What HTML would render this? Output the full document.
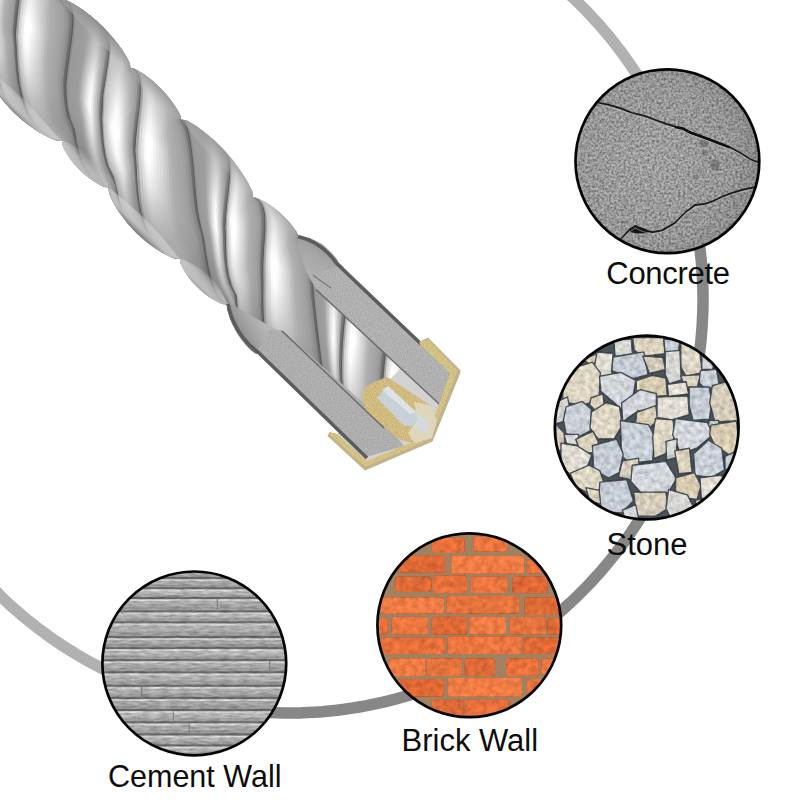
<!DOCTYPE html><html><head><meta charset="utf-8"><style>html,body{margin:0;padding:0;background:#fff;}svg{display:block;}text{font-family:"Liberation Sans",sans-serif;}</style></head><body>
<svg width="800" height="800" viewBox="0 0 800 800">
<rect width="800" height="800" fill="#fff"/>
<path d="M430.6,-90.0 L436.2,-87.9 L441.9,-85.7 L447.4,-83.5 L453.0,-81.1 L458.5,-78.7 L464.0,-76.2 L469.4,-73.6 L474.8,-71.0 L480.2,-68.2 L485.5,-65.4 L490.8,-62.5 L496.0,-59.5 L501.2,-56.5 L506.3,-53.4 L511.4,-50.2 L516.5,-46.9 L521.5,-43.5 L526.5,-40.1 L531.4,-36.6 L536.2,-33.1 L541.0,-29.4 L545.8,-25.7 L550.5,-22.0 L555.1,-18.1 L559.7,-14.2 L564.2,-10.3 L568.7,-6.2 L573.1,-2.1 L577.5,2.0 L581.7,6.3 L586.0,10.5 L590.1,14.9 L594.2,19.3 L598.3,23.8 L602.2,28.3 L606.1,32.9 L610.0,37.5 L613.7,42.2 L617.4,47.0 L621.1,51.8 L624.6,56.6 L628.1,61.5 L631.5,66.5 L634.9,71.5 L638.2,76.6 L641.4,81.7 L644.5,86.8 L647.5,92.0 L650.5,97.2 L653.4,102.5 L656.2,107.8 L659.0,113.2 L661.6,118.6 L664.2,124.0 L666.7,129.5 L669.1,135.0 L671.5,140.6 L673.7,146.1 L675.9,151.8 L678.0,157.4" fill="none" stroke="#b1b1b1" stroke-width="11.5"/>
<path d="M678.0,157.4 L680.5,164.4 L682.9,171.5 L685.1,178.6 L687.2,185.8 L689.2,193.0 L691.0,200.2 L692.8,207.5 L694.3,214.8 L695.8,222.1 L697.1,229.5 L698.3,236.9 L699.4,244.2 L700.3,251.7 L701.1,259.1 L701.7,266.5 L702.2,274.0 L702.6,281.4 L702.9,288.9 L703.0,296.4 L703.0,303.8 L702.8,311.3 L702.5,318.7 L702.1,326.2 L701.5,333.6 L700.9,341.1 L700.0,348.5 L699.1,355.9 L698.0,363.3 L696.8,370.7 L695.4,378.0 L693.9,385.3 L692.3,392.6 L690.5,399.9 L688.6,407.1 L686.6,414.3 L684.5,421.4 L682.2,428.5 L679.8,435.6 L677.3,442.6 L674.6,449.6 L671.9,456.5 L669.0,463.4 L665.9,470.2 L662.8,477.0 L659.5,483.7 L656.1,490.4 L652.6,497.0 L649.0,503.5 L645.2,510.0 L641.4,516.3 L637.4,522.7 L633.3,528.9 L629.1,535.1 L624.8,541.2 L620.4,547.2 L615.8,553.1 L611.2,559.0 L606.5,564.7 L601.6,570.4 L596.7,576.0 L591.6,581.5 L586.5,586.9 L581.2,592.3 L575.9,597.5 L570.5,602.6 L564.9,607.6 L559.3,612.6 L553.6,617.4 L547.9,622.1 L542.0,626.7 L536.0,631.2 L530.0,635.6 L523.9,639.9 L517.7,644.1 L511.4,648.2 L505.1,652.1 L498.7,656.0 L492.2,659.7 L485.7,663.3 L479.1,666.8 L472.4,670.1 L465.7,673.4 L458.9,676.5 L452.1,679.5 L445.2,682.4 L438.3,685.2 L431.3,687.8 L424.2,690.3 L417.2,692.7 L410.0,694.9 L402.9,697.0 L395.7,699.0 L388.5,700.9 L381.2,702.6 L373.9,704.2 L366.6,705.7 L359.2,707.0 L351.9,708.2 L344.5,709.3 L337.1,710.2 L329.6,711.0 L322.2,711.7 L314.8,712.2 L307.3,712.6 L299.8,712.9 L292.4,713.0 L284.9,713.0 L277.4,712.8 L270.0,712.6 L262.5,712.2 L255.1,711.6 L247.6,710.9 L240.2,710.1 L232.8,709.2 L225.4,708.1 L218.1,706.9 L210.7,705.5 L203.4,704.1 L196.1,702.4 L188.8,700.7" fill="none" stroke="#878787" stroke-width="11.5"/>
<path d="M188.8,700.7 L183.5,699.3 L178.1,697.9 L172.8,696.4 L167.5,694.8 L162.2,693.1 L157.0,691.4 L151.7,689.6 L146.5,687.7 L141.3,685.8 L136.1,683.7 L131.0,681.7 L125.9,679.5 L120.8,677.3 L115.8,675.0 L110.8,672.7 L105.8,670.3 L100.8,667.8 L95.9,665.2 L91.0,662.6 L86.2,659.9 L81.4,657.2 L76.6,654.4 L71.9,651.5 L67.2,648.6 L62.5,645.6 L57.9,642.5 L53.3,639.4 L48.8,636.2 L44.3,632.9 L39.8,629.6 L35.4,626.3 L31.1,622.8 L26.8,619.4 L22.5,615.8 L18.3,612.2 L14.1,608.6 L10.0,604.9 L5.9,601.1 L1.9,597.3 L-2.0,593.4 L-5.9,589.5 L-9.8,585.5 L-13.6,581.5 L-17.4,577.4 L-21.1,573.3 L-24.7,569.2 L-28.3,564.9 L-31.8,560.7 L-35.3,556.3 L-38.7,552.0 L-42.1,547.6 L-45.4,543.1 L-48.6,538.6 L-51.8,534.1 L-54.9,529.5 L-57.9,524.9 L-60.9,520.2 L-63.9,515.5 L-66.7,510.8 L-69.5,506.0" fill="none" stroke="#b1b1b1" stroke-width="11.5"/>
<g transform="translate(296,305.5) rotate(44)">
<g clip-path="url(#drillclip)">
<rect x="-700" y="-70" width="900" height="140" fill="#a0a0a0"/>
<path d="M-784.0 -85.0 -784.0 -60.0 -779.3 -59.3 -774.5 -57.1 -769.5 -53.5 -764.3 -48.5 -758.8 -42.4 -752.8 -35.3 -746.4 -27.2 -739.5 -18.5 -732.0 -9.4 -724.0 -0.0 -715.4 6.3 -706.3 12.4 -696.6 19.6 -686.4 27.7 -675.8 35.0 -664.7 41.2 -653.3 45.7 -641.7 47.9 -629.9 47.7 -618.0 44.3 -618.0 69.3 -613.3 67.1 -613.3 42.1 -625.2 46.5 -637.0 47.3 -648.6 45.5 -660.0 41.4 -671.1 35.5 -681.7 28.4 -691.9 20.5 -701.6 12.4 -710.7 6.3 -719.3 -0.0 -727.3 -9.4 -734.8 -18.5 -741.7 -27.2 -748.1 -35.3 -754.1 -42.4 -759.6 -48.5 -764.8 -53.5 -769.8 -57.1 -774.6 -59.3 -779.3 -60.0 -779.3 -85.0Z" fill="url(#dg1)"/>
<path d="M-780.7 -85.0 -780.7 -60.0 -776.0 -59.3 -771.2 -57.1 -766.2 -53.5 -761.0 -48.5 -755.5 -42.4 -749.5 -35.3 -743.1 -27.2 -736.2 -18.5 -728.7 -9.4 -720.7 -0.0 -712.1 6.3 -703.0 12.4 -693.3 20.3 -683.1 28.2 -672.5 35.4 -661.4 41.4 -650.0 45.6 -638.4 47.5 -626.6 46.9 -614.7 42.2 -614.7 67.2 -610.0 69.1 -610.0 44.1 -621.9 45.4 -633.7 46.7 -645.3 45.3 -656.7 41.5 -667.8 35.8 -678.4 28.8 -688.6 21.1 -698.3 13.0 -707.4 6.3 -716.0 -0.0 -724.0 -9.4 -731.5 -18.5 -738.4 -27.2 -744.8 -35.3 -750.8 -42.4 -756.3 -48.5 -761.5 -53.5 -766.5 -57.1 -771.3 -59.3 -776.0 -60.0 -776.0 -85.0Z" fill="url(#dg2)"/>
<path d="M-777.4 -85.0 -777.4 -60.0 -772.7 -59.3 -767.9 -57.1 -762.9 -53.5 -757.7 -48.5 -752.2 -42.4 -746.2 -35.3 -739.8 -27.2 -732.9 -18.5 -725.4 -9.4 -717.4 -0.0 -708.8 6.3 -699.7 12.6 -690.0 20.8 -679.8 28.6 -669.2 35.7 -658.1 41.4 -646.7 45.4 -635.1 47.0 -623.3 45.9 -611.4 43.4 -611.4 68.4 -606.7 70.5 -606.7 45.5 -618.6 44.1 -630.4 46.1 -642.0 45.0 -653.4 41.5 -664.5 36.0 -675.1 29.2 -685.3 21.5 -695.0 13.6 -704.1 6.3 -712.7 -0.0 -720.7 -9.4 -728.2 -18.5 -735.1 -27.2 -741.5 -35.3 -747.5 -42.4 -753.0 -48.5 -758.2 -53.5 -763.2 -57.1 -768.0 -59.3 -772.7 -60.0 -772.7 -85.0Z" fill="url(#dg3)"/>
<path d="M-774.1 -85.0 -774.1 -60.0 -769.4 -59.3 -764.6 -57.1 -759.6 -53.5 -754.4 -48.5 -748.9 -42.4 -742.9 -35.3 -736.5 -27.2 -729.6 -18.5 -722.1 -9.4 -714.1 -0.0 -705.5 6.3 -696.4 13.4 -686.7 21.3 -676.5 29.0 -665.9 35.9 -654.8 41.5 -643.4 45.1 -631.8 46.4 -620.0 44.7 -608.1 45.0 -608.1 70.0 -603.4 71.6 -603.4 46.6 -615.3 42.2 -627.1 45.3 -638.7 44.6 -650.1 41.4 -661.2 36.2 -671.8 29.5 -682.0 21.9 -691.7 14.0 -700.8 6.3 -709.4 -0.0 -717.4 -9.4 -724.9 -18.5 -731.8 -27.2 -738.2 -35.3 -744.2 -42.4 -749.7 -48.5 -754.9 -53.5 -759.9 -57.1 -764.7 -59.3 -769.4 -60.0 -769.4 -85.0Z" fill="url(#dg4)"/>
<path d="M-770.8 -85.0 -770.8 -60.0 -766.1 -59.3 -761.3 -57.1 -756.3 -53.5 -751.1 -48.5 -745.6 -42.4 -739.6 -35.3 -733.2 -27.2 -726.3 -18.5 -718.8 -9.4 -710.8 -0.0 -702.2 6.3 -693.1 13.8 -683.4 21.7 -673.2 29.3 -662.6 36.1 -651.5 41.4 -640.1 44.7 -628.5 45.6 -616.7 43.1 -604.8 46.1 -604.8 71.1 -600.1 72.5 -600.1 47.5 -612.0 42.5 -623.8 44.3 -635.4 44.1 -646.8 41.2 -657.9 36.2 -668.5 29.7 -678.7 22.2 -688.4 14.4 -697.5 6.7 -706.1 -0.0 -714.1 -9.4 -721.6 -18.5 -728.5 -27.2 -734.9 -35.3 -740.9 -42.4 -746.4 -48.5 -751.6 -53.5 -756.6 -57.1 -761.4 -59.3 -766.1 -60.0 -766.1 -85.0Z" fill="url(#dg5)"/>
<path d="M-767.5 -85.0 -767.5 -60.0 -762.8 -59.3 -758.0 -57.1 -753.0 -53.5 -747.8 -48.5 -742.3 -42.4 -736.3 -35.3 -729.9 -27.2 -723.0 -18.5 -715.5 -9.4 -707.5 -0.0 -698.9 6.5 -689.8 14.2 -680.1 22.1 -669.9 29.6 -659.3 36.2 -648.2 41.3 -636.8 44.3 -625.2 44.8 -613.4 41.5 -601.5 47.1 -601.5 72.1 -596.8 73.2 -596.8 48.2 -608.7 44.2 -620.5 43.2 -632.1 43.5 -643.5 41.0 -654.6 36.2 -665.2 29.9 -675.4 22.5 -685.1 14.7 -694.2 6.9 -702.8 -0.0 -710.8 -9.4 -718.3 -18.5 -725.2 -27.2 -731.6 -35.3 -737.6 -42.4 -743.1 -48.5 -748.3 -53.5 -753.3 -57.1 -758.1 -59.3 -762.8 -60.0 -762.8 -85.0Z" fill="url(#dg6)"/>
<path d="M-764.2 -85.0 -764.2 -60.0 -759.5 -59.3 -754.7 -57.1 -749.7 -53.5 -744.5 -48.5 -739.0 -42.4 -733.0 -35.3 -726.6 -27.2 -719.7 -18.5 -712.2 -9.4 -704.2 -0.0 -695.6 6.8 -686.5 14.5 -676.8 22.4 -666.6 29.8 -656.0 36.2 -644.9 41.1 -633.5 43.8 -621.9 43.7 -610.1 43.5 -598.2 47.9 -598.2 72.9 -593.5 73.8 -593.5 48.8 -605.4 45.4 -617.2 41.8 -628.8 42.8 -640.2 40.6 -651.3 36.2 -661.9 30.0 -672.1 22.7 -681.8 14.9 -690.9 7.1 -699.5 -0.0 -707.5 -9.4 -715.0 -18.5 -721.9 -27.2 -728.3 -35.3 -734.3 -42.4 -739.8 -48.5 -745.0 -53.5 -750.0 -57.1 -754.8 -59.3 -759.5 -60.0 -759.5 -85.0Z" fill="url(#dg7)"/>
<path d="M-760.9 -85.0 -760.9 -60.0 -756.2 -59.3 -751.4 -57.1 -746.4 -53.5 -741.2 -48.5 -735.7 -42.4 -729.7 -35.3 -723.3 -27.2 -716.4 -18.5 -708.9 -9.4 -700.9 -0.0 -692.3 7.0 -683.2 14.8 -673.5 22.6 -663.3 30.0 -652.7 36.2 -641.6 40.8 -630.2 43.1 -618.6 42.4 -606.8 44.9 -594.9 48.6 -594.9 73.6 -590.2 74.3 -590.2 49.3 -602.1 46.4 -613.9 39.3 -625.5 42.0 -636.9 40.2 -648.0 36.1 -658.6 30.1 -668.8 22.9 -678.5 15.1 -687.6 7.3 -696.2 -0.0 -704.2 -9.4 -711.7 -18.5 -718.6 -27.2 -725.0 -35.3 -731.0 -42.4 -736.5 -48.5 -741.7 -53.5 -746.7 -57.1 -751.5 -59.3 -756.2 -60.0 -756.2 -85.0Z" fill="url(#dg8)"/>
<path d="M-757.6 -85.0 -757.6 -60.0 -752.9 -59.3 -748.1 -57.1 -743.1 -53.5 -737.9 -48.5 -732.4 -42.4 -726.4 -35.3 -720.0 -27.2 -713.1 -18.5 -705.6 -9.4 -697.6 -0.0 -689.0 7.2 -679.9 15.0 -670.2 22.9 -660.0 30.1 -649.4 36.1 -638.3 40.4 -626.9 42.4 -615.3 40.6 -603.5 46.0 -591.6 49.1 -591.6 74.1 -586.9 74.6 -586.9 49.6 -598.8 47.2 -610.6 41.7 -622.2 41.1 -633.6 39.7 -644.7 35.9 -655.3 30.1 -665.5 23.1 -675.2 15.3 -684.3 7.5 -692.9 -0.0 -700.9 -9.4 -708.4 -18.5 -715.3 -27.2 -721.7 -35.3 -727.7 -42.4 -733.2 -48.5 -738.4 -53.5 -743.4 -57.1 -748.2 -59.3 -752.9 -60.0 -752.9 -85.0Z" fill="url(#dg9)"/>
<path d="M-754.3 -85.0 -754.3 -60.0 -749.6 -59.3 -744.8 -57.1 -739.8 -53.5 -734.6 -48.5 -729.1 -42.4 -723.1 -35.3 -716.7 -27.2 -709.8 -18.5 -702.3 -9.4 -694.3 -0.0 -685.7 7.4 -676.6 15.3 -666.9 23.0 -656.7 30.1 -646.1 36.0 -635.0 40.0 -623.6 41.5 -612.0 41.0 -600.2 46.8 -588.3 49.5 -588.3 74.5 -583.6 74.9 -583.6 49.9 -595.5 47.9 -607.3 43.0 -618.9 39.9 -630.3 39.2 -641.4 35.6 -652.0 30.1 -662.2 23.2 -671.9 15.5 -681.0 7.6 -689.6 -0.0 -697.6 -9.7 -705.1 -18.5 -712.0 -27.2 -718.4 -35.3 -724.4 -42.4 -729.9 -48.5 -735.1 -53.5 -740.1 -57.1 -744.9 -59.3 -749.6 -60.0 -749.6 -85.0Z" fill="url(#dg10)"/>
<path d="M-751.0 -85.0 -751.0 -60.0 -746.3 -59.3 -741.5 -57.1 -736.5 -53.5 -731.3 -48.5 -725.8 -42.4 -719.8 -35.3 -713.4 -27.2 -706.5 -18.5 -699.0 -9.6 -691.0 -0.0 -682.4 7.5 -673.3 15.4 -663.6 23.1 -653.4 30.1 -642.8 35.7 -631.7 39.4 -620.3 40.4 -608.7 42.5 -596.9 47.6 -585.0 49.8 -585.0 74.8 -580.3 75.0 -580.3 50.0 -592.2 48.4 -604.0 44.1 -615.6 38.3 -627.0 38.5 -638.1 35.3 -648.7 30.0 -658.9 23.3 -668.6 15.6 -677.7 7.7 -686.3 -0.0 -694.3 -9.9 -701.8 -18.5 -708.7 -27.2 -715.1 -35.3 -721.1 -42.4 -726.6 -48.5 -731.8 -53.5 -736.8 -57.1 -741.6 -59.3 -746.3 -60.0 -746.3 -85.0Z" fill="url(#dg11)"/>
<path d="M-747.7 -85.0 -747.7 -60.0 -743.0 -59.3 -738.2 -57.1 -733.2 -53.5 -728.0 -48.5 -722.5 -42.4 -716.5 -35.3 -710.1 -27.2 -703.2 -18.5 -695.7 -9.8 -687.7 -0.0 -679.1 7.6 -670.0 15.6 -660.3 23.2 -650.1 30.1 -639.5 35.4 -628.4 38.8 -617.0 39.1 -605.4 43.7 -593.6 48.2 -581.7 50.0 -581.7 75.0 -577.0 75.0 -577.0 50.0 -588.9 48.8 -600.7 45.0 -612.3 38.2 -623.7 37.7 -634.8 34.9 -645.4 29.9 -655.6 23.3 -665.3 15.7 -674.4 7.8 -683.0 -0.0 -691.0 -10.0 -698.5 -19.0 -705.4 -27.2 -711.8 -35.3 -717.8 -42.4 -723.3 -48.5 -728.5 -53.5 -733.5 -57.1 -738.3 -59.3 -743.0 -60.0 -743.0 -85.0Z" fill="url(#dg12)"/>
<path d="M-744.4 -85.0 -744.4 -60.0 -739.7 -59.3 -734.9 -57.1 -729.9 -53.5 -724.7 -48.5 -719.2 -42.4 -713.2 -35.3 -706.8 -27.2 -699.9 -18.6 -692.4 -10.0 -684.4 -0.0 -675.8 7.7 -666.7 15.7 -657.0 23.3 -646.8 29.9 -636.2 35.1 -625.1 38.0 -613.7 37.1 -602.1 44.6 -590.3 48.7 -578.4 50.0 -578.4 75.0 -573.7 74.9 -573.7 49.9 -585.6 49.1 -597.4 45.7 -609.0 39.7 -620.4 36.7 -631.5 34.4 -642.1 29.7 -652.3 23.2 -662.0 15.8 -671.1 7.9 -679.7 -0.0 -687.7 -10.2 -695.2 -19.4 -702.1 -27.2 -708.5 -35.3 -714.5 -42.4 -720.0 -48.5 -725.2 -53.5 -730.2 -57.1 -735.0 -59.3 -739.7 -60.0 -739.7 -85.0Z" fill="url(#dg13)"/>
<path d="M-741.1 -85.0 -741.1 -60.0 -736.4 -59.3 -731.6 -57.1 -726.6 -53.5 -721.4 -48.5 -715.9 -42.4 -709.9 -35.3 -703.5 -27.2 -696.6 -19.3 -689.1 -10.1 -681.1 -0.0 -672.5 7.8 -663.4 15.8 -653.7 23.3 -643.5 29.8 -632.9 34.6 -621.8 37.2 -610.4 39.1 -598.8 45.4 -587.0 49.0 -575.1 49.9 -575.1 74.9 -570.4 74.6 -570.4 49.6 -582.3 49.3 -594.1 46.3 -605.7 40.8 -617.1 35.5 -628.2 33.9 -638.8 29.4 -649.0 23.2 -658.7 15.8 -667.8 7.9 -676.4 -0.0 -684.4 -10.3 -691.9 -19.8 -698.8 -27.8 -705.2 -35.3 -711.2 -42.4 -716.7 -48.5 -721.9 -53.5 -726.9 -57.1 -731.7 -59.3 -736.4 -60.0 -736.4 -85.0Z" fill="url(#dg14)"/>
<path d="M-737.8 -85.0 -737.8 -60.0 -733.1 -59.3 -728.3 -57.1 -723.3 -53.5 -718.1 -48.5 -712.6 -42.4 -706.6 -35.3 -700.2 -27.2 -693.3 -19.6 -685.8 -10.2 -677.8 -0.0 -669.2 7.9 -660.1 15.8 -650.4 23.2 -640.2 29.5 -629.6 34.1 -618.5 36.1 -607.1 40.4 -595.5 46.1 -583.7 49.3 -571.8 49.8 -571.8 74.8 -567.1 74.3 -567.1 49.3 -579.0 49.4 -590.8 46.8 -602.4 41.7 -613.8 33.6 -624.9 33.2 -635.5 29.1 -645.7 23.1 -655.4 15.8 -664.5 8.0 -673.1 -0.0 -681.1 -10.4 -688.6 -20.0 -695.5 -28.5 -701.9 -35.3 -707.9 -42.4 -713.4 -48.5 -718.6 -53.5 -723.6 -57.1 -728.4 -59.3 -733.1 -60.0 -733.1 -85.0Z" fill="url(#dg15)"/>
<path d="M-734.5 -85.0 -734.5 -60.0 -729.8 -59.3 -725.0 -57.1 -720.0 -53.5 -714.8 -48.5 -709.3 -42.4 -703.3 -35.3 -696.9 -28.3 -690.0 -19.9 -682.5 -10.3 -674.5 -0.0 -665.9 7.9 -656.8 15.8 -647.1 23.1 -636.9 29.2 -626.3 33.5 -615.2 34.5 -603.8 41.4 -592.2 46.6 -580.4 49.4 -568.5 49.4 -568.5 74.4 -563.8 73.8 -563.8 48.8 -575.7 49.3 -587.5 47.2 -599.1 42.5 -610.5 35.5 -621.6 32.4 -632.2 28.7 -642.4 22.9 -652.1 15.8 -661.2 8.0 -669.8 -0.0 -677.8 -10.4 -685.3 -20.2 -692.2 -29.0 -698.6 -36.1 -704.6 -42.4 -710.1 -48.5 -715.3 -53.5 -720.3 -57.1 -725.1 -59.3 -729.8 -60.0 -729.8 -85.0Z" fill="url(#dg16)"/>
<path d="M-731.2 -85.0 -731.2 -60.0 -726.5 -59.3 -721.7 -57.1 -716.7 -53.5 -711.5 -48.5 -706.0 -42.4 -700.0 -35.3 -693.6 -28.8 -686.7 -20.1 -679.2 -10.4 -671.2 -0.0 -662.6 8.0 -653.5 15.8 -643.8 23.0 -633.6 28.9 -623.0 32.8 -611.9 34.9 -600.5 42.2 -588.9 47.0 -577.1 49.4 -565.2 49.0 -565.2 74.0 -560.5 73.2 -560.5 48.2 -572.4 49.2 -584.2 47.4 -595.8 43.1 -607.2 36.6 -618.3 31.4 -628.9 28.3 -639.1 22.7 -648.8 15.8 -657.9 8.0 -666.5 -0.0 -674.5 -10.5 -682.0 -20.4 -688.9 -29.4 -695.3 -36.9 -701.3 -42.4 -706.8 -48.5 -712.0 -53.5 -717.0 -57.1 -721.8 -59.3 -726.5 -60.0 -726.5 -85.0Z" fill="url(#dg17)"/>
<path d="M-727.9 -85.0 -727.9 -60.0 -723.2 -59.3 -718.4 -57.1 -713.4 -53.5 -708.2 -48.5 -702.7 -42.4 -696.7 -36.6 -690.3 -29.2 -683.4 -20.3 -675.9 -10.5 -667.9 -0.0 -659.3 8.0 -650.2 15.8 -640.5 22.8 -630.3 28.5 -619.7 31.9 -608.6 36.2 -597.2 42.9 -585.6 47.3 -573.8 49.3 -561.9 48.5 -561.9 73.5 -557.2 72.4 -557.2 47.4 -569.1 48.9 -580.9 47.5 -592.5 43.6 -603.9 37.5 -615.0 30.0 -625.6 27.7 -635.8 22.5 -645.5 15.7 -654.6 8.0 -663.2 -0.0 -671.2 -10.5 -678.7 -20.6 -685.6 -29.7 -692.0 -37.6 -698.0 -43.7 -703.5 -48.5 -708.7 -53.5 -713.7 -57.1 -718.5 -59.3 -723.2 -60.0 -723.2 -85.0Z" fill="url(#dg18)"/>
<path d="M-724.6 -85.0 -724.6 -60.0 -719.9 -59.3 -715.1 -57.1 -710.1 -53.5 -704.9 -48.5 -699.4 -43.0 -693.4 -37.3 -687.0 -29.6 -680.1 -20.5 -672.6 -10.5 -664.6 -0.0 -656.0 8.0 -646.9 15.7 -637.2 22.6 -627.0 28.0 -616.4 30.7 -605.3 37.2 -593.9 43.4 -582.3 47.5 -570.5 49.0 -558.6 47.8 -558.6 72.8 -553.9 71.5 -553.9 46.5 -565.8 48.5 -577.6 47.6 -589.2 44.0 -600.6 38.3 -611.7 30.6 -622.3 27.1 -632.5 22.2 -642.2 15.6 -651.3 8.0 -659.9 -0.0 -667.9 -10.6 -675.4 -20.7 -682.3 -30.0 -688.7 -38.0 -694.7 -44.6 -700.2 -48.5 -705.4 -53.5 -710.4 -57.1 -715.2 -59.3 -719.9 -60.0 -719.9 -85.0Z" fill="url(#dg19)"/>
<path d="M-721.3 -85.0 -721.3 -60.0 -716.6 -59.3 -711.8 -57.1 -706.8 -53.5 -701.6 -48.5 -696.1 -44.3 -690.1 -37.9 -683.7 -29.8 -676.8 -20.6 -669.3 -10.6 -661.3 -0.0 -652.7 8.0 -643.6 15.6 -633.9 22.3 -623.7 27.4 -613.1 29.9 -602.0 38.0 -590.6 43.9 -579.0 47.6 -567.2 48.7 -555.3 46.9 -555.3 71.9 -550.6 70.3 -550.6 45.3 -562.5 48.0 -574.3 47.5 -585.9 44.3 -597.3 38.9 -608.4 31.7 -619.0 26.3 -629.2 21.9 -638.9 15.5 -648.0 8.0 -656.6 -0.0 -664.6 -10.6 -672.1 -20.8 -679.0 -30.2 -685.4 -38.5 -691.4 -45.3 -696.9 -50.3 -702.1 -53.5 -707.1 -57.1 -711.9 -59.3 -716.6 -60.0 -716.6 -85.0Z" fill="url(#dg20)"/>
<path d="M-718.0 -85.0 -718.0 -60.0 -713.3 -59.3 -708.5 -57.1 -703.5 -53.5 -698.3 -49.8 -692.8 -45.0 -686.8 -38.3 -680.4 -30.1 -673.5 -20.7 -666.0 -10.6 -658.0 -0.0 -649.4 8.0 -640.3 15.5 -630.6 22.0 -620.4 26.7 -609.8 31.3 -598.7 38.7 -587.3 44.2 -575.7 47.5 -563.9 48.2 -552.0 45.8 -552.0 70.8 -547.7 68.8 -547.7 43.8 -559.6 47.4 -571.4 47.3 -583.0 44.5 -594.4 39.4 -605.5 32.5 -616.1 25.4 -626.3 21.5 -636.0 15.3 -645.1 7.9 -653.7 -0.0 -661.7 -10.6 -669.2 -20.8 -676.1 -30.3 -682.5 -38.8 -688.5 -45.8 -694.0 -51.2 -699.2 -54.3 -704.2 -57.1 -709.0 -59.3 -713.7 -60.0 -713.7 -85.0Z" fill="url(#dg1)"/>
<path d="M-715.1 -85.0 -715.1 -60.0 -710.4 -59.3 -705.6 -57.1 -700.6 -53.5 -695.4 -50.8 -689.9 -45.6 -683.9 -38.6 -677.5 -30.3 -670.6 -20.8 -663.1 -10.6 -655.1 -0.0 -646.5 8.0 -637.4 15.4 -627.7 21.7 -617.5 25.9 -606.9 32.1 -595.8 39.1 -584.4 44.4 -572.8 47.4 -561.0 47.7 -549.1 44.6 -549.1 69.6 -544.8 68.7 -544.8 43.7 -556.7 46.7 -568.5 47.0 -580.1 44.5 -591.5 39.7 -602.6 33.1 -613.2 24.8 -623.4 21.1 -633.1 15.1 -642.2 7.9 -650.8 -0.0 -658.8 -10.6 -666.3 -20.9 -673.2 -30.5 -679.6 -39.0 -685.6 -46.2 -691.1 -51.9 -696.3 -55.7 -701.3 -57.1 -706.1 -59.3 -710.8 -60.0 -710.8 -85.0Z" fill="url(#dg2)"/>
<path d="M-712.2 -85.0 -712.2 -60.0 -707.5 -59.3 -702.7 -57.1 -697.7 -55.1 -692.5 -51.6 -687.0 -46.0 -681.0 -38.9 -674.6 -30.4 -667.7 -20.9 -660.2 -10.6 -652.2 -0.0 -643.6 7.9 -634.5 15.2 -624.8 21.3 -614.6 24.7 -604.0 32.8 -592.9 39.6 -581.5 44.5 -569.9 47.2 -558.1 47.0 -546.2 42.5 -546.2 67.5 -541.9 70.6 -541.9 45.6 -553.8 45.9 -565.6 46.7 -577.2 44.5 -588.6 40.0 -599.7 33.6 -610.3 25.9 -620.5 20.6 -630.2 15.0 -639.3 7.8 -647.9 -0.0 -655.9 -10.6 -663.4 -20.9 -670.3 -30.6 -676.7 -39.2 -682.7 -46.6 -688.2 -52.5 -693.4 -56.6 -698.4 -58.5 -703.2 -59.3 -707.9 -60.0 -707.9 -85.0Z" fill="url(#dg3)"/>
<path d="M-709.3 -85.0 -709.3 -60.0 -704.6 -59.3 -699.8 -57.5 -694.8 -56.2 -689.6 -52.2 -684.1 -46.4 -678.1 -39.1 -671.7 -30.5 -664.8 -20.9 -657.3 -10.6 -649.3 -0.0 -640.7 7.9 -631.6 15.0 -621.9 20.9 -611.7 25.4 -601.1 33.4 -590.0 39.9 -578.6 44.6 -567.0 46.9 -555.2 46.3 -543.3 44.8 -543.3 69.8 -539.0 72.0 -539.0 47.0 -550.9 44.8 -562.7 46.2 -574.3 44.5 -585.7 40.2 -596.8 34.1 -607.4 26.6 -617.6 20.0 -627.3 14.7 -636.4 7.8 -645.0 -0.0 -653.0 -10.6 -660.5 -20.9 -667.4 -30.7 -673.8 -39.4 -679.8 -46.9 -685.3 -52.9 -690.5 -57.3 -695.5 -59.7 -700.3 -59.3 -705.0 -60.0 -705.0 -85.0Z" fill="url(#dg4)"/>
<path d="M-706.4 -85.0 -706.4 -60.0 -701.7 -59.3 -696.9 -59.2 -691.9 -56.9 -686.7 -52.7 -681.2 -46.8 -675.2 -39.3 -668.8 -30.6 -661.9 -20.9 -654.4 -10.6 -646.4 -0.0 -637.8 7.8 -628.7 14.8 -619.0 20.3 -608.8 26.3 -598.2 33.9 -587.1 40.1 -575.7 44.5 -564.1 46.5 -552.3 45.4 -540.4 46.3 -540.4 71.3 -536.1 73.1 -536.1 48.1 -548.0 43.5 -559.8 45.7 -571.4 44.3 -582.8 40.4 -593.9 34.5 -604.5 27.2 -614.7 19.1 -624.4 14.5 -633.5 7.7 -642.1 -0.0 -650.1 -10.5 -657.6 -20.9 -664.5 -30.7 -670.9 -39.6 -676.9 -47.2 -682.4 -53.4 -687.6 -57.9 -692.6 -60.6 -697.4 -61.3 -702.1 -60.0 -702.1 -85.0Z" fill="url(#dg5)"/>
<path d="M-703.5 -85.0 -703.5 -60.0 -698.8 -60.5 -694.0 -60.2 -689.0 -57.6 -683.8 -53.2 -678.3 -47.1 -672.3 -39.5 -665.9 -30.7 -659.0 -20.9 -651.5 -10.5 -643.5 -0.0 -634.9 7.7 -625.8 14.6 -616.1 19.6 -605.9 26.9 -595.3 34.3 -584.2 40.3 -572.8 44.4 -561.2 46.0 -549.4 44.2 -537.5 47.6 -537.5 72.6 -533.2 74.1 -533.2 49.1 -545.1 42.9 -556.9 45.0 -568.5 44.1 -579.9 40.5 -591.0 34.8 -601.6 27.7 -611.8 19.6 -621.5 14.2 -630.6 7.6 -639.2 -0.0 -647.2 -10.5 -654.7 -20.9 -661.6 -30.7 -668.0 -39.7 -674.0 -47.4 -679.5 -53.7 -684.7 -58.4 -689.7 -61.3 -694.5 -62.4 -699.2 -61.0 -699.2 -86.0Z" fill="url(#dg6)"/>
<path d="M-700.6 -85.0 -700.6 -60.0 -695.9 -61.9 -691.1 -61.0 -686.1 -58.2 -680.9 -53.6 -675.4 -47.3 -669.4 -39.6 -663.0 -30.7 -656.1 -20.9 -648.6 -10.5 -640.6 -0.0 -632.0 7.6 -622.9 14.3 -613.2 19.2 -603.0 27.4 -592.4 34.6 -581.3 40.4 -569.9 44.2 -558.3 45.3 -546.5 42.3 -534.6 48.6 -534.6 73.6 -530.3 74.9 -530.3 49.9 -542.2 44.9 -554.0 44.2 -565.6 43.7 -577.0 40.4 -588.1 35.0 -598.7 28.1 -608.9 20.3 -618.6 13.8 -627.7 7.5 -636.3 -0.0 -644.3 -10.4 -651.8 -20.8 -658.7 -30.7 -665.1 -39.8 -671.1 -47.6 -676.6 -54.0 -681.8 -58.9 -686.8 -62.0 -691.6 -63.2 -696.3 -62.5 -696.3 -87.5Z" fill="url(#dg7)"/>
<path d="M-697.7 -86.9 -697.7 -61.9 -693.0 -62.8 -688.2 -61.7 -683.2 -58.6 -678.0 -53.9 -672.5 -47.5 -666.5 -39.7 -660.1 -30.7 -653.2 -20.9 -645.7 -10.5 -637.7 -0.0 -629.1 7.5 -620.0 14.0 -610.3 20.0 -600.1 27.9 -589.5 34.9 -578.4 40.5 -567.0 43.9 -555.4 44.6 -543.6 44.1 -531.7 49.5 -531.7 74.5 -527.4 75.7 -527.4 50.7 -539.3 46.3 -551.1 43.3 -562.7 43.3 -574.1 40.4 -585.2 35.2 -595.8 28.4 -606.0 20.8 -615.7 13.3 -624.8 7.3 -633.4 -0.0 -641.4 -10.4 -648.9 -20.8 -655.8 -30.7 -662.2 -39.8 -668.2 -47.7 -673.7 -54.3 -678.9 -59.2 -683.9 -62.5 -688.7 -63.9 -693.4 -63.5 -693.4 -88.5Z" fill="url(#dg8)"/>
<path d="M-694.8 -88.0 -694.8 -63.0 -690.1 -63.6 -685.3 -62.2 -680.3 -59.1 -675.1 -54.2 -669.6 -47.7 -663.6 -39.8 -657.2 -30.7 -650.3 -20.8 -642.8 -10.4 -634.8 -0.0 -626.2 7.4 -617.1 13.6 -607.4 20.5 -597.2 28.3 -586.6 35.1 -575.5 40.4 -564.1 43.5 -552.5 43.7 -540.7 45.6 -528.8 50.3 -528.8 75.3 -524.5 76.4 -524.5 51.4 -536.4 47.4 -548.2 42.0 -559.8 42.8 -571.2 40.2 -582.3 35.3 -592.9 28.7 -603.1 21.2 -612.8 13.1 -621.9 7.2 -630.5 -0.0 -638.5 -10.3 -646.0 -20.7 -652.9 -30.6 -659.3 -39.8 -665.3 -47.8 -670.8 -54.5 -676.0 -59.6 -681.0 -62.9 -685.8 -64.5 -690.5 -64.3 -690.5 -89.3Z" fill="url(#dg9)"/>
<path d="M-691.9 -88.9 -691.9 -63.9 -687.2 -64.3 -682.4 -62.7 -677.4 -59.4 -672.2 -54.4 -666.7 -47.8 -660.7 -39.8 -654.3 -30.7 -647.4 -20.7 -639.9 -10.3 -631.9 -0.0 -623.3 7.3 -614.2 12.8 -604.5 21.0 -594.3 28.6 -583.7 35.3 -572.6 40.3 -561.2 43.1 -549.6 42.6 -537.8 46.9 -525.9 51.1 -525.9 76.1 -521.6 77.0 -521.6 52.0 -533.5 48.4 -545.3 41.1 -556.9 42.2 -568.3 40.0 -579.4 35.4 -590.0 29.0 -600.2 21.5 -609.9 13.7 -619.0 7.0 -627.6 -0.0 -635.6 -10.2 -643.1 -20.6 -650.0 -30.6 -656.4 -39.8 -662.4 -47.9 -667.9 -54.6 -673.1 -59.8 -678.1 -63.3 -682.9 -65.1 -687.6 -65.0 -687.6 -90.0Z" fill="url(#dg10)"/>
<path d="M-689.0 -89.7 -689.0 -64.7 -684.3 -64.8 -679.5 -63.2 -674.5 -59.7 -669.3 -54.6 -663.8 -47.9 -657.8 -39.8 -651.4 -30.6 -644.5 -20.6 -637.0 -10.3 -629.0 -0.0 -620.4 7.1 -611.3 13.4 -601.6 21.4 -591.4 28.9 -580.8 35.3 -569.7 40.1 -558.3 42.5 -546.7 41.0 -534.9 47.9 -523.0 51.7 -523.0 76.7 -518.7 77.5 -518.7 52.5 -530.6 49.2 -542.4 43.1 -554.0 41.4 -565.4 39.7 -576.5 35.3 -587.1 29.2 -597.3 21.8 -607.0 14.0 -616.1 6.8 -624.7 -0.0 -632.7 -10.1 -640.2 -20.4 -647.1 -30.4 -653.5 -39.7 -659.5 -47.9 -665.0 -54.7 -670.2 -60.0 -675.2 -63.7 -680.0 -65.5 -684.7 -65.6 -684.7 -90.6Z" fill="url(#dg11)"/>
<path d="M-686.1 -90.3 -686.1 -65.3 -681.4 -65.3 -676.6 -63.5 -671.6 -59.9 -666.4 -54.7 -660.9 -47.9 -654.9 -39.7 -648.5 -30.5 -641.6 -20.5 -634.1 -10.2 -626.1 -0.0 -617.5 6.9 -608.4 13.9 -598.7 21.7 -588.5 29.1 -577.9 35.4 -566.8 39.8 -555.4 41.8 -543.8 42.3 -532.0 48.8 -520.1 52.3 -520.1 77.3 -515.8 78.0 -515.8 53.0 -527.7 50.0 -539.5 44.5 -551.1 40.5 -562.5 39.3 -573.6 35.3 -584.2 29.3 -594.4 22.1 -604.1 14.3 -613.2 6.6 -621.8 -0.0 -629.8 -10.0 -637.3 -20.3 -644.2 -30.3 -650.6 -39.6 -656.6 -47.8 -662.1 -54.8 -667.3 -60.2 -672.3 -63.9 -677.1 -65.9 -681.8 -66.1 -681.8 -91.1Z" fill="url(#dg12)"/>
<path d="M-683.2 -90.8 -683.2 -65.8 -678.5 -65.7 -673.7 -63.8 -668.7 -60.1 -663.5 -54.8 -658.0 -47.9 -652.0 -39.6 -645.6 -30.4 -638.7 -20.4 -631.2 -10.1 -623.2 -0.0 -614.6 6.6 -605.5 14.2 -595.8 22.0 -585.6 29.2 -575.0 35.3 -563.9 39.5 -552.5 41.0 -540.9 43.8 -529.1 49.6 -517.2 52.7 -517.2 77.7 -512.9 78.3 -512.9 53.3 -524.8 50.7 -536.6 45.6 -548.2 39.3 -559.6 38.8 -570.7 35.1 -581.3 29.4 -591.5 22.3 -601.2 14.6 -610.3 6.9 -618.9 -0.0 -626.9 -9.9 -634.4 -20.1 -641.3 -30.1 -647.7 -39.4 -653.7 -47.8 -659.2 -54.8 -664.4 -60.3 -669.4 -64.1 -674.2 -66.2 -678.9 -66.5 -678.9 -91.5Z" fill="url(#dg13)"/>
<path d="M-680.3 -91.3 -680.3 -66.3 -675.6 -66.1 -670.8 -64.0 -665.8 -60.2 -660.6 -54.8 -655.1 -47.8 -649.1 -39.5 -642.7 -30.2 -635.8 -20.2 -628.3 -10.0 -620.3 -0.0 -611.7 6.8 -602.6 14.5 -592.9 22.2 -582.7 29.3 -572.1 35.2 -561.0 39.1 -549.6 40.0 -538.0 45.1 -526.2 50.4 -514.3 53.2 -514.3 78.2 -510.0 78.7 -510.0 53.7 -521.9 51.3 -533.7 46.5 -545.3 38.5 -556.7 38.3 -567.8 34.9 -578.4 29.4 -588.6 22.5 -598.3 14.8 -607.4 7.1 -616.0 -0.0 -624.0 -9.8 -631.5 -19.9 -638.4 -29.9 -644.8 -39.3 -650.8 -47.6 -656.3 -54.7 -661.5 -60.3 -666.5 -64.3 -671.3 -66.5 -676.0 -66.9 -676.0 -91.9Z" fill="url(#dg14)"/>
<path d="M-677.4 -91.7 -677.4 -66.7 -672.7 -66.4 -667.9 -64.2 -662.9 -60.3 -657.7 -54.8 -652.2 -47.7 -646.2 -39.4 -639.8 -30.0 -632.9 -20.0 -625.4 -9.8 -617.4 -0.0 -608.8 7.0 -599.7 14.7 -590.0 22.4 -579.8 29.4 -569.2 35.0 -558.1 38.5 -546.7 38.4 -535.1 46.1 -523.3 51.0 -511.4 53.5 -511.4 78.5 -507.1 78.9 -507.1 53.9 -519.0 51.8 -530.8 47.3 -542.4 40.4 -553.8 37.6 -564.9 34.6 -575.5 29.4 -585.7 22.6 -595.4 15.0 -604.5 7.2 -613.1 -0.0 -621.1 -9.6 -628.6 -19.7 -635.5 -29.7 -641.9 -39.0 -647.9 -47.5 -653.4 -54.6 -658.6 -60.3 -663.6 -64.4 -668.4 -66.7 -673.1 -67.1 -673.1 -92.1Z" fill="url(#dg15)"/>
<path d="M-674.5 -92.0 -674.5 -67.0 -669.8 -66.6 -665.0 -64.3 -660.0 -60.3 -654.8 -54.7 -649.3 -47.5 -643.3 -39.2 -636.9 -29.8 -630.0 -19.8 -622.5 -9.7 -614.5 -0.0 -605.9 7.2 -596.8 14.9 -587.1 22.5 -576.9 29.4 -566.3 34.8 -555.2 37.9 -543.8 39.6 -532.2 47.0 -520.4 51.6 -508.5 53.8 -508.5 78.8 -504.2 79.1 -504.2 54.1 -516.1 52.3 -527.9 48.1 -539.5 41.6 -550.9 36.7 -562.0 34.3 -572.6 29.3 -582.8 22.7 -592.5 15.1 -601.6 7.4 -610.2 -0.0 -618.2 -9.3 -625.7 -19.5 -632.6 -29.4 -639.0 -38.8 -645.0 -47.2 -650.5 -54.5 -655.7 -60.3 -660.7 -64.4 -665.5 -66.8 -670.2 -67.4 -670.2 -92.4Z" fill="url(#dg16)"/>
<path d="M-671.6 -92.3 -671.6 -67.3 -666.9 -66.7 -662.1 -64.4 -657.1 -60.3 -651.9 -54.6 -646.4 -47.4 -640.4 -38.9 -634.0 -29.5 -627.1 -19.6 -619.6 -9.5 -611.6 -0.0 -603.0 7.3 -593.9 15.1 -584.2 22.6 -574.0 29.3 -563.4 34.4 -552.3 37.2 -540.9 41.1 -529.3 47.7 -517.5 52.0 -505.6 54.0 -505.6 79.0 -501.3 79.2 -501.3 54.2 -513.2 52.6 -525.0 48.8 -536.6 42.7 -548.0 35.6 -559.1 33.8 -569.7 29.1 -579.9 22.7 -589.6 15.3 -598.7 7.5 -607.3 -0.0 -615.3 -9.5 -622.8 -19.2 -629.7 -29.1 -636.1 -38.5 -642.1 -47.0 -647.6 -54.3 -652.8 -60.1 -657.8 -64.4 -662.6 -66.9 -667.3 -67.6 -667.3 -92.6Z" fill="url(#dg17)"/>
<path d="M-668.7 -92.5 -668.7 -67.5 -664.0 -66.8 -659.2 -64.4 -654.2 -60.2 -649.0 -54.4 -643.5 -47.1 -637.5 -38.6 -631.1 -29.3 -624.2 -19.3 -616.7 -9.4 -608.7 -0.0 -600.1 7.4 -591.0 15.2 -581.3 22.7 -571.1 29.2 -560.5 34.1 -549.4 36.2 -538.0 42.2 -526.4 48.4 -514.6 52.5 -502.7 54.2 -502.7 79.2 -498.4 79.3 -498.4 54.3 -510.3 53.0 -522.1 49.3 -533.7 43.6 -545.1 35.1 -556.2 33.3 -566.8 28.9 -577.0 22.7 -586.7 15.3 -595.8 7.6 -604.4 -0.0 -612.4 -9.7 -619.9 -18.8 -626.8 -28.8 -633.2 -38.2 -639.2 -46.7 -644.7 -54.0 -649.9 -60.0 -654.9 -64.3 -659.7 -66.9 -664.4 -67.7 -664.4 -92.7Z" fill="url(#dg18)"/>
<path d="M-665.8 -92.6 -665.8 -67.6 -661.1 -66.9 -656.3 -64.3 -651.3 -60.0 -646.1 -54.2 -640.6 -46.8 -634.6 -38.3 -628.2 -28.9 -621.3 -19.0 -613.8 -9.6 -605.8 -0.0 -597.2 7.5 -588.1 15.3 -578.4 22.7 -568.2 29.0 -557.6 33.6 -546.5 34.7 -535.1 43.1 -523.5 49.1 -511.7 52.8 -499.8 54.2 -499.8 79.2 -495.5 79.2 -495.5 54.2 -507.4 53.2 -519.2 49.8 -530.8 44.3 -542.2 36.8 -553.3 32.7 -563.9 28.7 -574.1 22.7 -583.8 15.4 -592.9 7.6 -601.5 -0.0 -609.5 -9.8 -617.0 -18.6 -623.9 -28.3 -630.3 -37.8 -636.3 -46.3 -641.8 -53.7 -647.0 -59.7 -652.0 -64.1 -656.8 -66.8 -661.5 -67.7 -661.5 -92.7Z" fill="url(#dg19)"/>
<path d="M-662.9 -92.7 -662.9 -67.7 -658.2 -66.9 -653.4 -64.2 -648.4 -59.8 -643.2 -53.9 -637.7 -46.5 -631.7 -38.0 -625.3 -28.5 -618.4 -18.4 -610.9 -9.8 -602.9 -0.0 -594.3 7.6 -585.2 15.4 -575.5 22.7 -565.3 28.8 -554.7 33.0 -543.6 36.1 -532.2 44.0 -520.6 49.6 -508.8 53.1 -496.9 54.3 -496.9 79.3 -492.6 79.2 -492.6 54.2 -504.5 53.4 -516.3 50.3 -527.9 45.0 -539.3 37.9 -550.4 31.9 -561.0 28.4 -571.2 22.6 -580.9 15.4 -590.0 7.7 -598.6 -0.0 -606.6 -9.9 -614.1 -19.0 -621.0 -27.8 -627.4 -37.3 -633.4 -45.9 -638.9 -53.4 -644.1 -59.4 -649.1 -63.9 -653.9 -66.7 -658.6 -67.7 -658.6 -92.7Z" fill="url(#dg20)"/>
<path d="M-660.0 -92.7 -660.0 -67.7 -655.3 -66.8 -650.5 -64.0 -645.5 -59.6 -640.3 -53.6 -634.8 -46.1 -628.8 -37.5 -622.4 -28.1 -615.5 -18.8 -608.0 -9.9 -600.0 -0.0 -591.4 7.7 -582.3 15.4 -572.6 22.6 -562.4 28.5 -551.8 32.3 -540.7 37.4 -529.3 44.7 -517.7 50.1 -505.9 53.3 -494.0 54.2 -494.0 79.2 -490.5 79.1 -490.5 54.1 -502.4 53.5 -514.2 50.6 -525.8 45.5 -537.2 38.6 -548.3 31.2 -558.9 28.1 -569.1 22.5 -578.8 15.5 -587.9 7.8 -596.5 -0.0 -604.5 -10.0 -612.0 -19.2 -618.9 -27.3 -625.3 -37.0 -631.3 -45.6 -636.8 -53.1 -642.0 -59.2 -647.0 -63.8 -651.8 -66.6 -656.5 -67.6 -656.5 -92.6Z" fill="url(#dg1)"/>
<path d="M-657.9 -92.7 -657.9 -67.7 -653.2 -66.7 -648.4 -63.9 -643.4 -59.4 -638.2 -53.3 -632.7 -45.8 -626.7 -37.2 -620.3 -27.7 -613.4 -19.1 -605.9 -9.9 -597.9 -0.0 -589.3 7.7 -580.2 15.5 -570.5 22.5 -560.3 28.3 -549.7 31.7 -538.6 38.1 -527.2 45.2 -515.6 50.4 -503.8 53.4 -491.9 54.1 -491.9 79.1 -488.4 78.9 -488.4 53.9 -500.3 53.6 -512.1 50.8 -523.7 45.9 -535.1 39.2 -546.2 30.0 -556.8 27.8 -567.0 22.4 -576.7 15.4 -585.8 7.8 -594.4 -0.0 -602.4 -10.0 -609.9 -19.4 -616.8 -27.3 -623.2 -36.5 -629.2 -45.2 -634.7 -52.8 -639.9 -58.9 -644.9 -63.5 -649.7 -66.4 -654.4 -67.6 -654.4 -92.6Z" fill="url(#dg2)"/>
<path d="M-655.8 -92.6 -655.8 -67.6 -651.1 -66.5 -646.3 -63.7 -641.3 -59.1 -636.1 -53.0 -630.6 -45.5 -624.6 -36.8 -618.2 -27.0 -611.3 -19.3 -603.8 -10.0 -595.8 -0.0 -587.2 7.8 -578.1 15.5 -568.4 22.4 -558.2 28.0 -547.6 30.9 -536.5 38.8 -525.1 45.6 -513.5 50.7 -501.7 53.5 -489.8 54.0 -489.8 79.0 -486.3 78.7 -486.3 53.7 -498.2 53.6 -510.0 51.0 -521.6 46.3 -533.0 39.7 -544.1 31.3 -554.7 27.5 -564.9 22.2 -574.6 15.4 -583.7 7.8 -592.3 -0.0 -600.3 -10.1 -607.8 -19.5 -614.7 -27.8 -621.1 -36.0 -627.1 -44.8 -632.6 -52.4 -637.8 -58.6 -642.8 -63.3 -647.6 -66.3 -652.3 -67.5 -652.3 -92.5Z" fill="url(#dg3)"/>
<path d="M-653.7 -92.5 -653.7 -67.5 -649.0 -66.4 -644.2 -63.5 -639.2 -58.8 -634.0 -52.7 -628.5 -45.1 -622.5 -36.4 -616.1 -27.5 -609.2 -19.4 -601.7 -10.1 -593.7 -0.0 -585.1 7.8 -576.0 15.4 -566.3 22.3 -556.1 27.7 -545.5 30.4 -534.4 39.4 -523.0 46.1 -511.4 50.9 -499.6 53.6 -487.7 53.9 -487.7 78.9 -484.2 78.5 -484.2 53.5 -496.1 53.6 -507.9 51.2 -519.5 46.6 -530.9 40.3 -542.0 32.2 -552.6 27.1 -562.8 22.1 -572.5 15.4 -581.6 7.8 -590.2 -0.0 -598.2 -10.1 -605.7 -19.7 -612.6 -28.1 -619.0 -35.4 -625.0 -44.4 -630.5 -52.0 -635.7 -58.3 -640.7 -63.0 -645.5 -66.1 -650.2 -67.3 -650.2 -92.3Z" fill="url(#dg4)"/>
<path d="M-651.6 -92.4 -651.6 -67.4 -646.9 -66.2 -642.1 -63.2 -637.1 -58.5 -631.9 -52.3 -626.4 -44.7 -620.4 -35.8 -614.0 -27.9 -607.1 -19.6 -599.6 -10.1 -591.6 -0.0 -583.0 7.8 -573.9 15.4 -564.2 22.2 -554.0 27.3 -543.4 31.7 -532.3 39.9 -520.9 46.4 -509.3 51.1 -497.5 53.6 -485.6 53.7 -485.6 78.7 -482.1 78.3 -482.1 53.3 -494.0 53.5 -505.8 51.4 -517.4 47.0 -528.8 40.7 -539.9 32.9 -550.5 26.6 -560.7 21.9 -570.4 15.3 -579.5 7.8 -588.1 -0.0 -596.1 -10.2 -603.6 -19.8 -610.5 -28.4 -616.9 -35.4 -622.9 -43.9 -628.4 -51.6 -633.6 -57.9 -638.6 -62.7 -643.4 -65.8 -648.1 -67.1 -648.1 -92.1Z" fill="url(#dg5)"/>
<path d="M-649.5 -92.3 -649.5 -67.3 -644.8 -66.0 -640.0 -62.9 -635.0 -58.2 -629.8 -51.9 -624.3 -44.2 -618.3 -35.0 -611.9 -28.2 -605.0 -19.7 -597.5 -10.2 -589.5 -0.0 -580.9 7.8 -571.8 15.4 -562.1 22.0 -551.9 26.9 -541.3 32.5 -530.2 40.4 -518.8 46.8 -507.2 51.3 -495.4 53.6 -483.5 53.5 -483.5 78.5 -480.0 78.0 -480.0 53.0 -491.9 53.5 -503.7 51.5 -515.3 47.2 -526.7 41.1 -537.8 33.6 -548.4 26.0 -558.6 21.7 -568.3 15.3 -577.4 7.8 -586.0 -0.0 -594.0 -10.2 -601.5 -19.9 -608.4 -28.6 -614.8 -35.9 -620.8 -43.2 -626.3 -51.1 -631.5 -57.5 -636.5 -62.4 -641.3 -65.5 -646.0 -66.9 -646.0 -91.9Z" fill="url(#dg6)"/>
<path d="M-647.4 -92.1 -647.4 -67.1 -642.7 -65.7 -637.9 -62.6 -632.9 -57.8 -627.7 -51.4 -622.2 -43.7 -616.2 -35.6 -609.8 -28.5 -602.9 -19.8 -595.4 -10.2 -587.4 -0.0 -578.8 7.8 -569.7 15.3 -560.0 21.8 -549.8 26.4 -539.2 33.2 -528.1 40.9 -516.7 47.1 -505.1 51.4 -493.3 53.5 -481.4 53.2 -481.4 78.2 -477.9 77.7 -477.9 52.7 -489.8 53.3 -501.6 51.5 -513.2 47.5 -524.6 41.5 -535.7 34.1 -546.3 25.1 -556.5 21.4 -566.2 15.2 -575.3 7.8 -583.9 -0.0 -591.9 -10.2 -599.4 -20.0 -606.3 -28.8 -612.7 -36.4 -618.7 -42.4 -624.2 -50.6 -629.4 -57.1 -634.4 -62.0 -639.2 -65.2 -643.9 -66.7 -643.9 -91.7Z" fill="url(#dg7)"/>
<path d="M-645.3 -91.9 -645.3 -66.9 -640.6 -65.4 -635.8 -62.2 -630.8 -57.4 -625.6 -50.9 -620.1 -43.0 -614.1 -36.1 -607.7 -28.7 -600.8 -19.9 -593.3 -10.2 -585.3 -0.0 -576.7 7.8 -567.6 15.2 -557.9 21.6 -547.7 25.8 -537.1 33.8 -526.0 41.3 -514.6 47.3 -503.0 51.5 -491.2 53.4 -479.3 52.9 -479.3 77.9 -475.8 77.3 -475.8 52.3 -487.7 53.2 -499.5 51.6 -511.1 47.7 -522.5 41.9 -533.6 34.6 -544.2 26.0 -554.4 21.2 -564.1 15.1 -573.2 7.8 -581.8 -0.0 -589.8 -10.3 -597.3 -20.1 -604.2 -29.0 -610.6 -36.7 -616.6 -42.7 -622.1 -50.0 -627.3 -56.6 -632.3 -61.6 -637.1 -64.9 -641.8 -66.4 -641.8 -91.4Z" fill="url(#dg8)"/>
<path d="M-643.2 -91.6 -643.2 -66.6 -638.5 -65.1 -633.7 -61.8 -628.7 -56.9 -623.5 -50.4 -618.0 -41.8 -612.0 -36.5 -605.6 -28.9 -598.7 -20.0 -591.2 -10.2 -583.2 -0.0 -574.6 7.8 -565.5 15.2 -555.8 21.4 -545.6 25.2 -535.0 34.3 -523.9 41.7 -512.5 47.6 -500.9 51.6 -489.1 53.3 -477.2 52.6 -477.2 77.6 -473.7 77.0 -473.7 52.0 -485.6 53.0 -497.4 51.6 -509.0 47.9 -520.4 42.2 -531.5 35.1 -542.1 26.7 -552.3 20.8 -562.0 15.0 -571.1 7.8 -579.7 -0.0 -587.7 -10.3 -595.2 -20.1 -602.1 -29.2 -608.5 -37.1 -614.5 -43.3 -620.0 -49.2 -625.2 -56.0 -630.2 -61.1 -635.0 -64.5 -639.7 -66.1 -639.7 -91.1Z" fill="url(#dg9)"/>
<path d="M-641.1 -91.3 -641.1 -66.3 -636.4 -64.7 -631.6 -61.4 -626.6 -56.4 -621.4 -49.7 -615.9 -42.9 -609.9 -36.9 -603.5 -29.1 -596.6 -20.1 -589.1 -10.3 -581.1 -0.0 -572.5 7.8 -563.4 15.1 -553.7 21.1 -543.5 26.3 -532.9 34.8 -521.8 42.0 -510.4 47.8 -498.8 51.6 -487.0 53.1 -475.1 52.2 -475.1 77.2 -471.6 76.5 -471.6 51.5 -483.5 52.8 -495.3 51.6 -506.9 48.0 -518.3 42.5 -529.4 35.5 -540.0 27.3 -550.2 20.5 -559.9 14.8 -569.0 7.7 -577.6 -0.0 -585.6 -10.3 -593.1 -20.2 -600.0 -29.3 -606.4 -37.3 -612.4 -43.8 -617.9 -47.9 -623.1 -55.4 -628.1 -60.6 -632.9 -64.1 -637.6 -65.8 -637.6 -90.8Z" fill="url(#dg10)"/>
<path d="M-639.0 -91.0 -639.0 -66.0 -634.3 -64.3 -629.5 -60.9 -624.5 -55.8 -619.3 -48.9 -613.8 -43.5 -607.8 -37.1 -601.4 -29.2 -594.5 -20.2 -587.0 -10.3 -579.0 -0.0 -570.4 7.8 -561.3 14.9 -551.6 20.7 -541.4 27.0 -530.8 35.2 -519.7 42.3 -508.3 47.9 -496.7 51.6 -484.9 53.0 -473.0 51.8 -473.0 76.8 -469.5 76.0 -469.5 51.0 -481.4 52.6 -493.2 51.5 -504.8 48.2 -516.2 42.8 -527.3 35.9 -537.9 27.9 -548.1 20.0 -557.8 14.7 -566.9 7.7 -575.5 -0.0 -583.5 -10.3 -591.0 -20.2 -597.9 -29.5 -604.3 -37.6 -610.3 -44.3 -615.8 -49.1 -621.0 -54.6 -626.0 -60.0 -630.8 -63.6 -635.5 -65.4 -635.5 -90.4Z" fill="url(#dg11)"/>
<path d="M-636.9 -90.6 -636.9 -65.6 -632.2 -63.9 -627.4 -60.4 -622.4 -55.1 -617.2 -48.5 -611.7 -44.0 -605.7 -37.4 -599.3 -29.4 -592.4 -20.2 -584.9 -10.3 -576.9 -0.0 -568.3 7.7 -559.2 14.8 -549.5 20.3 -539.3 27.5 -528.7 35.6 -517.6 42.6 -506.2 48.1 -494.6 51.6 -482.8 52.7 -470.9 51.4 -470.9 76.4 -467.4 75.5 -467.4 50.5 -479.3 52.3 -491.1 51.4 -502.7 48.3 -514.1 43.0 -525.2 36.2 -535.8 28.3 -546.0 19.1 -555.7 14.5 -564.8 7.7 -573.4 -0.0 -581.4 -10.3 -588.9 -20.3 -595.8 -29.6 -602.2 -37.8 -608.2 -44.6 -613.7 -49.8 -618.9 -53.6 -623.9 -59.4 -628.7 -63.1 -633.4 -65.0 -633.4 -90.0Z" fill="url(#dg12)"/>
<path d="M-634.8 -90.2 -634.8 -65.2 -630.1 -63.4 -625.3 -59.8 -620.3 -54.3 -615.1 -49.4 -609.6 -44.4 -603.6 -37.6 -597.2 -29.5 -590.3 -20.3 -582.8 -10.3 -574.8 -0.0 -566.2 7.7 -557.1 14.6 -547.4 19.8 -537.2 28.0 -526.6 36.0 -515.5 42.9 -504.1 48.2 -492.5 51.5 -480.7 52.5 -468.8 50.9 -468.8 75.9 -465.3 74.9 -465.3 49.9 -477.2 51.9 -489.0 51.3 -500.6 48.3 -512.0 43.2 -523.1 36.5 -533.7 28.7 -543.9 20.2 -553.6 14.3 -562.7 7.6 -571.3 -0.0 -579.3 -10.3 -586.8 -20.3 -593.7 -29.6 -600.1 -38.0 -606.1 -45.0 -611.6 -50.3 -616.8 -53.6 -621.8 -58.6 -626.6 -62.5 -631.3 -64.5 -631.3 -89.5Z" fill="url(#dg13)"/>
<path d="M-632.7 -89.8 -632.7 -64.8 -628.0 -62.9 -623.2 -59.1 -618.2 -53.0 -613.0 -50.0 -607.5 -44.7 -601.5 -37.8 -595.1 -29.6 -588.2 -20.3 -580.7 -10.3 -572.7 -0.0 -564.1 7.6 -555.0 14.5 -545.3 19.6 -535.1 28.5 -524.5 36.3 -513.4 43.1 -502.0 48.3 -490.4 51.4 -478.6 52.2 -466.7 50.3 -466.7 75.3 -463.2 74.3 -463.2 49.3 -475.1 51.6 -486.9 51.2 -498.5 48.3 -509.9 43.4 -521.0 36.8 -531.6 29.1 -541.8 20.7 -551.5 14.1 -560.6 7.5 -569.2 -0.0 -577.2 -10.3 -584.7 -20.3 -591.6 -29.7 -598.0 -38.1 -604.0 -45.2 -609.5 -50.8 -614.7 -54.5 -619.7 -57.7 -624.5 -61.8 -629.2 -64.0 -629.2 -89.0Z" fill="url(#dg14)"/>
<path d="M-630.6 -89.3 -630.6 -64.3 -625.9 -62.3 -621.1 -58.3 -616.1 -54.0 -610.9 -50.5 -605.4 -45.0 -599.4 -38.0 -593.0 -29.7 -586.1 -20.3 -578.6 -10.3 -570.6 -0.0 -562.0 7.6 -552.9 14.3 -543.2 20.4 -533.0 28.9 -522.4 36.6 -511.3 43.3 -499.9 48.3 -488.3 51.3 -476.5 51.8 -464.6 49.7 -464.6 74.7 -461.1 73.6 -461.1 48.6 -473.0 51.2 -484.8 51.0 -496.4 48.3 -507.8 43.6 -518.9 37.1 -529.5 29.5 -539.7 21.2 -549.4 13.8 -558.5 7.5 -567.1 -0.0 -575.1 -10.2 -582.6 -20.3 -589.5 -29.8 -595.9 -38.3 -601.9 -45.5 -607.4 -51.2 -612.6 -55.2 -617.6 -56.7 -622.4 -61.1 -627.1 -63.4 -627.1 -88.4Z" fill="url(#dg15)"/>
<path d="M-628.5 -88.8 -628.5 -63.8 -623.8 -61.6 -619.0 -57.2 -614.0 -54.8 -608.8 -50.9 -603.3 -45.3 -597.3 -38.2 -590.9 -29.7 -584.0 -20.3 -576.5 -10.2 -568.5 -0.0 -559.9 7.5 -550.8 14.0 -541.1 20.9 -530.9 29.2 -520.3 36.9 -509.2 43.5 -497.8 48.3 -486.2 51.1 -474.4 51.4 -462.5 49.1 -462.5 74.1 -459.0 72.8 -459.0 47.8 -470.9 50.7 -482.7 50.8 -494.3 48.3 -505.7 43.7 -516.8 37.3 -527.4 29.8 -537.6 21.6 -547.3 13.5 -556.4 7.4 -565.0 -0.0 -573.0 -10.2 -580.5 -20.3 -587.4 -29.8 -593.8 -38.4 -599.8 -45.7 -605.3 -51.5 -610.5 -55.7 -615.5 -57.9 -620.3 -60.2 -625.0 -62.8 -625.0 -87.8Z" fill="url(#dg16)"/>
<path d="M-626.4 -88.2 -626.4 -63.2 -621.7 -60.8 -616.9 -57.2 -611.9 -55.4 -606.7 -51.3 -601.2 -45.6 -595.2 -38.3 -588.8 -29.8 -581.9 -20.3 -574.4 -10.2 -566.4 -0.0 -557.8 7.4 -548.7 13.7 -539.0 21.3 -528.8 29.6 -518.2 37.2 -507.1 43.6 -495.7 48.3 -484.1 50.9 -472.3 51.0 -460.4 48.4 -460.4 73.4 -456.9 71.9 -456.9 46.9 -468.8 50.2 -480.6 50.5 -492.2 48.2 -503.6 43.8 -514.7 37.6 -525.3 30.1 -535.5 21.9 -545.2 13.4 -554.3 7.3 -562.9 -0.0 -570.9 -10.2 -578.4 -20.3 -585.3 -29.8 -591.7 -38.5 -597.7 -45.9 -603.2 -51.9 -608.4 -56.2 -613.4 -58.7 -618.2 -58.7 -622.9 -62.1 -622.9 -87.1Z" fill="url(#dg17)"/>
<path d="M-624.3 -87.6 -624.3 -62.6 -619.6 -59.8 -614.8 -58.2 -609.8 -55.9 -604.6 -51.7 -599.1 -45.8 -593.1 -38.4 -586.7 -29.8 -579.8 -20.3 -572.3 -10.2 -564.3 -0.0 -555.7 7.4 -546.6 13.3 -536.9 21.7 -526.7 29.9 -516.1 37.4 -505.0 43.7 -493.6 48.3 -482.0 50.7 -470.2 50.6 -458.3 47.5 -458.3 72.5 -454.8 70.8 -454.8 45.8 -466.7 49.7 -478.5 50.2 -490.1 48.1 -501.5 43.8 -512.6 37.7 -523.2 30.4 -533.4 22.2 -543.1 13.9 -552.2 7.2 -560.8 -0.0 -568.8 -10.1 -576.3 -20.2 -583.2 -29.8 -589.6 -38.5 -595.6 -46.1 -601.1 -52.1 -606.3 -56.6 -611.3 -59.3 -616.1 -59.8 -620.8 -61.2 -620.8 -86.2Z" fill="url(#dg18)"/>
<path d="M-622.2 -86.8 -622.2 -61.8 -617.5 -59.0 -612.7 -58.9 -607.7 -56.3 -602.5 -52.0 -597.0 -45.9 -591.0 -38.5 -584.6 -29.8 -577.7 -20.3 -570.2 -10.2 -562.2 -0.0 -553.6 7.3 -544.5 13.6 -534.8 22.0 -524.6 30.2 -514.0 37.6 -502.9 43.8 -491.5 48.2 -479.9 50.4 -468.1 50.1 -456.2 46.6 -456.2 71.6 -452.7 69.2 -452.7 44.2 -464.6 49.1 -476.4 49.9 -488.0 48.0 -499.4 43.9 -510.5 37.9 -521.1 30.6 -531.3 22.5 -541.0 14.2 -550.1 7.1 -558.7 -0.0 -566.7 -10.1 -574.2 -20.2 -581.1 -29.8 -587.5 -38.6 -593.5 -46.2 -599.0 -52.4 -604.2 -57.0 -609.2 -59.8 -614.0 -60.7 -618.7 -59.9 -618.7 -84.9Z" fill="url(#dg19)"/>
<path d="M-620.1 -85.8 -620.1 -60.8 -615.4 -60.2 -610.6 -59.5 -605.6 -56.7 -600.4 -52.2 -594.9 -46.1 -588.9 -38.6 -582.5 -29.8 -575.6 -20.2 -568.1 -10.1 -560.1 -0.0 -551.5 7.1 -542.4 14.0 -532.7 22.3 -522.5 30.4 -511.9 37.8 -500.8 43.9 -489.4 48.1 -477.8 50.1 -466.0 49.5 -454.1 45.4 -454.1 70.4 -450.6 69.6 -450.6 44.6 -462.5 48.5 -474.3 49.5 -485.9 47.9 -497.3 43.9 -508.4 38.0 -519.0 30.8 -529.2 22.8 -538.9 14.5 -548.0 6.9 -556.6 -0.0 -564.6 -10.0 -572.1 -20.1 -579.0 -29.8 -585.4 -38.6 -591.4 -46.3 -596.9 -52.6 -602.1 -57.3 -607.1 -60.3 -611.9 -61.4 -616.6 -60.3 -616.6 -85.3Z" fill="url(#dg20)"/>
<path d="M-618.0 -84.0 -618.0 -59.0 -613.3 -60.9 -608.5 -60.0 -603.5 -57.1 -598.3 -52.4 -592.8 -46.2 -586.8 -38.6 -580.4 -29.8 -573.5 -20.2 -566.0 -10.1 -558.0 -0.0 -549.4 7.0 -540.3 14.3 -530.6 22.6 -520.4 30.7 -509.8 38.0 -498.7 43.9 -487.3 48.0 -475.7 49.8 -463.9 48.9 -452.0 43.0 -452.0 68.0 -447.0 71.3 -447.0 46.3 -458.9 47.2 -470.7 48.8 -482.3 47.5 -493.7 43.8 -504.8 38.2 -515.4 31.2 -525.6 23.2 -535.3 15.0 -544.4 6.9 -553.0 -0.0 -561.0 -9.9 -568.5 -20.0 -575.4 -29.7 -581.8 -38.6 -587.8 -46.4 -593.3 -52.9 -598.5 -57.7 -603.5 -60.9 -608.3 -62.3 -613.0 -61.8 -613.0 -86.8Z" fill="url(#dg1)"/>
<path d="M-614.4 -86.3 -614.4 -61.3 -609.7 -62.0 -604.9 -60.7 -599.9 -57.6 -594.7 -52.8 -589.2 -46.4 -583.2 -38.6 -576.8 -29.7 -569.9 -20.1 -562.4 -10.0 -554.4 -0.0 -545.8 6.7 -536.7 14.8 -527.0 23.1 -516.8 31.0 -506.2 38.2 -495.1 43.9 -483.7 47.7 -472.1 49.1 -460.3 47.7 -448.4 45.7 -448.4 70.7 -443.4 72.6 -443.4 47.6 -455.3 45.5 -467.1 48.0 -478.7 47.1 -490.1 43.7 -501.2 38.3 -511.8 31.4 -522.0 23.6 -531.7 15.3 -540.8 7.2 -549.4 -0.0 -557.4 -9.8 -564.9 -19.9 -571.8 -29.6 -578.2 -38.6 -584.2 -46.5 -589.7 -53.0 -594.9 -58.1 -599.9 -61.4 -604.7 -63.1 -609.4 -62.8 -609.4 -87.8Z" fill="url(#dg2)"/>
<path d="M-610.8 -87.5 -610.8 -62.5 -606.1 -62.8 -601.3 -61.3 -596.3 -58.0 -591.1 -53.0 -585.6 -46.5 -579.6 -38.6 -573.2 -29.6 -566.3 -19.9 -558.8 -9.9 -550.8 -0.0 -542.2 7.1 -533.1 15.2 -523.4 23.4 -513.2 31.3 -502.6 38.3 -491.5 43.8 -480.1 47.3 -468.5 48.3 -456.7 46.2 -444.8 47.1 -444.8 72.1 -439.8 73.5 -439.8 48.5 -451.7 43.1 -463.5 47.0 -475.1 46.5 -486.5 43.5 -497.6 38.4 -508.2 31.6 -518.4 23.9 -528.1 15.6 -537.2 7.5 -545.8 -0.0 -553.8 -9.7 -561.3 -19.7 -568.2 -29.4 -574.6 -38.4 -580.6 -46.4 -586.1 -53.1 -591.3 -58.3 -596.3 -61.9 -601.1 -63.6 -605.8 -63.6 -605.8 -88.6Z" fill="url(#dg3)"/>
<path d="M-607.2 -88.3 -607.2 -63.3 -602.5 -63.4 -597.7 -61.7 -592.7 -58.2 -587.5 -53.1 -582.0 -46.5 -576.0 -38.5 -569.6 -29.5 -562.7 -19.7 -555.2 -9.7 -547.2 -0.0 -538.6 7.4 -529.5 15.5 -519.8 23.7 -509.6 31.6 -499.0 38.4 -487.9 43.6 -476.5 46.8 -464.9 47.4 -453.1 44.1 -441.2 48.2 -441.2 73.2 -436.2 74.2 -436.2 49.2 -448.1 45.3 -459.9 45.8 -471.5 45.9 -482.9 43.2 -494.0 38.3 -504.6 31.8 -514.8 24.1 -524.5 15.9 -533.6 7.7 -542.2 -0.0 -550.2 -9.5 -557.7 -19.4 -564.6 -29.1 -571.0 -38.2 -577.0 -46.3 -582.5 -53.2 -587.7 -58.5 -592.7 -62.2 -597.5 -64.1 -602.2 -64.3 -602.2 -89.3Z" fill="url(#dg4)"/>
<path d="M-603.6 -89.0 -603.6 -64.0 -598.9 -63.9 -594.1 -62.1 -589.1 -58.4 -583.9 -53.2 -578.4 -46.4 -572.4 -38.3 -566.0 -29.2 -559.1 -19.5 -551.6 -9.6 -543.6 -0.0 -535.0 7.6 -525.9 15.8 -516.2 24.0 -506.0 31.7 -495.4 38.4 -484.3 43.3 -472.9 46.2 -461.3 46.3 -449.5 44.7 -437.6 49.0 -437.6 74.0 -432.6 74.8 -432.6 49.8 -444.5 46.6 -456.3 44.3 -467.9 45.1 -479.3 42.8 -490.4 38.2 -501.0 31.9 -511.2 24.3 -520.9 16.1 -530.0 7.8 -538.6 -0.0 -546.6 -9.2 -554.1 -19.1 -561.0 -28.9 -567.4 -38.0 -573.4 -46.2 -578.9 -53.1 -584.1 -58.5 -589.1 -62.4 -593.9 -64.5 -598.6 -64.8 -598.6 -89.8Z" fill="url(#dg5)"/>
<path d="M-600.0 -89.6 -600.0 -64.6 -595.3 -64.4 -590.5 -62.3 -585.5 -58.5 -580.3 -53.1 -574.8 -46.2 -568.8 -38.1 -562.4 -29.0 -555.5 -19.3 -548.0 -9.3 -540.0 -0.0 -531.4 7.8 -522.3 16.0 -512.6 24.2 -502.4 31.8 -491.8 38.3 -480.7 43.0 -469.3 45.4 -457.7 45.0 -445.9 46.2 -434.0 49.6 -434.0 74.6 -429.0 75.2 -429.0 50.2 -440.9 47.6 -452.7 42.1 -464.3 44.2 -475.7 42.3 -486.8 38.0 -497.4 31.9 -507.6 24.5 -517.3 16.3 -526.4 8.0 -535.0 -0.0 -543.0 -9.5 -550.5 -18.8 -557.4 -28.5 -563.8 -37.7 -569.8 -45.9 -575.3 -52.9 -580.5 -58.5 -585.5 -62.5 -590.3 -64.7 -595.0 -65.2 -595.0 -90.2Z" fill="url(#dg6)"/>
<path d="M-596.4 -90.0 -596.4 -65.0 -591.7 -64.6 -586.9 -62.5 -581.9 -58.5 -576.7 -53.0 -571.2 -46.0 -565.2 -37.8 -558.8 -28.6 -551.9 -18.9 -544.4 -9.3 -536.4 -0.0 -527.8 7.9 -518.7 16.2 -509.0 24.4 -498.8 31.9 -488.2 38.1 -477.1 42.5 -465.7 44.6 -454.1 43.1 -442.3 47.3 -430.4 50.1 -430.4 75.1 -425.4 75.4 -425.4 50.4 -437.3 48.4 -449.1 43.2 -460.7 43.2 -472.1 41.8 -483.2 37.8 -493.8 31.9 -504.0 24.6 -513.7 16.5 -522.8 8.1 -531.4 -0.0 -539.4 -9.7 -546.9 -18.2 -553.8 -28.1 -560.2 -37.3 -566.2 -45.6 -571.7 -52.7 -576.9 -58.4 -581.9 -62.5 -586.7 -64.9 -591.4 -65.5 -591.4 -90.5Z" fill="url(#dg7)"/>
<path d="M-592.8 -90.4 -592.8 -65.4 -588.1 -64.8 -583.3 -62.5 -578.3 -58.4 -573.1 -52.8 -567.6 -45.7 -561.6 -37.4 -555.2 -28.2 -548.3 -18.5 -540.8 -9.6 -532.8 -0.0 -524.2 8.0 -515.1 16.4 -505.4 24.5 -495.2 31.9 -484.6 37.9 -473.5 42.0 -462.1 43.6 -450.5 42.4 -438.7 48.1 -426.8 50.4 -426.8 75.4 -421.8 75.5 -421.8 50.5 -433.7 49.0 -445.5 44.6 -457.1 41.9 -468.5 41.1 -479.6 37.4 -490.2 31.8 -500.4 24.6 -510.1 16.6 -519.2 8.2 -527.8 -0.0 -535.8 -9.9 -543.3 -18.6 -550.2 -27.5 -556.6 -36.8 -562.6 -45.1 -568.1 -52.4 -573.3 -58.2 -578.3 -62.4 -583.1 -64.9 -587.8 -65.6 -587.8 -90.6Z" fill="url(#dg8)"/>
<path d="M-589.2 -90.6 -589.2 -65.6 -584.5 -64.9 -579.7 -62.4 -574.7 -58.3 -569.5 -52.5 -564.0 -45.3 -558.0 -37.0 -551.6 -27.8 -544.7 -18.4 -537.2 -9.8 -529.2 -0.0 -520.6 8.2 -511.5 16.5 -501.8 24.6 -491.6 31.8 -481.0 37.6 -469.9 41.4 -458.5 42.4 -446.9 44.1 -435.1 48.8 -423.2 50.5 -423.2 75.5 -418.2 75.4 -418.2 50.4 -430.1 49.5 -441.9 45.6 -453.5 40.1 -464.9 40.3 -476.0 37.0 -486.6 31.6 -496.8 24.6 -506.5 16.7 -515.6 8.3 -524.2 -0.0 -532.2 -10.0 -539.7 -19.1 -546.6 -26.7 -553.0 -36.2 -559.0 -44.6 -564.5 -51.9 -569.7 -57.8 -574.7 -62.2 -579.5 -64.8 -584.2 -65.7 -584.2 -90.7Z" fill="url(#dg9)"/>
<path d="M-585.6 -90.7 -585.6 -65.7 -580.9 -64.9 -576.1 -62.3 -571.1 -58.0 -565.9 -52.1 -560.4 -44.8 -554.4 -36.4 -548.0 -27.1 -541.1 -18.9 -533.6 -10.0 -525.6 -0.0 -517.0 8.3 -507.9 16.6 -498.2 24.6 -488.0 31.7 -477.4 37.2 -466.3 40.6 -454.9 40.9 -443.3 45.3 -431.5 49.3 -419.6 50.5 -419.6 75.5 -414.6 75.2 -414.6 50.2 -426.5 49.8 -438.3 46.4 -449.9 40.1 -461.3 39.4 -472.4 36.5 -483.0 31.4 -493.2 24.6 -502.9 16.7 -512.0 8.4 -520.6 -0.0 -528.6 -10.1 -536.1 -19.5 -543.0 -27.4 -549.4 -35.5 -555.4 -44.0 -560.9 -51.4 -566.1 -57.4 -571.1 -61.9 -575.9 -64.7 -580.6 -65.7 -580.6 -90.7Z" fill="url(#dg10)"/>
<path d="M-582.0 -90.7 -582.0 -65.7 -577.3 -64.7 -572.5 -62.0 -567.5 -57.6 -562.3 -51.6 -556.8 -44.3 -550.8 -35.8 -544.4 -27.1 -537.5 -19.3 -530.0 -10.1 -522.0 -0.0 -513.4 8.3 -504.3 16.7 -494.6 24.6 -484.4 31.5 -473.8 36.7 -462.7 39.8 -451.3 39.2 -439.7 46.1 -427.9 49.7 -416.0 50.3 -416.0 75.3 -411.0 74.7 -411.0 49.7 -422.9 49.9 -434.7 47.1 -446.3 41.5 -457.7 38.2 -468.8 36.0 -479.4 31.1 -489.6 24.5 -499.3 16.8 -508.4 8.4 -517.0 -0.0 -525.0 -10.2 -532.5 -19.7 -539.4 -28.1 -545.8 -34.4 -551.8 -43.3 -557.3 -50.8 -562.5 -56.9 -567.5 -61.5 -572.3 -64.4 -577.0 -65.5 -577.0 -90.5Z" fill="url(#dg11)"/>
<path d="M-578.4 -90.6 -578.4 -65.6 -573.7 -64.5 -568.9 -61.6 -563.9 -57.1 -558.7 -51.0 -553.2 -43.6 -547.2 -34.8 -540.8 -27.9 -533.9 -19.6 -526.4 -10.2 -518.4 -0.0 -509.8 8.4 -500.7 16.8 -491.0 24.6 -480.8 31.2 -470.2 36.2 -459.1 38.7 -447.7 41.0 -436.1 46.8 -424.3 49.8 -412.4 49.9 -412.4 74.9 -407.4 74.2 -407.4 49.2 -419.3 49.8 -431.1 47.5 -442.7 42.5 -454.1 36.7 -465.2 35.3 -475.8 30.8 -486.0 24.4 -495.7 16.8 -504.8 8.5 -513.4 -0.0 -521.4 -10.3 -528.9 -20.0 -535.8 -28.6 -542.2 -35.7 -548.2 -42.3 -553.7 -50.0 -558.9 -56.2 -563.9 -60.9 -568.7 -64.0 -573.4 -65.3 -573.4 -90.3Z" fill="url(#dg12)"/>
<path d="M-574.8 -90.4 -574.8 -65.4 -570.1 -64.1 -565.3 -61.2 -560.3 -56.5 -555.1 -50.3 -549.6 -42.7 -543.6 -35.4 -537.2 -28.4 -530.3 -19.9 -522.8 -10.3 -514.8 -0.0 -506.2 8.4 -497.1 16.8 -487.4 24.4 -477.2 30.9 -466.6 35.6 -455.5 37.4 -444.1 42.2 -432.5 47.4 -420.7 49.9 -408.8 49.4 -408.8 74.4 -403.8 73.4 -403.8 48.4 -415.7 49.6 -427.5 47.9 -439.1 43.3 -450.5 36.1 -461.6 34.5 -472.2 30.4 -482.4 24.2 -492.1 16.7 -501.2 8.5 -509.8 -0.0 -517.8 -10.4 -525.3 -20.2 -532.2 -29.0 -538.6 -36.5 -544.6 -42.1 -550.1 -49.0 -555.3 -55.5 -560.3 -60.3 -565.1 -63.5 -569.8 -64.9 -569.8 -89.9Z" fill="url(#dg13)"/>
<path d="M-571.2 -90.1 -571.2 -65.1 -566.5 -63.7 -561.7 -60.6 -556.7 -55.8 -551.5 -49.4 -546.0 -41.1 -540.0 -36.3 -533.6 -28.9 -526.7 -20.1 -519.2 -10.4 -511.2 -0.0 -502.6 8.5 -493.5 16.7 -483.8 24.3 -473.6 30.5 -463.0 34.8 -451.9 35.0 -440.5 43.1 -428.9 47.7 -417.1 49.7 -405.2 48.7 -405.2 73.7 -400.2 72.4 -400.2 47.4 -412.1 49.3 -423.9 48.0 -435.5 44.0 -446.9 37.5 -458.0 33.5 -468.6 29.9 -478.8 24.0 -488.5 16.7 -497.6 8.5 -506.2 -0.0 -514.2 -10.5 -521.7 -20.4 -528.6 -29.4 -535.0 -37.2 -541.0 -43.4 -546.5 -47.5 -551.7 -54.5 -556.7 -59.5 -561.5 -62.9 -566.2 -64.4 -566.2 -89.4Z" fill="url(#dg14)"/>
<path d="M-567.6 -89.6 -567.6 -64.6 -562.9 -63.1 -558.1 -59.9 -553.1 -54.9 -547.9 -48.3 -542.4 -43.0 -536.4 -36.9 -530.0 -29.3 -523.1 -20.3 -515.6 -10.5 -507.6 -0.0 -499.0 8.5 -489.9 16.7 -480.2 24.1 -470.0 30.1 -459.4 33.9 -448.3 37.0 -436.9 43.8 -425.3 48.0 -413.5 49.4 -401.6 47.8 -401.6 72.8 -396.6 71.2 -396.6 46.2 -408.5 48.8 -420.3 48.0 -431.9 44.4 -443.3 38.5 -454.4 32.2 -465.0 29.3 -475.2 23.7 -484.9 16.6 -494.0 8.5 -502.6 -0.0 -510.6 -10.5 -518.1 -20.6 -525.0 -29.7 -531.4 -37.7 -537.4 -44.2 -542.9 -48.9 -548.1 -53.3 -553.1 -58.6 -557.9 -62.1 -562.6 -63.9 -562.6 -88.9Z" fill="url(#dg15)"/>
<path d="M-564.0 -89.1 -564.0 -64.1 -559.3 -62.4 -554.5 -59.0 -549.5 -53.8 -544.3 -48.3 -538.8 -43.9 -532.8 -37.5 -526.4 -29.6 -519.5 -20.5 -512.0 -10.5 -504.0 -0.0 -495.4 8.5 -486.3 16.6 -476.6 23.8 -466.4 29.5 -455.8 32.8 -444.7 38.1 -433.3 44.3 -421.7 48.0 -409.9 49.0 -398.0 46.7 -398.0 71.7 -393.0 69.3 -393.0 44.3 -404.9 48.1 -416.7 47.9 -428.3 44.8 -439.7 39.3 -450.8 31.4 -461.4 28.6 -471.6 23.4 -481.3 16.4 -490.4 8.5 -499.0 -0.0 -507.0 -10.6 -514.5 -20.7 -521.4 -30.0 -527.8 -38.2 -533.8 -45.0 -539.3 -50.1 -544.5 -53.1 -549.5 -57.4 -554.3 -61.2 -559.0 -63.1 -559.0 -88.1Z" fill="url(#dg16)"/>
<path d="M-560.4 -88.4 -560.4 -63.4 -555.7 -61.6 -550.9 -57.9 -545.9 -51.9 -540.7 -49.7 -535.2 -44.7 -529.2 -38.0 -522.8 -29.9 -515.9 -20.7 -508.4 -10.6 -500.4 -0.0 -491.8 8.5 -482.7 16.5 -473.0 23.5 -462.8 28.9 -452.2 30.8 -441.1 39.0 -429.7 44.7 -418.1 47.9 -406.3 48.4 -394.4 45.2 -394.4 70.2 -389.4 70.9 -389.4 45.9 -401.3 47.2 -413.1 47.6 -424.7 45.0 -436.1 39.8 -447.2 32.7 -457.8 27.8 -468.0 23.0 -477.7 16.3 -486.8 8.4 -495.4 -0.0 -503.4 -10.6 -510.9 -20.8 -517.8 -30.2 -524.2 -38.6 -530.2 -45.6 -535.7 -51.0 -540.9 -54.7 -545.9 -55.5 -550.7 -60.1 -555.4 -62.3 -555.4 -87.3Z" fill="url(#dg17)"/>
<path d="M-556.8 -87.6 -556.8 -62.6 -552.1 -60.6 -547.3 -56.4 -542.3 -54.1 -537.1 -50.7 -531.6 -45.3 -525.6 -38.4 -519.2 -30.1 -512.3 -20.8 -504.8 -10.6 -496.8 -0.0 -488.2 8.4 -479.1 16.3 -469.4 23.2 -459.2 28.2 -448.6 32.3 -437.5 39.6 -426.1 44.9 -414.5 47.7 -402.7 47.5 -390.8 44.8 -390.8 69.8 -385.8 72.9 -385.8 47.9 -397.7 46.0 -409.5 47.1 -421.1 45.0 -432.5 40.3 -443.6 33.6 -454.2 26.7 -464.4 22.6 -474.1 16.1 -483.2 8.4 -491.8 -0.0 -499.8 -10.6 -507.3 -20.9 -514.2 -30.4 -520.6 -38.9 -526.6 -46.1 -532.1 -51.8 -537.3 -55.8 -542.3 -57.8 -547.1 -58.4 -551.8 -61.2 -551.8 -86.2Z" fill="url(#dg18)"/>
<path d="M-553.2 -86.7 -553.2 -61.7 -548.5 -59.2 -543.7 -57.1 -538.7 -55.4 -533.5 -51.5 -528.0 -45.9 -522.0 -38.8 -515.6 -30.4 -508.7 -20.9 -501.2 -10.6 -493.2 -0.0 -484.6 8.4 -475.5 16.2 -465.8 22.7 -455.6 27.2 -445.0 33.3 -433.9 40.1 -422.5 45.0 -410.9 47.3 -399.1 46.5 -387.2 47.2 -387.2 72.2 -382.2 74.4 -382.2 49.4 -394.1 44.4 -405.9 46.5 -417.5 44.9 -428.9 40.6 -440.0 34.3 -450.6 26.2 -460.8 22.0 -470.5 15.8 -479.6 8.3 -488.2 -0.0 -496.2 -10.7 -503.7 -21.0 -510.6 -30.6 -517.0 -39.2 -523.0 -46.5 -528.5 -52.4 -533.7 -56.7 -538.7 -59.1 -543.5 -59.5 -548.2 -59.8 -548.2 -84.8Z" fill="url(#dg19)"/>
<path d="M-549.6 -85.4 -549.6 -60.4 -544.9 -58.6 -540.1 -58.6 -535.1 -56.3 -529.9 -52.2 -524.4 -46.4 -518.4 -39.1 -512.0 -30.5 -505.1 -21.0 -497.6 -10.7 -489.6 -0.0 -481.0 8.3 -471.9 15.9 -462.2 22.2 -452.0 25.3 -441.4 34.0 -430.3 40.5 -418.9 44.9 -407.3 46.7 -395.5 45.1 -383.6 48.9 -383.6 73.9 -378.6 75.7 -378.6 50.7 -390.5 44.5 -402.3 45.7 -413.9 44.6 -425.3 40.8 -436.4 34.8 -447.0 27.2 -457.2 21.4 -466.9 15.6 -476.0 8.2 -484.6 -0.0 -492.6 -10.7 -500.1 -21.0 -507.0 -30.7 -513.4 -39.5 -519.4 -46.9 -524.9 -53.0 -530.1 -57.4 -535.1 -60.1 -539.9 -61.0 -544.6 -59.6 -544.6 -84.6Z" fill="url(#dg20)"/>
<path d="M-546.0 -83.0 -546.0 -58.0 -541.3 -60.4 -536.5 -59.7 -531.5 -57.1 -526.3 -52.8 -520.8 -46.8 -514.8 -39.4 -508.4 -30.7 -501.5 -21.0 -494.0 -10.7 -486.0 -0.0 -477.4 8.2 -468.3 15.7 -458.6 21.6 -448.4 26.9 -437.8 34.6 -426.7 40.7 -415.3 44.8 -403.7 46.0 -391.9 42.9 -380.0 50.2 -380.0 75.2 -375.9 76.6 -375.9 51.6 -387.8 46.3 -399.6 44.9 -411.2 44.4 -422.6 40.9 -433.7 35.1 -444.3 27.8 -454.5 20.7 -464.2 15.3 -473.3 8.1 -481.9 -0.0 -489.9 -10.6 -497.4 -21.0 -504.3 -30.8 -510.7 -39.6 -516.7 -47.2 -522.2 -53.4 -527.4 -57.9 -532.4 -60.8 -537.2 -61.8 -541.9 -60.9 -541.9 -85.9Z" fill="url(#dg1)"/>
<path d="M-543.3 -85.3 -543.3 -60.3 -538.6 -61.4 -533.8 -60.5 -528.8 -57.7 -523.6 -53.2 -518.1 -47.1 -512.1 -39.5 -505.7 -30.8 -498.8 -21.0 -491.3 -10.6 -483.3 -0.0 -474.7 8.2 -465.6 15.5 -455.9 21.1 -445.7 27.5 -435.1 35.0 -424.0 40.8 -412.6 44.5 -401.0 45.3 -389.2 45.5 -377.3 51.1 -377.3 76.1 -373.2 77.3 -373.2 52.3 -385.1 47.6 -396.9 44.0 -408.5 44.0 -419.9 40.8 -431.0 35.4 -441.6 28.2 -451.8 19.7 -461.5 15.1 -470.6 8.0 -479.2 -0.0 -487.2 -10.6 -494.7 -21.0 -501.6 -30.9 -508.0 -39.7 -514.0 -47.4 -519.5 -53.7 -524.7 -58.4 -529.7 -61.4 -534.5 -62.6 -539.2 -62.0 -539.2 -87.0Z" fill="url(#dg2)"/>
<path d="M-540.6 -86.5 -540.6 -61.5 -535.9 -62.2 -531.1 -61.1 -526.1 -58.1 -520.9 -53.5 -515.4 -47.3 -509.4 -39.7 -503.0 -30.8 -496.1 -21.0 -488.6 -10.6 -480.6 -0.0 -472.0 8.1 -462.9 15.2 -453.2 20.3 -443.0 28.0 -432.4 35.2 -421.3 40.9 -409.9 44.2 -398.3 44.5 -386.5 47.0 -374.6 51.9 -374.6 76.9 -370.5 78.0 -370.5 53.0 -382.4 48.7 -394.2 42.8 -405.8 43.5 -417.2 40.7 -428.3 35.5 -438.9 28.6 -449.1 20.6 -458.8 14.7 -467.9 7.9 -476.5 -0.0 -484.5 -10.6 -492.0 -21.0 -498.9 -30.9 -505.3 -39.8 -511.3 -47.6 -516.8 -54.0 -522.0 -58.8 -527.0 -61.9 -531.8 -63.3 -536.5 -62.8 -536.5 -87.8Z" fill="url(#dg3)"/>
<path d="M-537.9 -87.4 -537.9 -62.4 -533.2 -62.9 -528.4 -61.6 -523.4 -58.6 -518.2 -53.8 -512.7 -47.5 -506.7 -39.8 -500.3 -30.9 -493.4 -21.0 -485.9 -10.6 -477.9 -0.0 -469.3 8.0 -460.2 14.9 -450.5 20.3 -440.3 28.4 -429.7 35.5 -418.6 40.8 -407.2 43.8 -395.6 43.5 -383.8 48.2 -371.9 52.7 -371.9 77.7 -367.8 78.7 -367.8 53.7 -379.7 49.7 -391.5 41.9 -403.1 43.0 -414.5 40.6 -425.6 35.7 -436.2 28.9 -446.4 21.1 -456.1 14.4 -465.2 7.8 -473.8 -0.0 -481.8 -10.6 -489.3 -21.0 -496.2 -30.9 -502.6 -39.9 -508.6 -47.8 -514.1 -54.2 -519.3 -59.1 -524.3 -62.4 -529.1 -63.9 -533.8 -63.6 -533.8 -88.6Z" fill="url(#dg4)"/>
<path d="M-535.2 -88.2 -535.2 -63.2 -530.5 -63.6 -525.7 -62.1 -520.7 -59.0 -515.5 -54.1 -510.0 -47.7 -504.0 -39.9 -497.6 -30.9 -490.7 -21.0 -483.2 -10.6 -475.2 -0.0 -466.6 7.9 -457.5 14.6 -447.8 20.9 -437.6 28.8 -427.0 35.6 -415.9 40.7 -404.5 43.3 -392.9 42.0 -381.1 49.2 -369.2 53.3 -369.2 78.3 -365.1 79.2 -365.1 54.2 -377.0 50.6 -388.8 44.0 -400.4 42.3 -411.8 40.3 -422.9 35.7 -433.5 29.2 -443.7 21.5 -453.4 13.9 -462.5 7.7 -471.1 -0.0 -479.1 -10.5 -486.6 -21.0 -493.5 -30.9 -499.9 -40.0 -505.9 -47.9 -511.4 -54.5 -516.6 -59.5 -521.6 -62.8 -526.4 -64.4 -531.1 -64.2 -531.1 -89.2Z" fill="url(#dg5)"/>
<path d="M-532.5 -88.9 -532.5 -63.9 -527.8 -64.1 -523.0 -62.6 -518.0 -59.3 -512.8 -54.4 -507.3 -47.8 -501.3 -40.0 -494.9 -30.9 -488.0 -21.0 -480.5 -10.6 -472.5 -0.0 -463.9 7.7 -454.8 14.1 -445.1 21.3 -434.9 29.1 -424.3 35.7 -413.2 40.5 -401.8 42.7 -390.2 43.1 -378.4 50.1 -366.5 54.0 -366.5 79.0 -362.4 79.8 -362.4 54.8 -374.3 51.4 -386.1 45.4 -397.7 41.5 -409.1 40.0 -420.2 35.7 -430.8 29.4 -441.0 21.9 -450.7 13.8 -459.8 7.5 -468.4 -0.0 -476.4 -10.5 -483.9 -20.9 -490.8 -30.9 -497.2 -40.0 -503.2 -48.0 -508.7 -54.7 -513.9 -59.8 -518.9 -63.2 -523.7 -64.9 -528.4 -64.8 -528.4 -89.8Z" fill="url(#dg6)"/>
<path d="M-529.8 -89.5 -529.8 -64.5 -525.1 -64.6 -520.3 -63.0 -515.3 -59.6 -510.1 -54.6 -504.6 -48.0 -498.6 -40.0 -492.2 -30.9 -485.3 -21.0 -477.8 -10.5 -469.8 -0.0 -461.2 7.6 -452.1 13.4 -442.4 21.7 -432.2 29.3 -421.6 35.7 -410.5 40.2 -399.1 42.0 -387.5 44.7 -375.7 51.0 -363.8 54.5 -363.8 79.5 -359.7 80.2 -359.7 55.2 -371.6 52.1 -383.4 46.5 -395.0 40.5 -406.4 39.6 -417.5 35.6 -428.1 29.5 -438.3 22.2 -448.0 14.2 -457.1 7.4 -465.7 -0.0 -473.7 -10.5 -481.2 -20.9 -488.1 -30.9 -494.5 -40.0 -500.5 -48.1 -506.0 -54.8 -511.2 -60.0 -516.2 -63.5 -521.0 -65.3 -525.7 -65.3 -525.7 -90.3Z" fill="url(#dg7)"/>
<path d="M-527.1 -90.1 -527.1 -65.1 -522.4 -65.1 -517.6 -63.4 -512.6 -59.9 -507.4 -54.7 -501.9 -48.1 -495.9 -40.0 -489.5 -30.9 -482.6 -20.9 -475.1 -10.5 -467.1 -0.0 -458.5 7.4 -449.4 14.0 -439.7 22.0 -429.5 29.5 -418.9 35.7 -407.8 39.8 -396.4 41.1 -384.8 46.0 -373.0 51.7 -361.1 55.0 -361.1 80.0 -357.0 80.6 -357.0 55.6 -368.9 52.8 -380.7 47.5 -392.3 38.9 -403.7 39.1 -414.8 35.5 -425.4 29.6 -435.6 22.4 -445.3 14.5 -454.4 7.1 -463.0 -0.0 -471.0 -10.4 -478.5 -20.8 -485.4 -30.8 -491.8 -40.0 -497.8 -48.1 -503.3 -54.9 -508.5 -60.2 -513.5 -63.8 -518.3 -65.7 -523.0 -65.8 -523.0 -90.8Z" fill="url(#dg8)"/>
<path d="M-524.4 -90.6 -524.4 -65.6 -519.7 -65.5 -514.9 -63.7 -509.9 -60.1 -504.7 -54.9 -499.2 -48.1 -493.2 -40.0 -486.8 -30.8 -479.9 -20.9 -472.4 -10.4 -464.4 -0.0 -455.8 7.3 -446.7 14.4 -437.0 22.3 -426.8 29.6 -416.2 35.6 -405.1 39.4 -393.7 39.9 -382.1 47.0 -370.3 52.4 -358.4 55.4 -358.4 80.4 -354.3 81.0 -354.3 56.0 -366.2 53.4 -378.0 48.4 -389.6 40.8 -401.0 38.6 -412.1 35.3 -422.7 29.7 -432.9 22.6 -442.6 14.8 -451.7 6.8 -460.3 -0.0 -468.3 -10.3 -475.8 -20.7 -482.7 -30.7 -489.1 -40.0 -495.1 -48.2 -500.6 -55.0 -505.8 -60.4 -510.8 -64.1 -515.6 -66.0 -520.3 -66.2 -520.3 -91.2Z" fill="url(#dg9)"/>
<path d="M-521.7 -91.0 -521.7 -66.0 -517.0 -65.9 -512.2 -64.0 -507.2 -60.3 -502.0 -55.0 -496.5 -48.2 -490.5 -40.0 -484.1 -30.8 -477.2 -20.8 -469.7 -10.4 -461.7 -0.0 -453.1 7.0 -444.0 14.6 -434.3 22.5 -424.1 29.7 -413.5 35.4 -402.4 38.9 -391.0 39.7 -379.4 48.0 -367.6 53.1 -355.7 55.8 -355.7 80.8 -351.6 81.3 -351.6 56.3 -363.5 53.9 -375.3 49.2 -386.9 42.2 -398.3 37.9 -409.4 35.0 -420.0 29.7 -430.2 22.7 -439.9 15.0 -449.0 7.1 -457.6 -0.0 -465.6 -10.3 -473.1 -20.6 -480.0 -30.6 -486.4 -39.9 -492.4 -48.1 -497.9 -55.1 -503.1 -60.5 -508.1 -64.3 -512.9 -66.3 -517.6 -66.6 -517.6 -91.6Z" fill="url(#dg10)"/>
<path d="M-519.0 -91.4 -519.0 -66.4 -514.3 -66.2 -509.5 -64.2 -504.5 -60.4 -499.3 -55.1 -493.8 -48.2 -487.8 -40.0 -481.4 -30.7 -474.5 -20.7 -467.0 -10.3 -459.0 -0.0 -450.4 7.0 -441.3 14.9 -431.6 22.7 -421.4 29.7 -410.8 35.2 -399.7 38.3 -388.3 41.5 -376.7 48.8 -364.9 53.6 -353.0 56.2 -353.0 81.2 -348.9 81.6 -348.9 56.6 -360.8 54.4 -372.6 49.9 -384.2 43.3 -395.6 37.0 -406.7 34.7 -417.3 29.6 -427.5 22.8 -437.2 15.2 -446.3 7.3 -454.9 -0.0 -462.9 -10.2 -470.4 -20.5 -477.3 -30.5 -483.7 -39.8 -489.7 -48.1 -495.2 -55.1 -500.4 -60.6 -505.4 -64.5 -510.2 -66.6 -514.9 -67.0 -514.9 -92.0Z" fill="url(#dg11)"/>
<path d="M-516.3 -91.8 -516.3 -66.8 -511.6 -66.5 -506.8 -64.4 -501.8 -60.6 -496.6 -55.1 -491.1 -48.1 -485.1 -39.9 -478.7 -30.6 -471.8 -20.6 -464.3 -10.2 -456.3 -0.0 -447.7 7.2 -438.6 15.1 -428.9 22.8 -418.7 29.6 -408.1 34.9 -397.0 37.5 -385.6 42.7 -374.0 49.6 -362.2 54.1 -350.3 56.4 -350.3 81.4 -346.2 81.8 -346.2 56.8 -358.1 54.8 -369.9 50.6 -381.5 44.3 -392.9 35.8 -404.0 34.3 -414.6 29.5 -424.8 22.9 -434.5 15.3 -443.6 7.4 -452.2 -0.0 -460.2 -10.1 -467.7 -20.4 -474.6 -30.4 -481.0 -39.7 -487.0 -48.0 -492.5 -55.1 -497.7 -60.7 -502.7 -64.6 -507.5 -66.8 -512.2 -67.2 -512.2 -92.2Z" fill="url(#dg12)"/>
<path d="M-513.6 -92.1 -513.6 -67.1 -508.9 -66.7 -504.1 -64.5 -499.1 -60.6 -493.9 -55.1 -488.4 -48.1 -482.4 -39.8 -476.0 -30.5 -469.1 -20.5 -461.6 -10.2 -453.6 -0.0 -445.0 7.4 -435.9 15.2 -426.2 22.9 -416.0 29.6 -405.4 34.5 -394.3 36.5 -382.9 43.8 -371.3 50.2 -359.5 54.6 -347.6 56.7 -347.6 81.7 -343.5 81.9 -343.5 56.9 -355.4 55.2 -367.2 51.2 -378.8 45.1 -390.2 36.7 -401.3 33.8 -411.9 29.3 -422.1 22.9 -431.8 15.4 -440.9 7.5 -449.5 -0.0 -457.5 -10.0 -465.0 -20.3 -471.9 -30.3 -478.3 -39.6 -484.3 -47.9 -489.8 -55.0 -495.0 -60.7 -500.0 -64.7 -504.8 -67.0 -509.5 -67.5 -509.5 -92.5Z" fill="url(#dg13)"/>
<path d="M-510.9 -92.4 -510.9 -67.4 -506.2 -66.9 -501.4 -64.7 -496.4 -60.7 -491.2 -55.1 -485.7 -48.0 -479.7 -39.7 -473.3 -30.3 -466.4 -20.3 -458.9 -10.1 -450.9 -0.0 -442.3 7.5 -433.2 15.4 -423.5 22.9 -413.3 29.4 -402.7 34.0 -391.6 35.5 -380.2 44.7 -368.6 50.9 -356.8 55.0 -344.9 56.9 -344.9 81.9 -340.8 82.1 -340.8 57.1 -352.7 55.5 -364.5 51.7 -376.1 45.9 -387.5 38.0 -398.6 33.2 -409.2 29.1 -419.4 22.9 -429.1 15.5 -438.2 7.6 -446.8 -0.0 -454.8 -9.9 -462.3 -20.1 -469.2 -30.1 -475.6 -39.4 -481.6 -47.8 -487.1 -55.0 -492.3 -60.7 -497.3 -64.8 -502.1 -67.1 -506.8 -67.7 -506.8 -92.7Z" fill="url(#dg14)"/>
<path d="M-508.2 -92.6 -508.2 -67.6 -503.5 -67.1 -498.7 -64.7 -493.7 -60.7 -488.5 -55.0 -483.0 -47.9 -477.0 -39.5 -470.6 -30.2 -463.7 -20.2 -456.2 -10.0 -448.2 -0.0 -439.6 7.6 -430.5 15.5 -420.8 22.9 -410.6 29.2 -400.0 33.5 -388.9 37.4 -377.5 45.5 -365.9 51.4 -354.1 55.3 -342.2 57.0 -342.2 82.0 -338.1 82.1 -338.1 57.1 -350.0 55.8 -361.8 52.2 -373.4 46.6 -384.8 39.1 -395.9 32.4 -406.5 28.8 -416.7 22.8 -426.4 15.6 -435.5 7.7 -444.1 -0.0 -452.1 -9.8 -459.6 -20.0 -466.5 -29.9 -472.9 -39.2 -478.9 -47.7 -484.4 -54.9 -489.6 -60.6 -494.6 -64.8 -499.4 -67.2 -504.1 -67.9 -504.1 -92.9Z" fill="url(#dg15)"/>
<path d="M-505.5 -92.8 -505.5 -67.8 -500.8 -67.2 -496.0 -64.8 -491.0 -60.7 -485.8 -54.9 -480.3 -47.7 -474.3 -39.3 -467.9 -30.0 -461.0 -20.0 -453.5 -9.9 -445.5 -0.0 -436.9 7.7 -427.8 15.5 -418.1 22.9 -407.9 29.0 -397.3 32.8 -386.2 38.6 -374.8 46.2 -363.2 51.9 -351.4 55.6 -339.5 57.1 -339.5 82.1 -335.4 82.1 -335.4 57.1 -347.3 56.0 -359.1 52.6 -370.7 47.2 -382.1 40.0 -393.2 31.4 -403.8 28.5 -414.0 22.7 -423.7 15.6 -432.8 7.8 -441.4 -0.0 -449.4 -9.7 -456.9 -19.8 -463.8 -29.7 -470.2 -39.0 -476.2 -47.5 -481.7 -54.7 -486.9 -60.5 -491.9 -64.8 -496.7 -67.3 -501.4 -68.0 -501.4 -93.0Z" fill="url(#dg16)"/>
<path d="M-502.8 -92.9 -502.8 -67.9 -498.1 -67.2 -493.3 -64.8 -488.3 -60.6 -483.1 -54.8 -477.6 -47.6 -471.6 -39.2 -465.2 -29.8 -458.3 -19.9 -450.8 -9.8 -442.8 -0.0 -434.2 7.8 -425.1 15.6 -415.4 22.8 -405.2 28.6 -394.6 32.0 -383.5 39.6 -372.1 46.9 -360.5 52.4 -348.7 55.9 -336.8 57.1 -336.8 82.1 -332.7 82.1 -332.7 57.1 -344.6 56.2 -356.4 53.0 -368.0 47.8 -379.4 40.8 -390.5 31.9 -401.1 28.0 -411.3 22.6 -421.0 15.6 -430.1 7.8 -438.7 -0.0 -446.7 -9.6 -454.2 -19.6 -461.1 -29.5 -467.5 -38.8 -473.5 -47.3 -479.0 -54.5 -484.2 -60.4 -489.2 -64.7 -494.0 -67.3 -498.7 -68.1 -498.7 -93.1Z" fill="url(#dg17)"/>
<path d="M-500.1 -93.0 -500.1 -68.0 -495.4 -67.3 -490.6 -64.7 -485.6 -60.5 -480.4 -54.6 -474.9 -47.4 -468.9 -38.9 -462.5 -29.6 -455.6 -19.7 -448.1 -9.6 -440.1 -0.0 -431.5 7.8 -422.4 15.6 -412.7 22.7 -402.5 28.3 -391.9 30.8 -380.8 40.4 -369.4 47.5 -357.8 52.8 -346.0 56.1 -334.1 57.1 -334.1 82.1 -330.0 82.0 -330.0 57.0 -341.9 56.3 -353.7 53.3 -365.3 48.3 -376.7 41.5 -387.8 33.2 -398.4 27.5 -408.6 22.4 -418.3 15.6 -427.4 7.9 -436.0 -0.0 -444.0 -9.4 -451.5 -19.3 -458.4 -29.2 -464.8 -38.5 -470.8 -47.0 -476.3 -54.3 -481.5 -60.3 -486.5 -64.6 -491.3 -67.2 -496.0 -68.1 -496.0 -93.1Z" fill="url(#dg18)"/>
<path d="M-497.4 -93.1 -497.4 -68.1 -492.7 -67.3 -487.9 -64.7 -482.9 -60.3 -477.7 -54.4 -472.2 -47.2 -466.2 -38.7 -459.8 -29.3 -452.9 -19.5 -445.4 -9.5 -437.4 -0.0 -428.8 7.9 -419.7 15.6 -410.0 22.5 -399.8 27.8 -389.2 32.6 -378.1 41.2 -366.7 48.0 -355.1 53.2 -343.3 56.3 -331.4 57.1 -331.4 82.1 -327.3 81.9 -327.3 56.9 -339.2 56.4 -351.0 53.6 -362.6 48.8 -374.0 42.2 -385.1 34.1 -395.7 26.9 -405.9 22.2 -415.6 15.5 -424.7 7.9 -433.3 -0.0 -441.3 -9.2 -448.8 -19.1 -455.7 -28.9 -462.1 -38.3 -468.1 -46.7 -473.6 -54.1 -478.8 -60.1 -483.8 -64.5 -488.6 -67.2 -493.3 -68.1 -493.3 -93.1Z" fill="url(#dg19)"/>
<path d="M-494.7 -93.1 -494.7 -68.1 -490.0 -67.2 -485.2 -64.5 -480.2 -60.2 -475.0 -54.2 -469.5 -46.9 -463.5 -38.4 -457.1 -29.1 -450.2 -19.2 -442.7 -9.3 -434.7 -0.0 -426.1 7.9 -417.0 15.6 -407.3 22.3 -397.1 27.3 -386.5 33.6 -375.4 41.8 -364.0 48.5 -352.4 53.5 -340.6 56.4 -328.7 56.9 -328.7 81.9 -324.6 81.7 -324.6 56.7 -336.5 56.4 -348.3 53.9 -359.9 49.2 -371.3 42.7 -382.4 34.9 -393.0 26.0 -403.2 21.9 -412.9 15.4 -422.0 7.9 -430.6 -0.0 -438.6 -9.1 -446.1 -18.8 -453.0 -28.6 -459.4 -37.9 -465.4 -46.4 -470.9 -53.8 -476.1 -59.8 -481.1 -64.3 -485.9 -67.1 -490.6 -68.1 -490.6 -93.1Z" fill="url(#dg20)"/>
<path d="M-492.0 -93.1 -492.0 -68.1 -487.3 -67.1 -482.5 -64.4 -477.5 -60.0 -472.3 -54.0 -466.8 -46.6 -460.8 -38.1 -454.4 -28.8 -447.5 -19.0 -440.0 -8.9 -432.0 -0.0 -423.4 7.9 -414.3 15.5 -404.6 22.1 -394.4 26.5 -383.8 34.5 -372.7 42.4 -361.3 49.0 -349.7 53.7 -337.9 56.4 -326.0 56.8 -326.0 81.8 -322.5 81.5 -322.5 56.5 -334.4 56.4 -346.2 54.0 -357.8 49.5 -369.2 43.2 -380.3 35.5 -390.9 26.3 -401.1 21.7 -410.8 15.4 -419.9 7.9 -428.5 -0.0 -436.5 -9.2 -444.0 -18.5 -450.9 -28.3 -457.3 -37.7 -463.3 -46.2 -468.8 -53.6 -474.0 -59.6 -479.0 -64.1 -483.8 -66.9 -488.5 -68.0 -488.5 -93.0Z" fill="url(#dg1)"/>
<path d="M-489.9 -93.0 -489.9 -68.0 -485.2 -67.0 -480.4 -64.2 -475.4 -59.8 -470.2 -53.7 -464.7 -46.4 -458.7 -37.8 -452.3 -28.5 -445.4 -18.7 -437.9 -9.2 -429.9 -0.0 -421.3 7.9 -412.2 15.4 -402.5 21.8 -392.3 25.6 -381.7 35.1 -370.6 42.9 -359.2 49.3 -347.6 53.9 -335.8 56.4 -323.9 56.6 -323.9 81.6 -320.4 81.3 -320.4 56.3 -332.3 56.4 -344.1 54.1 -355.7 49.7 -367.1 43.5 -378.2 36.0 -388.8 27.2 -399.0 21.4 -408.7 15.3 -417.8 7.9 -426.4 -0.0 -434.4 -9.4 -441.9 -18.2 -448.8 -28.0 -455.2 -37.4 -461.2 -45.9 -466.7 -53.3 -471.9 -59.4 -476.9 -63.9 -481.7 -66.8 -486.4 -67.9 -486.4 -92.9Z" fill="url(#dg2)"/>
<path d="M-487.8 -93.0 -487.8 -68.0 -483.1 -66.9 -478.3 -64.1 -473.3 -59.5 -468.1 -53.5 -462.6 -46.1 -456.6 -37.6 -450.2 -28.2 -443.3 -18.4 -435.8 -9.3 -427.8 -0.0 -419.2 7.9 -410.1 15.3 -400.4 21.6 -390.2 26.6 -379.6 35.6 -368.5 43.3 -357.1 49.6 -345.5 54.1 -333.7 56.4 -321.8 56.4 -321.8 81.4 -318.3 81.0 -318.3 56.0 -330.2 56.3 -342.0 54.2 -353.6 50.0 -365.0 43.9 -376.1 36.4 -386.7 27.9 -396.9 21.0 -406.6 15.1 -415.7 7.9 -424.3 -0.0 -432.3 -9.4 -439.8 -17.7 -446.7 -27.7 -453.1 -37.1 -459.1 -45.6 -464.6 -53.0 -469.8 -59.1 -474.8 -63.7 -479.6 -66.6 -484.3 -67.8 -484.3 -92.8Z" fill="url(#dg3)"/>
<path d="M-485.7 -92.9 -485.7 -67.9 -481.0 -66.8 -476.2 -63.9 -471.2 -59.3 -466.0 -53.2 -460.5 -45.8 -454.5 -37.3 -448.1 -27.9 -441.2 -18.1 -433.7 -9.4 -425.7 -0.0 -417.1 7.9 -408.0 15.2 -398.3 21.3 -388.1 27.4 -377.5 36.1 -366.4 43.7 -355.0 49.8 -343.4 54.2 -331.6 56.4 -319.7 56.2 -319.7 81.2 -316.2 80.8 -316.2 55.8 -328.1 56.2 -339.9 54.3 -351.5 50.2 -362.9 44.2 -374.0 36.9 -384.6 28.5 -394.8 20.6 -404.5 15.0 -413.6 7.8 -422.2 -0.0 -430.2 -9.5 -437.7 -18.1 -444.6 -27.3 -451.0 -36.7 -457.0 -45.3 -462.5 -52.7 -467.7 -58.9 -472.7 -63.5 -477.5 -66.5 -482.2 -67.7 -482.2 -92.7Z" fill="url(#dg4)"/>
<path d="M-483.6 -92.8 -483.6 -67.8 -478.9 -66.6 -474.1 -63.6 -469.1 -59.0 -463.9 -52.9 -458.4 -45.5 -452.4 -36.9 -446.0 -27.6 -439.1 -17.9 -431.6 -9.5 -423.6 -0.0 -415.0 7.9 -405.9 15.1 -396.2 20.9 -386.0 28.1 -375.4 36.6 -364.3 44.0 -352.9 50.0 -341.3 54.2 -329.5 56.3 -317.6 56.0 -317.6 81.0 -314.1 80.5 -314.1 55.5 -326.0 56.1 -337.8 54.3 -349.4 50.4 -360.8 44.5 -371.9 37.3 -382.5 29.0 -392.7 20.0 -402.4 14.8 -411.5 7.8 -420.1 -0.0 -428.1 -9.6 -435.6 -18.4 -442.5 -26.9 -448.9 -36.3 -454.9 -44.9 -460.4 -52.4 -465.6 -58.6 -470.6 -63.2 -475.4 -66.2 -480.1 -67.5 -480.1 -92.5Z" fill="url(#dg5)"/>
<path d="M-481.5 -92.6 -481.5 -67.6 -476.8 -66.4 -472.0 -63.4 -467.0 -58.8 -461.8 -52.6 -456.3 -45.1 -450.3 -36.6 -443.9 -27.2 -437.0 -18.2 -429.5 -9.5 -421.5 -0.0 -412.9 7.8 -403.8 15.0 -394.1 20.4 -383.9 28.6 -373.3 37.0 -362.2 44.3 -350.8 50.2 -339.2 54.3 -327.4 56.2 -315.5 55.7 -315.5 80.7 -312.0 80.1 -312.0 55.1 -323.9 55.9 -335.7 54.3 -347.3 50.5 -358.7 44.8 -369.8 37.6 -380.4 29.4 -390.6 20.4 -400.3 14.7 -409.4 7.7 -418.0 -0.0 -426.0 -9.6 -433.5 -18.6 -440.4 -26.2 -446.8 -35.9 -452.8 -44.5 -458.3 -52.0 -463.5 -58.2 -468.5 -62.9 -473.3 -66.0 -478.0 -67.3 -478.0 -92.3Z" fill="url(#dg6)"/>
<path d="M-479.4 -92.5 -479.4 -67.5 -474.7 -66.2 -469.9 -63.1 -464.9 -58.4 -459.7 -52.3 -454.2 -44.8 -448.2 -36.2 -441.8 -26.7 -434.9 -18.4 -427.4 -9.6 -419.4 -0.0 -410.8 7.8 -401.7 14.8 -392.0 19.6 -381.8 29.1 -371.2 37.4 -360.1 44.6 -348.7 50.4 -337.1 54.3 -325.3 56.0 -313.4 55.4 -313.4 80.4 -309.9 79.8 -309.9 54.8 -321.8 55.7 -333.6 54.3 -345.2 50.7 -356.6 45.1 -367.7 38.0 -378.3 29.9 -388.5 21.1 -398.2 14.5 -407.3 7.7 -415.9 -0.0 -423.9 -9.7 -431.4 -18.7 -438.3 -26.5 -444.7 -35.4 -450.7 -44.1 -456.2 -51.6 -461.4 -57.9 -466.4 -62.6 -471.2 -65.7 -475.9 -67.1 -475.9 -92.1Z" fill="url(#dg7)"/>
<path d="M-477.3 -92.3 -477.3 -67.3 -472.6 -65.9 -467.8 -62.8 -462.8 -58.1 -457.6 -51.9 -452.1 -44.4 -446.1 -35.8 -439.7 -26.1 -432.8 -18.6 -425.3 -9.7 -417.3 -0.0 -408.7 7.7 -399.6 14.6 -389.9 20.7 -379.7 29.6 -369.1 37.7 -358.0 44.9 -346.6 50.6 -335.0 54.3 -323.2 55.9 -311.3 55.0 -311.3 80.0 -307.8 79.3 -307.8 54.3 -319.7 55.5 -331.5 54.3 -343.1 50.8 -354.5 45.3 -365.6 38.3 -376.2 30.3 -386.4 21.6 -396.1 14.2 -405.2 7.6 -413.8 -0.0 -421.8 -9.7 -429.3 -18.9 -436.2 -26.9 -442.6 -34.9 -448.6 -43.6 -454.1 -51.2 -459.3 -57.5 -464.3 -62.3 -469.1 -65.4 -473.8 -66.9 -473.8 -91.9Z" fill="url(#dg8)"/>
<path d="M-475.2 -92.0 -475.2 -67.0 -470.5 -65.6 -465.7 -62.5 -460.7 -57.8 -455.5 -51.5 -450.0 -43.9 -444.0 -35.3 -437.6 -26.7 -430.7 -18.8 -423.2 -9.7 -415.2 -0.0 -406.6 7.7 -397.5 14.4 -387.8 21.3 -377.6 30.0 -367.0 38.1 -355.9 45.1 -344.5 50.7 -332.9 54.3 -321.1 55.7 -309.2 54.6 -309.2 79.6 -305.7 78.9 -305.7 53.9 -317.6 55.3 -329.4 54.2 -341.0 50.8 -352.4 45.5 -363.5 38.6 -374.1 30.6 -384.3 22.0 -394.0 13.9 -403.1 7.5 -411.7 -0.0 -419.7 -9.8 -427.2 -19.0 -434.1 -27.2 -440.5 -34.0 -446.5 -43.1 -452.0 -50.8 -457.2 -57.1 -462.2 -61.9 -467.0 -65.1 -471.7 -66.6 -471.7 -91.6Z" fill="url(#dg9)"/>
<path d="M-473.1 -91.8 -473.1 -66.8 -468.4 -65.3 -463.6 -62.2 -458.6 -57.4 -453.4 -51.1 -447.9 -43.5 -441.9 -34.6 -435.5 -27.0 -428.6 -18.9 -421.1 -9.7 -413.1 -0.0 -404.5 7.6 -395.4 14.1 -385.7 21.8 -375.5 30.4 -364.9 38.4 -353.8 45.4 -342.4 50.8 -330.8 54.2 -319.0 55.4 -307.1 54.2 -307.1 79.2 -303.6 78.4 -303.6 53.4 -315.5 55.0 -327.3 54.1 -338.9 50.9 -350.3 45.7 -361.4 38.9 -372.0 30.9 -382.2 22.4 -391.9 13.4 -401.0 7.5 -409.6 -0.0 -417.6 -9.8 -425.1 -19.1 -432.0 -27.4 -438.4 -34.3 -444.4 -42.5 -449.9 -50.3 -455.1 -56.6 -460.1 -61.5 -464.9 -64.8 -469.6 -66.3 -469.6 -91.3Z" fill="url(#dg10)"/>
<path d="M-471.0 -91.5 -471.0 -66.5 -466.3 -65.0 -461.5 -61.8 -456.5 -56.9 -451.3 -50.6 -445.8 -42.9 -439.8 -33.7 -433.4 -27.3 -426.5 -19.0 -419.0 -9.8 -411.0 -0.0 -402.4 7.5 -393.3 13.7 -383.6 22.2 -373.4 30.7 -362.8 38.7 -351.7 45.6 -340.3 50.9 -328.7 54.2 -316.9 55.2 -305.0 53.8 -305.0 78.8 -301.5 77.9 -301.5 52.9 -313.4 54.7 -325.2 53.9 -336.8 50.9 -348.2 45.8 -359.3 39.1 -369.9 31.3 -380.1 22.8 -389.8 14.1 -398.9 7.4 -407.5 -0.0 -415.5 -9.8 -423.0 -19.2 -429.9 -27.7 -436.3 -34.8 -442.3 -41.8 -447.8 -49.7 -453.0 -56.2 -458.0 -61.1 -462.8 -64.4 -467.5 -66.0 -467.5 -91.0Z" fill="url(#dg11)"/>
<path d="M-468.9 -91.2 -468.9 -66.2 -464.2 -64.7 -459.4 -61.4 -454.4 -56.5 -449.2 -50.1 -443.7 -42.3 -437.7 -34.5 -431.3 -27.5 -424.4 -19.1 -416.9 -9.8 -408.9 -0.0 -400.3 7.4 -391.2 13.7 -381.5 22.6 -371.3 31.1 -360.7 38.9 -349.6 45.7 -338.2 50.9 -326.6 54.0 -314.8 54.9 -302.9 53.3 -302.9 78.3 -299.4 77.3 -299.4 52.3 -311.3 54.3 -323.1 53.8 -334.7 50.9 -346.1 45.9 -357.2 39.3 -367.8 31.5 -378.0 23.1 -387.7 14.5 -396.8 7.2 -405.4 -0.0 -413.4 -9.8 -420.9 -19.3 -427.8 -27.8 -434.2 -35.2 -440.2 -40.6 -445.7 -49.1 -450.9 -55.6 -455.9 -60.6 -460.7 -64.0 -465.4 -65.7 -465.4 -90.7Z" fill="url(#dg12)"/>
<path d="M-466.8 -90.9 -466.8 -65.9 -462.1 -64.3 -457.3 -60.9 -452.3 -56.0 -447.1 -49.5 -441.6 -41.5 -435.6 -34.9 -429.2 -27.7 -422.3 -19.2 -414.8 -9.8 -406.8 -0.0 -398.2 7.3 -389.1 14.3 -379.4 22.9 -369.2 31.4 -358.6 39.2 -347.5 45.9 -336.1 50.9 -324.5 53.9 -312.7 54.6 -300.8 52.7 -300.8 77.7 -297.3 76.7 -297.3 51.7 -309.2 53.9 -321.0 53.6 -332.6 50.9 -344.0 46.0 -355.1 39.5 -365.7 31.8 -375.9 23.4 -385.6 14.8 -394.7 7.1 -403.3 -0.0 -411.3 -9.8 -418.8 -19.3 -425.7 -28.0 -432.1 -35.5 -438.1 -41.4 -443.6 -48.4 -448.8 -55.1 -453.8 -60.1 -458.6 -63.6 -463.3 -65.3 -463.3 -90.3Z" fill="url(#dg13)"/>
<path d="M-464.7 -90.6 -464.7 -65.6 -460.0 -63.9 -455.2 -60.5 -450.2 -55.4 -445.0 -48.9 -439.5 -40.8 -433.5 -35.3 -427.1 -27.9 -420.2 -19.3 -412.7 -9.8 -404.7 -0.0 -396.1 7.2 -387.0 14.6 -377.3 23.2 -367.1 31.6 -356.5 39.4 -345.4 46.0 -334.0 50.9 -322.4 53.7 -310.6 54.2 -298.7 52.1 -298.7 77.1 -295.2 76.1 -295.2 51.1 -307.1 53.5 -318.9 53.4 -330.5 50.8 -341.9 46.1 -353.0 39.7 -363.6 32.1 -373.8 23.7 -383.5 15.1 -392.6 6.9 -401.2 -0.0 -409.2 -9.8 -416.7 -19.4 -423.6 -28.1 -430.0 -35.8 -436.0 -41.9 -441.5 -47.5 -446.7 -54.4 -451.7 -59.6 -456.5 -63.1 -461.2 -64.9 -461.2 -89.9Z" fill="url(#dg14)"/>
<path d="M-462.6 -90.2 -462.6 -65.2 -457.9 -63.4 -453.1 -60.0 -448.1 -54.9 -442.9 -48.1 -437.4 -41.6 -431.4 -35.6 -425.0 -28.1 -418.1 -19.3 -410.6 -9.8 -402.6 -0.0 -394.0 7.0 -384.9 14.9 -375.2 23.5 -365.0 31.9 -354.4 39.6 -343.3 46.1 -331.9 50.9 -320.3 53.5 -308.5 53.8 -296.6 51.5 -296.6 76.5 -293.1 75.4 -293.1 50.4 -305.0 53.1 -316.8 53.1 -328.4 50.7 -339.8 46.2 -350.9 39.9 -361.5 32.3 -371.7 23.9 -381.4 15.4 -390.5 7.1 -399.1 -0.0 -407.1 -9.8 -414.6 -19.4 -421.5 -28.3 -427.9 -36.0 -433.9 -42.4 -439.4 -46.7 -444.6 -53.7 -449.6 -59.0 -454.4 -62.6 -459.1 -64.5 -459.1 -89.5Z" fill="url(#dg15)"/>
<path d="M-460.5 -89.8 -460.5 -64.8 -455.8 -62.9 -451.0 -59.4 -446.0 -54.2 -440.8 -47.0 -435.3 -42.1 -429.3 -35.9 -422.9 -28.2 -416.0 -19.4 -408.5 -9.8 -400.5 -0.0 -391.9 6.8 -382.8 15.2 -373.1 23.8 -362.9 32.1 -352.3 39.8 -341.2 46.1 -329.8 50.8 -318.2 53.3 -306.4 53.4 -294.5 50.8 -294.5 75.8 -291.0 74.5 -291.0 49.5 -302.9 52.6 -314.7 52.8 -326.3 50.6 -337.7 46.2 -348.8 40.0 -359.4 32.5 -369.6 24.2 -379.3 15.6 -388.4 7.3 -397.0 -0.0 -405.0 -9.8 -412.5 -19.4 -419.4 -28.3 -425.8 -36.2 -431.8 -42.8 -437.3 -47.6 -442.5 -52.8 -447.5 -58.3 -452.3 -62.1 -457.0 -64.0 -457.0 -89.0Z" fill="url(#dg16)"/>
<path d="M-458.4 -89.3 -458.4 -64.3 -453.7 -62.4 -448.9 -58.8 -443.9 -53.4 -438.7 -47.1 -433.2 -42.5 -427.2 -36.1 -420.8 -28.3 -413.9 -19.4 -406.4 -9.8 -398.4 -0.0 -389.8 7.1 -380.7 15.4 -371.0 24.0 -360.8 32.4 -350.2 39.9 -339.1 46.2 -327.7 50.7 -316.1 53.0 -304.3 52.9 -292.4 50.1 -292.4 75.1 -288.9 73.6 -288.9 48.6 -300.8 52.1 -312.6 52.5 -324.2 50.5 -335.6 46.2 -346.7 40.1 -357.3 32.7 -367.5 24.4 -377.2 15.8 -386.3 7.5 -394.9 -0.0 -402.9 -9.8 -410.4 -19.4 -417.3 -28.4 -423.7 -36.4 -429.7 -43.1 -435.2 -48.2 -440.4 -51.5 -445.4 -57.6 -450.2 -61.5 -454.9 -63.5 -454.9 -88.5Z" fill="url(#dg17)"/>
<path d="M-456.3 -88.8 -456.3 -63.8 -451.6 -61.9 -446.8 -58.1 -441.8 -52.5 -436.6 -47.8 -431.1 -42.9 -425.1 -36.3 -418.7 -28.4 -411.8 -19.4 -404.3 -9.8 -396.3 -0.0 -387.7 7.3 -378.6 15.7 -368.9 24.3 -358.7 32.6 -348.1 40.1 -337.0 46.2 -325.6 50.6 -314.0 52.7 -302.2 52.4 -290.3 49.3 -290.3 74.3 -286.8 72.6 -286.8 47.6 -298.7 51.5 -310.5 52.2 -322.1 50.3 -333.5 46.2 -344.6 40.2 -355.2 32.9 -365.4 24.6 -375.1 16.0 -384.2 7.6 -392.8 -0.0 -400.8 -9.7 -408.3 -19.4 -415.2 -28.5 -421.6 -36.6 -427.6 -43.4 -433.1 -48.7 -438.3 -52.0 -443.3 -56.7 -448.1 -60.8 -452.8 -63.0 -452.8 -88.0Z" fill="url(#dg18)"/>
<path d="M-454.2 -88.3 -454.2 -63.3 -449.5 -61.2 -444.7 -57.3 -439.7 -51.2 -434.5 -48.4 -429.0 -43.2 -423.0 -36.5 -416.6 -28.4 -409.7 -19.4 -402.2 -9.8 -394.2 -0.0 -385.6 7.5 -376.5 15.9 -366.8 24.5 -356.6 32.7 -346.0 40.2 -334.9 46.2 -323.5 50.4 -311.9 52.4 -300.1 51.9 -288.2 48.3 -288.2 73.3 -284.7 71.2 -284.7 46.2 -296.6 50.9 -308.4 51.8 -320.0 50.1 -331.4 46.2 -342.5 40.3 -353.1 33.0 -363.3 24.8 -373.0 16.2 -382.1 7.7 -390.7 -0.0 -398.7 -9.7 -406.2 -19.4 -413.1 -28.5 -419.5 -36.7 -425.5 -43.6 -431.0 -49.1 -436.2 -52.8 -441.2 -55.6 -446.0 -60.1 -450.7 -62.4 -450.7 -87.4Z" fill="url(#dg19)"/>
<path d="M-452.1 -87.8 -452.1 -62.8 -447.4 -60.6 -442.6 -56.4 -437.6 -52.3 -432.4 -48.8 -426.9 -43.5 -420.9 -36.6 -414.5 -28.5 -407.6 -19.4 -400.1 -9.7 -392.1 -0.0 -383.5 7.6 -374.4 16.1 -364.7 24.7 -354.5 32.9 -343.9 40.3 -332.8 46.2 -321.4 50.2 -309.8 52.1 -298.0 51.3 -286.1 47.2 -286.1 72.2 -282.6 69.8 -282.6 44.8 -294.5 50.2 -306.3 51.4 -317.9 49.9 -329.3 46.1 -340.4 40.4 -351.0 33.1 -361.2 25.0 -370.9 16.4 -380.0 7.9 -388.6 -0.0 -396.6 -9.7 -404.1 -19.3 -411.0 -28.5 -417.4 -36.8 -423.4 -43.8 -428.9 -49.4 -434.1 -53.4 -439.1 -55.1 -443.9 -59.2 -448.6 -61.7 -448.6 -86.7Z" fill="url(#dg20)"/>
<path d="M-450.0 -87.2 -450.0 -62.2 -445.3 -59.8 -440.5 -55.0 -435.5 -53.0 -430.3 -49.2 -424.8 -43.7 -418.8 -36.7 -412.4 -28.5 -405.5 -19.4 -398.0 -9.7 -390.0 -0.0 -381.4 7.8 -372.3 16.2 -362.6 24.8 -352.4 33.1 -341.8 40.3 -330.7 46.1 -319.3 50.0 -307.7 51.7 -295.9 50.7 -284.0 45.6 -284.0 70.6 -279.1 72.1 -279.1 47.1 -291.0 48.9 -302.8 50.6 -314.4 49.5 -325.8 45.9 -336.9 40.4 -347.5 33.3 -357.7 25.2 -367.4 16.6 -376.5 8.0 -385.1 -0.0 -393.1 -9.6 -400.6 -19.2 -407.5 -28.5 -413.9 -36.9 -419.9 -44.1 -425.4 -49.9 -430.6 -54.1 -435.6 -56.5 -440.4 -57.0 -445.1 -60.5 -445.1 -85.5Z" fill="url(#dg1)"/>
<path d="M-446.5 -86.0 -446.5 -61.0 -441.8 -58.1 -437.0 -56.1 -432.0 -53.8 -426.8 -49.8 -421.3 -44.0 -415.3 -36.9 -408.9 -28.5 -402.0 -19.3 -394.5 -9.6 -386.5 -0.0 -377.9 8.0 -368.8 16.5 -359.1 25.1 -348.9 33.3 -338.3 40.4 -327.2 46.0 -315.8 49.6 -304.2 50.9 -292.4 49.5 -280.5 46.3 -280.5 71.3 -275.6 73.5 -275.6 48.5 -287.5 47.4 -299.3 49.8 -310.9 49.0 -322.3 45.7 -333.4 40.4 -344.0 33.5 -354.2 25.4 -363.9 16.8 -373.0 8.2 -381.6 -0.0 -389.6 -9.4 -397.1 -19.1 -404.0 -28.4 -410.4 -36.9 -416.4 -44.3 -421.9 -50.3 -427.1 -54.7 -432.1 -57.5 -436.9 -58.3 -441.6 -58.7 -441.6 -83.7Z" fill="url(#dg2)"/>
<path d="M-443.0 -84.5 -443.0 -59.5 -438.3 -57.7 -433.5 -57.1 -428.5 -54.5 -423.3 -50.2 -417.8 -44.2 -411.8 -36.9 -405.4 -28.4 -398.5 -19.2 -391.0 -9.5 -383.0 -0.0 -374.4 8.1 -365.3 16.8 -355.6 25.4 -345.4 33.4 -334.8 40.4 -323.7 45.8 -312.3 49.2 -300.7 50.1 -288.9 48.0 -277.0 47.9 -277.0 72.9 -272.1 74.6 -272.1 49.6 -284.0 45.0 -295.8 48.8 -307.4 48.4 -318.8 45.4 -329.9 40.3 -340.5 33.5 -350.7 25.6 -360.4 17.0 -369.5 8.3 -378.1 -0.0 -386.1 -9.3 -393.6 -18.9 -400.5 -28.3 -406.9 -36.9 -412.9 -44.4 -418.4 -50.6 -423.6 -55.2 -428.6 -58.2 -433.4 -59.3 -438.1 -58.5 -438.1 -83.5Z" fill="url(#dg3)"/>
<path d="M-439.5 -82.7 -439.5 -57.7 -434.8 -59.0 -430.0 -57.9 -425.0 -55.0 -419.8 -50.5 -414.3 -44.4 -408.3 -36.9 -401.9 -28.3 -395.0 -19.0 -387.5 -9.4 -379.5 -0.0 -370.9 8.3 -361.8 17.0 -352.1 25.5 -341.9 33.5 -331.3 40.3 -320.2 45.5 -308.8 48.6 -297.2 49.2 -285.4 46.1 -273.5 49.2 -273.5 74.2 -268.6 75.5 -268.6 50.5 -280.5 45.8 -292.3 47.6 -303.9 47.7 -315.3 45.0 -326.4 40.2 -337.0 33.6 -347.2 25.7 -356.9 17.2 -366.0 8.5 -374.6 -0.0 -382.6 -9.0 -390.1 -18.7 -397.0 -28.0 -403.4 -36.7 -409.4 -44.4 -414.9 -50.7 -420.1 -55.6 -425.1 -58.7 -429.9 -60.2 -434.6 -59.8 -434.6 -84.8Z" fill="url(#dg4)"/>
<path d="M-436.0 -84.3 -436.0 -59.3 -431.3 -59.9 -426.5 -58.5 -421.5 -55.4 -416.3 -50.7 -410.8 -44.4 -404.8 -36.8 -398.4 -28.1 -391.5 -18.8 -384.0 -9.2 -376.0 -0.0 -367.4 8.4 -358.3 17.1 -348.6 25.7 -338.4 33.6 -327.8 40.2 -316.7 45.2 -305.3 48.0 -293.7 48.1 -281.9 44.9 -270.0 50.1 -270.0 75.1 -265.1 76.2 -265.1 51.2 -277.0 47.4 -288.8 46.2 -300.4 46.9 -311.8 44.6 -322.9 40.0 -333.5 33.6 -343.7 25.8 -353.4 17.3 -362.5 8.6 -371.1 -0.0 -379.1 -9.3 -386.6 -18.4 -393.5 -27.8 -399.9 -36.5 -405.9 -44.3 -411.4 -50.8 -416.6 -55.8 -421.6 -59.2 -426.4 -60.8 -431.1 -60.7 -431.1 -85.7Z" fill="url(#dg5)"/>
<path d="M-432.5 -85.3 -432.5 -60.3 -427.8 -60.6 -423.0 -59.0 -418.0 -55.7 -412.8 -50.8 -407.3 -44.4 -401.3 -36.6 -394.9 -27.9 -388.0 -18.5 -380.5 -9.2 -372.5 -0.0 -363.9 8.5 -354.8 17.3 -345.1 25.8 -334.9 33.6 -324.3 40.1 -313.2 44.8 -301.8 47.2 -290.2 46.8 -278.4 46.8 -266.5 51.0 -266.5 76.0 -261.6 76.8 -261.6 51.8 -273.5 48.6 -285.3 44.4 -296.9 46.0 -308.3 44.1 -319.4 39.7 -330.0 33.5 -340.2 25.9 -349.9 17.5 -359.0 8.7 -367.6 -0.0 -375.6 -9.5 -383.1 -17.9 -390.0 -27.4 -396.4 -36.3 -402.4 -44.1 -407.9 -50.8 -413.1 -55.9 -418.1 -59.5 -422.9 -61.3 -427.6 -61.4 -427.6 -86.4Z" fill="url(#dg6)"/>
<path d="M-429.0 -86.1 -429.0 -61.1 -424.3 -61.1 -419.5 -59.4 -414.5 -55.9 -409.3 -50.8 -403.8 -44.2 -397.8 -36.4 -391.4 -27.6 -384.5 -18.1 -377.0 -9.4 -369.0 -0.0 -360.4 8.6 -351.3 17.4 -341.6 25.9 -331.4 33.5 -320.8 39.8 -309.7 44.3 -298.3 46.4 -286.7 45.2 -274.9 48.1 -263.0 51.6 -263.0 76.6 -258.1 77.3 -258.1 52.3 -270.0 49.5 -281.8 43.3 -293.4 45.0 -304.8 43.5 -315.9 39.4 -326.5 33.4 -336.7 25.9 -346.4 17.5 -355.5 8.7 -364.1 -0.0 -372.1 -9.7 -379.6 -18.3 -386.5 -27.0 -392.9 -35.9 -398.9 -43.9 -404.4 -50.6 -409.6 -55.9 -414.6 -59.7 -419.4 -61.7 -424.1 -61.9 -424.1 -86.9Z" fill="url(#dg7)"/>
<path d="M-425.5 -86.7 -425.5 -61.7 -420.8 -61.5 -416.0 -59.6 -411.0 -56.0 -405.8 -50.7 -400.3 -44.0 -394.3 -36.1 -387.9 -27.2 -381.0 -18.0 -373.5 -9.6 -365.5 -0.0 -356.9 8.7 -347.8 17.5 -338.1 25.9 -327.9 33.4 -317.3 39.5 -306.2 43.7 -294.8 45.4 -283.2 42.4 -271.4 49.2 -259.5 52.1 -259.5 77.1 -254.6 77.6 -254.6 52.6 -266.5 50.3 -278.3 45.1 -289.9 43.8 -301.3 42.8 -312.4 39.0 -323.0 33.2 -333.2 25.9 -342.9 17.6 -352.0 8.8 -360.6 -0.0 -368.6 -9.8 -376.1 -18.7 -383.0 -26.3 -389.4 -35.4 -395.4 -43.5 -400.9 -50.4 -406.1 -55.8 -411.1 -59.7 -415.9 -61.9 -420.6 -62.3 -420.6 -87.3Z" fill="url(#dg8)"/>
<path d="M-422.0 -87.2 -422.0 -62.2 -417.3 -61.8 -412.5 -59.7 -407.5 -55.9 -402.3 -50.5 -396.8 -43.7 -390.8 -35.6 -384.4 -26.6 -377.5 -18.5 -370.0 -9.7 -362.0 -0.0 -353.4 8.8 -344.3 17.6 -334.6 25.9 -324.4 33.3 -313.8 39.2 -302.7 43.1 -291.3 44.3 -279.7 44.5 -267.9 50.0 -256.0 52.5 -256.0 77.5 -251.1 77.7 -251.1 52.7 -263.0 51.0 -274.8 46.4 -286.4 42.2 -297.8 42.0 -308.9 38.6 -319.5 33.0 -329.7 25.9 -339.4 17.6 -348.5 8.9 -357.1 -0.0 -365.1 -9.9 -372.6 -19.0 -379.5 -26.8 -385.9 -34.8 -391.9 -43.0 -397.4 -50.0 -402.6 -55.6 -407.6 -59.7 -412.4 -62.0 -417.1 -62.6 -417.1 -87.6Z" fill="url(#dg9)"/>
<path d="M-418.5 -87.5 -418.5 -62.5 -413.8 -62.0 -409.0 -59.7 -404.0 -55.7 -398.8 -50.2 -393.3 -43.2 -387.3 -35.1 -380.9 -26.5 -374.0 -18.9 -366.5 -9.9 -358.5 -0.0 -349.9 8.8 -340.8 17.6 -331.1 25.9 -320.9 33.1 -310.3 38.8 -299.2 42.3 -287.8 42.9 -276.2 45.9 -264.4 50.7 -252.5 52.7 -252.5 77.7 -247.6 77.8 -247.6 52.8 -259.5 51.5 -271.3 47.4 -282.9 39.4 -294.3 41.1 -305.4 38.1 -316.0 32.8 -326.2 25.8 -335.9 17.7 -345.0 8.9 -353.6 -0.0 -361.6 -10.0 -369.1 -19.3 -376.0 -27.5 -382.4 -33.8 -388.4 -42.4 -393.9 -49.6 -399.1 -55.3 -404.1 -59.5 -408.9 -62.0 -413.6 -62.8 -413.6 -87.8Z" fill="url(#dg10)"/>
<path d="M-415.0 -87.7 -415.0 -62.7 -410.3 -62.0 -405.5 -59.6 -400.5 -55.5 -395.3 -49.8 -389.8 -42.7 -383.8 -34.3 -377.4 -27.3 -370.5 -19.2 -363.0 -10.0 -355.0 -0.0 -346.4 8.9 -337.3 17.7 -327.6 25.8 -317.4 32.9 -306.8 38.3 -295.7 41.5 -284.3 40.9 -272.7 47.0 -260.9 51.3 -249.0 52.8 -249.0 77.8 -244.1 77.6 -244.1 52.6 -256.0 51.8 -267.8 48.2 -279.4 41.8 -290.8 40.0 -301.9 37.5 -312.5 32.5 -322.7 25.7 -332.4 17.6 -341.5 8.9 -350.1 -0.0 -358.1 -10.1 -365.6 -19.6 -372.5 -28.0 -378.9 -34.9 -384.9 -41.6 -390.4 -49.0 -395.6 -54.9 -400.6 -59.2 -405.4 -61.9 -410.1 -62.8 -410.1 -87.8Z" fill="url(#dg11)"/>
<path d="M-411.5 -87.8 -411.5 -62.8 -406.8 -61.9 -402.0 -59.3 -397.0 -55.1 -391.8 -49.2 -386.3 -42.0 -380.3 -34.5 -373.9 -27.8 -367.0 -19.5 -359.5 -10.1 -351.5 -0.0 -342.9 8.9 -333.8 17.6 -324.1 25.7 -313.9 32.6 -303.3 37.7 -292.2 40.5 -280.8 41.1 -269.2 47.9 -257.4 51.7 -245.5 52.7 -245.5 77.7 -240.6 77.4 -240.6 52.4 -252.5 52.0 -264.3 48.9 -275.9 43.1 -287.3 38.7 -298.4 36.8 -309.0 32.1 -319.2 25.5 -328.9 17.6 -338.0 8.9 -346.6 -0.0 -354.6 -10.2 -362.1 -19.8 -369.0 -28.4 -375.4 -35.7 -381.4 -41.0 -386.9 -48.2 -392.1 -54.3 -397.1 -58.8 -401.9 -61.6 -406.6 -62.7 -406.6 -87.7Z" fill="url(#dg12)"/>
<path d="M-408.0 -87.8 -408.0 -62.8 -403.3 -61.7 -398.5 -59.0 -393.5 -54.5 -388.3 -48.6 -382.8 -40.9 -376.8 -35.4 -370.4 -28.2 -363.5 -19.7 -356.0 -10.2 -348.0 -0.0 -339.4 8.9 -330.3 17.6 -320.6 25.6 -310.4 32.2 -299.8 37.1 -288.7 39.3 -277.3 42.6 -265.7 48.6 -253.9 52.0 -242.0 52.5 -242.0 77.5 -237.1 77.0 -237.1 52.0 -249.0 52.1 -260.8 49.4 -272.4 44.1 -283.8 36.8 -294.9 36.0 -305.5 31.7 -315.7 25.3 -325.4 17.5 -334.5 8.9 -343.1 -0.0 -351.1 -10.2 -358.6 -19.9 -365.5 -28.8 -371.9 -36.3 -377.9 -42.3 -383.4 -47.1 -388.6 -53.5 -393.6 -58.2 -398.4 -61.2 -403.1 -62.5 -403.1 -87.5Z" fill="url(#dg13)"/>
<path d="M-404.5 -87.6 -404.5 -62.6 -399.8 -61.4 -395.0 -58.5 -390.0 -53.9 -384.8 -47.6 -379.3 -41.9 -373.3 -36.1 -366.9 -28.6 -360.0 -19.9 -352.5 -10.2 -344.5 -0.0 -335.9 8.9 -326.8 17.6 -317.1 25.4 -306.9 31.8 -296.3 36.4 -285.2 37.7 -273.8 43.7 -262.2 49.2 -250.4 52.1 -238.5 52.2 -238.5 77.2 -233.6 76.5 -233.6 51.5 -245.5 52.1 -257.3 49.8 -268.9 44.9 -280.3 37.6 -291.4 35.1 -302.0 31.2 -312.2 25.0 -321.9 17.4 -331.0 8.9 -339.6 -0.0 -347.6 -10.3 -355.1 -20.1 -362.0 -29.1 -368.4 -36.9 -374.4 -43.2 -379.9 -47.7 -385.1 -52.6 -390.1 -57.5 -394.9 -60.7 -399.6 -62.1 -399.6 -87.1Z" fill="url(#dg14)"/>
<path d="M-401.0 -87.3 -401.0 -62.3 -396.3 -60.9 -391.5 -57.8 -386.5 -53.0 -381.3 -46.9 -375.8 -42.9 -369.8 -36.7 -363.4 -28.9 -356.5 -20.0 -349.0 -10.3 -341.0 -0.0 -332.4 8.9 -323.3 17.5 -313.6 25.1 -303.4 31.4 -292.8 35.5 -281.7 36.9 -270.3 44.6 -258.7 49.6 -246.9 52.1 -235.0 51.7 -235.0 76.7 -230.1 75.8 -230.1 50.8 -242.0 51.9 -253.8 50.0 -265.4 45.6 -276.8 38.8 -287.9 34.0 -298.5 30.6 -308.7 24.8 -318.4 17.3 -327.5 8.9 -336.1 -0.0 -344.1 -10.3 -351.6 -20.2 -358.5 -29.3 -364.9 -37.3 -370.9 -43.9 -376.4 -48.9 -381.6 -51.4 -386.6 -56.6 -391.4 -60.0 -396.1 -61.6 -396.1 -86.6Z" fill="url(#dg15)"/>
<path d="M-397.5 -86.9 -397.5 -61.9 -392.8 -60.3 -388.0 -57.0 -383.0 -51.7 -377.8 -48.4 -372.3 -43.6 -366.3 -37.1 -359.9 -29.2 -353.0 -20.2 -345.5 -10.3 -337.5 -0.0 -328.9 8.9 -319.8 17.4 -310.1 24.9 -299.9 30.9 -289.3 34.5 -278.2 38.4 -266.8 45.3 -255.2 49.9 -243.4 52.0 -231.5 51.1 -231.5 76.1 -226.6 74.9 -226.6 49.9 -238.5 51.5 -250.3 50.2 -261.9 46.1 -273.3 39.8 -284.4 32.5 -295.0 30.0 -305.2 24.4 -314.9 17.2 -324.0 8.9 -332.6 -0.0 -340.6 -10.4 -348.1 -20.3 -355.0 -29.5 -361.4 -37.7 -367.4 -44.5 -372.9 -49.8 -378.1 -53.2 -383.1 -55.2 -387.9 -59.2 -392.6 -61.0 -392.6 -86.0Z" fill="url(#dg16)"/>
<path d="M-394.0 -86.3 -394.0 -61.3 -389.3 -59.5 -384.5 -55.9 -379.5 -52.7 -374.3 -49.4 -368.8 -44.3 -362.8 -37.5 -356.4 -29.4 -349.5 -20.3 -342.0 -10.3 -334.0 -0.0 -325.4 8.9 -316.3 17.2 -306.6 24.6 -296.4 30.2 -285.8 33.2 -274.7 39.5 -263.3 45.9 -251.7 50.1 -239.9 51.7 -228.0 50.3 -228.0 75.3 -223.1 73.8 -223.1 48.8 -235.0 51.1 -246.8 50.2 -258.4 46.5 -269.8 40.6 -280.9 32.6 -291.5 29.2 -301.7 24.0 -311.4 17.0 -320.5 8.8 -329.1 -0.0 -337.1 -10.4 -344.6 -20.4 -351.5 -29.7 -357.9 -38.0 -363.9 -45.0 -369.4 -50.5 -374.6 -54.4 -379.6 -56.2 -384.4 -58.0 -389.1 -60.2 -389.1 -85.2Z" fill="url(#dg17)"/>
<path d="M-390.5 -85.6 -390.5 -60.6 -385.8 -58.5 -381.0 -55.4 -376.0 -54.0 -370.8 -50.3 -365.3 -44.8 -359.3 -37.9 -352.9 -29.6 -346.0 -20.4 -338.5 -10.4 -330.5 -0.0 -321.9 8.8 -312.8 17.1 -303.1 24.2 -292.9 29.6 -282.3 31.9 -271.2 40.3 -259.8 46.4 -248.2 50.2 -236.4 51.3 -224.5 49.3 -224.5 74.3 -219.6 72.3 -219.6 47.3 -231.5 50.4 -243.3 50.0 -254.9 46.8 -266.3 41.3 -277.4 33.8 -288.0 28.3 -298.2 23.6 -307.9 16.8 -317.0 8.7 -325.6 -0.0 -333.6 -10.4 -341.1 -20.5 -348.0 -29.9 -354.4 -38.3 -360.4 -45.4 -365.9 -51.2 -371.1 -55.3 -376.1 -57.6 -380.9 -57.6 -385.6 -59.2 -385.6 -84.2Z" fill="url(#dg18)"/>
<path d="M-387.0 -84.6 -387.0 -59.6 -382.3 -56.8 -377.5 -57.1 -372.5 -54.9 -367.3 -50.9 -361.8 -45.3 -355.8 -38.2 -349.4 -29.8 -342.5 -20.4 -335.0 -10.4 -327.0 -0.0 -318.4 8.8 -309.3 16.9 -299.6 23.8 -289.4 28.7 -278.8 33.4 -267.7 41.0 -256.3 46.7 -244.7 50.1 -232.9 50.7 -221.0 48.0 -221.0 73.0 -216.1 71.5 -216.1 46.5 -228.0 49.7 -239.8 49.8 -251.4 47.0 -262.8 41.8 -273.9 34.7 -284.5 27.1 -294.7 23.1 -304.4 16.6 -313.5 8.7 -322.1 -0.0 -330.1 -10.4 -337.6 -20.5 -344.5 -30.0 -350.9 -38.5 -356.9 -45.8 -362.4 -51.7 -367.6 -56.0 -372.6 -58.6 -377.4 -59.3 -382.1 -57.3 -382.1 -82.3Z" fill="url(#dg19)"/>
<path d="M-383.5 -83.3 -383.5 -58.3 -378.8 -58.7 -374.0 -58.2 -369.0 -55.7 -363.8 -51.5 -358.3 -45.7 -352.3 -38.4 -345.9 -29.9 -339.0 -20.5 -331.5 -10.4 -323.5 -0.0 -314.9 8.7 -305.8 16.7 -296.1 23.3 -285.9 27.7 -275.3 34.4 -264.2 41.6 -252.8 46.9 -241.2 49.9 -229.4 50.0 -217.5 45.9 -217.5 70.9 -212.6 73.9 -212.6 48.9 -224.5 48.7 -236.3 49.4 -247.9 47.0 -259.3 42.2 -270.4 35.4 -281.0 27.1 -291.2 22.5 -300.9 16.3 -310.0 8.6 -318.6 -0.0 -326.6 -10.3 -334.1 -20.5 -341.0 -30.0 -347.4 -38.7 -353.4 -46.1 -358.9 -52.2 -364.1 -56.7 -369.1 -59.5 -373.9 -60.5 -378.6 -59.6 -378.6 -84.6Z" fill="url(#dg20)"/>
<path d="M-380.0 -83.9 -380.0 -58.9 -375.3 -60.1 -370.5 -59.1 -365.5 -56.4 -360.3 -52.0 -354.8 -46.0 -348.8 -38.6 -342.4 -30.0 -335.5 -20.5 -328.0 -10.4 -320.0 -0.0 -311.4 8.6 -302.3 16.4 -292.6 22.8 -282.4 26.4 -271.8 35.1 -260.7 42.0 -249.3 47.0 -237.7 49.5 -225.9 49.1 -214.0 48.1 -214.0 73.1 -210.1 75.1 -210.1 50.1 -222.0 47.8 -233.8 49.0 -245.4 47.0 -256.8 42.4 -267.9 35.8 -278.5 27.8 -288.7 22.0 -298.4 16.1 -307.5 8.5 -316.1 -0.0 -324.1 -10.3 -331.6 -20.5 -338.5 -30.1 -344.9 -38.8 -350.9 -46.3 -356.4 -52.5 -361.6 -57.1 -366.6 -60.0 -371.4 -61.2 -376.1 -60.5 -376.1 -85.5Z" fill="url(#dg21)"/>
<path d="M-377.5 -85.0 -377.5 -60.0 -372.8 -60.8 -368.0 -59.7 -363.0 -56.9 -357.8 -52.3 -352.3 -46.2 -346.3 -38.7 -339.9 -30.1 -333.0 -20.5 -325.5 -10.3 -317.5 -0.0 -308.9 8.5 -299.8 16.2 -290.1 22.3 -279.9 27.4 -269.3 35.6 -258.2 42.3 -246.8 47.0 -235.2 49.2 -223.4 48.3 -211.5 49.5 -211.5 74.5 -207.6 76.2 -207.6 51.2 -219.5 46.7 -231.3 48.5 -242.9 46.8 -254.3 42.5 -265.4 36.2 -276.0 28.4 -286.2 21.4 -295.9 15.9 -305.0 8.4 -313.6 -0.0 -321.6 -10.3 -329.1 -20.5 -336.0 -30.1 -342.4 -38.9 -348.4 -46.5 -353.9 -52.7 -359.1 -57.4 -364.1 -60.5 -368.9 -61.8 -373.6 -61.3 -373.6 -86.3Z" fill="url(#dg22)"/>
<path d="M-375.0 -85.9 -375.0 -60.9 -370.3 -61.5 -365.5 -60.2 -360.5 -57.2 -355.3 -52.6 -349.8 -46.4 -343.8 -38.8 -337.4 -30.1 -330.5 -20.5 -323.0 -10.3 -315.0 -0.0 -306.4 8.5 -297.3 16.0 -287.6 21.8 -277.4 28.1 -266.8 36.0 -255.7 42.5 -244.3 46.9 -232.7 48.8 -220.9 47.3 -209.0 50.6 -209.0 75.6 -205.1 77.1 -205.1 52.1 -217.0 44.5 -228.8 48.0 -240.4 46.7 -251.8 42.6 -262.9 36.5 -273.5 28.9 -283.7 20.6 -293.4 15.6 -302.5 8.3 -311.1 -0.0 -319.1 -10.3 -326.6 -20.4 -333.5 -30.1 -339.9 -38.9 -345.9 -46.6 -351.4 -53.0 -356.6 -57.8 -361.6 -60.9 -366.4 -62.4 -371.1 -62.0 -371.1 -87.0Z" fill="url(#dg23)"/>
<path d="M-372.5 -86.7 -372.5 -61.7 -367.8 -62.1 -363.0 -60.7 -358.0 -57.6 -352.8 -52.8 -347.3 -46.5 -341.3 -38.9 -334.9 -30.1 -328.0 -20.4 -320.5 -10.3 -312.5 -0.0 -303.9 8.4 -294.8 15.7 -285.1 21.1 -274.9 28.6 -264.3 36.3 -253.2 42.6 -241.8 46.8 -230.2 48.3 -218.4 46.0 -206.5 51.6 -206.5 76.6 -202.6 77.9 -202.6 52.9 -214.5 47.2 -226.3 47.4 -237.9 46.4 -249.3 42.7 -260.4 36.8 -271.0 29.3 -281.2 20.8 -290.9 15.3 -300.0 8.2 -308.6 -0.0 -316.6 -10.2 -324.1 -20.4 -331.0 -30.1 -337.4 -39.0 -343.4 -46.7 -348.9 -53.1 -354.1 -58.1 -359.1 -61.3 -363.9 -62.9 -368.6 -62.7 -368.6 -87.7Z" fill="url(#dg24)"/>
<path d="M-370.0 -87.3 -370.0 -62.3 -365.3 -62.6 -360.5 -61.1 -355.5 -57.9 -350.3 -53.0 -344.8 -46.7 -338.8 -38.9 -332.4 -30.1 -325.5 -20.4 -318.0 -10.2 -310.0 -0.0 -301.4 8.3 -292.3 15.5 -282.6 20.3 -272.4 29.1 -261.8 36.6 -250.7 42.7 -239.3 46.6 -227.7 47.7 -215.9 46.1 -204.0 52.5 -204.0 77.5 -200.1 78.7 -200.1 53.7 -212.0 48.6 -223.8 46.6 -235.4 46.1 -246.8 42.7 -257.9 37.0 -268.5 29.7 -278.7 21.4 -288.4 15.0 -297.5 8.1 -306.1 -0.0 -314.1 -10.2 -321.6 -20.3 -328.5 -30.1 -334.9 -39.0 -340.9 -46.8 -346.4 -53.3 -351.6 -58.3 -356.6 -61.7 -361.4 -63.3 -366.1 -63.2 -366.1 -88.2Z" fill="url(#dg25)"/>
<path d="M-367.5 -87.9 -367.5 -62.9 -362.8 -63.1 -358.0 -61.5 -353.0 -58.2 -347.8 -53.2 -342.3 -46.8 -336.3 -39.0 -329.9 -30.1 -323.0 -20.4 -315.5 -10.2 -307.5 -0.0 -298.9 8.2 -289.8 15.2 -280.1 21.1 -269.9 29.5 -259.3 36.9 -248.2 42.7 -236.8 46.3 -225.2 47.1 -213.4 47.9 -201.5 53.3 -201.5 78.3 -197.6 79.4 -197.6 54.4 -209.5 49.8 -221.3 45.8 -232.9 45.8 -244.3 42.6 -255.4 37.1 -266.0 30.0 -276.2 21.9 -285.9 14.5 -295.0 8.0 -303.6 -0.0 -311.6 -10.1 -319.1 -20.3 -326.0 -30.0 -332.4 -39.0 -338.4 -46.9 -343.9 -53.4 -349.1 -58.5 -354.1 -62.0 -358.9 -63.7 -363.6 -63.7 -363.6 -88.7Z" fill="url(#dg26)"/>
<path d="M-365.0 -88.4 -365.0 -63.4 -360.3 -63.5 -355.5 -61.8 -350.5 -58.4 -345.3 -53.4 -339.8 -46.8 -333.8 -39.0 -327.4 -30.0 -320.5 -20.3 -313.0 -10.1 -305.0 -0.0 -296.4 8.1 -287.3 14.8 -277.6 21.7 -267.4 29.8 -256.8 37.0 -245.7 42.6 -234.3 46.0 -222.7 46.3 -210.9 49.1 -199.0 54.0 -199.0 79.0 -195.1 80.0 -195.1 55.0 -207.0 50.8 -218.8 44.6 -230.4 45.3 -241.8 42.5 -252.9 37.2 -263.5 30.3 -273.7 22.3 -283.4 13.9 -292.5 7.8 -301.1 -0.0 -309.1 -10.1 -316.6 -20.2 -323.5 -29.9 -329.9 -38.9 -335.9 -46.9 -341.4 -53.5 -346.6 -58.7 -351.6 -62.2 -356.4 -64.1 -361.1 -64.2 -361.1 -89.2Z" fill="url(#dg27)"/>
<path d="M-362.5 -88.9 -362.5 -63.9 -357.8 -63.9 -353.0 -62.1 -348.0 -58.6 -342.8 -53.5 -337.3 -46.9 -331.3 -39.0 -324.9 -30.0 -318.0 -20.2 -310.5 -10.1 -302.5 -0.0 -293.9 7.9 -284.8 14.3 -275.1 22.1 -264.9 30.1 -254.3 37.2 -243.2 42.5 -231.8 45.6 -220.2 45.3 -208.4 50.2 -196.5 54.7 -196.5 79.7 -192.6 80.6 -192.6 55.6 -204.5 51.7 -216.3 44.0 -227.9 44.8 -239.3 42.3 -250.4 37.3 -261.0 30.5 -271.2 22.6 -280.9 14.3 -290.0 7.7 -298.6 -0.0 -306.6 -10.0 -314.1 -20.1 -321.0 -29.8 -327.4 -38.9 -333.4 -46.9 -338.9 -53.6 -344.1 -58.8 -349.1 -62.5 -353.9 -64.4 -358.6 -64.5 -358.6 -89.5Z" fill="url(#dg28)"/>
<path d="M-360.0 -89.3 -360.0 -64.3 -355.3 -64.2 -350.5 -62.3 -345.5 -58.8 -340.3 -53.6 -334.8 -46.9 -328.8 -38.9 -322.4 -29.9 -315.5 -20.1 -308.0 -10.0 -300.0 -0.0 -291.4 7.8 -282.3 13.9 -272.6 22.4 -262.4 30.4 -251.8 37.3 -240.7 42.4 -229.3 45.1 -217.7 43.8 -205.9 51.2 -194.0 55.3 -194.0 80.3 -190.1 81.1 -190.1 56.1 -202.0 52.5 -213.8 45.9 -225.4 44.2 -236.8 42.0 -247.9 37.3 -258.5 30.7 -268.7 22.9 -278.4 14.6 -287.5 7.5 -296.1 -0.0 -304.1 -9.9 -311.6 -20.0 -318.5 -29.7 -324.9 -38.8 -330.9 -46.9 -336.4 -53.6 -341.6 -59.0 -346.6 -62.7 -351.4 -64.7 -356.1 -64.9 -356.1 -89.9Z" fill="url(#dg29)"/>
<path d="M-357.5 -89.7 -357.5 -64.7 -352.8 -64.5 -348.0 -62.6 -343.0 -58.9 -337.8 -53.6 -332.3 -46.9 -326.3 -38.9 -319.9 -29.8 -313.0 -20.0 -305.5 -10.0 -297.5 -0.0 -288.9 7.6 -279.8 14.4 -270.1 22.8 -259.9 30.6 -249.3 37.3 -238.2 42.2 -226.8 44.5 -215.2 45.0 -203.4 52.0 -191.5 55.8 -191.5 80.8 -187.6 81.6 -187.6 56.6 -199.5 53.2 -211.3 47.1 -222.9 43.4 -234.3 41.7 -245.4 37.3 -256.0 30.8 -266.2 23.2 -275.9 14.9 -285.0 7.3 -293.6 -0.0 -301.6 -9.8 -309.1 -19.9 -316.0 -29.6 -322.4 -38.7 -328.4 -46.8 -333.9 -53.6 -339.1 -59.0 -344.1 -62.8 -348.9 -64.9 -353.6 -65.2 -353.6 -90.2Z" fill="url(#dg30)"/>
<path d="M-355.0 -90.0 -355.0 -65.0 -350.3 -64.8 -345.5 -62.7 -340.5 -59.0 -335.3 -53.6 -329.8 -46.8 -323.8 -38.8 -317.4 -29.7 -310.5 -19.9 -303.0 -9.9 -295.0 -0.0 -286.4 7.4 -277.3 14.8 -267.6 23.0 -257.4 30.8 -246.8 37.3 -235.7 41.9 -224.3 43.9 -212.7 46.5 -200.9 52.8 -189.0 56.3 -189.0 81.3 -185.1 82.0 -185.1 57.0 -197.0 53.9 -208.8 48.2 -220.4 42.5 -231.8 41.4 -242.9 37.2 -253.5 30.9 -263.7 23.4 -273.4 15.2 -282.5 7.0 -291.1 -0.0 -299.1 -9.8 -306.6 -19.7 -313.5 -29.5 -319.9 -38.6 -325.9 -46.7 -331.4 -53.6 -336.6 -59.1 -341.6 -62.9 -346.4 -65.1 -351.1 -65.5 -351.1 -90.5Z" fill="url(#dg31)"/>
<path d="M-352.5 -90.3 -352.5 -65.3 -347.8 -65.0 -343.0 -62.9 -338.0 -59.1 -332.8 -53.6 -327.3 -46.8 -321.3 -38.7 -314.9 -29.6 -308.0 -19.8 -300.5 -9.8 -292.5 -0.0 -283.9 7.1 -274.8 15.1 -265.1 23.3 -254.9 30.9 -244.3 37.2 -233.2 41.6 -221.8 43.1 -210.2 47.6 -198.4 53.5 -186.5 56.8 -186.5 81.8 -182.6 82.4 -182.6 57.4 -194.5 54.5 -206.3 49.1 -217.9 41.2 -229.3 40.9 -240.4 37.0 -251.0 31.0 -261.2 23.6 -270.9 15.4 -280.0 7.3 -288.6 -0.0 -296.6 -9.7 -304.1 -19.6 -311.0 -29.3 -317.4 -38.4 -323.4 -46.6 -328.9 -53.6 -334.1 -59.1 -339.1 -63.0 -343.9 -65.2 -348.6 -65.7 -348.6 -90.7Z" fill="url(#dg32)"/>
<path d="M-350.0 -90.6 -350.0 -65.6 -345.3 -65.2 -340.5 -63.0 -335.5 -59.1 -330.3 -53.6 -324.8 -46.7 -318.8 -38.5 -312.4 -29.4 -305.5 -19.7 -298.0 -9.7 -290.0 -0.0 -281.4 7.2 -272.3 15.3 -262.6 23.5 -252.4 31.0 -241.8 37.1 -230.7 41.2 -219.3 42.0 -207.7 48.6 -195.9 54.1 -184.0 57.1 -184.0 82.1 -180.1 82.7 -180.1 57.7 -192.0 55.0 -203.8 50.0 -215.4 42.0 -226.8 40.4 -237.9 36.8 -248.5 31.0 -258.7 23.7 -268.4 15.6 -277.5 7.5 -286.1 -0.0 -294.1 -9.5 -301.6 -19.4 -308.5 -29.2 -314.9 -38.3 -320.9 -46.5 -326.4 -53.5 -331.6 -59.1 -336.6 -63.1 -341.4 -65.4 -346.1 -65.9 -346.1 -90.9Z" fill="url(#dg33)"/>
<path d="M-347.5 -90.8 -347.5 -65.8 -342.8 -65.3 -338.0 -63.0 -333.0 -59.1 -327.8 -53.5 -322.3 -46.6 -316.3 -38.4 -309.9 -29.3 -303.0 -19.5 -295.5 -9.6 -287.5 -0.0 -278.9 7.4 -269.8 15.5 -260.1 23.6 -249.9 31.0 -239.3 37.0 -228.2 40.7 -216.8 40.6 -205.2 49.5 -193.4 54.7 -181.5 57.5 -181.5 82.5 -177.6 83.0 -177.6 58.0 -189.5 55.5 -201.3 50.7 -212.9 43.4 -224.3 39.8 -235.4 36.6 -246.0 31.0 -256.2 23.8 -265.9 15.8 -275.0 7.6 -283.6 -0.0 -291.6 -9.4 -299.1 -19.3 -306.0 -29.0 -312.4 -38.1 -318.4 -46.3 -323.9 -53.4 -329.1 -59.0 -334.1 -63.1 -338.9 -65.4 -343.6 -66.1 -343.6 -91.1Z" fill="url(#dg34)"/>
<path d="M-345.0 -91.0 -345.0 -66.0 -340.3 -65.4 -335.5 -63.1 -330.5 -59.0 -325.3 -53.4 -319.8 -46.4 -313.8 -38.2 -307.4 -29.1 -300.5 -19.4 -293.0 -9.5 -285.0 -0.0 -276.4 7.5 -267.3 15.7 -257.6 23.7 -247.4 31.0 -236.8 36.7 -225.7 40.2 -214.3 42.7 -202.7 50.3 -190.9 55.2 -179.0 57.8 -179.0 82.8 -175.1 83.2 -175.1 58.2 -187.0 56.0 -198.8 51.4 -210.4 44.5 -221.8 39.1 -232.9 36.3 -243.5 30.9 -253.7 23.9 -263.4 15.9 -272.5 7.7 -281.1 -0.0 -289.1 -9.3 -296.6 -19.1 -303.5 -28.7 -309.9 -37.9 -315.9 -46.1 -321.4 -53.2 -326.6 -58.9 -331.6 -63.0 -336.4 -65.5 -341.1 -66.2 -341.1 -91.2Z" fill="url(#dg35)"/>
<path d="M-342.5 -91.1 -342.5 -66.1 -337.8 -65.5 -333.0 -63.1 -328.0 -59.0 -322.8 -53.3 -317.3 -46.2 -311.3 -38.0 -304.9 -28.9 -298.0 -19.2 -290.5 -9.4 -282.5 -0.0 -273.9 7.7 -264.8 15.8 -255.1 23.8 -244.9 31.0 -234.3 36.5 -223.2 39.5 -211.8 43.9 -200.2 51.0 -188.4 55.7 -176.5 58.1 -176.5 83.1 -172.6 83.4 -172.6 58.4 -184.5 56.4 -196.3 52.0 -207.9 45.5 -219.3 38.2 -230.4 35.9 -241.0 30.8 -251.2 23.9 -260.9 16.0 -270.0 7.8 -278.6 -0.0 -286.6 -9.1 -294.1 -18.9 -301.0 -28.5 -307.4 -37.6 -313.4 -45.9 -318.9 -53.0 -324.1 -58.8 -329.1 -63.0 -333.9 -65.5 -338.6 -66.3 -338.6 -91.3Z" fill="url(#dg36)"/>
<path d="M-340.0 -91.2 -340.0 -66.2 -335.3 -65.5 -330.5 -63.0 -325.5 -58.9 -320.3 -53.1 -314.8 -46.0 -308.8 -37.8 -302.4 -28.6 -295.5 -19.0 -288.0 -9.2 -280.0 -0.0 -271.4 7.8 -262.3 16.0 -252.6 23.9 -242.4 30.9 -231.8 36.2 -220.7 38.7 -209.3 45.0 -197.7 51.7 -185.9 56.2 -174.0 58.3 -174.0 83.3 -170.1 83.5 -170.1 58.5 -182.0 56.7 -193.8 52.6 -205.4 46.3 -216.8 36.9 -227.9 35.5 -238.5 30.7 -248.7 24.0 -258.4 16.1 -267.5 7.9 -276.1 -0.0 -284.1 -8.8 -291.6 -18.6 -298.5 -28.2 -304.9 -37.4 -310.9 -45.7 -316.4 -52.8 -321.6 -58.6 -326.6 -62.9 -331.4 -65.5 -336.1 -66.3 -336.1 -91.3Z" fill="url(#dg37)"/>
<path d="M-337.5 -91.3 -337.5 -66.3 -332.8 -65.5 -328.0 -62.9 -323.0 -58.7 -317.8 -52.9 -312.3 -45.8 -306.3 -37.5 -299.9 -28.4 -293.0 -18.8 -285.5 -9.0 -277.5 -0.0 -268.9 7.9 -259.8 16.1 -250.1 23.9 -239.9 30.8 -229.3 35.8 -218.2 37.6 -206.8 45.9 -195.2 52.3 -183.4 56.5 -171.5 58.4 -171.5 83.4 -167.6 83.6 -167.6 58.6 -179.5 57.0 -191.3 53.1 -202.9 47.1 -214.3 38.7 -225.4 35.0 -236.0 30.5 -246.2 23.9 -255.9 16.2 -265.0 8.0 -273.6 -0.0 -281.6 -9.0 -289.1 -18.3 -296.0 -27.9 -302.4 -37.1 -308.4 -45.4 -313.9 -52.6 -319.1 -58.4 -324.1 -62.7 -328.9 -65.4 -333.6 -66.3 -333.6 -91.3Z" fill="url(#dg38)"/>
<path d="M-335.0 -91.3 -335.0 -66.3 -330.3 -65.4 -325.5 -62.8 -320.5 -58.5 -315.3 -52.7 -309.8 -45.5 -303.8 -37.2 -297.4 -28.1 -290.5 -18.5 -283.0 -8.9 -275.0 -0.0 -266.4 8.0 -257.3 16.2 -247.6 23.9 -237.4 30.6 -226.8 35.3 -215.7 37.9 -204.3 46.6 -192.7 52.8 -180.9 56.9 -169.0 58.6 -169.0 83.6 -165.1 83.6 -165.1 58.6 -177.0 57.3 -188.8 53.6 -200.4 47.7 -211.8 39.9 -222.9 34.4 -233.5 30.2 -243.7 23.9 -253.4 16.3 -262.5 8.1 -271.1 -0.0 -279.1 -9.2 -286.6 -18.0 -293.5 -27.6 -299.9 -36.8 -305.9 -45.1 -311.4 -52.3 -316.6 -58.2 -321.6 -62.6 -326.4 -65.3 -331.1 -66.3 -331.1 -91.3Z" fill="url(#dg39)"/>
<path d="M-332.5 -91.3 -332.5 -66.3 -327.8 -65.4 -323.0 -62.7 -318.0 -58.3 -312.8 -52.5 -307.3 -45.3 -301.3 -36.9 -294.9 -27.8 -288.0 -18.2 -280.5 -9.1 -272.5 -0.0 -263.9 8.0 -254.8 16.2 -245.1 23.9 -234.9 30.4 -224.3 34.8 -213.2 39.3 -201.8 47.4 -190.2 53.3 -178.4 57.2 -166.5 58.6 -166.5 83.6 -162.6 83.6 -162.6 58.6 -174.5 57.5 -186.3 54.0 -197.9 48.4 -209.3 40.8 -220.4 33.7 -231.0 30.0 -241.2 23.8 -250.9 16.3 -260.0 8.1 -268.6 -0.0 -276.6 -9.3 -284.1 -17.4 -291.0 -27.3 -297.4 -36.4 -303.4 -44.7 -308.9 -52.0 -314.1 -57.9 -319.1 -62.4 -323.9 -65.1 -328.6 -66.2 -328.6 -91.2Z" fill="url(#dg40)"/>
<path d="M-330.0 -91.2 -330.0 -66.2 -325.3 -65.2 -320.5 -62.5 -315.5 -58.1 -310.3 -52.2 -304.8 -44.9 -298.8 -36.6 -292.4 -27.5 -285.5 -17.8 -278.0 -9.2 -270.0 -0.0 -261.4 8.1 -252.3 16.3 -242.6 23.9 -232.4 30.1 -221.8 34.2 -210.7 40.3 -199.3 48.0 -187.7 53.8 -175.9 57.4 -164.0 58.7 -164.0 83.7 -160.3 83.6 -160.3 58.6 -172.2 57.7 -184.0 54.4 -195.6 48.9 -207.0 41.6 -218.1 32.8 -228.7 29.7 -238.9 23.7 -248.6 16.3 -257.7 8.2 -266.3 -0.0 -274.3 -9.4 -281.8 -17.8 -288.7 -26.9 -295.1 -36.0 -301.1 -44.4 -306.6 -51.7 -311.8 -57.7 -316.8 -62.1 -321.6 -65.0 -326.3 -66.1 -326.3 -91.1Z" fill="url(#dg41)"/>
<path d="M-327.7 -91.2 -327.7 -66.2 -323.0 -65.1 -318.2 -62.3 -313.2 -57.8 -308.0 -51.9 -302.5 -44.6 -296.5 -36.3 -290.1 -27.1 -283.2 -17.6 -275.7 -9.3 -267.7 -0.0 -259.1 8.2 -250.0 16.3 -240.3 23.8 -230.1 29.8 -219.5 33.4 -208.4 41.1 -197.0 48.6 -185.4 54.1 -173.6 57.6 -161.7 58.6 -161.7 83.6 -158.0 83.5 -158.0 58.5 -169.9 57.8 -181.7 54.7 -193.3 49.4 -204.7 42.3 -215.8 33.1 -226.4 29.3 -236.6 23.6 -246.3 16.3 -255.4 8.2 -264.0 -0.0 -272.0 -9.5 -279.5 -18.1 -286.4 -26.4 -292.8 -35.6 -298.8 -44.0 -304.3 -51.3 -309.5 -57.4 -314.5 -61.9 -319.3 -64.8 -324.0 -66.0 -324.0 -91.0Z" fill="url(#dg42)"/>
<path d="M-325.4 -91.0 -325.4 -66.0 -320.7 -64.9 -315.9 -62.0 -310.9 -57.5 -305.7 -51.6 -300.2 -44.3 -294.2 -35.9 -287.8 -26.7 -280.9 -18.0 -273.4 -9.4 -265.4 -0.0 -256.8 8.2 -247.7 16.3 -238.0 23.7 -227.8 29.5 -217.2 32.1 -206.1 41.9 -194.7 49.1 -183.1 54.5 -171.3 57.7 -159.4 58.6 -159.4 83.6 -155.7 83.4 -155.7 58.4 -167.6 57.9 -179.4 54.9 -191.0 49.8 -202.4 42.9 -213.5 34.2 -224.1 28.9 -234.3 23.4 -244.0 16.3 -253.1 8.2 -261.7 -0.0 -269.7 -9.5 -277.2 -18.3 -284.1 -25.6 -290.5 -35.2 -296.5 -43.6 -302.0 -51.0 -307.2 -57.0 -312.2 -61.6 -317.0 -64.6 -321.7 -65.8 -321.7 -90.8Z" fill="url(#dg43)"/>
<path d="M-323.1 -90.9 -323.1 -65.9 -318.4 -64.7 -313.6 -61.8 -308.6 -57.2 -303.4 -51.2 -297.9 -43.9 -291.9 -35.5 -285.5 -26.1 -278.6 -18.2 -271.1 -9.5 -263.1 -0.0 -254.5 8.2 -245.4 16.3 -235.7 23.5 -225.5 29.1 -214.9 33.6 -203.8 42.5 -192.4 49.5 -180.8 54.8 -169.0 57.8 -157.1 58.5 -157.1 83.5 -153.4 83.3 -153.4 58.3 -165.3 57.9 -177.1 55.2 -188.7 50.2 -200.1 43.4 -211.2 35.1 -221.8 28.4 -232.0 23.2 -241.7 16.2 -250.8 8.2 -259.4 -0.0 -267.4 -9.6 -274.9 -18.5 -281.8 -26.2 -288.2 -34.7 -294.2 -43.2 -299.7 -50.6 -304.9 -56.7 -309.9 -61.3 -314.7 -64.3 -319.4 -65.6 -319.4 -90.6Z" fill="url(#dg44)"/>
<path d="M-320.8 -90.7 -320.8 -65.7 -316.1 -64.5 -311.3 -61.5 -306.3 -56.9 -301.1 -50.8 -295.6 -43.4 -289.6 -35.0 -283.2 -25.9 -276.3 -18.4 -268.8 -9.5 -260.8 -0.0 -252.2 8.2 -243.1 16.2 -233.4 23.3 -223.2 28.7 -212.6 34.6 -201.5 43.1 -190.1 50.0 -178.5 55.0 -166.7 57.9 -154.8 58.4 -154.8 83.4 -151.1 83.1 -151.1 58.1 -163.0 57.9 -174.8 55.4 -186.4 50.6 -197.8 43.9 -208.9 35.8 -219.5 27.8 -229.7 23.0 -239.4 16.2 -248.5 8.3 -257.1 -0.0 -265.1 -9.6 -272.6 -18.6 -279.5 -26.6 -285.9 -34.0 -291.9 -42.7 -297.4 -50.1 -302.6 -56.2 -307.6 -60.9 -312.4 -64.0 -317.1 -65.4 -317.1 -90.4Z" fill="url(#dg45)"/>
<path d="M-318.5 -90.5 -318.5 -65.5 -313.8 -64.2 -309.0 -61.1 -304.0 -56.5 -298.8 -50.4 -293.3 -43.0 -287.3 -34.4 -280.9 -26.4 -274.0 -18.5 -266.5 -9.6 -258.5 -0.0 -249.9 8.3 -240.8 16.2 -231.1 23.1 -220.9 28.2 -210.3 35.4 -199.2 43.6 -187.8 50.4 -176.2 55.2 -164.4 57.9 -152.5 58.2 -152.5 83.2 -148.8 82.8 -148.8 57.8 -160.7 57.9 -172.5 55.5 -184.1 50.9 -195.5 44.4 -206.6 36.5 -217.2 26.8 -227.4 22.8 -237.1 16.1 -246.2 8.2 -254.8 -0.0 -262.8 -9.7 -270.3 -18.8 -277.2 -26.9 -283.6 -33.3 -289.6 -42.1 -295.1 -49.6 -300.3 -55.8 -305.3 -60.5 -310.1 -63.7 -314.8 -65.1 -314.8 -90.1Z" fill="url(#dg46)"/>
<path d="M-316.2 -90.3 -316.2 -65.3 -311.5 -63.9 -306.7 -60.8 -301.7 -56.1 -296.5 -49.9 -291.0 -42.5 -285.0 -33.7 -278.6 -26.7 -271.7 -18.7 -264.2 -9.6 -256.2 -0.0 -247.6 8.3 -238.5 16.1 -228.8 22.9 -218.6 27.5 -208.0 36.1 -196.9 44.1 -185.5 50.7 -173.9 55.4 -162.1 57.9 -150.2 58.0 -150.2 83.0 -146.5 82.5 -146.5 57.5 -158.4 57.8 -170.2 55.6 -181.8 51.2 -193.2 44.8 -204.3 37.0 -214.9 27.9 -225.1 22.5 -234.8 16.0 -243.9 8.2 -252.5 -0.0 -260.5 -9.7 -268.0 -18.9 -274.9 -27.2 -281.3 -34.0 -287.3 -41.4 -292.8 -49.1 -298.0 -55.3 -303.0 -60.1 -307.8 -63.3 -312.5 -64.8 -312.5 -89.8Z" fill="url(#dg47)"/>
<path d="M-313.9 -90.0 -313.9 -65.0 -309.2 -63.5 -304.4 -60.4 -299.4 -55.6 -294.2 -49.4 -288.7 -41.8 -282.7 -33.6 -276.3 -27.0 -269.4 -18.8 -261.9 -9.7 -253.9 -0.0 -245.3 8.2 -236.2 16.0 -226.5 22.6 -216.3 27.2 -205.7 36.7 -194.6 44.6 -183.2 51.0 -171.6 55.6 -159.8 57.9 -147.9 57.7 -147.9 82.7 -144.2 82.2 -144.2 57.2 -156.1 57.7 -167.9 55.7 -179.5 51.4 -190.9 45.2 -202.0 37.6 -212.6 28.7 -222.8 22.1 -232.5 15.8 -241.6 8.2 -250.2 -0.0 -258.2 -9.7 -265.7 -19.0 -272.6 -27.4 -279.0 -34.5 -285.0 -40.5 -290.5 -48.4 -295.7 -54.8 -300.7 -59.6 -305.5 -62.9 -310.2 -64.5 -310.2 -89.5Z" fill="url(#dg48)"/>
<path d="M-311.6 -89.7 -311.6 -64.7 -306.9 -63.2 -302.1 -59.9 -297.1 -55.1 -291.9 -48.8 -286.4 -41.1 -280.4 -34.2 -274.0 -27.2 -267.1 -18.9 -259.6 -9.7 -251.6 -0.0 -243.0 8.2 -233.9 15.9 -224.2 22.3 -214.0 28.3 -203.4 37.3 -192.3 45.0 -180.9 51.3 -169.3 55.7 -157.5 57.8 -145.6 57.4 -145.6 82.4 -141.9 81.9 -141.9 56.9 -153.8 57.6 -165.6 55.8 -177.2 51.7 -188.6 45.6 -199.7 38.0 -210.3 29.4 -220.5 21.7 -230.2 15.7 -239.3 8.2 -247.9 -0.0 -255.9 -9.7 -263.4 -19.0 -270.3 -27.6 -276.7 -34.9 -282.7 -40.5 -288.2 -47.7 -293.4 -54.2 -298.4 -59.1 -303.2 -62.5 -307.9 -64.1 -307.9 -89.1Z" fill="url(#dg49)"/>
<path d="M-309.3 -89.3 -309.3 -64.3 -304.6 -62.7 -299.8 -59.5 -294.8 -54.6 -289.6 -48.2 -284.1 -39.8 -278.1 -34.7 -271.7 -27.5 -264.8 -19.0 -257.3 -9.7 -249.3 -0.0 -240.7 8.2 -231.6 15.8 -221.9 21.9 -211.7 29.0 -201.1 37.8 -190.0 45.4 -178.6 51.5 -167.0 55.7 -155.2 57.7 -143.3 57.1 -143.3 82.1 -139.6 81.5 -139.6 56.5 -151.5 57.4 -163.3 55.8 -174.9 51.9 -186.3 45.9 -197.4 38.5 -208.0 30.0 -218.2 21.1 -227.9 15.5 -237.0 8.1 -245.6 -0.0 -253.6 -9.7 -261.1 -19.1 -268.0 -27.7 -274.4 -35.2 -280.4 -41.2 -285.9 -46.8 -291.1 -53.5 -296.1 -58.6 -300.9 -62.0 -305.6 -63.7 -305.6 -88.7Z" fill="url(#dg50)"/>
<path d="M-307.0 -89.0 -307.0 -64.0 -302.3 -62.3 -297.5 -58.9 -292.5 -54.0 -287.3 -47.4 -281.8 -40.8 -275.8 -35.0 -269.4 -27.6 -262.5 -19.1 -255.0 -9.7 -247.0 -0.0 -238.4 8.2 -229.3 15.6 -219.6 21.5 -209.4 29.6 -198.8 38.2 -187.7 45.7 -176.3 51.7 -164.7 55.8 -152.9 57.5 -141.0 56.7 -141.0 81.7 -137.3 81.0 -137.3 56.0 -149.2 57.2 -161.0 55.8 -172.6 52.0 -184.0 46.2 -195.1 38.9 -205.7 30.5 -215.9 21.2 -225.6 15.3 -234.7 8.1 -243.3 -0.0 -251.3 -9.7 -258.8 -19.2 -265.7 -27.9 -272.1 -35.5 -278.1 -41.7 -283.6 -45.8 -288.8 -52.8 -293.8 -58.0 -298.6 -61.5 -303.3 -63.3 -303.3 -88.3Z" fill="url(#dg51)"/>
<path d="M-304.7 -88.5 -304.7 -63.5 -300.0 -61.8 -295.2 -58.3 -290.2 -53.3 -285.0 -46.3 -279.5 -41.4 -273.5 -35.3 -267.1 -27.8 -260.2 -19.1 -252.7 -9.7 -244.7 -0.0 -236.1 8.1 -227.0 15.5 -217.3 20.7 -207.1 30.2 -196.5 38.7 -185.4 46.1 -174.0 51.9 -162.4 55.8 -150.6 57.3 -138.7 56.3 -138.7 81.3 -135.0 80.5 -135.0 55.5 -146.9 56.9 -158.7 55.7 -170.3 52.1 -181.7 46.5 -192.8 39.3 -203.4 31.0 -213.6 21.9 -223.3 15.1 -232.4 8.0 -241.0 -0.0 -249.0 -9.7 -256.5 -19.2 -263.4 -28.0 -269.8 -35.7 -275.8 -42.2 -281.3 -46.9 -286.5 -51.9 -291.5 -57.3 -296.3 -60.9 -301.0 -62.8 -301.0 -87.8Z" fill="url(#dg52)"/>
<path d="M-302.4 -88.1 -302.4 -63.1 -297.7 -61.2 -292.9 -57.7 -287.9 -52.5 -282.7 -46.3 -277.2 -41.9 -271.2 -35.6 -264.8 -27.9 -257.9 -19.2 -250.4 -9.7 -242.4 -0.0 -233.8 8.1 -224.7 15.2 -215.0 21.5 -204.8 30.7 -194.2 39.0 -183.1 46.3 -171.7 52.1 -160.1 55.7 -148.3 57.1 -136.4 55.8 -136.4 80.8 -132.7 80.0 -132.7 55.0 -144.6 56.6 -156.4 55.6 -168.0 52.2 -179.4 46.7 -190.5 39.6 -201.1 31.4 -211.3 22.5 -221.0 14.8 -230.1 7.9 -238.7 -0.0 -246.7 -9.7 -254.2 -19.2 -261.1 -28.1 -267.5 -35.9 -273.5 -42.5 -279.0 -47.5 -284.2 -50.4 -289.2 -56.5 -294.0 -60.3 -298.7 -62.3 -298.7 -87.3Z" fill="url(#dg53)"/>
<path d="M-300.1 -87.6 -300.1 -62.6 -295.4 -60.6 -290.6 -57.0 -285.6 -51.4 -280.4 -47.1 -274.9 -42.3 -268.9 -35.8 -262.5 -28.0 -255.6 -19.2 -248.1 -9.7 -240.1 -0.0 -231.5 8.0 -222.4 15.0 -212.7 22.2 -202.5 31.1 -191.9 39.4 -180.8 46.6 -169.4 52.2 -157.8 55.7 -146.0 56.8 -134.1 55.3 -134.1 80.3 -130.4 79.4 -130.4 54.4 -142.3 56.2 -154.1 55.5 -165.7 52.2 -177.1 46.9 -188.2 39.9 -198.8 31.8 -209.0 23.0 -218.7 14.5 -227.8 7.9 -236.4 -0.0 -244.4 -9.7 -251.9 -19.2 -258.8 -28.2 -265.2 -36.1 -271.2 -42.8 -276.7 -48.0 -281.9 -51.4 -286.9 -55.5 -291.7 -59.5 -296.4 -61.7 -296.4 -86.7Z" fill="url(#dg54)"/>
<path d="M-297.8 -87.0 -297.8 -62.0 -293.1 -60.0 -288.3 -56.1 -283.3 -50.6 -278.1 -47.7 -272.6 -42.6 -266.6 -36.0 -260.2 -28.1 -253.3 -19.2 -245.8 -9.7 -237.8 -0.0 -229.2 7.9 -220.1 14.7 -210.4 22.7 -200.2 31.5 -189.6 39.7 -178.5 46.8 -167.1 52.2 -155.5 55.5 -143.7 56.4 -131.8 54.7 -131.8 79.7 -128.1 78.7 -128.1 53.7 -140.0 55.8 -151.8 55.3 -163.4 52.3 -174.8 47.1 -185.9 40.2 -196.5 32.1 -206.7 23.4 -216.4 14.3 -225.5 7.8 -234.1 -0.0 -242.1 -9.7 -249.6 -19.2 -256.5 -28.2 -262.9 -36.3 -268.9 -43.1 -274.4 -48.5 -279.6 -52.1 -284.6 -54.1 -289.4 -58.7 -294.1 -61.0 -294.1 -86.0Z" fill="url(#dg55)"/>
<path d="M-295.5 -86.4 -295.5 -61.4 -290.8 -59.2 -286.0 -55.1 -281.0 -51.7 -275.8 -48.2 -270.3 -42.9 -264.3 -36.2 -257.9 -28.2 -251.0 -19.2 -243.5 -9.7 -235.5 -0.0 -226.9 7.8 -217.8 14.3 -208.1 23.1 -197.9 31.9 -187.3 40.0 -176.2 47.0 -164.8 52.3 -153.2 55.4 -141.4 56.1 -129.5 54.1 -129.5 79.1 -125.8 77.9 -125.8 52.9 -137.7 55.4 -149.5 55.1 -161.1 52.2 -172.5 47.2 -183.6 40.5 -194.2 32.5 -204.4 23.8 -214.1 14.8 -223.2 7.6 -231.8 -0.0 -239.8 -9.7 -247.3 -19.2 -254.2 -28.2 -260.6 -36.4 -266.6 -43.3 -272.1 -48.9 -277.3 -52.8 -282.3 -54.6 -287.1 -57.8 -291.8 -60.3 -291.8 -85.3Z" fill="url(#dg56)"/>
<path d="M-293.2 -85.8 -293.2 -60.8 -288.5 -58.4 -283.7 -53.8 -278.7 -52.4 -273.5 -48.6 -268.0 -43.2 -262.0 -36.3 -255.6 -28.2 -248.7 -19.2 -241.2 -9.7 -233.2 -0.0 -224.6 7.7 -215.5 14.5 -205.8 23.5 -195.6 32.3 -185.0 40.3 -173.9 47.1 -162.5 52.3 -150.9 55.2 -139.1 55.7 -127.2 53.4 -127.2 78.4 -123.5 77.1 -123.5 52.1 -135.4 54.9 -147.2 54.8 -158.8 52.2 -170.2 47.3 -181.3 40.7 -191.9 32.8 -202.1 24.1 -211.8 15.2 -220.9 7.5 -229.5 -0.0 -237.5 -9.6 -245.0 -19.2 -251.9 -28.3 -258.3 -36.5 -264.3 -43.5 -269.8 -49.2 -275.0 -53.3 -280.0 -55.5 -284.8 -56.4 -289.5 -59.5 -289.5 -84.5Z" fill="url(#dg57)"/>
<path d="M-290.9 -85.0 -290.9 -60.0 -286.2 -57.3 -281.4 -55.0 -276.4 -53.0 -271.2 -49.0 -265.7 -43.4 -259.7 -36.4 -253.3 -28.3 -246.4 -19.2 -238.9 -9.6 -230.9 -0.0 -222.3 7.6 -213.2 15.0 -203.5 23.9 -193.3 32.6 -182.7 40.5 -171.6 47.3 -160.2 52.2 -148.6 55.0 -136.8 55.2 -124.9 52.6 -124.9 77.6 -121.2 76.1 -121.2 51.1 -133.1 54.4 -144.9 54.5 -156.5 52.1 -167.9 47.4 -179.0 40.9 -189.6 33.0 -199.8 24.4 -209.5 15.6 -218.6 7.3 -227.2 -0.0 -235.2 -9.6 -242.7 -19.1 -249.6 -28.3 -256.0 -36.5 -262.0 -43.7 -267.5 -49.5 -272.7 -53.7 -277.7 -56.2 -282.5 -56.7 -287.2 -58.5 -287.2 -83.5Z" fill="url(#dg58)"/>
<path d="M-288.6 -84.1 -288.6 -59.1 -283.9 -55.6 -279.1 -55.8 -274.1 -53.4 -268.9 -49.3 -263.4 -43.6 -257.4 -36.5 -251.0 -28.3 -244.1 -19.2 -236.6 -9.6 -228.6 -0.0 -220.0 7.4 -210.9 15.4 -201.2 24.2 -191.0 32.9 -180.4 40.8 -169.3 47.4 -157.9 52.1 -146.3 54.7 -134.5 54.7 -122.6 51.7 -122.6 76.7 -118.9 74.9 -118.9 49.9 -130.8 53.8 -142.6 54.2 -154.2 52.0 -165.6 47.4 -176.7 41.0 -187.3 33.3 -197.5 24.7 -207.2 15.9 -216.3 7.2 -224.9 -0.0 -232.9 -9.5 -240.4 -19.1 -247.3 -28.2 -253.7 -36.6 -259.7 -43.8 -265.2 -49.7 -270.4 -54.1 -275.4 -56.8 -280.2 -57.6 -284.9 -57.2 -284.9 -82.2Z" fill="url(#dg59)"/>
<path d="M-286.3 -83.1 -286.3 -58.1 -281.6 -57.1 -276.8 -56.5 -271.8 -53.9 -266.6 -49.6 -261.1 -43.7 -255.1 -36.6 -248.7 -28.2 -241.8 -19.1 -234.3 -9.5 -226.3 -0.0 -217.7 7.2 -208.6 15.7 -198.9 24.5 -188.7 33.1 -178.1 40.9 -167.0 47.4 -155.6 52.0 -144.0 54.4 -132.2 54.2 -120.3 50.7 -120.3 75.7 -116.6 73.1 -116.6 48.1 -128.5 53.1 -140.3 53.8 -151.9 51.8 -163.3 47.4 -174.4 41.2 -185.0 33.5 -195.2 25.0 -204.9 16.1 -214.0 7.5 -222.6 -0.0 -230.6 -9.5 -238.1 -19.0 -245.0 -28.2 -251.4 -36.6 -257.4 -43.9 -262.9 -49.9 -268.1 -54.4 -273.1 -57.3 -277.9 -58.3 -282.6 -57.3 -282.6 -82.3Z" fill="url(#dg60)"/>
<path d="M-284.0 -81.0 -284.0 -56.0 -279.3 -57.9 -274.5 -57.0 -269.5 -54.2 -264.3 -49.8 -258.8 -43.9 -252.8 -36.6 -246.4 -28.2 -239.5 -19.1 -232.0 -9.5 -224.0 -0.0 -215.4 7.4 -206.3 16.0 -196.6 24.8 -186.4 33.4 -175.8 41.1 -164.7 47.4 -153.3 51.9 -141.7 54.1 -129.9 53.5 -118.0 49.3 -118.0 74.3 -113.0 74.6 -113.0 49.6 -124.5 51.8 -136.0 53.0 -147.4 51.4 -158.7 47.4 -169.6 41.4 -180.3 33.9 -190.5 25.4 -200.2 16.6 -209.5 7.9 -218.2 -0.0 -226.4 -9.3 -234.1 -18.9 -241.2 -28.1 -247.7 -36.6 -253.8 -44.0 -259.5 -50.1 -264.8 -54.8 -269.7 -57.8 -274.4 -59.2 -279.0 -58.7 -279.0 -83.7Z" fill="url(#dg1)"/>
<path d="M-280.4 -83.3 -280.4 -58.3 -275.8 -58.9 -271.1 -57.6 -266.2 -54.6 -260.9 -50.1 -255.2 -44.0 -249.1 -36.6 -242.6 -28.1 -235.5 -18.9 -227.8 -9.4 -219.6 -0.0 -210.9 7.8 -201.6 16.4 -191.9 25.3 -181.7 33.8 -171.0 41.3 -160.1 47.4 -148.8 51.5 -137.4 53.3 -125.9 52.3 -114.4 48.8 -114.4 73.8 -109.4 76.1 -109.4 51.1 -120.6 50.2 -131.8 52.0 -143.0 50.8 -154.0 47.2 -164.9 41.5 -175.5 34.2 -185.8 25.8 -195.6 17.0 -205.0 8.2 -213.9 -0.0 -222.3 -9.2 -230.1 -18.7 -237.4 -27.9 -244.1 -36.5 -250.3 -44.0 -256.1 -50.3 -261.4 -55.1 -266.3 -58.3 -271.0 -59.9 -275.4 -59.7 -275.4 -84.7Z" fill="url(#dg2)"/>
<path d="M-276.8 -84.4 -276.8 -59.4 -272.4 -59.6 -267.7 -58.1 -262.8 -55.0 -257.5 -50.2 -251.7 -44.0 -245.5 -36.5 -238.8 -28.0 -231.5 -18.7 -223.7 -9.2 -215.3 -0.0 -206.4 8.1 -197.0 16.8 -187.2 25.7 -176.9 34.1 -166.3 41.5 -155.4 47.2 -144.4 51.0 -133.2 52.4 -122.0 50.8 -110.8 50.5 -110.8 75.5 -105.8 77.2 -105.8 52.2 -116.6 47.5 -127.5 50.9 -138.5 50.1 -149.4 46.8 -160.2 41.4 -170.8 34.4 -181.0 26.1 -191.0 17.3 -200.5 8.4 -209.6 -0.0 -218.1 -9.0 -226.1 -18.4 -233.5 -27.7 -240.4 -36.3 -246.8 -44.0 -252.6 -50.4 -258.0 -55.3 -262.9 -58.7 -267.5 -60.4 -271.8 -60.5 -271.8 -85.5Z" fill="url(#dg3)"/>
<path d="M-273.2 -85.2 -273.2 -60.2 -268.9 -60.2 -264.3 -58.5 -259.4 -55.2 -254.0 -50.3 -248.2 -44.0 -241.8 -36.4 -234.9 -27.8 -227.5 -18.5 -219.5 -9.0 -210.9 -0.0 -201.9 8.3 -192.4 17.2 -182.4 26.0 -172.2 34.3 -161.6 41.5 -150.8 46.9 -139.9 50.3 -128.9 51.3 -118.0 48.7 -107.2 51.8 -107.2 76.8 -102.2 78.1 -102.2 53.1 -112.6 49.1 -123.2 49.4 -134.0 49.2 -144.7 46.4 -155.4 41.3 -166.0 34.5 -176.3 26.4 -186.4 17.5 -196.0 8.6 -205.2 -0.0 -213.9 -8.7 -222.1 -18.1 -229.7 -27.4 -236.8 -36.1 -243.2 -43.8 -249.2 -50.3 -254.6 -55.4 -259.5 -58.9 -264.0 -60.8 -268.2 -61.0 -268.2 -86.0Z" fill="url(#dg4)"/>
<path d="M-269.6 -85.8 -269.6 -60.8 -265.4 -60.7 -260.9 -58.8 -256.0 -55.4 -250.6 -50.4 -244.6 -43.9 -238.2 -36.2 -231.1 -27.5 -223.5 -18.2 -215.3 -8.8 -206.6 -0.0 -197.4 8.5 -187.8 17.5 -177.7 26.3 -167.4 34.4 -156.8 41.3 -146.1 46.5 -135.4 49.5 -124.6 50.0 -114.0 48.4 -103.6 52.8 -103.6 77.8 -98.6 78.9 -98.6 53.9 -108.6 50.7 -119.0 47.5 -129.5 48.2 -140.1 45.7 -150.7 41.0 -161.2 34.5 -171.6 26.5 -181.7 17.8 -191.5 8.7 -200.9 -0.0 -209.7 -8.8 -218.1 -17.7 -225.9 -27.0 -233.1 -35.8 -239.7 -43.6 -245.8 -50.3 -251.2 -55.5 -256.1 -59.1 -260.6 -61.1 -264.6 -61.5 -264.6 -86.5Z" fill="url(#dg5)"/>
<path d="M-266.0 -86.3 -266.0 -61.3 -262.0 -61.0 -257.5 -59.1 -252.6 -55.5 -247.2 -50.3 -241.1 -43.7 -234.5 -35.9 -227.3 -27.2 -219.5 -17.9 -211.1 -8.6 -202.2 -0.0 -192.9 8.7 -183.1 17.7 -173.0 26.5 -162.6 34.5 -152.1 41.1 -141.5 45.9 -130.9 48.5 -120.4 48.2 -110.0 50.2 -100.0 53.6 -100.0 78.6 -95.0 79.4 -95.0 54.4 -104.7 51.9 -114.7 46.2 -125.0 46.9 -135.4 45.0 -146.0 40.6 -156.5 34.4 -166.9 26.6 -177.1 17.9 -187.0 8.9 -196.5 -0.0 -205.6 -9.0 -214.1 -17.2 -222.1 -26.6 -229.4 -35.4 -236.2 -43.3 -242.3 -50.1 -247.8 -55.4 -252.7 -59.2 -257.1 -61.3 -261.0 -61.9 -261.0 -86.9Z" fill="url(#dg6)"/>
<path d="M-262.4 -86.7 -262.4 -61.7 -258.5 -61.3 -254.1 -59.2 -249.2 -55.4 -243.7 -50.2 -237.6 -43.5 -230.8 -35.6 -223.5 -26.8 -215.5 -17.4 -207.0 -8.9 -197.9 -0.0 -188.4 8.8 -178.5 17.9 -168.3 26.6 -157.9 34.4 -147.4 40.8 -136.8 45.2 -126.4 47.3 -116.1 45.0 -106.1 51.5 -96.4 54.2 -96.4 79.2 -91.4 79.9 -91.4 54.9 -100.7 52.8 -110.4 48.2 -120.5 45.2 -130.8 44.1 -141.2 40.1 -151.7 34.2 -162.2 26.6 -172.5 18.0 -182.5 9.0 -192.2 -0.0 -201.4 -9.2 -210.1 -17.2 -218.2 -26.1 -225.8 -35.0 -232.7 -43.0 -238.9 -49.8 -244.4 -55.3 -249.4 -59.2 -253.7 -61.5 -257.4 -62.1 -257.4 -87.1Z" fill="url(#dg7)"/>
<path d="M-258.8 -87.0 -258.8 -62.0 -255.1 -61.4 -250.8 -59.2 -245.8 -55.4 -240.3 -49.9 -234.1 -43.1 -227.2 -35.1 -219.6 -26.3 -211.5 -16.9 -202.8 -9.1 -193.6 -0.0 -183.9 8.9 -173.9 18.0 -163.6 26.6 -153.1 34.2 -142.6 40.3 -132.2 44.4 -121.9 45.8 -111.8 47.7 -102.1 52.5 -92.8 54.7 -92.8 79.7 -87.8 80.1 -87.8 55.1 -96.7 53.5 -106.1 49.6 -116.0 42.0 -126.1 42.9 -136.5 39.5 -147.0 33.9 -157.5 26.6 -167.8 18.1 -178.0 9.1 -187.8 -0.0 -197.2 -9.3 -206.1 -17.7 -214.4 -25.4 -222.1 -34.4 -229.1 -42.6 -235.4 -49.5 -241.1 -55.1 -246.0 -59.1 -250.2 -61.5 -253.8 -62.2 -253.8 -87.2Z" fill="url(#dg8)"/>
<path d="M-255.2 -87.2 -255.2 -62.2 -251.6 -61.5 -247.4 -59.1 -242.5 -55.2 -236.8 -49.7 -230.5 -42.7 -223.5 -34.7 -215.8 -25.7 -207.5 -17.6 -198.6 -9.3 -189.2 -0.0 -179.4 9.0 -169.2 18.1 -158.9 26.6 -148.4 34.0 -137.9 39.7 -127.5 43.3 -117.4 43.6 -107.5 49.2 -98.1 53.3 -89.2 55.0 -89.2 80.0 -84.2 80.2 -84.2 55.2 -92.7 54.0 -101.9 50.6 -111.5 44.8 -121.5 41.5 -131.8 38.7 -142.2 33.5 -152.8 26.4 -163.2 18.1 -173.5 9.1 -183.4 -0.0 -193.0 -9.4 -202.1 -18.1 -210.6 -25.2 -218.5 -33.8 -225.6 -42.0 -232.0 -49.1 -237.7 -54.8 -242.6 -58.9 -246.7 -61.4 -250.2 -62.2 -250.2 -87.2Z" fill="url(#dg9)"/>
<path d="M-251.6 -87.2 -251.6 -62.2 -248.1 -61.4 -244.0 -59.0 -239.1 -54.9 -233.4 -49.3 -227.0 -42.3 -219.9 -34.1 -212.0 -24.5 -203.5 -18.0 -194.4 -9.4 -184.8 -0.0 -174.9 9.1 -164.6 18.1 -154.2 26.5 -143.6 33.6 -133.2 38.9 -122.9 41.9 -112.9 44.2 -103.3 50.3 -94.1 53.9 -85.6 55.2 -85.6 80.2 -80.6 80.2 -80.6 55.2 -88.8 54.4 -97.6 51.4 -107.0 46.2 -116.8 39.2 -127.0 37.7 -137.5 32.9 -148.0 26.2 -158.6 18.1 -169.0 9.2 -179.1 -0.0 -188.8 -9.5 -198.1 -18.3 -206.8 -25.9 -214.8 -33.0 -222.1 -41.4 -228.6 -48.6 -234.3 -54.4 -239.2 -58.6 -243.3 -61.2 -246.6 -62.2 -246.6 -87.2Z" fill="url(#dg10)"/>
<path d="M-248.0 -87.2 -248.0 -62.2 -244.7 -61.3 -240.6 -58.7 -235.7 -54.6 -230.0 -48.8 -223.5 -41.7 -216.2 -33.3 -208.2 -25.7 -199.5 -18.2 -190.2 -9.5 -180.5 -0.0 -170.4 9.2 -160.0 18.1 -149.4 26.3 -138.9 33.1 -128.4 38.0 -118.2 40.1 -108.4 45.8 -99.0 51.2 -90.2 54.3 -82.0 55.2 -82.0 80.2 -77.0 80.0 -77.0 55.0 -84.8 54.6 -93.3 52.0 -102.5 47.3 -112.2 40.4 -122.3 36.5 -132.7 32.3 -143.3 25.9 -153.9 18.0 -164.5 9.2 -174.8 -0.0 -184.7 -9.6 -194.1 -18.5 -203.0 -26.5 -211.1 -32.4 -218.5 -40.7 -225.1 -48.0 -230.9 -53.9 -235.8 -58.2 -239.8 -60.9 -243.0 -62.0 -243.0 -87.0Z" fill="url(#dg11)"/>
<path d="M-244.4 -87.0 -244.4 -62.0 -241.2 -61.1 -237.2 -58.4 -232.3 -54.1 -226.5 -48.3 -219.9 -41.0 -212.5 -32.2 -204.4 -26.3 -195.5 -18.5 -186.1 -9.6 -176.2 -0.0 -165.9 9.2 -155.3 18.0 -144.7 26.0 -134.1 32.5 -123.7 36.9 -113.6 39.8 -103.9 47.0 -94.7 51.8 -86.2 54.5 -78.4 55.1 -78.4 80.1 -73.4 79.7 -73.4 54.7 -80.8 54.5 -89.1 52.3 -98.0 48.1 -107.5 41.8 -117.6 34.7 -128.0 31.5 -138.6 25.5 -149.3 17.9 -160.0 9.2 -170.4 -0.0 -180.5 -9.6 -190.1 -18.7 -199.1 -26.8 -207.5 -33.5 -215.0 -39.7 -221.7 -47.3 -227.5 -53.3 -232.4 -57.8 -236.3 -60.6 -239.4 -61.7 -239.4 -86.7Z" fill="url(#dg12)"/>
<path d="M-240.8 -86.8 -240.8 -61.8 -237.7 -60.7 -233.8 -58.0 -228.9 -53.6 -223.1 -47.6 -216.4 -40.2 -208.9 -33.1 -200.5 -26.7 -191.5 -18.7 -181.9 -9.6 -171.8 -0.0 -161.4 9.2 -150.7 17.9 -140.0 25.7 -129.4 31.8 -119.0 35.3 -108.9 41.5 -99.4 47.9 -90.5 52.2 -82.2 54.6 -74.8 54.9 -74.8 79.9 -69.8 79.3 -69.8 54.3 -76.9 54.4 -84.8 52.5 -93.5 48.7 -102.9 42.9 -112.8 35.1 -123.2 30.6 -133.9 25.1 -144.7 17.7 -155.5 9.1 -166.0 -0.0 -176.3 -9.7 -186.1 -18.9 -195.3 -27.2 -203.8 -34.1 -211.5 -38.8 -218.3 -46.5 -224.1 -52.7 -229.0 -57.2 -232.9 -60.1 -235.8 -61.2 -235.8 -86.2Z" fill="url(#dg13)"/>
<path d="M-237.2 -86.4 -237.2 -61.4 -234.3 -60.3 -230.4 -57.5 -225.5 -53.0 -219.7 -46.8 -212.9 -38.9 -205.2 -33.9 -196.7 -27.1 -187.5 -18.8 -177.7 -9.6 -167.4 -0.0 -156.9 9.1 -146.1 17.8 -135.3 25.2 -124.6 30.9 -114.2 34.5 -104.3 42.6 -94.9 48.5 -86.2 52.5 -78.3 54.4 -71.2 54.5 -71.2 79.5 -66.2 78.6 -66.2 53.6 -72.9 54.0 -80.5 52.5 -89.0 49.0 -98.2 43.6 -108.1 36.4 -118.5 29.2 -129.2 24.5 -140.1 17.5 -151.0 9.1 -161.7 -0.0 -172.1 -9.7 -182.1 -19.0 -191.5 -27.4 -200.1 -34.6 -208.0 -40.1 -214.8 -45.4 -220.7 -51.9 -225.6 -56.5 -229.4 -59.5 -232.2 -60.7 -232.2 -85.7Z" fill="url(#dg14)"/>
<path d="M-233.6 -85.9 -233.6 -60.9 -230.8 -59.7 -227.0 -56.8 -222.1 -52.2 -216.2 -45.9 -209.4 -39.7 -201.5 -34.4 -192.9 -27.3 -183.5 -18.9 -173.5 -9.7 -163.1 -0.0 -152.4 9.1 -141.5 17.5 -130.6 24.7 -119.9 29.7 -109.5 36.1 -99.6 43.4 -90.4 49.0 -81.9 52.5 -74.3 54.1 -67.6 53.9 -67.6 78.9 -62.6 77.9 -62.6 52.9 -68.9 53.5 -76.2 52.3 -84.5 49.2 -93.6 44.2 -103.4 37.4 -113.7 28.9 -124.5 23.8 -135.4 17.2 -146.4 9.0 -157.4 -0.0 -168.0 -9.7 -178.1 -19.1 -187.7 -27.6 -196.5 -35.1 -204.4 -40.9 -211.4 -44.4 -217.4 -50.9 -222.2 -55.8 -226.0 -58.8 -228.6 -60.1 -228.6 -85.1Z" fill="url(#dg15)"/>
<path d="M-230.0 -85.3 -230.0 -60.3 -227.4 -59.1 -223.6 -56.1 -218.8 -51.3 -212.8 -44.5 -205.8 -40.6 -197.9 -34.9 -189.1 -27.6 -179.5 -19.0 -169.4 -9.7 -158.8 -0.0 -147.8 9.0 -136.8 17.3 -125.9 24.0 -115.1 28.3 -104.8 37.1 -95.0 44.0 -85.9 49.2 -77.6 52.4 -70.3 53.7 -64.0 53.2 -64.0 78.2 -59.0 76.9 -59.0 51.9 -64.9 52.7 -72.0 51.9 -80.0 49.2 -89.0 44.5 -98.7 38.1 -109.0 30.1 -119.7 22.9 -130.8 16.8 -141.9 8.9 -153.0 -0.0 -163.8 -9.7 -174.1 -19.1 -183.9 -27.8 -192.8 -35.4 -200.9 -41.5 -208.0 -45.9 -214.0 -49.6 -218.8 -54.8 -222.5 -58.0 -225.0 -59.3 -225.0 -84.3Z" fill="url(#dg16)"/>
<path d="M-226.4 -84.6 -226.4 -59.6 -223.9 -58.3 -220.2 -55.2 -215.4 -50.2 -209.4 -45.4 -202.3 -41.3 -194.2 -35.3 -185.3 -27.8 -175.5 -19.1 -165.2 -9.7 -154.4 -0.0 -143.3 8.9 -132.2 16.9 -121.1 23.2 -110.4 29.8 -100.1 37.9 -90.4 44.5 -81.4 49.2 -73.4 52.1 -66.3 53.0 -60.4 52.3 -60.4 77.3 -55.4 75.6 -55.4 50.6 -61.0 51.8 -67.7 51.3 -75.5 48.9 -84.3 44.7 -93.9 38.6 -104.2 30.9 -115.0 21.9 -126.2 16.4 -137.4 8.8 -148.7 -0.0 -159.6 -9.6 -170.1 -19.1 -180.0 -27.9 -189.2 -35.7 -197.4 -42.1 -204.5 -46.8 -210.6 -49.5 -215.4 -53.6 -219.0 -57.0 -221.4 -58.4 -221.4 -83.4Z" fill="url(#dg17)"/>
<path d="M-222.8 -83.8 -222.8 -58.8 -220.4 -57.4 -216.8 -54.2 -212.0 -48.2 -205.9 -46.5 -198.8 -41.9 -190.6 -35.6 -181.4 -27.9 -171.5 -19.1 -161.0 -9.7 -150.1 -0.0 -138.8 8.8 -127.6 16.5 -116.4 21.8 -105.6 30.7 -95.3 38.5 -85.7 44.7 -76.9 49.0 -69.1 51.5 -62.4 52.1 -56.8 51.1 -56.8 76.1 -51.8 73.9 -51.8 48.9 -57.0 50.6 -63.4 50.5 -71.0 48.5 -79.7 44.6 -89.2 38.9 -99.5 31.6 -110.3 23.0 -121.5 15.8 -132.9 8.6 -144.3 -0.0 -155.4 -9.6 -166.1 -19.1 -176.2 -28.0 -185.5 -35.9 -193.8 -42.5 -201.1 -47.5 -207.2 -50.8 -212.0 -51.5 -215.6 -55.8 -217.8 -57.3 -217.8 -82.3Z" fill="url(#dg18)"/>
<path d="M-219.2 -82.8 -219.2 -57.8 -217.0 -56.3 -213.4 -52.7 -208.6 -50.3 -202.5 -47.2 -195.2 -42.3 -186.9 -35.8 -177.6 -28.0 -167.5 -19.1 -156.8 -9.6 -145.7 -0.0 -134.3 8.7 -122.9 16.0 -111.7 22.8 -100.9 31.4 -90.6 38.8 -81.1 44.7 -72.4 48.7 -64.8 50.8 -58.4 51.0 -53.2 49.7 -53.2 74.7 -48.2 74.2 -48.2 49.2 -53.0 49.0 -59.2 49.4 -66.5 47.9 -75.0 44.4 -84.5 39.1 -94.7 32.0 -105.6 23.7 -116.9 15.0 -128.4 8.4 -140.0 -0.0 -151.3 -9.5 -162.1 -19.1 -172.4 -28.1 -181.8 -36.1 -190.3 -42.8 -197.7 -48.1 -203.8 -51.7 -208.6 -53.7 -212.1 -53.6 -214.2 -55.8 -214.2 -80.8Z" fill="url(#dg19)"/>
<path d="M-215.6 -81.5 -215.6 -56.5 -213.5 -54.8 -210.0 -53.1 -205.2 -51.4 -199.1 -47.8 -191.7 -42.7 -183.2 -36.0 -173.8 -28.1 -163.5 -19.1 -152.7 -9.6 -141.4 -0.0 -129.8 8.5 -118.3 15.3 -107.0 23.5 -96.1 31.9 -85.9 39.0 -76.4 44.5 -67.9 48.1 -60.6 49.8 -54.4 49.6 -49.6 47.8 -49.6 72.8 -44.6 76.7 -44.6 51.7 -49.1 47.8 -54.9 48.0 -62.0 47.0 -70.4 44.0 -79.7 39.0 -90.0 32.3 -100.9 24.3 -112.3 15.4 -123.9 8.2 -135.6 -0.0 -147.1 -9.5 -158.1 -19.0 -168.6 -28.1 -178.2 -36.2 -186.8 -43.1 -194.2 -48.5 -200.4 -52.4 -205.2 -54.8 -208.6 -55.8 -210.6 -55.5 -210.6 -80.5Z" fill="url(#dg20)"/>
<path d="M-212.0 -79.0 -212.0 -54.0 -210.0 -55.1 -206.6 -54.4 -201.8 -52.2 -195.6 -48.4 -188.2 -43.0 -179.6 -36.2 -170.0 -28.1 -159.5 -19.0 -148.5 -9.5 -137.0 -0.0 -125.3 8.3 -113.7 15.2 -102.3 24.1 -91.4 32.2 -81.1 39.1 -71.8 44.1 -63.4 47.3 -56.3 48.5 -50.5 47.2 -46.0 50.8 -46.0 75.8 -41.9 78.3 -41.9 53.3 -46.7 49.7 -52.9 47.1 -60.2 46.5 -68.7 43.8 -78.2 39.0 -88.4 32.4 -99.3 24.4 -110.6 15.6 -122.1 8.1 -133.7 -0.0 -145.0 -9.4 -155.8 -19.0 -166.1 -28.1 -175.5 -36.3 -184.0 -43.3 -191.4 -48.9 -197.5 -53.0 -202.3 -55.6 -205.8 -56.8 -207.9 -56.8 -207.9 -81.8Z" fill="url(#dg21)"/>
<path d="M-209.3 -81.2 -209.3 -56.2 -207.2 -56.3 -203.7 -55.2 -198.9 -52.7 -192.8 -48.7 -185.4 -43.2 -176.9 -36.3 -167.5 -28.1 -157.2 -19.0 -146.4 -9.5 -135.1 -0.0 -123.5 8.2 -112.0 15.5 -100.7 24.3 -89.8 32.3 -79.6 39.0 -70.1 43.9 -61.6 46.9 -54.3 47.7 -48.1 48.7 -43.3 52.5 -43.3 77.5 -39.2 79.7 -39.2 54.7 -44.4 51.2 -50.8 45.8 -58.4 46.1 -67.1 43.5 -76.6 38.9 -86.9 32.4 -97.7 24.5 -108.9 15.8 -120.3 7.9 -131.7 -0.0 -142.8 -9.4 -153.5 -18.9 -163.6 -28.1 -172.9 -36.4 -181.2 -43.5 -188.5 -49.2 -194.6 -53.4 -199.4 -56.2 -203.0 -57.5 -205.2 -57.7 -205.2 -82.7Z" fill="url(#dg22)"/>
<path d="M-206.6 -82.2 -206.6 -57.2 -204.4 -57.2 -200.8 -55.9 -196.0 -53.2 -189.9 -49.0 -182.6 -43.4 -174.3 -36.3 -165.0 -28.1 -154.9 -19.0 -144.2 -9.4 -133.1 -0.0 -121.7 8.0 -110.3 15.7 -99.1 24.4 -88.3 32.4 -78.0 39.0 -68.5 43.7 -59.8 46.4 -52.2 46.7 -45.8 50.3 -40.6 54.0 -40.6 79.0 -36.5 81.0 -36.5 56.0 -42.1 52.5 -48.8 46.3 -56.6 45.5 -65.4 43.3 -75.0 38.8 -85.3 32.5 -96.1 24.6 -107.3 16.0 -118.5 7.8 -129.8 -0.0 -140.7 -9.3 -151.2 -18.8 -161.1 -28.0 -170.3 -36.4 -178.5 -43.6 -185.6 -49.4 -191.7 -53.8 -196.5 -56.7 -200.1 -58.2 -202.5 -58.4 -202.5 -83.4Z" fill="url(#dg23)"/>
<path d="M-203.9 -83.0 -203.9 -58.0 -201.5 -57.9 -197.9 -56.5 -193.1 -53.6 -187.0 -49.3 -179.9 -43.5 -171.7 -36.4 -162.5 -28.0 -152.6 -18.9 -142.1 -9.4 -131.2 -0.0 -119.9 7.9 -108.7 15.9 -97.5 24.5 -86.7 32.4 -76.4 38.9 -66.8 43.5 -58.0 45.9 -50.2 45.2 -43.5 51.8 -37.9 55.3 -37.9 80.3 -33.8 82.1 -33.8 57.1 -39.7 53.7 -46.8 47.8 -54.8 44.9 -63.8 43.0 -73.5 38.7 -83.8 32.5 -94.5 24.7 -105.6 16.2 -116.7 7.6 -127.8 -0.0 -138.6 -9.3 -148.9 -18.8 -158.7 -28.0 -167.6 -36.4 -175.7 -43.7 -182.8 -49.6 -188.8 -54.1 -193.6 -57.2 -197.3 -58.8 -199.8 -59.0 -199.8 -84.0Z" fill="url(#dg24)"/>
<path d="M-201.2 -83.7 -201.2 -58.7 -198.7 -58.5 -195.0 -57.0 -190.2 -54.0 -184.2 -49.5 -177.1 -43.6 -169.0 -36.4 -160.1 -28.0 -150.3 -18.8 -140.0 -9.3 -129.2 -0.0 -118.1 7.7 -107.0 16.0 -95.9 24.7 -85.2 32.5 -74.9 38.8 -65.2 43.2 -56.2 45.4 -48.2 46.8 -41.1 53.0 -35.2 56.5 -35.2 81.5 -31.1 83.2 -31.1 58.2 -37.4 54.9 -44.7 49.1 -53.0 44.2 -62.1 42.7 -71.9 38.6 -82.2 32.5 -93.0 24.8 -103.9 16.3 -114.9 7.6 -125.9 -0.0 -136.5 -9.2 -146.6 -18.7 -156.2 -27.9 -165.0 -36.3 -172.9 -43.7 -179.9 -49.8 -185.9 -54.4 -190.7 -57.6 -194.5 -59.2 -197.1 -59.5 -197.1 -84.5Z" fill="url(#dg25)"/>
<path d="M-198.5 -84.3 -198.5 -59.3 -195.9 -59.0 -192.1 -57.4 -187.3 -54.3 -181.3 -49.7 -174.3 -43.7 -166.4 -36.4 -157.6 -27.9 -148.0 -18.7 -137.9 -9.3 -127.3 -0.0 -116.3 7.5 -105.3 16.2 -94.4 24.8 -83.6 32.5 -73.3 38.7 -63.5 42.9 -54.4 44.7 -46.1 48.3 -38.8 54.2 -32.5 57.6 -32.5 82.6 -28.4 84.1 -28.4 59.1 -35.1 55.9 -42.7 50.3 -51.2 43.2 -60.4 42.3 -70.3 38.4 -80.7 32.5 -91.4 24.9 -102.3 16.4 -113.2 7.7 -123.9 -0.0 -134.3 -9.1 -144.3 -18.6 -153.7 -27.8 -162.3 -36.3 -170.2 -43.8 -177.0 -49.9 -182.9 -54.7 -187.8 -57.9 -191.6 -59.7 -194.4 -60.0 -194.4 -85.0Z" fill="url(#dg26)"/>
<path d="M-195.8 -84.8 -195.8 -59.8 -193.0 -59.5 -189.2 -57.7 -184.3 -54.5 -178.4 -49.9 -171.6 -43.7 -163.7 -36.3 -155.1 -27.8 -145.7 -18.7 -135.7 -9.2 -125.3 -0.0 -114.6 7.6 -103.7 16.3 -92.8 24.8 -82.1 32.5 -71.7 38.6 -61.8 42.6 -52.6 44.0 -44.1 49.5 -36.5 55.3 -29.8 58.6 -29.8 83.6 -25.7 85.0 -25.7 60.0 -32.8 56.8 -40.7 51.3 -49.4 42.8 -58.8 41.9 -68.7 38.3 -79.1 32.4 -89.8 25.0 -100.6 16.5 -111.4 7.9 -121.9 -0.0 -132.2 -9.1 -142.0 -18.5 -151.2 -27.7 -159.7 -36.2 -167.4 -43.8 -174.2 -50.0 -180.0 -54.8 -184.9 -58.2 -188.8 -60.0 -191.7 -60.4 -191.7 -85.4Z" fill="url(#dg27)"/>
<path d="M-193.1 -85.2 -193.1 -60.2 -190.2 -59.8 -186.3 -58.0 -181.4 -54.8 -175.6 -50.0 -168.8 -43.8 -161.1 -36.3 -152.6 -27.8 -143.4 -18.6 -133.6 -9.1 -123.3 -0.0 -112.8 7.8 -102.0 16.4 -91.2 24.9 -80.5 32.5 -70.1 38.4 -60.2 42.2 -50.8 42.9 -42.1 50.6 -34.2 56.3 -27.1 59.5 -27.1 84.5 -23.0 85.7 -23.0 60.7 -30.4 57.7 -38.7 52.3 -47.6 44.3 -57.1 41.5 -67.2 38.1 -77.6 32.4 -88.2 25.0 -98.9 16.6 -109.6 8.0 -120.0 -0.0 -130.1 -9.0 -139.7 -18.4 -148.7 -27.6 -157.1 -36.1 -164.6 -43.7 -171.3 -50.1 -177.1 -55.0 -182.0 -58.4 -185.9 -60.3 -189.0 -60.7 -189.0 -85.7Z" fill="url(#dg28)"/>
<path d="M-190.4 -85.6 -190.4 -60.6 -187.3 -60.2 -183.4 -58.3 -178.5 -54.9 -172.7 -50.0 -166.0 -43.7 -158.5 -36.2 -150.1 -27.6 -141.1 -18.4 -131.5 -9.1 -121.4 -0.0 -111.0 7.9 -100.3 16.5 -89.6 25.0 -79.0 32.4 -68.6 38.2 -58.5 41.8 -49.0 43.2 -40.1 51.6 -31.8 57.2 -24.4 60.4 -24.4 85.4 -20.3 86.4 -20.3 61.4 -28.1 58.5 -36.6 53.2 -45.8 45.4 -55.5 41.0 -65.6 37.8 -76.0 32.3 -86.6 25.0 -97.2 16.7 -107.8 8.1 -118.0 -0.0 -128.0 -8.9 -137.4 -18.3 -146.3 -27.4 -154.4 -36.0 -161.8 -43.7 -168.4 -50.1 -174.2 -55.1 -179.1 -58.6 -183.1 -60.6 -186.3 -61.0 -186.3 -86.0Z" fill="url(#dg29)"/>
<path d="M-187.7 -85.9 -187.7 -60.9 -184.5 -60.4 -180.5 -58.5 -175.6 -55.0 -169.8 -50.1 -163.2 -43.7 -155.8 -36.1 -147.7 -27.5 -138.8 -18.3 -129.4 -9.0 -119.5 -0.0 -109.2 8.0 -98.6 16.6 -88.0 25.0 -77.4 32.4 -67.0 38.0 -56.9 41.4 -47.2 44.6 -38.0 52.5 -29.5 58.0 -21.7 61.1 -21.7 86.1 -17.6 87.0 -17.6 62.0 -25.8 59.2 -34.6 54.0 -44.0 46.4 -53.8 40.4 -64.0 37.6 -74.5 32.2 -85.0 25.1 -95.6 16.8 -106.0 8.2 -116.1 -0.0 -125.8 -8.8 -135.1 -18.1 -143.8 -27.3 -151.8 -35.9 -159.1 -43.6 -165.6 -50.0 -171.3 -55.1 -176.2 -58.7 -180.3 -60.8 -183.6 -61.3 -183.6 -86.3Z" fill="url(#dg30)"/>
<path d="M-185.0 -86.2 -185.0 -61.2 -181.7 -60.7 -177.6 -58.7 -172.7 -55.1 -167.0 -50.1 -160.5 -43.6 -153.2 -36.0 -145.2 -27.4 -136.5 -18.2 -127.2 -8.9 -117.5 -0.0 -107.4 8.1 -97.0 16.7 -86.4 25.1 -75.9 32.3 -65.4 37.8 -55.2 40.9 -45.4 45.7 -36.0 53.4 -27.2 58.8 -19.0 61.7 -19.0 86.7 -14.9 87.5 -14.9 62.5 -23.4 59.9 -32.6 54.8 -42.2 47.3 -52.2 39.7 -62.5 37.4 -72.9 32.1 -83.5 25.1 -93.9 16.9 -104.2 8.2 -114.2 -0.0 -123.7 -8.8 -132.8 -18.0 -141.3 -27.1 -149.2 -35.7 -156.3 -43.4 -162.7 -50.0 -168.4 -55.1 -173.3 -58.8 -177.4 -60.9 -180.9 -61.5 -180.9 -86.5Z" fill="url(#dg31)"/>
<path d="M-182.3 -86.4 -182.3 -61.4 -178.8 -60.9 -174.7 -58.8 -169.8 -55.1 -164.1 -50.0 -157.7 -43.5 -150.6 -35.8 -142.7 -27.2 -134.2 -18.1 -125.1 -8.8 -115.6 -0.0 -105.6 8.2 -95.3 16.8 -84.9 25.1 -74.3 32.2 -63.9 37.6 -53.6 40.3 -43.6 46.6 -34.0 54.3 -24.8 59.5 -16.3 62.2 -16.3 87.2 -12.2 87.8 -12.2 62.8 -21.1 60.5 -30.5 55.5 -40.4 48.2 -50.5 38.8 -60.9 37.1 -71.4 32.0 -81.9 25.1 -92.2 16.9 -102.4 8.3 -112.2 -0.0 -121.6 -8.7 -130.5 -17.8 -138.8 -26.9 -146.5 -35.5 -153.5 -43.3 -159.8 -49.9 -165.5 -55.1 -170.4 -58.9 -174.6 -61.0 -178.2 -61.7 -178.2 -86.7Z" fill="url(#dg32)"/>
<path d="M-179.6 -86.6 -179.6 -61.6 -176.0 -61.0 -171.8 -58.8 -166.9 -55.1 -161.2 -49.9 -154.9 -43.4 -147.9 -35.6 -140.2 -27.0 -131.9 -17.9 -123.0 -8.7 -113.6 -0.0 -103.8 8.3 -93.6 16.9 -83.3 25.1 -72.8 32.1 -62.3 37.3 -51.9 39.6 -41.8 47.5 -31.9 55.0 -22.5 60.1 -13.6 62.7 -13.6 87.7 -9.5 88.1 -9.5 63.1 -18.8 61.0 -28.5 56.2 -38.6 49.0 -48.9 39.3 -59.3 36.8 -69.8 31.9 -80.3 25.1 -90.6 17.0 -100.6 8.4 -110.2 -0.0 -119.5 -8.6 -128.2 -17.7 -136.3 -26.7 -143.9 -35.3 -150.8 -43.1 -157.0 -49.7 -162.5 -55.0 -167.5 -58.9 -171.8 -61.1 -175.5 -61.8 -175.5 -86.8Z" fill="url(#dg33)"/>
<path d="M-176.9 -86.7 -176.9 -61.7 -173.2 -61.1 -168.9 -58.9 -163.9 -55.1 -158.4 -49.8 -152.2 -43.2 -145.3 -35.4 -137.7 -26.8 -129.6 -17.8 -120.9 -8.6 -111.7 -0.0 -102.0 8.3 -92.0 16.9 -81.7 25.1 -71.2 32.0 -60.7 37.0 -50.3 38.5 -40.0 48.4 -29.9 55.7 -20.2 60.7 -10.9 63.0 -10.9 88.0 -6.8 88.3 -6.8 63.3 -16.5 61.4 -26.5 56.8 -36.8 49.8 -47.2 40.4 -57.8 36.4 -68.3 31.8 -78.7 25.0 -88.9 17.0 -98.8 8.4 -108.3 -0.0 -117.4 -8.5 -125.9 -17.5 -133.9 -26.5 -141.2 -35.1 -148.0 -42.9 -154.1 -49.6 -159.6 -54.9 -164.5 -58.8 -168.9 -61.1 -172.8 -61.8 -172.8 -86.8Z" fill="url(#dg34)"/>
<path d="M-174.2 -86.8 -174.2 -61.8 -170.3 -61.1 -165.9 -58.8 -161.0 -55.0 -155.5 -49.6 -149.4 -43.0 -142.6 -35.2 -135.3 -26.6 -127.3 -17.6 -118.8 -8.5 -109.7 -0.0 -100.2 8.4 -90.3 17.0 -80.1 25.1 -69.7 31.9 -59.2 36.7 -48.6 39.5 -38.2 49.2 -27.9 56.4 -17.9 61.2 -8.2 63.2 -8.2 88.2 -4.1 88.4 -4.1 63.4 -14.1 61.8 -24.5 57.4 -35.0 50.5 -45.6 41.4 -56.2 36.0 -66.7 31.6 -77.1 25.0 -87.2 17.0 -97.0 8.5 -106.3 -0.0 -115.2 -8.3 -123.6 -17.3 -131.4 -26.3 -138.6 -34.8 -145.2 -42.6 -151.3 -49.3 -156.7 -54.8 -161.6 -58.7 -166.1 -61.1 -170.1 -61.9 -170.1 -86.9Z" fill="url(#dg35)"/>
<path d="M-171.5 -86.9 -171.5 -61.9 -167.5 -61.1 -163.0 -58.8 -158.1 -54.8 -152.7 -49.5 -146.6 -42.8 -140.0 -35.0 -132.8 -26.4 -125.0 -17.4 -116.6 -8.4 -107.8 -0.0 -98.4 8.4 -88.6 17.0 -78.5 25.0 -68.1 31.7 -57.6 36.4 -47.0 40.6 -36.4 49.9 -25.9 57.0 -15.5 61.6 -5.5 63.3 -5.5 88.3 -1.4 88.3 -1.4 63.3 -11.8 62.1 -22.4 57.9 -33.2 51.1 -43.9 42.2 -54.6 35.6 -65.2 31.4 -75.5 24.9 -85.6 17.1 -95.2 8.5 -104.4 -0.0 -113.1 -8.2 -121.3 -17.1 -128.9 -26.0 -136.0 -34.6 -142.4 -42.4 -148.4 -49.1 -153.8 -54.6 -158.7 -58.6 -163.2 -61.0 -167.4 -61.9 -167.4 -86.9Z" fill="url(#dg36)"/>
<path d="M-168.8 -86.9 -168.8 -61.9 -164.6 -61.1 -160.1 -58.6 -155.2 -54.7 -149.8 -49.2 -143.8 -42.5 -137.4 -34.7 -130.3 -26.2 -122.7 -17.2 -114.5 -8.3 -105.8 -0.0 -96.6 8.5 -87.0 17.0 -76.9 25.0 -66.6 31.6 -56.0 36.0 -45.3 41.5 -34.6 50.6 -23.8 57.6 -13.2 61.9 -2.8 63.3 -2.8 88.3 1.3 88.1 1.3 63.1 -9.5 62.3 -20.4 58.4 -31.4 51.7 -42.3 43.0 -53.1 35.1 -63.7 31.2 -73.9 24.9 -83.9 17.1 -93.4 8.5 -102.4 -0.0 -111.0 -8.1 -119.0 -16.9 -126.4 -25.7 -133.3 -34.3 -139.7 -42.0 -145.5 -48.8 -150.9 -54.3 -155.8 -58.4 -160.4 -60.9 -164.7 -61.8 -164.7 -86.8Z" fill="url(#dg37)"/>
<path d="M-166.1 -86.9 -166.1 -61.9 -161.8 -61.0 -157.2 -58.5 -152.3 -54.4 -146.9 -49.0 -141.1 -42.2 -134.7 -34.4 -127.8 -25.9 -120.4 -17.0 -112.4 -8.2 -103.8 -0.0 -94.8 8.5 -85.3 17.1 -75.3 24.9 -65.1 31.4 -54.5 35.5 -43.7 42.3 -32.8 51.3 -21.8 58.1 -10.9 62.2 -0.1 63.2 -0.1 88.2 4.0 87.6 4.0 62.6 -7.2 62.5 -18.4 58.8 -29.6 52.3 -40.6 43.7 -51.5 34.4 -62.1 31.0 -72.4 24.8 -82.2 17.1 -91.6 8.6 -100.5 -0.0 -108.9 -7.9 -116.7 -16.6 -124.0 -25.5 -130.7 -33.9 -136.9 -41.7 -142.7 -48.5 -148.0 -54.0 -152.9 -58.2 -157.6 -60.8 -162.0 -61.7 -162.0 -86.7Z" fill="url(#dg38)"/>
<path d="M-163.4 -86.8 -163.4 -61.8 -159.0 -60.8 -154.3 -58.3 -149.4 -54.2 -144.1 -48.6 -138.3 -41.9 -132.1 -34.1 -125.4 -25.6 -118.1 -16.8 -110.3 -8.0 -101.9 -0.0 -93.0 8.6 -83.6 17.1 -73.8 24.9 -63.5 31.2 -52.9 35.0 -42.0 43.1 -31.0 51.9 -19.8 58.5 -8.6 62.4 2.6 62.9 2.6 87.9 6.7 86.0 6.7 61.0 -4.8 62.6 -16.3 59.2 -27.7 52.9 -39.0 44.3 -49.9 33.4 -60.6 30.8 -70.8 24.7 -80.5 17.1 -89.8 8.6 -98.5 -0.0 -106.7 -7.7 -114.4 -16.4 -121.5 -25.1 -128.0 -33.6 -134.1 -41.3 -139.8 -48.1 -145.1 -53.7 -150.0 -57.9 -154.7 -60.6 -159.3 -61.6 -159.3 -86.6Z" fill="url(#dg39)"/>
<path d="M-160.7 -86.7 -160.7 -61.7 -156.1 -60.7 -151.4 -58.0 -146.5 -53.9 -141.2 -48.3 -135.5 -41.5 -129.4 -33.8 -122.9 -25.3 -115.8 -16.5 -108.1 -7.8 -99.9 -0.0 -91.2 8.6 -81.9 17.1 -72.2 24.8 -62.0 31.0 -51.3 34.3 -40.4 43.8 -29.1 52.5 -17.7 58.9 -6.2 62.5 5.3 62.2 5.3 87.2 9.4 86.0 9.4 61.0 -2.5 62.6 -14.3 59.5 -25.9 53.4 -37.3 45.0 -48.4 34.7 -59.0 30.5 -69.2 24.6 -78.9 17.0 -88.0 8.6 -96.6 -0.0 -104.6 -7.7 -112.1 -16.1 -119.0 -24.8 -125.4 -33.2 -131.4 -40.9 -136.9 -47.7 -142.1 -53.3 -147.1 -57.6 -151.9 -60.3 -156.6 -61.4 -156.6 -86.4Z" fill="url(#dg40)"/>
<path d="M-158.0 -86.5 -158.0 -61.5 -153.3 -60.4 -148.5 -57.7 -143.5 -53.5 -138.3 -47.9 -132.8 -41.1 -126.8 -33.4 -120.4 -25.0 -113.5 -16.3 -106.0 -7.5 -98.0 -0.0 -89.4 8.6 -80.3 17.1 -70.6 24.7 -60.4 30.7 -49.8 33.6 -38.7 44.4 -27.3 53.0 -15.7 59.3 -3.9 62.6 8.0 61.0 8.0 86.0 12.0 86.0 12.0 61.0 0.1 62.4 -11.7 59.8 -23.3 54.0 -34.7 45.9 -45.8 36.1 -56.4 30.0 -66.6 24.4 -76.3 17.0 -85.4 8.6 -94.0 -0.0 -102.0 -7.9 -109.5 -15.7 -116.4 -24.4 -122.8 -32.8 -128.8 -40.5 -134.3 -47.3 -139.5 -53.0 -144.5 -57.2 -149.3 -60.0 -154.0 -61.2 -154.0 -86.2Z" fill="url(#dg1)"/>
<path d="M-155.4 -86.4 -155.4 -61.4 -150.7 -60.2 -145.9 -57.4 -140.9 -53.2 -135.7 -47.5 -130.2 -40.7 -124.2 -33.0 -117.8 -24.6 -110.9 -15.9 -103.4 -7.8 -95.4 -0.0 -86.8 8.6 -77.7 17.0 -68.0 24.5 -57.8 30.3 -47.2 35.4 -36.1 45.4 -24.7 53.7 -13.1 59.6 -1.3 62.5 10.6 61.0 10.6 86.0 14.6 86.0 14.6 61.0 2.7 62.1 -9.1 60.1 -20.7 54.6 -32.1 46.7 -43.2 37.2 -53.8 29.4 -64.0 24.1 -73.7 16.9 -82.8 8.6 -91.4 -0.0 -99.4 -8.0 -106.9 -15.2 -113.8 -24.0 -120.2 -32.3 -126.2 -40.1 -131.7 -46.9 -136.9 -52.6 -141.9 -56.9 -146.7 -59.7 -151.4 -61.0 -151.4 -86.0Z" fill="url(#dg2)"/>
<path d="M-152.8 -86.1 -152.8 -61.1 -148.1 -59.9 -143.3 -57.1 -138.3 -52.8 -133.1 -47.1 -127.6 -40.3 -121.6 -32.6 -115.2 -24.2 -108.3 -15.5 -100.8 -8.0 -92.8 -0.0 -84.2 8.6 -75.1 17.0 -65.4 24.3 -55.2 29.7 -44.6 36.6 -33.5 46.3 -22.1 54.3 -10.5 59.9 1.3 62.3 13.2 61.0 13.2 86.0 17.2 86.0 17.2 61.0 5.3 61.4 -6.5 60.2 -18.1 55.1 -29.5 47.5 -40.6 38.2 -51.2 28.5 -61.4 23.9 -71.1 16.8 -80.2 8.6 -88.8 -0.0 -96.8 -8.2 -104.3 -15.3 -111.2 -23.5 -117.6 -31.8 -123.6 -39.6 -129.1 -46.4 -134.3 -52.1 -139.3 -56.5 -144.1 -59.4 -148.8 -60.7 -148.8 -85.7Z" fill="url(#dg3)"/>
<path d="M-150.2 -85.9 -150.2 -60.9 -145.5 -59.6 -140.7 -56.7 -135.7 -52.4 -130.5 -46.7 -125.0 -39.8 -119.0 -32.1 -112.6 -23.8 -105.7 -15.0 -98.2 -8.1 -90.2 -0.0 -81.6 8.6 -72.5 16.9 -62.8 24.0 -52.6 29.0 -42.0 37.7 -30.9 47.1 -19.5 54.9 -7.9 60.1 3.9 61.8 15.8 61.0 15.8 86.0 19.8 86.0 19.8 61.0 7.9 60.2 -3.9 60.3 -15.5 55.6 -26.9 48.2 -38.0 39.1 -48.6 28.7 -58.8 23.5 -68.5 16.7 -77.6 8.6 -86.2 -0.0 -94.2 -8.3 -101.7 -15.7 -108.6 -22.9 -115.0 -31.3 -121.0 -39.1 -126.5 -45.9 -131.7 -51.6 -136.7 -56.1 -141.5 -59.0 -146.2 -60.4 -146.2 -85.4Z" fill="url(#dg4)"/>
<path d="M-147.6 -85.6 -147.6 -60.6 -142.9 -59.2 -138.1 -56.3 -133.1 -51.9 -127.9 -46.2 -122.4 -39.3 -116.4 -31.6 -110.0 -23.2 -103.1 -15.5 -95.6 -8.2 -87.6 -0.0 -79.0 8.6 -69.9 16.8 -60.2 23.7 -50.0 27.7 -39.4 38.6 -28.3 47.9 -16.9 55.3 -5.3 60.2 6.5 60.7 18.4 61.0 18.4 86.0 22.4 86.0 22.4 61.0 10.5 60.2 -1.3 60.2 -12.9 55.9 -24.3 48.9 -35.4 39.9 -46.0 29.9 -56.2 23.1 -65.9 16.6 -75.0 8.6 -83.6 -0.0 -91.6 -8.4 -99.1 -15.9 -106.0 -21.8 -112.4 -30.7 -118.4 -38.5 -123.9 -45.4 -129.1 -51.1 -134.1 -55.6 -138.9 -58.6 -143.6 -60.1 -143.6 -85.1Z" fill="url(#dg5)"/>
<path d="M-145.0 -85.3 -145.0 -60.3 -140.3 -58.8 -135.5 -55.8 -130.5 -51.4 -125.3 -45.7 -119.8 -38.8 -113.8 -31.0 -107.4 -22.5 -100.5 -15.8 -93.0 -8.3 -85.0 -0.0 -76.4 8.6 -67.3 16.6 -57.6 23.3 -47.4 29.3 -36.8 39.5 -25.7 48.5 -14.3 55.7 -2.7 60.2 9.1 60.2 21.0 61.0 21.0 86.0 25.0 86.0 25.0 61.0 13.1 60.2 1.3 60.0 -10.3 56.2 -21.7 49.4 -32.8 40.7 -43.4 30.8 -53.6 22.6 -63.3 16.4 -72.4 8.5 -81.0 -0.0 -89.0 -8.4 -96.5 -16.2 -103.4 -22.7 -109.8 -30.0 -115.8 -37.9 -121.3 -44.8 -126.5 -50.6 -131.5 -55.1 -136.3 -58.1 -141.0 -59.7 -141.0 -84.7Z" fill="url(#dg6)"/>
<path d="M-142.4 -84.9 -142.4 -59.9 -137.7 -58.4 -132.9 -55.3 -127.9 -50.9 -122.7 -45.1 -117.2 -38.2 -111.2 -30.4 -104.8 -22.3 -97.9 -16.0 -90.4 -8.4 -82.4 -0.0 -73.8 8.6 -64.7 16.5 -55.0 22.9 -44.8 30.3 -34.2 40.3 -23.1 49.1 -11.7 56.0 -0.1 60.1 11.7 60.2 23.6 61.0 23.6 86.0 27.6 86.0 27.6 61.0 15.7 60.2 3.9 59.6 -7.7 56.3 -19.1 49.9 -30.2 41.4 -40.8 31.7 -51.0 21.9 -60.7 16.2 -69.8 8.5 -78.4 -0.0 -86.4 -8.5 -93.9 -16.4 -100.8 -23.1 -107.2 -29.1 -113.2 -37.2 -118.7 -44.1 -123.9 -50.0 -128.9 -54.5 -133.7 -57.6 -138.4 -59.2 -138.4 -84.2Z" fill="url(#dg7)"/>
<path d="M-139.8 -84.5 -139.8 -59.5 -135.1 -57.9 -130.3 -54.8 -125.3 -50.3 -120.1 -44.5 -114.6 -37.6 -108.6 -29.6 -102.2 -22.9 -95.3 -16.3 -87.8 -8.5 -79.8 -0.0 -71.2 8.5 -62.1 16.3 -52.4 22.4 -42.2 31.2 -31.6 41.0 -20.5 49.6 -9.1 56.3 2.5 59.8 14.3 60.2 26.2 61.0 26.2 86.0 30.2 86.0 30.2 61.0 18.3 60.2 6.5 58.4 -5.1 56.4 -16.5 50.3 -27.6 42.0 -38.2 32.4 -48.4 22.3 -58.1 15.9 -67.2 8.4 -75.8 -0.0 -83.8 -8.6 -91.3 -16.6 -98.2 -23.5 -104.6 -29.0 -110.6 -36.4 -116.1 -43.4 -121.3 -49.3 -126.3 -53.9 -131.1 -57.1 -135.8 -58.8 -135.8 -83.8Z" fill="url(#dg8)"/>
<path d="M-137.2 -84.0 -137.2 -59.0 -132.5 -57.4 -127.7 -54.2 -122.7 -49.7 -117.5 -43.8 -112.0 -36.8 -106.0 -28.3 -99.6 -23.3 -92.7 -16.5 -85.2 -8.5 -77.2 -0.0 -68.6 8.5 -59.5 16.1 -49.8 21.6 -39.6 32.0 -29.0 41.7 -17.9 50.1 -6.5 56.4 5.1 59.2 16.9 60.2 28.8 61.0 28.8 86.0 32.8 86.0 32.8 61.0 20.9 60.2 9.1 58.0 -2.5 56.4 -13.9 50.6 -25.0 42.6 -35.6 33.1 -45.8 23.1 -55.5 15.7 -64.6 8.3 -73.2 -0.0 -81.2 -8.6 -88.7 -16.7 -95.6 -23.9 -102.0 -29.7 -108.0 -35.4 -113.5 -42.6 -118.7 -48.6 -123.7 -53.3 -128.5 -56.5 -133.2 -58.3 -133.2 -83.3Z" fill="url(#dg9)"/>
<path d="M-134.6 -83.5 -134.6 -58.5 -129.9 -56.8 -125.1 -53.6 -120.1 -49.0 -114.9 -43.1 -109.4 -36.0 -103.4 -29.4 -97.0 -23.7 -90.1 -16.6 -82.6 -8.6 -74.6 -0.0 -66.0 8.4 -56.9 15.8 -47.2 22.7 -37.0 32.8 -26.4 42.3 -15.3 50.5 -3.9 56.5 7.7 58.0 19.5 60.2 31.4 61.0 31.4 86.0 35.4 86.0 35.4 61.0 23.5 60.2 11.7 58.0 0.1 56.3 -11.3 50.9 -22.4 43.1 -33.0 33.8 -43.2 23.9 -52.9 15.3 -62.0 8.2 -70.6 -0.0 -78.6 -8.7 -86.1 -16.8 -93.0 -24.2 -99.4 -30.2 -105.4 -34.5 -110.9 -41.8 -116.1 -47.8 -121.1 -52.6 -125.9 -55.9 -130.6 -57.7 -130.6 -82.7Z" fill="url(#dg10)"/>
<path d="M-132.0 -83.0 -132.0 -58.0 -127.3 -56.2 -122.5 -52.9 -117.5 -48.3 -112.3 -42.2 -106.8 -34.7 -100.8 -30.0 -94.4 -24.0 -87.5 -16.8 -80.0 -8.6 -72.0 -0.0 -63.4 8.3 -54.3 15.5 -44.6 23.5 -34.4 33.4 -23.8 42.8 -12.7 50.8 -1.3 56.4 10.3 58.0 22.1 60.2 34.0 61.0 34.0 86.0 38.0 86.0 38.0 61.0 26.1 60.2 14.3 58.0 2.7 56.0 -8.7 51.1 -19.8 43.5 -30.4 34.3 -40.6 24.5 -50.3 14.7 -59.4 8.1 -68.0 -0.0 -76.0 -8.7 -83.5 -16.9 -90.4 -24.4 -96.8 -30.7 -102.8 -35.5 -108.3 -40.7 -113.5 -47.0 -118.5 -51.8 -123.3 -55.2 -128.0 -57.1 -128.0 -82.1Z" fill="url(#dg11)"/>
<path d="M-129.4 -82.4 -129.4 -57.4 -124.7 -55.6 -119.9 -52.2 -114.9 -47.4 -109.7 -41.3 -104.2 -35.0 -98.2 -30.5 -91.8 -24.3 -84.9 -16.9 -77.4 -8.7 -69.4 -0.0 -60.8 8.2 -51.7 15.1 -42.0 24.2 -31.8 34.0 -21.2 43.3 -10.1 51.0 1.3 56.2 12.9 58.0 24.7 60.2 36.6 61.0 36.6 86.0 40.6 86.0 40.6 61.0 28.7 60.2 16.9 58.0 5.3 55.4 -6.1 51.2 -17.2 43.9 -27.8 34.9 -38.0 25.1 -47.7 15.3 -56.8 8.0 -65.4 -0.0 -73.4 -8.7 -80.9 -17.0 -87.8 -24.6 -94.2 -31.1 -100.2 -36.2 -105.7 -39.2 -110.9 -46.0 -115.9 -51.0 -120.7 -54.5 -125.4 -56.5 -125.4 -81.5Z" fill="url(#dg12)"/>
<path d="M-126.8 -81.8 -126.8 -56.8 -122.1 -54.9 -117.3 -51.4 -112.3 -46.5 -107.1 -40.0 -101.6 -35.9 -95.6 -30.9 -89.2 -24.5 -82.3 -17.0 -74.8 -8.7 -66.8 -0.0 -58.2 8.1 -49.1 15.0 -39.4 24.8 -29.2 34.6 -18.6 43.7 -7.5 51.2 3.9 55.8 15.5 58.0 27.3 60.2 39.2 61.0 39.2 86.0 43.2 86.0 43.2 61.0 31.3 60.2 19.5 58.0 7.9 54.4 -3.5 51.3 -14.6 44.2 -25.2 35.3 -35.4 25.6 -45.1 15.9 -54.2 7.8 -62.8 -0.0 -70.8 -8.7 -78.3 -17.1 -85.2 -24.8 -91.6 -31.4 -97.6 -36.8 -103.1 -40.5 -108.3 -44.8 -113.3 -50.1 -118.1 -53.7 -122.8 -55.8 -122.8 -80.8Z" fill="url(#dg13)"/>
<path d="M-124.2 -81.1 -124.2 -56.1 -119.5 -54.1 -114.7 -50.6 -109.7 -45.5 -104.5 -39.9 -99.0 -36.5 -93.0 -31.3 -86.6 -24.7 -79.7 -17.1 -72.2 -8.7 -64.2 -0.0 -55.6 7.9 -46.5 15.6 -36.8 25.3 -26.6 35.1 -16.0 44.0 -4.9 51.3 6.5 54.8 18.1 58.0 29.9 60.2 41.8 61.0 41.8 86.0 45.8 86.0 45.8 61.0 33.9 60.2 22.1 58.0 10.5 54.4 -0.9 51.2 -12.0 44.5 -22.6 35.8 -32.8 26.1 -42.5 16.4 -51.6 7.6 -60.2 -0.0 -68.2 -8.7 -75.7 -17.2 -82.6 -24.9 -89.0 -31.7 -95.0 -37.3 -100.5 -41.3 -105.7 -43.2 -110.7 -49.0 -115.5 -52.8 -120.2 -55.0 -120.2 -80.0Z" fill="url(#dg14)"/>
<path d="M-121.6 -80.4 -121.6 -55.4 -116.9 -53.3 -112.1 -49.6 -107.1 -44.1 -101.9 -40.9 -96.4 -37.0 -90.4 -31.6 -84.0 -24.9 -77.1 -17.1 -69.6 -8.7 -61.6 -0.0 -53.0 7.8 -43.9 16.1 -34.2 25.9 -24.0 35.5 -13.4 44.3 -2.3 51.2 9.1 54.4 20.7 58.0 32.5 60.2 44.4 61.0 44.4 86.0 48.4 86.0 48.4 61.0 36.5 60.2 24.7 58.0 13.1 54.4 1.7 51.0 -9.4 44.6 -20.0 36.1 -30.2 26.6 -39.9 16.8 -49.0 7.6 -57.6 -0.0 -65.6 -8.7 -73.1 -17.2 -80.0 -25.1 -86.4 -32.0 -92.4 -37.7 -97.9 -42.0 -103.1 -44.6 -108.1 -47.7 -112.9 -51.8 -117.6 -54.2 -117.6 -79.2Z" fill="url(#dg15)"/>
<path d="M-119.0 -79.6 -119.0 -54.6 -114.3 -52.4 -109.5 -48.4 -104.5 -44.0 -99.3 -41.7 -93.8 -37.5 -87.8 -31.9 -81.4 -25.0 -74.5 -17.2 -67.0 -8.7 -59.0 -0.0 -50.4 7.5 -41.3 16.6 -31.6 26.3 -21.4 35.9 -10.8 44.5 0.3 51.1 11.7 54.4 23.3 58.0 35.1 60.2 47.0 61.0 47.0 86.0 51.0 86.0 51.0 61.0 39.1 60.2 27.3 58.0 15.7 54.4 4.3 50.6 -6.8 44.8 -17.4 36.5 -27.6 27.0 -37.3 17.2 -46.4 7.9 -55.0 -0.0 -63.0 -8.7 -70.5 -17.2 -77.4 -25.2 -83.8 -32.2 -89.8 -38.1 -95.3 -42.6 -100.5 -45.5 -105.5 -46.3 -110.3 -50.7 -115.0 -53.3 -115.0 -78.3Z" fill="url(#dg16)"/>
<path d="M-116.4 -78.8 -116.4 -53.8 -111.7 -51.3 -106.9 -46.9 -101.9 -45.1 -96.7 -42.3 -91.2 -37.9 -85.2 -32.1 -78.8 -25.1 -71.9 -17.2 -64.4 -8.7 -56.4 -0.0 -47.8 7.7 -38.7 17.0 -29.0 26.7 -18.8 36.3 -8.2 44.7 2.9 50.8 14.3 54.4 25.9 58.0 37.7 60.2 49.6 61.0 49.6 86.0 53.6 86.0 53.6 61.0 41.7 60.2 29.9 58.0 18.3 54.4 6.9 49.4 -4.2 44.8 -14.8 36.7 -25.0 27.3 -34.7 17.5 -43.8 8.2 -52.4 -0.0 -60.4 -8.6 -67.9 -17.2 -74.8 -25.2 -81.2 -32.4 -87.2 -38.4 -92.7 -43.1 -97.9 -46.3 -102.9 -47.7 -107.7 -49.2 -112.4 -52.3 -112.4 -77.3Z" fill="url(#dg17)"/>
<path d="M-113.8 -77.8 -113.8 -52.8 -109.1 -50.1 -104.3 -47.1 -99.3 -45.9 -94.1 -42.8 -88.6 -38.2 -82.6 -32.3 -76.2 -25.2 -69.3 -17.2 -61.8 -8.6 -53.8 -0.0 -45.2 8.0 -36.1 17.4 -26.4 27.1 -16.2 36.6 -5.6 44.8 5.5 50.2 16.9 54.4 28.5 58.0 40.3 60.2 52.2 61.0 52.2 86.0 56.2 86.0 56.2 61.0 44.3 60.2 32.5 58.0 20.9 54.4 9.5 49.4 -1.6 44.8 -12.2 36.9 -22.4 27.6 -32.1 17.9 -41.2 8.4 -49.8 -0.0 -57.8 -8.6 -65.3 -17.1 -72.2 -25.3 -78.6 -32.5 -84.6 -38.7 -90.1 -43.5 -95.3 -46.9 -100.3 -48.7 -105.1 -48.4 -109.8 -51.1 -109.8 -76.1Z" fill="url(#dg18)"/>
<path d="M-111.2 -76.7 -111.2 -51.7 -106.5 -48.3 -101.7 -48.2 -96.7 -46.6 -91.5 -43.3 -86.0 -38.5 -80.0 -32.5 -73.6 -25.2 -66.7 -17.2 -59.2 -8.6 -51.2 -0.0 -42.6 8.3 -33.5 17.7 -23.8 27.5 -13.6 36.8 -3.0 44.8 8.1 49.4 19.5 54.4 31.1 58.0 42.9 60.2 54.8 61.0 54.8 86.0 58.8 86.0 58.8 61.0 46.9 60.2 35.1 58.0 23.5 54.4 12.1 49.4 1.0 44.6 -9.6 37.1 -19.8 27.9 -29.5 18.2 -38.6 8.6 -47.2 -0.0 -55.2 -8.5 -62.7 -17.1 -69.6 -25.2 -76.0 -32.6 -82.0 -38.9 -87.5 -43.9 -92.7 -47.4 -97.7 -49.4 -102.5 -49.7 -107.2 -49.5 -107.2 -74.5Z" fill="url(#dg19)"/>
<path d="M-108.6 -75.4 -108.6 -50.4 -103.9 -49.1 -99.1 -49.0 -94.1 -47.2 -88.9 -43.7 -83.4 -38.8 -77.4 -32.6 -71.0 -25.3 -64.1 -17.1 -56.6 -8.5 -48.6 -0.0 -40.0 8.5 -30.9 18.0 -21.2 27.8 -11.0 37.0 -0.4 44.7 10.7 49.4 22.1 54.4 33.7 58.0 45.5 60.2 57.4 61.0 57.4 86.0 61.4 86.0 61.4 61.0 49.5 60.2 37.7 58.0 26.1 54.4 14.7 49.4 3.6 44.3 -7.0 37.2 -17.2 28.2 -26.9 18.4 -36.0 8.8 -44.6 -0.0 -52.6 -8.4 -60.1 -17.0 -67.0 -25.2 -73.4 -32.7 -79.4 -39.1 -84.9 -44.2 -90.1 -47.9 -95.1 -50.1 -99.9 -50.7 -104.6 -49.3 -104.6 -74.3Z" fill="url(#dg20)"/>
<path d="M-106.0 -73.0 -106.0 -48.0 -101.3 -50.2 -96.5 -49.8 -91.5 -47.7 -86.3 -44.1 -80.8 -39.0 -74.8 -32.7 -68.4 -25.2 -61.5 -17.0 -54.0 -8.5 -46.0 -0.0 -37.4 8.7 -28.3 18.3 -18.6 28.0 -8.4 37.1 2.2 44.5 13.3 49.4 24.7 54.4 36.3 58.0 48.1 60.2 60.0 61.0 60.0 86.0 64.4 86.0 64.4 61.0 52.9 60.2 41.4 58.0 30.0 54.4 18.7 49.4 7.8 43.1 -2.9 37.2 -13.1 28.5 -22.8 18.8 -32.1 9.0 -40.8 -0.0 -49.0 -8.3 -56.7 -16.9 -63.8 -25.1 -70.3 -32.7 -76.4 -39.2 -82.1 -44.5 -87.4 -48.4 -92.3 -50.7 -97.0 -51.5 -101.6 -50.7 -101.6 -75.7Z" fill="url(#dg1)"/>
<path d="M-103.0 -75.1 -103.0 -50.1 -98.4 -51.1 -93.7 -50.4 -88.8 -48.2 -83.5 -44.4 -77.8 -39.2 -71.7 -32.7 -65.2 -25.2 -58.1 -16.9 -50.4 -8.3 -42.2 -0.0 -33.5 9.0 -24.2 18.7 -14.5 28.4 -4.3 37.2 6.4 43.5 17.3 49.4 28.6 54.4 40.0 58.0 51.5 60.2 63.0 61.0 63.0 86.0 67.4 86.0 67.4 61.0 56.2 60.2 45.0 58.0 33.8 54.4 22.8 49.4 11.9 43.1 1.3 37.1 -9.0 28.7 -18.8 19.1 -28.2 9.3 -37.1 -0.0 -45.5 -8.1 -53.3 -16.7 -60.6 -25.0 -67.3 -32.7 -73.5 -39.3 -79.3 -44.7 -84.6 -48.7 -89.5 -51.3 -94.2 -52.3 -98.6 -51.7 -98.6 -76.7Z" fill="url(#dg2)"/>
<path d="M-100.0 -76.3 -100.0 -51.3 -95.6 -51.9 -90.9 -51.0 -86.0 -48.6 -80.7 -44.6 -74.9 -39.3 -68.7 -32.7 -62.0 -25.1 -54.7 -16.8 -46.9 -8.1 -38.5 -0.0 -29.6 9.2 -20.2 19.0 -10.4 28.6 -0.1 37.2 10.5 43.1 21.4 49.4 32.4 54.4 43.6 58.0 54.8 60.2 66.0 61.0 66.0 86.0 70.4 86.0 70.4 61.0 59.6 60.2 48.7 58.0 37.7 54.4 26.8 49.4 16.0 43.1 5.4 36.5 -4.8 28.8 -14.8 19.3 -24.3 9.4 -33.3 -0.0 -41.9 -8.4 -49.9 -16.4 -57.3 -24.8 -64.2 -32.6 -70.6 -39.3 -76.4 -44.9 -81.8 -49.0 -86.7 -51.7 -91.3 -52.9 -95.6 -52.6 -95.6 -77.6Z" fill="url(#dg3)"/>
<path d="M-97.0 -77.2 -97.0 -52.2 -92.7 -52.6 -88.1 -51.5 -83.2 -48.9 -77.8 -44.8 -72.0 -39.3 -65.6 -32.6 -58.7 -24.9 -51.3 -16.5 -43.3 -8.3 -34.8 -0.0 -25.7 9.4 -16.2 19.2 -6.2 28.7 4.0 36.8 14.6 43.1 25.4 49.4 36.3 54.4 47.3 58.0 58.2 60.2 69.0 61.0 69.0 86.0 73.4 86.0 73.4 61.0 63.0 60.2 52.4 58.0 41.6 54.4 30.9 49.4 20.2 43.1 9.6 35.9 -0.7 28.7 -10.8 19.5 -20.4 9.6 -29.6 -0.0 -38.3 -8.7 -46.5 -16.0 -54.1 -24.6 -61.2 -32.4 -67.6 -39.3 -73.6 -45.0 -79.0 -49.3 -83.9 -52.1 -88.4 -53.4 -92.6 -53.3 -92.6 -78.3Z" fill="url(#dg4)"/>
<path d="M-94.0 -78.0 -94.0 -53.0 -89.8 -53.2 -85.3 -51.9 -80.4 -49.2 -75.0 -44.9 -69.0 -39.3 -62.6 -32.5 -55.5 -24.7 -47.9 -16.2 -39.7 -8.6 -31.0 -0.0 -21.8 9.6 -12.2 19.4 -2.1 28.7 8.2 35.9 18.8 43.1 29.5 49.4 40.2 54.4 51.0 58.0 61.6 60.2 72.0 61.0 72.0 86.0 76.4 86.0 76.4 61.0 66.4 60.2 56.0 58.0 45.5 54.4 34.9 49.4 24.3 43.1 13.8 35.9 3.4 28.5 -6.7 19.6 -16.5 9.7 -25.9 -0.0 -34.7 -8.9 -43.1 -16.5 -50.9 -24.2 -58.1 -32.2 -64.7 -39.2 -70.8 -45.0 -76.2 -49.4 -81.1 -52.4 -85.6 -53.9 -89.6 -53.9 -89.6 -78.9Z" fill="url(#dg5)"/>
<path d="M-91.0 -78.6 -91.0 -53.6 -87.0 -53.7 -82.5 -52.3 -77.6 -49.4 -72.2 -45.0 -66.1 -39.3 -59.5 -32.3 -52.3 -24.4 -44.5 -16.2 -36.1 -8.8 -27.3 -0.0 -17.9 9.7 -8.1 19.5 2.0 28.6 12.4 35.9 22.9 43.1 33.5 49.4 44.1 54.4 54.6 58.0 65.0 60.2 75.0 61.0 75.0 86.0 79.4 86.0 79.4 61.0 69.7 60.2 59.7 58.0 49.4 54.4 39.0 49.4 28.4 43.1 17.9 35.9 7.5 27.7 -2.7 19.6 -12.6 9.8 -22.1 -0.0 -31.2 -9.1 -39.7 -17.0 -47.7 -23.7 -55.0 -31.9 -61.8 -39.0 -67.9 -45.0 -73.4 -49.5 -78.3 -52.6 -82.7 -54.3 -86.6 -54.4 -86.6 -79.4Z" fill="url(#dg6)"/>
<path d="M-88.0 -79.2 -88.0 -54.2 -84.1 -54.1 -79.7 -52.5 -74.8 -49.5 -69.3 -45.0 -63.2 -39.1 -56.4 -32.1 -49.1 -24.0 -41.1 -16.8 -32.6 -9.0 -23.5 -0.0 -14.0 9.8 -4.1 19.6 6.1 28.0 16.5 35.9 27.0 43.1 37.6 49.4 48.0 54.4 58.3 58.0 68.3 60.2 78.0 61.0 78.0 86.0 82.4 86.0 82.4 61.0 73.1 60.2 63.4 58.0 53.3 54.4 43.0 49.4 32.6 43.1 22.1 35.9 11.6 27.7 1.3 19.5 -8.7 9.9 -18.3 -0.0 -27.6 -9.3 -36.3 -17.4 -44.4 -23.8 -52.0 -31.5 -58.9 -38.8 -65.1 -44.9 -70.6 -49.6 -75.6 -52.8 -79.9 -54.6 -83.6 -54.8 -83.6 -79.8Z" fill="url(#dg7)"/>
<path d="M-85.0 -79.6 -85.0 -54.6 -81.3 -54.4 -77.0 -52.7 -72.0 -49.6 -66.5 -44.9 -60.3 -38.9 -53.4 -31.7 -45.8 -23.3 -37.7 -17.3 -29.0 -9.2 -19.8 -0.0 -10.1 9.9 -0.1 19.5 10.2 27.7 20.7 35.9 31.2 43.1 41.6 49.4 51.9 54.4 62.0 58.0 71.7 60.2 81.0 61.0 81.0 86.0 85.4 86.0 85.4 61.0 76.5 60.2 67.1 58.0 57.2 54.4 47.1 49.4 36.7 43.1 26.2 35.9 15.7 27.7 5.4 19.2 -4.8 9.9 -14.6 -0.0 -24.0 -9.4 -32.9 -17.8 -41.2 -24.7 -48.9 -31.0 -55.9 -38.5 -62.2 -44.7 -67.9 -49.5 -72.8 -52.9 -77.0 -54.8 -80.6 -55.2 -80.6 -80.2Z" fill="url(#dg8)"/>
<path d="M-82.0 -80.0 -82.0 -55.0 -78.4 -54.7 -74.2 -52.9 -69.3 -49.6 -63.6 -44.8 -57.3 -38.7 -50.3 -31.3 -42.6 -24.3 -34.3 -17.7 -25.4 -9.4 -16.0 -0.0 -6.2 9.9 4.0 19.3 14.3 27.7 24.8 35.9 35.3 43.1 45.7 49.4 55.8 54.4 65.7 58.0 75.1 60.2 84.0 61.0 84.0 86.0 88.4 86.0 88.4 61.0 79.9 60.2 70.7 58.0 61.1 54.4 51.1 49.4 40.8 43.1 30.4 35.9 19.8 27.7 9.4 18.9 -0.9 9.9 -10.8 -0.0 -20.4 -9.5 -29.5 -18.1 -38.0 -25.3 -45.9 -30.2 -53.0 -38.1 -59.4 -44.5 -65.1 -49.4 -70.0 -52.9 -74.1 -54.9 -77.6 -55.4 -77.6 -80.4Z" fill="url(#dg9)"/>
<path d="M-79.0 -80.3 -79.0 -55.3 -75.5 -54.8 -71.4 -52.9 -66.5 -49.5 -60.8 -44.6 -54.4 -38.3 -47.3 -30.6 -39.4 -25.0 -30.9 -18.0 -21.8 -9.5 -12.2 -0.0 -2.3 9.9 8.0 18.9 18.4 27.7 29.0 35.9 39.4 43.1 49.7 49.4 59.7 54.4 69.3 58.0 78.5 60.2 87.0 61.0 87.0 86.0 91.4 86.0 91.4 61.0 83.2 60.2 74.4 58.0 65.0 54.4 55.2 49.4 45.0 43.1 34.5 35.9 24.0 27.7 13.4 18.9 3.0 9.8 -7.1 -0.0 -16.8 -9.6 -26.1 -18.4 -34.8 -25.9 -42.8 -31.4 -50.1 -37.6 -56.6 -44.1 -62.3 -49.2 -67.2 -52.8 -71.3 -54.9 -74.6 -55.6 -74.6 -80.6Z" fill="url(#dg10)"/>
<path d="M-76.0 -80.5 -76.0 -55.5 -72.7 -54.9 -68.6 -52.9 -63.7 -49.3 -58.0 -44.3 -51.5 -37.9 -44.2 -31.0 -36.2 -25.6 -27.5 -18.3 -18.2 -9.6 -8.5 -0.0 1.6 9.9 12.0 18.9 22.6 27.7 33.1 35.9 43.6 43.1 53.8 49.4 63.6 54.4 73.0 58.0 81.8 60.2 90.0 61.0 90.0 86.0 94.4 86.0 94.4 61.0 86.6 60.2 78.1 58.0 68.9 54.4 59.2 49.4 49.1 43.1 38.7 35.9 28.1 27.7 17.5 18.9 6.9 9.5 -3.3 -0.0 -13.3 -9.7 -22.7 -18.7 -31.6 -26.4 -39.7 -32.3 -47.1 -36.8 -53.7 -43.7 -59.5 -49.0 -64.4 -52.7 -68.4 -54.9 -71.6 -55.6 -71.6 -80.6Z" fill="url(#dg11)"/>
<path d="M-73.0 -80.6 -73.0 -55.6 -69.8 -54.9 -65.8 -52.8 -60.9 -49.1 -55.1 -43.9 -48.5 -37.2 -41.1 -31.9 -33.0 -26.2 -24.1 -18.6 -14.7 -9.6 -4.8 -0.0 5.5 9.7 16.1 18.9 26.7 27.7 37.3 35.9 47.7 43.1 57.8 49.4 67.5 54.4 76.7 58.0 85.2 60.2 93.0 61.0 93.0 86.0 97.4 86.0 97.4 61.0 90.0 60.2 81.7 58.0 72.8 54.4 63.3 49.4 53.2 43.1 42.8 35.9 32.2 27.7 21.5 18.9 10.8 9.5 0.4 -0.0 -9.7 -9.7 -19.3 -18.9 -28.3 -26.8 -36.7 -33.1 -44.2 -37.2 -50.9 -43.2 -56.7 -48.6 -61.6 -52.5 -65.5 -54.8 -68.6 -55.6 -68.6 -80.6Z" fill="url(#dg12)"/>
<path d="M-70.0 -80.6 -70.0 -55.6 -66.9 -54.9 -63.0 -52.6 -58.1 -48.8 -52.3 -43.5 -45.6 -36.5 -38.1 -32.8 -29.7 -26.6 -20.7 -18.8 -11.1 -9.7 -1.0 -0.0 9.4 9.5 20.1 18.9 30.8 27.7 41.4 35.9 51.8 43.1 61.9 49.4 71.4 54.4 80.3 58.0 88.6 60.2 96.0 61.0 96.0 86.0 100.4 86.0 100.4 61.0 93.3 60.2 85.4 58.0 76.7 54.4 67.3 49.4 57.4 43.1 47.0 35.9 36.3 27.7 25.5 18.9 14.7 9.5 4.2 -0.0 -6.1 -9.7 -15.9 -19.0 -25.1 -27.2 -33.6 -33.8 -41.3 -38.4 -48.1 -42.5 -53.9 -48.2 -58.8 -52.2 -62.7 -54.6 -65.6 -55.5 -65.6 -80.5Z" fill="url(#dg13)"/>
<path d="M-67.0 -80.5 -67.0 -55.5 -64.1 -54.7 -60.2 -52.3 -55.3 -48.4 -49.5 -42.9 -42.7 -37.9 -35.0 -33.5 -26.5 -27.0 -17.3 -18.9 -7.5 -9.7 2.8 -0.0 13.3 9.5 24.1 18.9 34.9 27.7 45.6 35.9 56.0 43.1 65.9 49.4 75.3 54.4 84.0 58.0 91.9 60.2 99.0 61.0 99.0 86.0 103.4 86.0 103.4 61.0 96.7 60.2 89.1 58.0 80.6 54.4 71.4 49.4 61.5 43.1 51.1 35.9 40.4 27.7 29.5 18.9 18.6 9.5 7.9 -0.0 -2.5 -9.6 -12.5 -19.1 -21.9 -27.5 -30.5 -34.3 -38.4 -39.3 -45.2 -42.0 -51.1 -47.6 -56.0 -51.8 -59.8 -54.3 -62.6 -55.3 -62.6 -80.3Z" fill="url(#dg14)"/>
<path d="M-64.0 -80.4 -64.0 -55.4 -61.2 -54.5 -57.4 -52.0 -52.5 -47.9 -46.6 -41.9 -39.8 -38.9 -31.9 -34.1 -23.3 -27.4 -13.9 -19.1 -3.9 -9.7 6.5 -0.0 17.2 9.5 28.1 18.9 39.0 27.7 49.7 35.9 60.1 43.1 70.0 49.4 79.2 54.4 87.7 58.0 95.3 60.2 102.0 61.0 102.0 86.0 106.4 86.0 106.4 61.0 100.1 60.2 92.8 58.0 84.5 54.4 75.4 49.4 65.6 43.1 55.3 35.9 44.5 27.7 33.6 18.9 22.6 9.5 11.6 -0.0 1.0 -9.5 -9.1 -19.1 -18.7 -27.7 -27.5 -34.9 -35.4 -40.1 -42.4 -43.4 -48.4 -46.9 -53.2 -51.3 -57.0 -53.9 -59.6 -55.0 -59.6 -80.0Z" fill="url(#dg15)"/>
<path d="M-61.0 -80.1 -61.0 -55.1 -58.4 -54.1 -54.6 -51.6 -49.8 -47.3 -43.8 -42.8 -36.8 -39.8 -28.9 -34.6 -20.1 -27.6 -10.5 -19.1 -0.4 -9.5 10.2 -0.0 21.2 9.5 32.2 18.9 43.1 27.7 53.9 35.9 64.2 43.1 74.0 49.4 83.1 54.4 91.4 58.0 98.7 60.2 105.0 61.0 105.0 86.0 109.4 86.0 109.4 61.0 103.5 60.2 96.4 58.0 88.4 54.4 79.4 49.4 69.7 43.1 59.4 35.9 48.7 27.7 37.6 18.9 26.5 9.5 15.4 -0.0 4.6 -9.5 -5.7 -19.1 -15.5 -27.9 -24.4 -35.3 -32.5 -40.9 -39.6 -44.6 -45.6 -46.0 -50.4 -50.7 -54.1 -53.5 -56.6 -54.6 -56.6 -79.6Z" fill="url(#dg16)"/>
<path d="M-58.0 -79.8 -58.0 -54.8 -55.5 -53.7 -51.8 -51.0 -47.0 -46.3 -41.0 -44.0 -33.9 -40.5 -25.8 -35.1 -16.9 -27.9 -7.1 -19.1 3.2 -9.5 14.0 -0.0 25.1 9.5 36.2 18.9 47.3 27.7 58.0 35.9 68.3 43.1 78.0 49.4 87.0 54.4 95.0 58.0 102.1 60.2 108.0 61.0 108.0 86.0 112.4 86.0 112.4 61.0 106.8 60.2 100.1 58.0 92.3 54.4 83.5 49.4 73.9 43.1 63.6 35.9 52.8 27.7 41.6 18.9 30.4 9.5 19.1 -0.0 8.2 -9.5 -2.3 -19.0 -12.2 -28.1 -21.4 -35.7 -29.6 -41.5 -36.7 -45.5 -42.8 -47.7 -47.6 -49.7 -51.2 -52.8 -53.6 -54.0 -53.6 -79.0Z" fill="url(#dg17)"/>
<path d="M-55.0 -79.3 -55.0 -54.3 -52.6 -53.1 -49.0 -50.2 -44.2 -46.9 -38.1 -45.1 -31.0 -41.2 -22.8 -35.5 -13.6 -28.0 -3.7 -19.1 6.8 -9.5 17.7 -0.0 29.0 9.5 40.2 18.9 51.4 27.7 62.2 35.9 72.5 43.1 82.1 49.4 90.9 54.4 98.7 58.0 105.4 60.2 111.0 61.0 111.0 86.0 115.4 86.0 115.4 61.0 110.2 60.2 103.8 58.0 96.2 54.4 87.5 49.4 78.0 43.1 67.7 35.9 56.9 27.7 45.7 18.9 34.3 9.5 22.9 -0.0 11.8 -9.5 1.1 -18.7 -9.0 -28.1 -18.3 -36.0 -26.6 -42.1 -33.9 -46.4 -40.0 -48.9 -44.8 -49.7 -48.4 -51.9 -50.6 -53.3 -50.6 -78.3Z" fill="url(#dg18)"/>
<path d="M-52.0 -78.7 -52.0 -53.7 -49.8 -52.4 -46.2 -48.9 -41.4 -48.3 -35.3 -46.0 -28.0 -41.8 -19.7 -35.8 -10.4 -28.1 -0.3 -18.8 10.4 -9.5 21.5 -0.0 32.9 9.5 44.3 18.9 55.5 27.7 66.3 35.9 76.6 43.1 86.1 49.4 94.8 54.4 102.4 58.0 108.8 60.2 114.0 61.0 114.0 86.0 118.4 86.0 118.4 61.0 113.6 60.2 107.4 58.0 100.1 54.4 91.6 49.4 82.1 43.1 71.9 35.9 61.0 27.7 49.7 18.9 38.2 9.5 26.6 -0.0 15.3 -9.5 4.5 -18.7 -5.8 -28.1 -15.2 -36.2 -23.7 -42.6 -31.1 -47.1 -37.2 -50.0 -42.0 -51.3 -45.5 -51.1 -47.6 -52.3 -47.6 -77.3Z" fill="url(#dg19)"/>
<path d="M-49.0 -77.8 -49.0 -52.8 -46.9 -51.3 -43.4 -50.5 -38.6 -49.4 -32.5 -46.8 -25.1 -42.3 -16.6 -36.1 -7.2 -28.1 3.1 -18.7 13.9 -9.5 25.2 -0.0 36.8 9.5 48.3 18.9 59.6 27.7 70.5 35.9 80.7 43.1 90.2 49.4 98.7 54.4 106.0 58.0 112.2 60.2 117.0 61.0 117.0 86.0 121.4 86.0 121.4 61.0 116.9 60.2 111.1 58.0 104.0 54.4 95.6 49.4 86.3 43.1 76.0 35.9 65.1 27.7 53.7 18.9 42.1 9.5 30.4 -0.0 18.9 -9.5 7.9 -18.7 -2.6 -28.0 -12.2 -36.3 -20.8 -43.0 -28.2 -47.8 -34.4 -50.9 -39.2 -52.5 -42.6 -52.9 -44.6 -52.4 -44.6 -77.4Z" fill="url(#dg20)"/>
<path d="M-46.0 -76.0 -46.0 -51.0 -44.0 -52.1 -40.6 -51.9 -35.8 -50.4 -29.6 -47.5 -22.2 -42.8 -13.6 -36.3 -4.0 -28.0 6.5 -18.7 17.5 -9.5 29.0 -0.0 40.7 9.5 52.3 18.9 63.7 27.7 74.6 35.9 84.9 43.1 94.2 49.4 102.6 54.4 109.7 58.0 115.5 60.2 120.0 61.0 120.0 86.0 123.9 86.0 123.9 61.0 119.1 60.2 112.9 58.0 105.6 54.4 97.1 49.4 87.6 43.1 77.4 35.9 66.5 27.7 55.2 18.9 43.7 9.5 32.1 -0.0 20.8 -9.5 10.0 -18.7 -0.3 -27.6 -9.7 -36.4 -18.2 -43.3 -25.6 -48.4 -31.7 -51.7 -36.5 -53.6 -40.0 -54.2 -42.1 -53.9 -42.1 -78.9Z" fill="url(#dg21)"/>
<path d="M-43.5 -78.1 -43.5 -53.1 -41.4 -53.6 -37.9 -53.1 -33.1 -51.3 -27.0 -48.1 -19.6 -43.1 -11.1 -36.4 -1.7 -27.9 8.6 -18.7 19.4 -9.5 30.7 -0.0 42.3 9.5 53.8 18.9 65.1 27.7 76.0 35.9 86.2 43.1 95.7 49.4 104.2 54.4 111.5 58.0 117.7 60.2 122.5 61.0 122.5 86.0 126.4 86.0 126.4 61.0 121.2 60.2 114.8 58.0 107.2 54.4 98.5 49.4 89.0 43.1 78.7 35.9 67.9 27.7 56.7 18.9 45.3 9.5 33.9 -0.0 22.8 -9.5 12.1 -18.7 2.0 -27.5 -7.3 -36.4 -15.6 -43.5 -22.9 -48.8 -29.0 -52.5 -33.8 -54.5 -37.4 -55.3 -39.6 -55.1 -39.6 -80.1Z" fill="url(#dg22)"/>
<path d="M-41.0 -79.4 -41.0 -54.4 -38.8 -54.7 -35.2 -54.1 -30.4 -52.1 -24.3 -48.6 -17.0 -43.4 -8.7 -36.4 0.6 -27.5 10.7 -18.7 21.4 -9.5 32.5 -0.0 43.9 9.5 55.3 18.9 66.5 27.7 77.3 35.9 87.6 43.1 97.1 49.4 105.8 54.4 113.4 58.0 119.8 60.2 125.0 61.0 125.0 86.0 128.9 86.0 128.9 61.0 123.3 60.2 116.6 58.0 108.8 54.4 100.0 49.4 90.4 43.1 80.1 35.9 69.3 27.7 58.1 18.9 46.9 9.5 35.6 -0.0 24.7 -9.5 14.2 -18.7 4.3 -27.5 -4.9 -36.4 -13.1 -43.7 -20.2 -49.2 -26.3 -53.1 -31.1 -55.4 -34.7 -56.3 -37.1 -56.1 -37.1 -81.1Z" fill="url(#dg23)"/>
<path d="M-38.5 -80.5 -38.5 -55.5 -36.1 -55.8 -32.5 -55.0 -27.7 -52.8 -21.6 -49.0 -14.5 -43.6 -6.3 -36.4 2.9 -27.5 12.8 -18.7 23.3 -9.5 34.2 -0.0 45.5 9.5 56.7 18.9 67.9 27.7 78.7 35.9 89.0 43.1 98.6 49.4 107.4 54.4 115.2 58.0 121.9 60.2 127.5 61.0 127.5 86.0 131.4 86.0 131.4 61.0 125.5 60.2 118.4 58.0 110.4 54.4 101.4 49.4 91.7 43.1 81.4 35.9 70.7 27.7 59.6 18.9 48.5 9.5 37.4 -0.0 26.6 -9.5 16.3 -18.7 6.5 -27.5 -2.4 -36.2 -10.5 -43.8 -17.6 -49.6 -23.6 -53.7 -28.4 -56.2 -32.1 -57.2 -34.6 -57.1 -34.6 -82.1Z" fill="url(#dg24)"/>
<path d="M-36.0 -81.6 -36.0 -56.6 -33.5 -56.8 -29.8 -55.8 -25.0 -53.4 -19.0 -49.4 -11.9 -43.7 -3.8 -36.3 5.1 -27.5 14.9 -18.7 25.2 -9.5 36.0 -0.0 47.1 9.5 58.2 18.9 69.3 27.7 80.0 35.9 90.3 43.1 100.0 49.4 109.0 54.4 117.0 58.0 124.1 60.2 130.0 61.0 130.0 86.0 133.9 86.0 133.9 61.0 127.6 60.2 120.3 58.0 112.0 54.4 102.9 49.4 93.1 43.1 82.8 35.9 72.0 27.7 61.1 18.9 50.1 9.5 39.1 -0.0 28.5 -9.5 18.4 -18.7 8.8 -27.5 0.0 -35.6 -7.9 -43.8 -14.9 -49.8 -20.9 -54.1 -25.7 -56.8 -29.5 -58.0 -32.1 -57.9 -32.1 -82.9Z" fill="url(#dg25)"/>
<path d="M-33.5 -82.5 -33.5 -57.5 -30.9 -57.6 -27.1 -56.5 -22.3 -53.9 -16.3 -49.7 -9.3 -43.8 -1.4 -36.0 7.4 -27.5 17.0 -18.7 27.1 -9.5 37.7 -0.0 48.7 9.5 59.7 18.9 70.6 27.7 81.4 35.9 91.7 43.1 101.5 49.4 110.6 54.4 118.9 58.0 126.2 60.2 132.5 61.0 132.5 86.0 136.4 86.0 136.4 61.0 129.7 60.2 122.1 58.0 113.6 54.4 104.4 49.4 94.5 43.1 84.1 35.9 73.4 27.7 62.5 18.9 51.6 9.5 40.9 -0.0 30.5 -9.5 20.5 -18.7 11.1 -27.5 2.5 -35.6 -5.4 -43.8 -12.2 -50.0 -18.1 -54.5 -23.0 -57.4 -26.8 -58.7 -29.6 -58.7 -29.6 -83.7Z" fill="url(#dg26)"/>
<path d="M-31.0 -83.3 -31.0 -58.3 -28.2 -58.4 -24.4 -57.1 -19.5 -54.3 -13.6 -49.9 -6.8 -43.8 1.1 -35.6 9.7 -27.5 19.1 -18.7 29.1 -9.5 39.5 -0.0 50.2 9.5 61.1 18.9 72.0 27.7 82.7 35.9 93.1 43.1 103.0 49.4 112.2 54.4 120.7 58.0 128.3 60.2 135.0 61.0 135.0 86.0 138.9 86.0 138.9 61.0 131.8 60.2 123.9 58.0 115.2 54.4 105.8 49.4 95.9 43.1 85.5 35.9 74.8 27.7 64.0 18.9 53.2 9.5 42.6 -0.0 32.4 -9.5 22.6 -18.7 13.4 -27.5 4.9 -35.6 -2.8 -43.6 -9.6 -50.1 -15.4 -54.8 -20.3 -57.9 -24.2 -59.4 -27.1 -59.4 -27.1 -84.4Z" fill="url(#dg27)"/>
<path d="M-28.5 -84.0 -28.5 -59.0 -25.6 -59.0 -21.7 -57.6 -16.8 -54.7 -11.0 -50.1 -4.2 -43.7 3.5 -35.6 12.0 -27.5 21.2 -18.7 31.0 -9.5 41.2 -0.0 51.8 9.5 62.6 18.9 73.4 27.7 84.1 35.9 94.5 43.1 104.4 49.4 113.8 54.4 122.5 58.0 130.4 60.2 137.5 61.0 137.5 86.0 141.4 86.0 141.4 61.0 134.0 60.2 125.7 58.0 116.8 54.4 107.3 49.4 97.2 43.1 86.8 35.9 76.2 27.7 65.5 18.9 54.8 9.5 44.4 -0.0 34.3 -9.5 24.7 -18.7 15.7 -27.5 7.3 -35.6 -0.2 -43.0 -6.9 -50.1 -12.7 -55.1 -17.6 -58.3 -21.5 -59.9 -24.6 -60.0 -24.6 -85.0Z" fill="url(#dg28)"/>
<path d="M-26.0 -84.7 -26.0 -59.7 -22.9 -59.6 -19.0 -58.1 -14.1 -55.0 -8.3 -50.1 -1.6 -43.4 5.9 -35.6 14.3 -27.5 23.3 -18.7 32.9 -9.5 43.0 -0.0 53.4 9.5 64.1 18.9 74.8 27.7 85.4 35.9 95.8 43.1 105.9 49.4 115.4 54.4 124.3 58.0 132.6 60.2 140.0 61.0 140.0 86.0 143.9 86.0 143.9 61.0 136.1 60.2 127.6 58.0 118.4 54.4 108.7 49.4 98.6 43.1 88.2 35.9 77.6 27.7 67.0 18.9 56.4 9.5 46.1 -0.0 36.2 -9.5 26.8 -18.7 17.9 -27.5 9.8 -35.6 2.4 -42.8 -4.2 -50.0 -10.0 -55.2 -14.9 -58.6 -18.9 -60.3 -22.1 -60.5 -22.1 -85.5Z" fill="url(#dg29)"/>
<path d="M-23.5 -85.2 -23.5 -60.2 -20.3 -60.1 -16.3 -58.4 -11.4 -55.1 -5.6 -50.1 1.0 -42.8 8.4 -35.6 16.5 -27.5 25.4 -18.7 34.8 -9.5 44.7 -0.0 55.0 9.5 65.6 18.9 76.2 27.7 86.8 35.9 97.2 43.1 107.3 49.4 117.0 54.4 126.2 58.0 134.7 60.2 142.5 61.0 142.5 86.0 146.4 86.0 146.4 61.0 138.2 60.2 129.4 58.0 120.0 54.4 110.2 49.4 100.0 43.1 89.5 35.9 79.0 27.7 68.4 18.9 58.0 9.5 47.9 -0.0 38.2 -9.5 28.9 -18.7 20.2 -27.5 12.2 -35.6 4.9 -42.8 -1.6 -49.7 -7.3 -55.2 -12.2 -58.8 -16.3 -60.7 -19.6 -61.0 -19.6 -86.0Z" fill="url(#dg30)"/>
<path d="M-21.0 -85.7 -21.0 -60.7 -17.7 -60.5 -13.6 -58.7 -8.7 -55.2 -3.0 -49.9 3.5 -42.8 10.8 -35.6 18.8 -27.5 27.5 -18.7 36.8 -9.5 46.5 -0.0 56.6 9.5 67.0 18.9 77.6 27.7 88.1 35.9 98.6 43.1 108.8 49.4 118.6 54.4 128.0 58.0 136.8 60.2 145.0 61.0 145.0 86.0 148.9 86.0 148.9 61.0 140.4 60.2 131.2 58.0 121.6 54.4 111.6 49.4 101.3 43.1 90.9 35.9 80.3 27.7 69.9 18.9 59.6 9.5 49.7 -0.0 40.1 -9.5 31.0 -18.7 22.5 -27.5 14.6 -35.6 7.5 -42.8 1.1 -48.9 -4.6 -55.1 -9.5 -58.9 -13.6 -61.0 -17.1 -61.3 -17.1 -86.3Z" fill="url(#dg31)"/>
<path d="M-18.5 -86.1 -18.5 -61.1 -15.0 -60.8 -10.9 -58.9 -6.0 -55.2 -0.3 -49.3 6.1 -42.8 13.2 -35.6 21.1 -27.5 29.6 -18.7 38.7 -9.5 48.2 -0.0 58.2 9.5 68.5 18.9 78.9 27.7 89.5 35.9 99.9 43.1 110.2 49.4 120.2 54.4 129.8 58.0 139.0 60.2 147.5 61.0 147.5 86.0 151.4 86.0 151.4 61.0 142.5 60.2 133.1 58.0 123.2 54.4 113.1 49.4 102.7 43.1 92.2 35.9 81.7 27.7 71.4 18.9 61.2 9.5 51.4 -0.0 42.0 -9.5 33.1 -18.7 24.8 -27.5 17.1 -35.6 10.1 -42.8 3.8 -48.9 -1.9 -54.7 -6.8 -58.9 -11.0 -61.1 -14.6 -61.6 -14.6 -86.6Z" fill="url(#dg32)"/>
<path d="M-16.0 -86.5 -16.0 -61.5 -12.4 -61.0 -8.2 -58.9 -3.3 -55.0 2.4 -48.9 8.7 -42.8 15.7 -35.6 23.4 -27.5 31.7 -18.7 40.6 -9.5 50.0 -0.0 59.8 9.5 70.0 18.9 80.3 27.7 90.8 35.9 101.3 43.1 111.7 49.4 121.8 54.4 131.7 58.0 141.1 60.2 150.0 61.0 150.0 86.0 153.9 86.0 153.9 61.0 144.6 60.2 134.9 58.0 124.8 54.4 114.5 49.4 104.1 43.1 93.6 35.9 83.1 27.7 72.8 18.9 62.8 9.5 53.2 -0.0 43.9 -9.5 35.2 -18.7 27.1 -27.5 19.5 -35.6 12.6 -42.8 6.4 -48.9 0.9 -53.9 -4.1 -58.8 -8.4 -61.2 -12.1 -61.8 -12.1 -86.8Z" fill="url(#dg33)"/>
<path d="M-13.5 -86.7 -13.5 -61.7 -9.8 -61.2 -5.5 -58.9 -0.5 -54.4 5.0 -48.9 11.2 -42.8 18.1 -35.6 25.7 -27.5 33.8 -18.7 42.5 -9.5 51.8 -0.0 61.4 9.5 71.4 18.9 81.7 27.7 92.2 35.9 102.7 43.1 113.1 49.4 123.4 54.4 133.5 58.0 143.2 60.2 152.5 61.0 152.5 86.0 156.4 86.0 156.4 61.0 146.7 60.2 136.7 58.0 126.4 54.4 116.0 49.4 105.4 43.1 94.9 35.9 84.5 27.7 74.3 18.9 64.4 9.5 54.9 -0.0 45.8 -9.5 37.3 -18.7 29.3 -27.5 22.0 -35.6 15.2 -42.8 9.1 -48.9 3.6 -53.9 -1.3 -58.3 -5.7 -61.1 -9.6 -61.9 -9.6 -86.9Z" fill="url(#dg34)"/>
<path d="M-11.0 -86.9 -11.0 -61.9 -7.1 -61.2 -2.7 -58.6 2.2 -53.9 7.7 -48.9 13.8 -42.8 20.6 -35.6 27.9 -27.5 35.9 -18.7 44.4 -9.5 53.5 -0.0 63.0 9.5 72.9 18.9 83.1 27.7 93.5 35.9 104.0 43.1 114.6 49.4 125.0 54.4 135.3 58.0 145.3 60.2 155.0 61.0 155.0 86.0 158.9 86.0 158.9 61.0 148.9 60.2 138.5 58.0 128.0 54.4 117.4 49.4 106.8 43.1 96.3 35.9 85.9 27.7 75.8 18.9 66.0 9.5 56.7 -0.0 47.8 -9.5 39.4 -18.7 31.6 -27.5 24.4 -35.6 17.8 -42.8 11.7 -48.9 6.3 -53.9 1.4 -57.5 -3.1 -60.9 -7.1 -61.9 -7.1 -86.9Z" fill="url(#dg35)"/>
<path d="M-8.5 -87.0 -8.5 -62.0 -4.5 -61.1 -0.0 -57.7 4.9 -53.9 10.3 -48.9 16.4 -42.8 23.0 -35.6 30.2 -27.5 38.0 -18.7 46.4 -9.5 55.2 -0.0 64.6 9.5 74.4 18.9 84.5 27.7 94.9 35.9 105.4 43.1 116.0 49.4 126.6 54.4 137.1 58.0 147.5 60.2 157.5 61.0 157.5 86.0 161.4 86.0 161.4 61.0 151.0 60.2 140.4 58.0 129.6 54.4 118.9 49.4 108.2 43.1 97.6 35.9 87.3 27.7 77.2 18.9 67.6 9.5 58.4 -0.0 49.7 -9.5 41.5 -18.7 33.9 -27.5 26.8 -35.6 20.4 -42.8 14.4 -48.9 9.0 -53.9 4.1 -57.5 -0.4 -60.2 -4.6 -61.8 -4.6 -86.8Z" fill="url(#dg36)"/>
<path d="M-6.0 -86.9 -6.0 -61.9 -1.8 -60.7 2.7 -57.5 7.6 -53.9 13.0 -48.9 19.0 -42.8 25.4 -35.6 32.5 -27.5 40.1 -18.7 48.3 -9.5 57.0 -0.0 66.2 9.5 75.8 18.9 85.9 27.7 96.2 35.9 106.8 43.1 117.5 49.4 128.2 54.4 139.0 58.0 149.6 60.2 160.0 61.0 160.0 86.0 163.9 86.0 163.9 61.0 153.1 60.2 142.2 58.0 131.2 54.4 120.3 49.4 109.5 43.1 98.9 35.9 88.7 27.7 78.7 18.9 69.2 9.5 60.2 -0.0 51.6 -9.5 43.6 -18.7 36.2 -27.5 29.3 -35.6 22.9 -42.8 17.1 -48.9 11.7 -53.9 6.8 -57.5 2.2 -59.8 -2.1 -61.5 -2.1 -86.5Z" fill="url(#dg37)"/>
<path d="M-3.5 -86.7 -3.5 -61.7 0.8 -59.8 5.4 -57.5 10.3 -53.9 15.7 -48.9 21.5 -42.8 27.9 -35.6 34.8 -27.5 42.2 -18.7 50.2 -9.5 58.8 -0.0 67.8 9.5 77.3 18.9 87.3 27.7 97.5 35.9 108.1 43.1 118.9 49.4 129.8 54.4 140.8 58.0 151.7 60.2 162.5 61.0 162.5 86.0 166.4 86.0 166.4 61.0 155.2 60.2 144.0 58.0 132.8 54.4 121.8 49.4 110.9 43.1 100.3 35.9 90.0 27.7 80.2 18.9 70.8 9.5 61.9 -0.0 53.5 -9.5 45.7 -18.7 38.4 -27.5 31.7 -35.6 25.5 -42.8 19.7 -48.9 14.4 -53.9 9.5 -57.5 4.8 -59.8 0.4 -60.5 0.4 -85.5Z" fill="url(#dg38)"/>
<path d="M-1.0 -86.2 -1.0 -61.2 3.4 -59.8 8.1 -57.5 13.0 -53.9 18.3 -48.9 24.1 -42.8 30.3 -35.6 37.0 -27.5 44.3 -18.7 52.1 -9.5 60.5 -0.0 69.4 9.5 78.8 18.9 88.6 27.7 98.9 35.9 109.5 43.1 120.4 49.4 131.4 54.4 142.6 58.0 153.8 60.2 165.0 61.0 165.0 86.0 168.9 86.0 168.9 61.0 157.4 60.2 145.9 58.0 134.5 54.4 123.2 49.4 112.3 43.1 101.6 35.9 91.4 27.7 81.7 18.9 72.4 9.5 63.7 -0.0 55.5 -9.5 47.8 -18.7 40.7 -27.5 34.2 -35.6 28.1 -42.8 22.4 -48.9 17.1 -53.9 12.2 -57.5 7.5 -59.8 2.9 -60.5 2.9 -85.5Z" fill="url(#dg39)"/>
<path d="M1.5 -85.5 1.5 -60.5 6.1 -59.8 10.8 -57.5 15.7 -53.9 21.0 -48.9 26.7 -42.8 32.8 -35.6 39.3 -27.5 46.4 -18.7 54.1 -9.5 62.2 -0.0 71.0 9.5 80.3 18.9 90.0 27.7 100.2 35.9 110.9 43.1 121.8 49.4 133.1 54.4 144.5 58.0 156.0 60.2 167.5 61.0 167.5 86.0 171.4 86.0 171.4 61.0 159.5 60.2 147.7 58.0 136.1 54.4 124.7 49.4 113.6 43.1 103.0 35.9 92.8 27.7 83.1 18.9 74.0 9.5 65.4 -0.0 57.4 -9.5 49.9 -18.7 43.0 -27.5 36.6 -35.6 30.6 -42.8 25.1 -48.9 19.9 -53.9 14.9 -57.5 10.1 -59.8 5.4 -60.5 5.4 -85.5Z" fill="url(#dg40)"/>
<path d="M4.0 -85.5 4.0 -60.5 8.7 -59.8 13.5 -57.5 18.5 -53.9 23.7 -48.9 29.2 -42.8 35.2 -35.6 41.6 -27.5 48.5 -18.7 56.0 -9.5 64.0 -0.0 72.6 9.5 81.7 18.9 91.4 27.7 101.6 35.9 112.2 43.1 123.3 49.4 134.7 54.4 146.3 58.0 158.1 60.2 170.0 61.0 170.0 86.0 174.2 86.0 174.2 61.0 162.3 60.2 150.5 58.0 138.9 54.4 127.5 49.4 116.4 43.1 105.8 35.9 95.6 27.7 85.9 18.9 76.8 9.5 68.2 -0.0 60.2 -9.5 52.7 -18.7 45.8 -27.5 39.4 -35.6 33.4 -42.8 27.9 -48.9 22.7 -53.9 17.7 -57.5 12.9 -59.8 8.2 -60.5 8.2 -85.5Z" fill="url(#dg1)"/>
<path d="M6.8 -85.5 6.8 -60.5 11.5 -59.8 16.3 -57.5 21.3 -53.9 26.5 -48.9 32.0 -42.8 38.0 -35.6 44.4 -27.5 51.3 -18.7 58.8 -9.5 66.8 -0.0 75.4 9.5 84.5 18.9 94.2 27.7 104.4 35.9 115.0 43.1 126.1 49.4 137.5 54.4 149.1 58.0 160.9 60.2 172.8 61.0 172.8 86.0 177.0 86.0 177.0 61.0 165.1 60.2 153.3 58.0 141.7 54.4 130.3 49.4 119.2 43.1 108.6 35.9 98.4 27.7 88.7 18.9 79.6 9.5 71.0 -0.0 63.0 -9.5 55.5 -18.7 48.6 -27.5 42.2 -35.6 36.2 -42.8 30.7 -48.9 25.5 -53.9 20.5 -57.5 15.7 -59.8 11.0 -60.5 11.0 -85.5Z" fill="url(#dg2)"/>
<path d="M9.6 -85.5 9.6 -60.5 14.3 -59.8 19.1 -57.5 24.1 -53.9 29.3 -48.9 34.8 -42.8 40.8 -35.6 47.2 -27.5 54.1 -18.7 61.6 -9.5 69.6 -0.0 78.2 9.5 87.3 18.9 97.0 27.7 107.2 35.9 117.8 43.1 128.9 49.4 140.3 54.4 151.9 58.0 163.7 60.2 175.6 61.0 175.6 86.0 179.8 86.0 179.8 61.0 167.9 60.2 156.1 58.0 144.5 54.4 133.1 49.4 122.0 43.1 111.4 35.9 101.2 27.7 91.5 18.9 82.4 9.5 73.8 -0.0 65.8 -9.5 58.3 -18.7 51.4 -27.5 45.0 -35.6 39.0 -42.8 33.5 -48.9 28.3 -53.9 23.3 -57.5 18.5 -59.8 13.8 -60.5 13.8 -85.5Z" fill="url(#dg3)"/>
<path d="M12.4 -85.5 12.4 -60.5 17.1 -59.8 21.9 -57.5 26.9 -53.9 32.1 -48.9 37.6 -42.8 43.6 -35.6 50.0 -27.5 56.9 -18.7 64.4 -9.5 72.4 -0.0 81.0 9.5 90.1 18.9 99.8 27.7 110.0 35.9 120.6 43.1 131.7 49.4 143.1 54.4 154.7 58.0 166.5 60.2 178.4 61.0 178.4 86.0 182.6 86.0 182.6 61.0 170.7 60.2 158.9 58.0 147.3 54.4 135.9 49.4 124.8 43.1 114.2 35.9 104.0 27.7 94.3 18.9 85.2 9.5 76.6 -0.0 68.6 -9.5 61.1 -18.7 54.2 -27.5 47.8 -35.6 41.8 -42.8 36.3 -48.9 31.1 -53.9 26.1 -57.5 21.3 -59.8 16.6 -60.5 16.6 -85.5Z" fill="url(#dg4)"/>
<path d="M15.2 -85.5 15.2 -60.5 19.9 -59.8 24.7 -57.5 29.7 -53.9 34.9 -48.9 40.4 -42.8 46.4 -35.6 52.8 -27.5 59.7 -18.7 67.2 -9.5 75.2 -0.0 83.8 9.5 92.9 18.9 102.6 27.7 112.8 35.9 123.4 43.1 134.5 49.4 145.9 54.4 157.5 58.0 169.3 60.2 181.2 61.0 181.2 86.0 185.4 86.0 185.4 61.0 173.5 60.2 161.7 58.0 150.1 54.4 138.7 49.4 127.6 43.1 117.0 35.9 106.8 27.7 97.1 18.9 88.0 9.5 79.4 -0.0 71.4 -9.5 63.9 -18.7 57.0 -27.5 50.6 -35.6 44.6 -42.8 39.1 -48.9 33.9 -53.9 28.9 -57.5 24.1 -59.8 19.4 -60.5 19.4 -85.5Z" fill="url(#dg5)"/>
<path d="M18.0 -85.5 18.0 -60.5 22.7 -59.8 27.5 -57.5 32.5 -53.9 37.7 -48.9 43.2 -42.8 49.2 -35.6 55.6 -27.5 62.5 -18.7 70.0 -9.5 78.0 -0.0 86.6 9.5 95.7 18.9 105.4 27.7 115.6 35.9 126.2 43.1 137.3 49.4 148.7 54.4 160.3 58.0 172.1 60.2 184.0 61.0 184.0 86.0 188.2 86.0 188.2 61.0 176.3 60.2 164.5 58.0 152.9 54.4 141.5 49.4 130.4 43.1 119.8 35.9 109.6 27.7 99.9 18.9 90.8 9.5 82.2 -0.0 74.2 -9.5 66.7 -18.7 59.8 -27.5 53.4 -35.6 47.4 -42.8 41.9 -48.9 36.7 -53.9 31.7 -57.5 26.9 -59.8 22.2 -60.5 22.2 -85.5Z" fill="url(#dg6)"/>
<path d="M20.8 -85.5 20.8 -60.5 25.5 -59.8 30.3 -57.5 35.3 -53.9 40.5 -48.9 46.0 -42.8 52.0 -35.6 58.4 -27.5 65.3 -18.7 72.8 -9.5 80.8 -0.0 89.4 9.5 98.5 18.9 108.2 27.7 118.4 35.9 129.0 43.1 140.1 49.4 151.5 54.4 163.1 58.0 174.9 60.2 186.8 61.0 186.8 86.0 191.0 86.0 191.0 61.0 179.1 60.2 167.3 58.0 155.7 54.4 144.3 49.4 133.2 43.1 122.6 35.9 112.4 27.7 102.7 18.9 93.6 9.5 85.0 -0.0 77.0 -9.5 69.5 -18.7 62.6 -27.5 56.2 -35.6 50.2 -42.8 44.7 -48.9 39.5 -53.9 34.5 -57.5 29.7 -59.8 25.0 -60.5 25.0 -85.5Z" fill="url(#dg7)"/>
<path d="M23.6 -85.5 23.6 -60.5 28.3 -59.8 33.1 -57.5 38.1 -53.9 43.3 -48.9 48.8 -42.8 54.8 -35.6 61.2 -27.5 68.1 -18.7 75.6 -9.5 83.6 -0.0 92.2 9.5 101.3 18.9 111.0 27.7 121.2 35.9 131.8 43.1 142.9 49.4 154.3 54.4 165.9 58.0 177.7 60.2 189.6 61.0 189.6 86.0 193.8 86.0 193.8 61.0 181.9 60.2 170.1 58.0 158.5 54.4 147.1 49.4 136.0 43.1 125.4 35.9 115.2 27.7 105.5 18.9 96.4 9.5 87.8 -0.0 79.8 -9.5 72.3 -18.7 65.4 -27.5 59.0 -35.6 53.0 -42.8 47.5 -48.9 42.3 -53.9 37.3 -57.5 32.5 -59.8 27.8 -60.5 27.8 -85.5Z" fill="url(#dg8)"/>
<path d="M26.4 -85.5 26.4 -60.5 31.1 -59.8 35.9 -57.5 40.9 -53.9 46.1 -48.9 51.6 -42.8 57.6 -35.6 64.0 -27.5 70.9 -18.7 78.4 -9.5 86.4 -0.0 95.0 9.5 104.1 18.9 113.8 27.7 124.0 35.9 134.6 43.1 145.7 49.4 157.1 54.4 168.7 58.0 180.5 60.2 192.4 61.0 192.4 86.0 196.6 86.0 196.6 61.0 184.7 60.2 172.9 58.0 161.3 54.4 149.9 49.4 138.8 43.1 128.2 35.9 118.0 27.7 108.3 18.9 99.2 9.5 90.6 -0.0 82.6 -9.5 75.1 -18.7 68.2 -27.5 61.8 -35.6 55.8 -42.8 50.3 -48.9 45.1 -53.9 40.1 -57.5 35.3 -59.8 30.6 -60.5 30.6 -85.5Z" fill="url(#dg9)"/>
<path d="M29.2 -85.5 29.2 -60.5 33.9 -59.8 38.7 -57.5 43.7 -53.9 48.9 -48.9 54.4 -42.8 60.4 -35.6 66.8 -27.5 73.7 -18.7 81.2 -9.5 89.2 -0.0 97.8 9.5 106.9 18.9 116.6 27.7 126.8 35.9 137.4 43.1 148.5 49.4 159.9 54.4 171.5 58.0 183.3 60.2 195.2 61.0 195.2 86.0 199.4 86.0 199.4 61.0 187.5 60.2 175.7 58.0 164.1 54.4 152.7 49.4 141.6 43.1 131.0 35.9 120.8 27.7 111.1 18.9 102.0 9.5 93.4 -0.0 85.4 -9.5 77.9 -18.7 71.0 -27.5 64.6 -35.6 58.6 -42.8 53.1 -48.9 47.9 -53.9 42.9 -57.5 38.1 -59.8 33.4 -60.5 33.4 -85.5Z" fill="url(#dg10)"/>
<path d="M32.0 -85.5 32.0 -60.5 36.7 -59.8 41.5 -57.5 46.5 -53.9 51.7 -48.9 57.2 -42.8 63.2 -35.6 69.6 -27.5 76.5 -18.7 84.0 -9.5 92.0 -0.0 100.6 9.5 109.7 18.9 119.4 27.7 129.6 35.9 140.2 43.1 151.3 49.4 162.7 54.4 174.3 58.0 186.1 60.2 198.0 61.0 198.0 86.0 202.2 86.0 202.2 61.0 190.3 60.2 178.5 58.0 166.9 54.4 155.5 49.4 144.4 43.1 133.8 35.9 123.6 27.7 113.9 18.9 104.8 9.5 96.2 -0.0 88.2 -9.5 80.7 -18.7 73.8 -27.5 67.4 -35.6 61.4 -42.8 55.9 -48.9 50.7 -53.9 45.7 -57.5 40.9 -59.8 36.2 -60.5 36.2 -85.5Z" fill="url(#dg11)"/>
<path d="M34.8 -85.5 34.8 -60.5 39.5 -59.8 44.3 -57.5 49.3 -53.9 54.5 -48.9 60.0 -42.8 66.0 -35.6 72.4 -27.5 79.3 -18.7 86.8 -9.5 94.8 -0.0 103.4 9.5 112.5 18.9 122.2 27.7 132.4 35.9 143.0 43.1 154.1 49.4 165.5 54.4 177.1 58.0 188.9 60.2 200.8 61.0 200.8 86.0 205.0 86.0 205.0 61.0 193.1 60.2 181.3 58.0 169.7 54.4 158.3 49.4 147.2 43.1 136.6 35.9 126.4 27.7 116.7 18.9 107.6 9.5 99.0 -0.0 91.0 -9.5 83.5 -18.7 76.6 -27.5 70.2 -35.6 64.2 -42.8 58.7 -48.9 53.5 -53.9 48.5 -57.5 43.7 -59.8 39.0 -60.5 39.0 -85.5Z" fill="url(#dg12)"/>
<path d="M37.6 -85.5 37.6 -60.5 42.3 -59.8 47.1 -57.5 52.1 -53.9 57.3 -48.9 62.8 -42.8 68.8 -35.6 75.2 -27.5 82.1 -18.7 89.6 -9.5 97.6 -0.0 106.2 9.5 115.3 18.9 125.0 27.7 135.2 35.9 145.8 43.1 156.9 49.4 168.3 54.4 179.9 58.0 191.7 60.2 203.6 61.0 203.6 86.0 207.8 86.0 207.8 61.0 195.9 60.2 184.1 58.0 172.5 54.4 161.1 49.4 150.0 43.1 139.4 35.9 129.2 27.7 119.5 18.9 110.4 9.5 101.8 -0.0 93.8 -9.5 86.3 -18.7 79.4 -27.5 73.0 -35.6 67.0 -42.8 61.5 -48.9 56.3 -53.9 51.3 -57.5 46.5 -59.8 41.8 -60.5 41.8 -85.5Z" fill="url(#dg13)"/>
<path d="M40.4 -85.5 40.4 -60.5 45.1 -59.8 49.9 -57.5 54.9 -53.9 60.1 -48.9 65.6 -42.8 71.6 -35.6 78.0 -27.5 84.9 -18.7 92.4 -9.5 100.4 -0.0 109.0 9.5 118.1 18.9 127.8 27.7 138.0 35.9 148.6 43.1 159.7 49.4 171.1 54.4 182.7 58.0 194.5 60.2 206.4 61.0 206.4 86.0 210.6 86.0 210.6 61.0 198.7 60.2 186.9 58.0 175.3 54.4 163.9 49.4 152.8 43.1 142.2 35.9 132.0 27.7 122.3 18.9 113.2 9.5 104.6 -0.0 96.6 -9.5 89.1 -18.7 82.2 -27.5 75.8 -35.6 69.8 -42.8 64.3 -48.9 59.1 -53.9 54.1 -57.5 49.3 -59.8 44.6 -60.5 44.6 -85.5Z" fill="url(#dg14)"/>
<path d="M43.2 -85.5 43.2 -60.5 47.9 -59.8 52.7 -57.5 57.7 -53.9 62.9 -48.9 68.4 -42.8 74.4 -35.6 80.8 -27.5 87.7 -18.7 95.2 -9.5 103.2 -0.0 111.8 9.5 120.9 18.9 130.6 27.7 140.8 35.9 151.4 43.1 162.5 49.4 173.9 54.4 185.5 58.0 197.3 60.2 209.2 61.0 209.2 86.0 213.4 86.0 213.4 61.0 201.5 60.2 189.7 58.0 178.1 54.4 166.7 49.4 155.6 43.1 145.0 35.9 134.8 27.7 125.1 18.9 116.0 9.5 107.4 -0.0 99.4 -9.5 91.9 -18.7 85.0 -27.5 78.6 -35.6 72.6 -42.8 67.1 -48.9 61.9 -53.9 56.9 -57.5 52.1 -59.8 47.4 -60.5 47.4 -85.5Z" fill="url(#dg15)"/>
<path d="M46.0 -85.5 46.0 -60.5 50.7 -59.8 55.5 -57.5 60.5 -53.9 65.7 -48.9 71.2 -42.8 77.2 -35.6 83.6 -27.5 90.5 -18.7 98.0 -9.5 106.0 -0.0 114.6 9.5 123.7 18.9 133.4 27.7 143.6 35.9 154.2 43.1 165.3 49.4 176.7 54.4 188.3 58.0 200.1 60.2 212.0 61.0 212.0 86.0 216.2 86.0 216.2 61.0 204.3 60.2 192.5 58.0 180.9 54.4 169.5 49.4 158.4 43.1 147.8 35.9 137.6 27.7 127.9 18.9 118.8 9.5 110.2 -0.0 102.2 -9.5 94.7 -18.7 87.8 -27.5 81.4 -35.6 75.4 -42.8 69.9 -48.9 64.7 -53.9 59.7 -57.5 54.9 -59.8 50.2 -60.5 50.2 -85.5Z" fill="url(#dg16)"/>
<path d="M48.8 -85.5 48.8 -60.5 53.5 -59.8 58.3 -57.5 63.3 -53.9 68.5 -48.9 74.0 -42.8 80.0 -35.6 86.4 -27.5 93.3 -18.7 100.8 -9.5 108.8 -0.0 117.4 9.5 126.5 18.9 136.2 27.7 146.4 35.9 157.0 43.1 168.1 49.4 179.5 54.4 191.1 58.0 202.9 60.2 214.8 61.0 214.8 86.0 219.0 86.0 219.0 61.0 207.1 60.2 195.3 58.0 183.7 54.4 172.3 49.4 161.2 43.1 150.6 35.9 140.4 27.7 130.7 18.9 121.6 9.5 113.0 -0.0 105.0 -9.5 97.5 -18.7 90.6 -27.5 84.2 -35.6 78.2 -42.8 72.7 -48.9 67.5 -53.9 62.5 -57.5 57.7 -59.8 53.0 -60.5 53.0 -85.5Z" fill="url(#dg17)"/>
<path d="M51.6 -85.5 51.6 -60.5 56.3 -59.8 61.1 -57.5 66.1 -53.9 71.3 -48.9 76.8 -42.8 82.8 -35.6 89.2 -27.5 96.1 -18.7 103.6 -9.5 111.6 -0.0 120.2 9.5 129.3 18.9 139.0 27.7 149.2 35.9 159.8 43.1 170.9 49.4 182.3 54.4 193.9 58.0 205.7 60.2 217.6 61.0 217.6 86.0 221.8 86.0 221.8 61.0 209.9 60.2 198.1 58.0 186.5 54.4 175.1 49.4 164.0 43.1 153.4 35.9 143.2 27.7 133.5 18.9 124.4 9.5 115.8 -0.0 107.8 -9.5 100.3 -18.7 93.4 -27.5 87.0 -35.6 81.0 -42.8 75.5 -48.9 70.3 -53.9 65.3 -57.5 60.5 -59.8 55.8 -60.5 55.8 -85.5Z" fill="url(#dg18)"/>
<path d="M54.4 -85.5 54.4 -60.5 59.1 -59.8 63.9 -57.5 68.9 -53.9 74.1 -48.9 79.6 -42.8 85.6 -35.6 92.0 -27.5 98.9 -18.7 106.4 -9.5 114.4 -0.0 123.0 9.5 132.1 18.9 141.8 27.7 152.0 35.9 162.6 43.1 173.7 49.4 185.1 54.4 196.7 58.0 208.5 60.2 220.4 61.0 220.4 86.0 224.6 86.0 224.6 61.0 212.7 60.2 200.9 58.0 189.3 54.4 177.9 49.4 166.8 43.1 156.2 35.9 146.0 27.7 136.3 18.9 127.2 9.5 118.6 -0.0 110.6 -9.5 103.1 -18.7 96.2 -27.5 89.8 -35.6 83.8 -42.8 78.3 -48.9 73.1 -53.9 68.1 -57.5 63.3 -59.8 58.6 -60.5 58.6 -85.5Z" fill="url(#dg19)"/>
<path d="M57.2 -85.5 57.2 -60.5 61.9 -59.8 66.7 -57.5 71.7 -53.9 76.9 -48.9 82.4 -42.8 88.4 -35.6 94.8 -27.5 101.7 -18.7 109.2 -9.5 117.2 -0.0 125.8 9.5 134.9 18.9 144.6 27.7 154.8 35.9 165.4 43.1 176.5 49.4 187.9 54.4 199.5 58.0 211.3 60.2 223.2 61.0 223.2 86.0 227.4 86.0 227.4 61.0 215.5 60.2 203.7 58.0 192.1 54.4 180.7 49.4 169.6 43.1 159.0 35.9 148.8 27.7 139.1 18.9 130.0 9.5 121.4 -0.0 113.4 -9.5 105.9 -18.7 99.0 -27.5 92.6 -35.6 86.6 -42.8 81.1 -48.9 75.9 -53.9 70.9 -57.5 66.1 -59.8 61.4 -60.5 61.4 -85.5Z" fill="url(#dg20)"/>
<path d="M60.0 -85.5 60.0 -60.5 64.7 -59.8 69.5 -57.5 74.5 -53.9 79.7 -48.9 85.2 -42.8 91.2 -35.6 97.6 -27.5 104.5 -18.7 112.0 -9.5 120.0 -0.0 128.6 9.5 137.7 18.9 147.4 27.7 157.6 35.9 168.2 43.1 179.3 49.4 190.7 54.4 202.3 58.0 214.1 60.2 226.0 61.0 226.0 86.0 230.4 86.0 230.4 61.0 218.5 60.2 206.7 58.0 195.1 54.4 183.7 49.4 172.6 43.1 162.0 35.9 151.8 27.7 142.1 18.9 133.0 9.5 124.4 -0.0 116.4 -9.5 108.9 -18.7 102.0 -27.5 95.6 -35.6 89.6 -42.8 84.1 -48.9 78.9 -53.9 73.9 -57.5 69.1 -59.8 64.4 -60.5 64.4 -85.5Z" fill="url(#dg1)"/>
<path d="M63.0 -85.5 63.0 -60.5 67.7 -59.8 72.5 -57.5 77.5 -53.9 82.7 -48.9 88.2 -42.8 94.2 -35.6 100.6 -27.5 107.5 -18.7 115.0 -9.5 123.0 -0.0 131.6 9.5 140.7 18.9 150.4 27.7 160.6 35.9 171.2 43.1 182.3 49.4 193.7 54.4 205.3 58.0 217.1 60.2 229.0 61.0 229.0 86.0 233.4 86.0 233.4 61.0 221.5 60.2 209.7 58.0 198.1 54.4 186.7 49.4 175.6 43.1 165.0 35.9 154.8 27.7 145.1 18.9 136.0 9.5 127.4 -0.0 119.4 -9.5 111.9 -18.7 105.0 -27.5 98.6 -35.6 92.6 -42.8 87.1 -48.9 81.9 -53.9 76.9 -57.5 72.1 -59.8 67.4 -60.5 67.4 -85.5Z" fill="url(#dg2)"/>
<path d="M66.0 -85.5 66.0 -60.5 70.7 -59.8 75.5 -57.5 80.5 -53.9 85.7 -48.9 91.2 -42.8 97.2 -35.6 103.6 -27.5 110.5 -18.7 118.0 -9.5 126.0 -0.0 134.6 9.5 143.7 18.9 153.4 27.7 163.6 35.9 174.2 43.1 185.3 49.4 196.7 54.4 208.3 58.0 220.1 60.2 232.0 61.0 232.0 86.0 236.4 86.0 236.4 61.0 224.5 60.2 212.7 58.0 201.1 54.4 189.7 49.4 178.6 43.1 168.0 35.9 157.8 27.7 148.1 18.9 139.0 9.5 130.4 -0.0 122.4 -9.5 114.9 -18.7 108.0 -27.5 101.6 -35.6 95.6 -42.8 90.1 -48.9 84.9 -53.9 79.9 -57.5 75.1 -59.8 70.4 -60.5 70.4 -85.5Z" fill="url(#dg3)"/>
<path d="M69.0 -85.5 69.0 -60.5 73.7 -59.8 78.5 -57.5 83.5 -53.9 88.7 -48.9 94.2 -42.8 100.2 -35.6 106.6 -27.5 113.5 -18.7 121.0 -9.5 129.0 -0.0 137.6 9.5 146.7 18.9 156.4 27.7 166.6 35.9 177.2 43.1 188.3 49.4 199.7 54.4 211.3 58.0 223.1 60.2 235.0 61.0 235.0 86.0 239.4 86.0 239.4 61.0 227.5 60.2 215.7 58.0 204.1 54.4 192.7 49.4 181.6 43.1 171.0 35.9 160.8 27.7 151.1 18.9 142.0 9.5 133.4 -0.0 125.4 -9.5 117.9 -18.7 111.0 -27.5 104.6 -35.6 98.6 -42.8 93.1 -48.9 87.9 -53.9 82.9 -57.5 78.1 -59.8 73.4 -60.5 73.4 -85.5Z" fill="url(#dg4)"/>
<path d="M72.0 -85.5 72.0 -60.5 76.7 -59.8 81.5 -57.5 86.5 -53.9 91.7 -48.9 97.2 -42.8 103.2 -35.6 109.6 -27.5 116.5 -18.7 124.0 -9.5 132.0 -0.0 140.6 9.5 149.7 18.9 159.4 27.7 169.6 35.9 180.2 43.1 191.3 49.4 202.7 54.4 214.3 58.0 226.1 60.2 238.0 61.0 238.0 86.0 242.4 86.0 242.4 61.0 230.5 60.2 218.7 58.0 207.1 54.4 195.7 49.4 184.6 43.1 174.0 35.9 163.8 27.7 154.1 18.9 145.0 9.5 136.4 -0.0 128.4 -9.5 120.9 -18.7 114.0 -27.5 107.6 -35.6 101.6 -42.8 96.1 -48.9 90.9 -53.9 85.9 -57.5 81.1 -59.8 76.4 -60.5 76.4 -85.5Z" fill="url(#dg5)"/>
<path d="M75.0 -85.5 75.0 -60.5 79.7 -59.8 84.5 -57.5 89.5 -53.9 94.7 -48.9 100.2 -42.8 106.2 -35.6 112.6 -27.5 119.5 -18.7 127.0 -9.5 135.0 -0.0 143.6 9.5 152.7 18.9 162.4 27.7 172.6 35.9 183.2 43.1 194.3 49.4 205.7 54.4 217.3 58.0 229.1 60.2 241.0 61.0 241.0 86.0 245.4 86.0 245.4 61.0 233.5 60.2 221.7 58.0 210.1 54.4 198.7 49.4 187.6 43.1 177.0 35.9 166.8 27.7 157.1 18.9 148.0 9.5 139.4 -0.0 131.4 -9.5 123.9 -18.7 117.0 -27.5 110.6 -35.6 104.6 -42.8 99.1 -48.9 93.9 -53.9 88.9 -57.5 84.1 -59.8 79.4 -60.5 79.4 -85.5Z" fill="url(#dg6)"/>
<path d="M78.0 -85.5 78.0 -60.5 82.7 -59.8 87.5 -57.5 92.5 -53.9 97.7 -48.9 103.2 -42.8 109.2 -35.6 115.6 -27.5 122.5 -18.7 130.0 -9.5 138.0 -0.0 146.6 9.5 155.7 18.9 165.4 27.7 175.6 35.9 186.2 43.1 197.3 49.4 208.7 54.4 220.3 58.0 232.1 60.2 244.0 61.0 244.0 86.0 248.4 86.0 248.4 61.0 236.5 60.2 224.7 58.0 213.1 54.4 201.7 49.4 190.6 43.1 180.0 35.9 169.8 27.7 160.1 18.9 151.0 9.5 142.4 -0.0 134.4 -9.5 126.9 -18.7 120.0 -27.5 113.6 -35.6 107.6 -42.8 102.1 -48.9 96.9 -53.9 91.9 -57.5 87.1 -59.8 82.4 -60.5 82.4 -85.5Z" fill="url(#dg7)"/>
<path d="M81.0 -85.5 81.0 -60.5 85.7 -59.8 90.5 -57.5 95.5 -53.9 100.7 -48.9 106.2 -42.8 112.2 -35.6 118.6 -27.5 125.5 -18.7 133.0 -9.5 141.0 -0.0 149.6 9.5 158.7 18.9 168.4 27.7 178.6 35.9 189.2 43.1 200.3 49.4 211.7 54.4 223.3 58.0 235.1 60.2 247.0 61.0 247.0 86.0 251.4 86.0 251.4 61.0 239.5 60.2 227.7 58.0 216.1 54.4 204.7 49.4 193.6 43.1 183.0 35.9 172.8 27.7 163.1 18.9 154.0 9.5 145.4 -0.0 137.4 -9.5 129.9 -18.7 123.0 -27.5 116.6 -35.6 110.6 -42.8 105.1 -48.9 99.9 -53.9 94.9 -57.5 90.1 -59.8 85.4 -60.5 85.4 -85.5Z" fill="url(#dg8)"/>
<path d="M84.0 -85.5 84.0 -60.5 88.7 -59.8 93.5 -57.5 98.5 -53.9 103.7 -48.9 109.2 -42.8 115.2 -35.6 121.6 -27.5 128.5 -18.7 136.0 -9.5 144.0 -0.0 152.6 9.5 161.7 18.9 171.4 27.7 181.6 35.9 192.2 43.1 203.3 49.4 214.7 54.4 226.3 58.0 238.1 60.2 250.0 61.0 250.0 86.0 254.4 86.0 254.4 61.0 242.5 60.2 230.7 58.0 219.1 54.4 207.7 49.4 196.6 43.1 186.0 35.9 175.8 27.7 166.1 18.9 157.0 9.5 148.4 -0.0 140.4 -9.5 132.9 -18.7 126.0 -27.5 119.6 -35.6 113.6 -42.8 108.1 -48.9 102.9 -53.9 97.9 -57.5 93.1 -59.8 88.4 -60.5 88.4 -85.5Z" fill="url(#dg9)"/>
<path d="M87.0 -85.5 87.0 -60.5 91.7 -59.8 96.5 -57.5 101.5 -53.9 106.7 -48.9 112.2 -42.8 118.2 -35.6 124.6 -27.5 131.5 -18.7 139.0 -9.5 147.0 -0.0 155.6 9.5 164.7 18.9 174.4 27.7 184.6 35.9 195.2 43.1 206.3 49.4 217.7 54.4 229.3 58.0 241.1 60.2 253.0 61.0 253.0 86.0 257.4 86.0 257.4 61.0 245.5 60.2 233.7 58.0 222.1 54.4 210.7 49.4 199.6 43.1 189.0 35.9 178.8 27.7 169.1 18.9 160.0 9.5 151.4 -0.0 143.4 -9.5 135.9 -18.7 129.0 -27.5 122.6 -35.6 116.6 -42.8 111.1 -48.9 105.9 -53.9 100.9 -57.5 96.1 -59.8 91.4 -60.5 91.4 -85.5Z" fill="url(#dg10)"/>
<path d="M90.0 -85.5 90.0 -60.5 94.7 -59.8 99.5 -57.5 104.5 -53.9 109.7 -48.9 115.2 -42.8 121.2 -35.6 127.6 -27.5 134.5 -18.7 142.0 -9.5 150.0 -0.0 158.6 9.5 167.7 18.9 177.4 27.7 187.6 35.9 198.2 43.1 209.3 49.4 220.7 54.4 232.3 58.0 244.1 60.2 256.0 61.0 256.0 86.0 260.4 86.0 260.4 61.0 248.5 60.2 236.7 58.0 225.1 54.4 213.7 49.4 202.6 43.1 192.0 35.9 181.8 27.7 172.1 18.9 163.0 9.5 154.4 -0.0 146.4 -9.5 138.9 -18.7 132.0 -27.5 125.6 -35.6 119.6 -42.8 114.1 -48.9 108.9 -53.9 103.9 -57.5 99.1 -59.8 94.4 -60.5 94.4 -85.5Z" fill="url(#dg11)"/>
<path d="M93.0 -85.5 93.0 -60.5 97.7 -59.8 102.5 -57.5 107.5 -53.9 112.7 -48.9 118.2 -42.8 124.2 -35.6 130.6 -27.5 137.5 -18.7 145.0 -9.5 153.0 -0.0 161.6 9.5 170.7 18.9 180.4 27.7 190.6 35.9 201.2 43.1 212.3 49.4 223.7 54.4 235.3 58.0 247.1 60.2 259.0 61.0 259.0 86.0 263.4 86.0 263.4 61.0 251.5 60.2 239.7 58.0 228.1 54.4 216.7 49.4 205.6 43.1 195.0 35.9 184.8 27.7 175.1 18.9 166.0 9.5 157.4 -0.0 149.4 -9.5 141.9 -18.7 135.0 -27.5 128.6 -35.6 122.6 -42.8 117.1 -48.9 111.9 -53.9 106.9 -57.5 102.1 -59.8 97.4 -60.5 97.4 -85.5Z" fill="url(#dg12)"/>
<path d="M96.0 -85.5 96.0 -60.5 100.7 -59.8 105.5 -57.5 110.5 -53.9 115.7 -48.9 121.2 -42.8 127.2 -35.6 133.6 -27.5 140.5 -18.7 148.0 -9.5 156.0 -0.0 164.6 9.5 173.7 18.9 183.4 27.7 193.6 35.9 204.2 43.1 215.3 49.4 226.7 54.4 238.3 58.0 250.1 60.2 262.0 61.0 262.0 86.0 266.4 86.0 266.4 61.0 254.5 60.2 242.7 58.0 231.1 54.4 219.7 49.4 208.6 43.1 198.0 35.9 187.8 27.7 178.1 18.9 169.0 9.5 160.4 -0.0 152.4 -9.5 144.9 -18.7 138.0 -27.5 131.6 -35.6 125.6 -42.8 120.1 -48.9 114.9 -53.9 109.9 -57.5 105.1 -59.8 100.4 -60.5 100.4 -85.5Z" fill="url(#dg13)"/>
<path d="M99.0 -85.5 99.0 -60.5 103.7 -59.8 108.5 -57.5 113.5 -53.9 118.7 -48.9 124.2 -42.8 130.2 -35.6 136.6 -27.5 143.5 -18.7 151.0 -9.5 159.0 -0.0 167.6 9.5 176.7 18.9 186.4 27.7 196.6 35.9 207.2 43.1 218.3 49.4 229.7 54.4 241.3 58.0 253.1 60.2 265.0 61.0 265.0 86.0 269.4 86.0 269.4 61.0 257.5 60.2 245.7 58.0 234.1 54.4 222.7 49.4 211.6 43.1 201.0 35.9 190.8 27.7 181.1 18.9 172.0 9.5 163.4 -0.0 155.4 -9.5 147.9 -18.7 141.0 -27.5 134.6 -35.6 128.6 -42.8 123.1 -48.9 117.9 -53.9 112.9 -57.5 108.1 -59.8 103.4 -60.5 103.4 -85.5Z" fill="url(#dg14)"/>
<path d="M102.0 -85.5 102.0 -60.5 106.7 -59.8 111.5 -57.5 116.5 -53.9 121.7 -48.9 127.2 -42.8 133.2 -35.6 139.6 -27.5 146.5 -18.7 154.0 -9.5 162.0 -0.0 170.6 9.5 179.7 18.9 189.4 27.7 199.6 35.9 210.2 43.1 221.3 49.4 232.7 54.4 244.3 58.0 256.1 60.2 268.0 61.0 268.0 86.0 272.4 86.0 272.4 61.0 260.5 60.2 248.7 58.0 237.1 54.4 225.7 49.4 214.6 43.1 204.0 35.9 193.8 27.7 184.1 18.9 175.0 9.5 166.4 -0.0 158.4 -9.5 150.9 -18.7 144.0 -27.5 137.6 -35.6 131.6 -42.8 126.1 -48.9 120.9 -53.9 115.9 -57.5 111.1 -59.8 106.4 -60.5 106.4 -85.5Z" fill="url(#dg15)"/>
<path d="M105.0 -85.5 105.0 -60.5 109.7 -59.8 114.5 -57.5 119.5 -53.9 124.7 -48.9 130.2 -42.8 136.2 -35.6 142.6 -27.5 149.5 -18.7 157.0 -9.5 165.0 -0.0 173.6 9.5 182.7 18.9 192.4 27.7 202.6 35.9 213.2 43.1 224.3 49.4 235.7 54.4 247.3 58.0 259.1 60.2 271.0 61.0 271.0 86.0 275.4 86.0 275.4 61.0 263.5 60.2 251.7 58.0 240.1 54.4 228.7 49.4 217.6 43.1 207.0 35.9 196.8 27.7 187.1 18.9 178.0 9.5 169.4 -0.0 161.4 -9.5 153.9 -18.7 147.0 -27.5 140.6 -35.6 134.6 -42.8 129.1 -48.9 123.9 -53.9 118.9 -57.5 114.1 -59.8 109.4 -60.5 109.4 -85.5Z" fill="url(#dg16)"/>
<path d="M108.0 -85.5 108.0 -60.5 112.7 -59.8 117.5 -57.5 122.5 -53.9 127.7 -48.9 133.2 -42.8 139.2 -35.6 145.6 -27.5 152.5 -18.7 160.0 -9.5 168.0 -0.0 176.6 9.5 185.7 18.9 195.4 27.7 205.6 35.9 216.2 43.1 227.3 49.4 238.7 54.4 250.3 58.0 262.1 60.2 274.0 61.0 274.0 86.0 278.4 86.0 278.4 61.0 266.5 60.2 254.7 58.0 243.1 54.4 231.7 49.4 220.6 43.1 210.0 35.9 199.8 27.7 190.1 18.9 181.0 9.5 172.4 -0.0 164.4 -9.5 156.9 -18.7 150.0 -27.5 143.6 -35.6 137.6 -42.8 132.1 -48.9 126.9 -53.9 121.9 -57.5 117.1 -59.8 112.4 -60.5 112.4 -85.5Z" fill="url(#dg17)"/>
<path d="M111.0 -85.5 111.0 -60.5 115.7 -59.8 120.5 -57.5 125.5 -53.9 130.7 -48.9 136.2 -42.8 142.2 -35.6 148.6 -27.5 155.5 -18.7 163.0 -9.5 171.0 -0.0 179.6 9.5 188.7 18.9 198.4 27.7 208.6 35.9 219.2 43.1 230.3 49.4 241.7 54.4 253.3 58.0 265.1 60.2 277.0 61.0 277.0 86.0 281.4 86.0 281.4 61.0 269.5 60.2 257.7 58.0 246.1 54.4 234.7 49.4 223.6 43.1 213.0 35.9 202.8 27.7 193.1 18.9 184.0 9.5 175.4 -0.0 167.4 -9.5 159.9 -18.7 153.0 -27.5 146.6 -35.6 140.6 -42.8 135.1 -48.9 129.9 -53.9 124.9 -57.5 120.1 -59.8 115.4 -60.5 115.4 -85.5Z" fill="url(#dg18)"/>
<path d="M114.0 -85.5 114.0 -60.5 118.7 -59.8 123.5 -57.5 128.5 -53.9 133.7 -48.9 139.2 -42.8 145.2 -35.6 151.6 -27.5 158.5 -18.7 166.0 -9.5 174.0 -0.0 182.6 9.5 191.7 18.9 201.4 27.7 211.6 35.9 222.2 43.1 233.3 49.4 244.7 54.4 256.3 58.0 268.1 60.2 280.0 61.0 280.0 86.0 284.4 86.0 284.4 61.0 272.5 60.2 260.7 58.0 249.1 54.4 237.7 49.4 226.6 43.1 216.0 35.9 205.8 27.7 196.1 18.9 187.0 9.5 178.4 -0.0 170.4 -9.5 162.9 -18.7 156.0 -27.5 149.6 -35.6 143.6 -42.8 138.1 -48.9 132.9 -53.9 127.9 -57.5 123.1 -59.8 118.4 -60.5 118.4 -85.5Z" fill="url(#dg19)"/>
<path d="M117.0 -85.5 117.0 -60.5 121.7 -59.8 126.5 -57.5 131.5 -53.9 136.7 -48.9 142.2 -42.8 148.2 -35.6 154.6 -27.5 161.5 -18.7 169.0 -9.5 177.0 -0.0 185.6 9.5 194.7 18.9 204.4 27.7 214.6 35.9 225.2 43.1 236.3 49.4 247.7 54.4 259.3 58.0 271.1 60.2 283.0 61.0 283.0 86.0 287.4 86.0 287.4 61.0 275.5 60.2 263.7 58.0 252.1 54.4 240.7 49.4 229.6 43.1 219.0 35.9 208.8 27.7 199.1 18.9 190.0 9.5 181.4 -0.0 173.4 -9.5 165.9 -18.7 159.0 -27.5 152.6 -35.6 146.6 -42.8 141.1 -48.9 135.9 -53.9 130.9 -57.5 126.1 -59.8 121.4 -60.5 121.4 -85.5Z" fill="url(#dg20)"/>
<path d="M-789.0 -85.0 -789.0 -60.0 -784.1 -59.3 -779.2 -57.1 -774.1 -53.5 -768.7 -48.5 -763.0 -42.4 -756.9 -35.3 -750.3 -27.2 -743.3 -18.5 -735.7 -9.4 -727.5 -0.0 -718.8 6.3 -709.5 12.4 -699.6 18.5 -689.3 27.1 -678.5 34.6 -667.3 41.0 -655.8 45.7 -644.0 48.2 -632.0 48.2 -620.0 45.2 -620.0 70.2 -618.0 69.3 -618.0 44.3 -629.9 47.7 -641.7 47.9 -653.3 45.7 -664.7 41.2 -675.8 35.0 -686.4 27.7 -696.6 19.6 -706.3 12.4 -715.4 6.3 -724.0 -0.0 -732.0 -9.4 -739.5 -18.5 -746.4 -27.2 -752.8 -35.3 -758.8 -42.4 -764.3 -48.5 -769.5 -53.5 -774.5 -57.1 -779.3 -59.3 -784.0 -60.0 -784.0 -85.0Z" fill="url(#wedge)"/>
<path d="M-784.8 -85.0 -784.8 -60.0 -780.1 -59.3 -775.3 -57.1 -770.3 -53.5 -765.1 -48.5 -759.6 -42.4 -753.6 -35.3 -747.2 -27.2 -740.3 -18.5 -732.8 -9.4 -724.8 -0.0 -716.2 6.3 -707.1 12.4 -697.4 19.4 -687.2 27.5 -676.6 34.9 -665.5 41.1 -654.1 45.7 -642.5 48.0 -630.7 47.9 -618.8 44.7 -618.8 69.7 -617.4 69.0 -617.4 44.0 -629.3 47.6 -641.1 47.9 -652.7 45.6 -664.1 41.2 -675.2 35.1 -685.8 27.8 -696.0 19.7 -705.7 12.4 -714.8 6.3 -723.4 -0.0 -731.4 -9.4 -738.9 -18.5 -745.8 -27.2 -752.2 -35.3 -758.2 -42.4 -763.7 -48.5 -768.9 -53.5 -773.9 -57.1 -778.7 -59.3 -783.4 -60.0 -783.4 -85.0Z" fill="#5a5a5a"/>
<path d="M-723.0 -85.0 -723.0 -60.0 -718.1 -59.3 -713.2 -57.1 -708.1 -53.5 -702.7 -48.5 -697.0 -44.0 -690.9 -37.7 -684.3 -29.8 -677.3 -20.6 -669.7 -10.5 -661.5 -0.0 -652.8 8.0 -643.5 15.6 -633.6 22.3 -623.3 27.3 -612.5 30.2 -601.3 38.1 -589.8 44.0 -578.0 47.6 -566.0 48.5 -554.0 46.5 -554.0 71.5 -552.0 70.8 -552.0 45.8 -563.9 48.2 -575.7 47.5 -587.3 44.2 -598.7 38.7 -609.8 31.3 -620.4 26.7 -630.6 22.0 -640.3 15.5 -649.4 8.0 -658.0 -0.0 -666.0 -10.6 -673.5 -20.7 -680.4 -30.1 -686.8 -38.3 -692.8 -45.0 -698.3 -49.8 -703.5 -53.5 -708.5 -57.1 -713.3 -59.3 -718.0 -60.0 -718.0 -85.0Z" fill="url(#wedge)"/>
<path d="M-718.8 -85.0 -718.8 -60.0 -714.1 -59.3 -709.3 -57.1 -704.3 -53.5 -699.1 -49.4 -693.6 -44.9 -687.6 -38.2 -681.2 -30.0 -674.3 -20.7 -666.8 -10.6 -658.8 -0.0 -650.2 8.0 -641.1 15.6 -631.4 22.1 -621.2 26.9 -610.6 31.0 -599.5 38.5 -588.1 44.1 -576.5 47.5 -564.7 48.3 -552.8 46.1 -552.8 71.1 -551.4 70.6 -551.4 45.6 -563.3 48.1 -575.1 47.5 -586.7 44.2 -598.1 38.8 -609.2 31.5 -619.8 26.5 -630.0 21.9 -639.7 15.5 -648.8 8.0 -657.4 -0.0 -665.4 -10.6 -672.9 -20.8 -679.8 -30.1 -686.2 -38.4 -692.2 -45.2 -697.7 -50.1 -702.9 -53.5 -707.9 -57.1 -712.7 -59.3 -717.4 -60.0 -717.4 -85.0Z" fill="#5a5a5a"/>
<path d="M-665.0 -92.6 -665.0 -67.6 -660.1 -66.9 -655.2 -64.3 -650.1 -60.0 -644.7 -54.0 -639.0 -46.7 -632.9 -38.1 -626.3 -28.7 -619.3 -18.7 -611.7 -9.7 -603.5 -0.0 -594.8 7.6 -585.5 15.4 -575.6 22.7 -565.3 28.8 -554.5 33.0 -543.3 36.2 -531.8 44.1 -520.0 49.7 -508.0 53.2 -496.0 54.2 -496.0 79.2 -494.0 79.2 -494.0 54.2 -505.9 53.3 -517.7 50.1 -529.3 44.7 -540.7 37.4 -551.8 32.3 -562.4 28.5 -572.6 22.6 -582.3 15.4 -591.4 7.7 -600.0 -0.0 -608.0 -9.9 -615.5 -18.8 -622.4 -28.1 -628.8 -37.5 -634.8 -46.1 -640.3 -53.6 -645.5 -59.6 -650.5 -64.0 -655.3 -66.8 -660.0 -67.7 -660.0 -92.7Z" fill="url(#wedge)"/>
<path d="M-660.8 -92.7 -660.8 -67.7 -656.1 -66.8 -651.3 -64.1 -646.3 -59.7 -641.1 -53.7 -635.6 -46.2 -629.6 -37.7 -623.2 -28.2 -616.3 -18.7 -608.8 -9.8 -600.8 -0.0 -592.2 7.7 -583.1 15.4 -573.4 22.6 -563.2 28.6 -552.6 32.5 -541.5 37.1 -530.1 44.5 -518.5 50.0 -506.7 53.3 -494.8 54.2 -494.8 79.2 -493.4 79.2 -493.4 54.2 -505.3 53.4 -517.1 50.2 -528.7 44.9 -540.1 37.6 -551.2 32.2 -561.8 28.5 -572.0 22.6 -581.7 15.4 -590.8 7.7 -599.4 -0.0 -607.4 -9.9 -614.9 -18.9 -621.8 -28.0 -628.2 -37.5 -634.2 -46.0 -639.7 -53.5 -644.9 -59.5 -649.9 -64.0 -654.7 -66.7 -659.4 -67.7 -659.4 -92.7Z" fill="#5a5a5a"/>
<path d="M-623.0 -87.1 -623.0 -62.1 -618.1 -58.6 -613.2 -58.7 -608.1 -56.3 -602.7 -51.9 -597.0 -45.9 -590.9 -38.5 -584.3 -29.8 -577.3 -20.3 -569.7 -10.2 -561.5 -0.0 -552.8 7.2 -543.5 13.8 -533.6 22.2 -523.3 30.3 -512.5 37.7 -501.3 43.9 -489.8 48.1 -478.0 50.1 -466.0 49.5 -454.0 45.3 -454.0 70.3 -452.0 68.0 -452.0 43.0 -463.9 48.9 -475.7 49.8 -487.3 48.0 -498.7 43.9 -509.8 38.0 -520.4 30.7 -530.6 22.6 -540.3 14.3 -549.4 7.0 -558.0 -0.0 -566.0 -10.1 -573.5 -20.2 -580.4 -29.8 -586.8 -38.6 -592.8 -46.2 -598.3 -52.4 -603.5 -57.1 -608.5 -60.0 -613.3 -60.9 -618.0 -59.0 -618.0 -84.0Z" fill="url(#wedge)"/>
<path d="M-618.8 -85.0 -618.8 -60.0 -614.1 -60.7 -609.3 -59.8 -604.3 -56.9 -599.1 -52.4 -593.6 -46.2 -587.6 -38.6 -581.2 -29.8 -574.3 -20.2 -566.8 -10.1 -558.8 -0.0 -550.2 7.1 -541.1 14.2 -531.4 22.5 -521.2 30.6 -510.6 37.9 -499.5 43.9 -488.1 48.0 -476.5 49.9 -464.7 49.2 -452.8 44.3 -452.8 69.3 -451.4 68.9 -451.4 43.9 -463.3 48.7 -475.1 49.7 -486.7 47.9 -498.1 43.9 -509.2 38.0 -519.8 30.7 -530.0 22.7 -539.7 14.4 -548.8 7.0 -557.4 -0.0 -565.4 -10.1 -572.9 -20.2 -579.8 -29.8 -586.2 -38.6 -592.2 -46.3 -597.7 -52.5 -602.9 -57.2 -607.9 -60.1 -612.7 -61.1 -617.4 -59.8 -617.4 -84.8Z" fill="#5a5a5a"/>
<path d="M-551.0 -85.9 -551.0 -60.9 -546.1 -57.6 -541.2 -58.2 -536.1 -56.1 -530.7 -52.0 -525.0 -46.3 -518.9 -39.1 -512.3 -30.5 -505.3 -20.9 -497.7 -10.7 -489.5 -0.0 -480.8 8.3 -471.5 15.9 -461.6 22.2 -451.3 25.9 -440.5 34.2 -429.3 40.6 -417.8 44.9 -406.0 46.5 -394.0 44.4 -382.0 49.5 -382.0 74.5 -380.0 75.2 -380.0 50.2 -391.9 42.9 -403.7 46.0 -415.3 44.8 -426.7 40.7 -437.8 34.6 -448.4 26.9 -458.6 21.6 -468.3 15.7 -477.4 8.2 -486.0 -0.0 -494.0 -10.7 -501.5 -21.0 -508.4 -30.7 -514.8 -39.4 -520.8 -46.8 -526.3 -52.8 -531.5 -57.1 -536.5 -59.7 -541.3 -60.4 -546.0 -58.0 -546.0 -83.0Z" fill="url(#wedge)"/>
<path d="M-546.8 -84.0 -546.8 -59.0 -542.1 -60.1 -537.3 -59.5 -532.3 -57.0 -527.1 -52.6 -521.6 -46.7 -515.6 -39.3 -509.2 -30.7 -502.3 -21.0 -494.8 -10.7 -486.8 -0.0 -478.2 8.3 -469.1 15.7 -459.4 21.8 -449.2 26.7 -438.6 34.5 -427.5 40.7 -416.1 44.8 -404.5 46.2 -392.7 43.5 -380.8 49.9 -380.8 74.9 -379.4 75.4 -379.4 50.4 -391.3 43.8 -403.1 45.9 -414.7 44.7 -426.1 40.8 -437.2 34.7 -447.8 27.0 -458.0 21.5 -467.7 15.6 -476.8 8.2 -485.4 -0.0 -493.4 -10.7 -500.9 -21.0 -507.8 -30.7 -514.2 -39.4 -520.2 -46.9 -525.7 -52.9 -530.9 -57.3 -535.9 -59.9 -540.7 -60.7 -545.4 -58.9 -545.4 -83.9Z" fill="#5a5a5a"/>
<path d="M-497.0 -93.1 -497.0 -68.1 -492.1 -67.3 -487.2 -64.6 -482.1 -60.3 -476.7 -54.4 -471.0 -47.0 -464.9 -38.6 -458.3 -29.2 -451.3 -19.3 -443.7 -9.4 -435.5 -0.0 -426.8 7.9 -417.5 15.6 -407.6 22.3 -397.3 27.3 -386.5 33.6 -375.3 41.9 -363.8 48.6 -352.0 53.5 -340.0 56.4 -328.0 56.9 -328.0 81.9 -326.0 81.8 -326.0 56.8 -337.9 56.4 -349.7 53.7 -361.3 49.0 -372.7 42.4 -383.8 34.5 -394.4 26.5 -404.6 22.1 -414.3 15.5 -423.4 7.9 -432.0 -0.0 -440.0 -8.9 -447.5 -19.0 -454.4 -28.8 -460.8 -38.1 -466.8 -46.6 -472.3 -54.0 -477.5 -60.0 -482.5 -64.4 -487.3 -67.1 -492.0 -68.1 -492.0 -93.1Z" fill="url(#wedge)"/>
<path d="M-492.8 -93.1 -492.8 -68.1 -488.1 -67.1 -483.3 -64.4 -478.3 -60.0 -473.1 -54.0 -467.6 -46.7 -461.6 -38.2 -455.2 -28.9 -448.3 -19.0 -440.8 -9.1 -432.8 -0.0 -424.2 7.9 -415.1 15.5 -405.4 22.1 -395.2 26.8 -384.6 34.3 -373.5 42.3 -362.1 48.8 -350.5 53.7 -338.7 56.4 -326.8 56.8 -326.8 81.8 -325.4 81.7 -325.4 56.7 -337.3 56.4 -349.1 53.8 -360.7 49.1 -372.1 42.6 -383.2 34.7 -393.8 26.3 -404.0 22.0 -413.7 15.5 -422.8 7.9 -431.4 -0.0 -439.4 -9.0 -446.9 -18.9 -453.8 -28.7 -460.2 -38.0 -466.2 -46.5 -471.7 -53.9 -476.9 -59.9 -481.9 -64.3 -486.7 -67.1 -491.4 -68.1 -491.4 -93.1Z" fill="#5a5a5a"/>
<path d="M-455.0 -88.5 -455.0 -63.5 -450.1 -61.4 -445.2 -57.5 -440.1 -51.1 -434.7 -48.3 -429.0 -43.2 -422.9 -36.5 -416.3 -28.4 -409.3 -19.4 -401.7 -9.8 -393.5 -0.0 -384.8 7.6 -375.5 16.0 -365.6 24.6 -355.3 32.8 -344.5 40.2 -333.3 46.2 -321.8 50.3 -310.0 52.1 -298.0 51.3 -286.0 47.1 -286.0 72.1 -284.0 70.6 -284.0 45.6 -295.9 50.7 -307.7 51.7 -319.3 50.0 -330.7 46.1 -341.8 40.3 -352.4 33.1 -362.6 24.8 -372.3 16.2 -381.4 7.8 -390.0 -0.0 -398.0 -9.7 -405.5 -19.4 -412.4 -28.5 -418.8 -36.7 -424.8 -43.7 -430.3 -49.2 -435.5 -53.0 -440.5 -55.0 -445.3 -59.8 -450.0 -62.2 -450.0 -87.2Z" fill="url(#wedge)"/>
<path d="M-450.8 -87.4 -450.8 -62.4 -446.1 -60.1 -441.3 -55.7 -436.3 -52.7 -431.1 -49.1 -425.6 -43.6 -419.6 -36.7 -413.2 -28.5 -406.3 -19.4 -398.8 -9.7 -390.8 -0.0 -382.2 7.7 -373.1 16.2 -363.4 24.8 -353.2 33.0 -342.6 40.3 -331.5 46.2 -320.1 50.1 -308.5 51.8 -296.7 50.9 -284.8 46.3 -284.8 71.3 -283.4 69.9 -283.4 44.9 -295.3 50.5 -307.1 51.6 -318.7 50.0 -330.1 46.1 -341.2 40.3 -351.8 33.1 -362.0 24.9 -371.7 16.3 -380.8 7.8 -389.4 -0.0 -397.4 -9.7 -404.9 -19.3 -411.8 -28.5 -418.2 -36.8 -424.2 -43.8 -429.7 -49.3 -434.9 -53.1 -439.9 -54.4 -444.7 -59.5 -449.4 -62.0 -449.4 -87.0Z" fill="#5a5a5a"/>
<path d="M-385.0 -83.9 -385.0 -58.9 -380.1 -58.1 -375.2 -57.9 -370.1 -55.5 -364.7 -51.4 -359.0 -45.6 -352.9 -38.4 -346.3 -29.9 -339.3 -20.5 -331.7 -10.4 -323.5 -0.0 -314.8 8.7 -305.5 16.6 -295.6 23.3 -285.3 27.4 -274.5 34.5 -263.3 41.7 -251.8 47.0 -240.0 49.8 -228.0 49.7 -216.0 46.6 -216.0 71.6 -214.0 73.1 -214.0 48.1 -225.9 49.1 -237.7 49.5 -249.3 47.0 -260.7 42.0 -271.8 35.1 -282.4 26.4 -292.6 22.8 -302.3 16.4 -311.4 8.6 -320.0 -0.0 -328.0 -10.4 -335.5 -20.5 -342.4 -30.0 -348.8 -38.6 -354.8 -46.0 -360.3 -52.0 -365.5 -56.4 -370.5 -59.1 -375.3 -60.1 -380.0 -58.9 -380.0 -83.9Z" fill="url(#wedge)"/>
<path d="M-380.8 -83.4 -380.8 -58.4 -376.1 -59.8 -371.3 -59.0 -366.3 -56.3 -361.1 -51.9 -355.6 -45.9 -349.6 -38.6 -343.2 -30.0 -336.3 -20.5 -328.8 -10.4 -320.8 -0.0 -312.2 8.6 -303.1 16.5 -293.4 22.9 -283.2 26.2 -272.6 35.0 -261.5 41.9 -250.1 47.0 -238.5 49.6 -226.7 49.3 -214.8 47.6 -214.8 72.6 -213.4 73.5 -213.4 48.5 -225.3 48.9 -237.1 49.5 -248.7 47.0 -260.1 42.1 -271.2 35.2 -281.8 26.7 -292.0 22.7 -301.7 16.4 -310.8 8.6 -319.4 -0.0 -327.4 -10.3 -334.9 -20.5 -341.8 -30.0 -348.2 -38.6 -354.2 -46.1 -359.7 -52.1 -364.9 -56.5 -369.9 -59.3 -374.7 -60.3 -379.4 -59.2 -379.4 -84.2Z" fill="#5a5a5a"/>
<path d="M-335.0 -91.3 -335.0 -66.3 -330.1 -65.4 -325.2 -62.8 -320.1 -58.5 -314.7 -52.7 -309.0 -45.5 -302.9 -37.1 -296.3 -28.0 -289.3 -18.4 -281.7 -9.0 -273.5 -0.0 -264.8 8.0 -255.5 16.2 -245.6 23.9 -235.3 30.4 -224.5 34.8 -213.3 39.2 -201.8 47.4 -190.0 53.4 -178.0 57.2 -166.0 58.6 -166.0 83.6 -164.0 83.7 -164.0 58.7 -175.9 57.4 -187.7 53.8 -199.3 48.0 -210.7 40.3 -221.8 34.2 -232.4 30.1 -242.6 23.9 -252.3 16.3 -261.4 8.1 -270.0 -0.0 -278.0 -9.2 -285.5 -17.8 -292.4 -27.5 -298.8 -36.6 -304.8 -44.9 -310.3 -52.2 -315.5 -58.1 -320.5 -62.5 -325.3 -65.2 -330.0 -66.2 -330.0 -91.2Z" fill="url(#wedge)"/>
<path d="M-330.8 -91.3 -330.8 -66.3 -326.1 -65.3 -321.3 -62.5 -316.3 -58.2 -311.1 -52.3 -305.6 -45.0 -299.6 -36.7 -293.2 -27.6 -286.3 -17.9 -278.8 -9.2 -270.8 -0.0 -262.2 8.1 -253.1 16.3 -243.4 23.9 -233.2 30.2 -222.6 34.4 -211.5 40.0 -200.1 47.8 -188.5 53.6 -176.7 57.3 -164.8 58.6 -164.8 83.6 -163.4 83.7 -163.4 58.7 -175.3 57.5 -187.1 53.9 -198.7 48.2 -210.1 40.5 -221.2 34.0 -231.8 30.1 -242.0 23.8 -251.7 16.3 -260.8 8.1 -269.4 -0.0 -277.4 -9.3 -284.9 -17.7 -291.8 -27.4 -298.2 -36.5 -304.2 -44.9 -309.7 -52.1 -314.9 -58.0 -319.9 -62.4 -324.7 -65.2 -329.4 -66.2 -329.4 -91.2Z" fill="#5a5a5a"/>
<path d="M-289.0 -84.3 -289.0 -59.3 -284.1 -55.7 -279.2 -55.8 -274.1 -53.5 -268.7 -49.3 -263.0 -43.6 -256.9 -36.5 -250.3 -28.3 -243.3 -19.2 -235.7 -9.6 -227.5 -0.0 -218.8 7.3 -209.5 15.6 -199.6 24.4 -189.3 33.1 -178.5 40.9 -167.3 47.4 -155.8 52.0 -144.0 54.4 -132.0 54.1 -120.0 50.5 -120.0 75.5 -118.0 74.3 -118.0 49.3 -129.9 53.5 -141.7 54.1 -153.3 51.9 -164.7 47.4 -175.8 41.1 -186.4 33.4 -196.6 24.8 -206.3 16.0 -215.4 7.4 -224.0 -0.0 -232.0 -9.5 -239.5 -19.1 -246.4 -28.2 -252.8 -36.6 -258.8 -43.9 -264.3 -49.8 -269.5 -54.2 -274.5 -57.0 -279.3 -57.9 -284.0 -56.0 -284.0 -81.0Z" fill="url(#wedge)"/>
<path d="M-284.8 -82.1 -284.8 -57.1 -280.1 -57.7 -275.3 -56.8 -270.3 -54.1 -265.1 -49.7 -259.6 -43.8 -253.6 -36.6 -247.2 -28.2 -240.3 -19.1 -232.8 -9.5 -224.8 -0.0 -216.2 7.3 -207.1 15.9 -197.4 24.7 -187.2 33.3 -176.6 41.1 -165.5 47.4 -154.1 52.0 -142.5 54.2 -130.7 53.8 -118.8 49.9 -118.8 74.9 -117.4 73.9 -117.4 48.9 -129.3 53.4 -141.1 54.0 -152.7 51.9 -164.1 47.4 -175.2 41.1 -185.8 33.4 -196.0 24.9 -205.7 16.0 -214.8 7.4 -223.4 -0.0 -231.4 -9.5 -238.9 -19.0 -245.8 -28.2 -252.2 -36.6 -258.2 -43.9 -263.7 -49.8 -268.9 -54.3 -273.9 -57.1 -278.7 -58.1 -283.4 -56.8 -283.4 -81.8Z" fill="#5a5a5a"/>
<path d="M-217.0 -82.0 -217.0 -57.0 -214.9 -55.5 -211.3 -52.3 -206.4 -51.0 -200.0 -47.7 -192.4 -42.6 -183.7 -36.0 -173.9 -28.1 -163.3 -19.1 -152.1 -9.6 -140.5 -0.0 -128.7 8.4 -116.9 15.0 -105.3 23.8 -94.3 32.1 -83.9 39.1 -74.4 44.4 -65.9 47.7 -58.6 49.2 -52.6 48.7 -48.0 49.4 -48.0 74.4 -46.0 75.8 -46.0 50.8 -50.5 47.2 -56.3 48.5 -63.4 47.3 -71.8 44.1 -81.1 39.1 -91.4 32.2 -102.3 24.1 -113.7 15.2 -125.3 8.3 -137.0 -0.0 -148.5 -9.5 -159.5 -19.0 -170.0 -28.1 -179.6 -36.2 -188.2 -43.0 -195.6 -48.4 -201.8 -52.2 -206.6 -54.4 -210.0 -55.1 -212.0 -54.0 -212.0 -79.0Z" fill="url(#wedge)"/>
<path d="M-212.8 -80.0 -212.8 -55.0 -210.8 -54.7 -207.4 -54.1 -202.6 -52.0 -196.4 -48.2 -189.0 -42.9 -180.4 -36.2 -170.8 -28.1 -160.3 -19.1 -149.3 -9.5 -137.8 -0.0 -126.1 8.3 -114.5 15.1 -103.1 24.0 -92.2 32.2 -81.9 39.1 -72.6 44.2 -64.2 47.4 -57.1 48.7 -51.3 47.9 -46.8 50.3 -46.8 75.3 -45.4 76.2 -45.4 51.2 -49.9 46.8 -55.7 48.3 -62.8 47.1 -71.2 44.1 -80.5 39.0 -90.8 32.3 -101.7 24.2 -113.1 15.3 -124.7 8.2 -136.4 -0.0 -147.9 -9.5 -158.9 -19.0 -169.4 -28.1 -179.0 -36.2 -187.6 -43.1 -195.0 -48.4 -201.2 -52.3 -206.0 -54.6 -209.4 -55.4 -211.4 -54.9 -211.4 -79.9Z" fill="#5a5a5a"/>
<path d="M-163.0 -86.8 -163.0 -61.8 -158.1 -60.8 -153.2 -58.2 -148.1 -54.0 -142.7 -48.5 -137.0 -41.7 -130.9 -34.0 -124.3 -25.5 -117.3 -16.7 -109.7 -8.0 -101.5 -0.0 -92.8 8.6 -83.5 17.1 -73.6 24.9 -63.3 31.2 -52.5 34.9 -41.3 43.4 -29.8 52.3 -18.0 58.9 -6.0 62.5 6.0 61.8 6.0 86.8 8.0 86.0 8.0 61.0 -3.9 62.6 -15.7 59.3 -27.3 53.0 -38.7 44.4 -49.8 33.6 -60.4 30.7 -70.6 24.7 -80.3 17.1 -89.4 8.6 -98.0 -0.0 -106.0 -7.5 -113.5 -16.3 -120.4 -25.0 -126.8 -33.4 -132.8 -41.1 -138.3 -47.9 -143.5 -53.5 -148.5 -57.7 -153.3 -60.4 -158.0 -61.5 -158.0 -86.5Z" fill="url(#wedge)"/>
<path d="M-158.8 -86.6 -158.8 -61.6 -154.1 -60.5 -149.3 -57.8 -144.3 -53.6 -139.1 -48.0 -133.6 -41.2 -127.6 -33.5 -121.2 -25.1 -114.3 -16.4 -106.8 -7.7 -98.8 -0.0 -90.2 8.6 -81.1 17.1 -71.4 24.7 -61.2 30.9 -50.6 33.9 -39.5 44.1 -28.1 52.8 -16.5 59.1 -4.7 62.6 7.2 61.0 7.2 86.0 8.6 86.0 8.6 61.0 -3.3 62.6 -15.1 59.4 -26.7 53.2 -38.1 44.7 -49.2 34.2 -59.8 30.6 -70.0 24.6 -79.7 17.1 -88.8 8.6 -97.4 -0.0 -105.4 -7.6 -112.9 -16.2 -119.8 -24.9 -126.2 -33.3 -132.2 -41.0 -137.7 -47.8 -142.9 -53.4 -147.9 -57.7 -152.7 -60.4 -157.4 -61.5 -157.4 -86.5Z" fill="#5a5a5a"/>
<path d="M-111.0 -76.6 -111.0 -51.6 -106.1 -47.8 -101.2 -48.4 -96.1 -46.7 -90.7 -43.4 -85.0 -38.6 -78.9 -32.5 -72.3 -25.2 -65.3 -17.1 -57.7 -8.6 -49.5 -0.0 -40.8 8.4 -31.5 17.9 -21.6 27.7 -11.3 37.0 -0.5 44.7 10.7 49.4 22.2 54.4 34.0 58.0 46.0 60.2 58.0 61.0 58.0 86.0 60.0 86.0 60.0 61.0 48.1 60.2 36.3 58.0 24.7 54.4 13.3 49.4 2.2 44.5 -8.4 37.1 -18.6 28.0 -28.3 18.3 -37.4 8.7 -46.0 -0.0 -54.0 -8.5 -61.5 -17.0 -68.4 -25.2 -74.8 -32.7 -80.8 -39.0 -86.3 -44.1 -91.5 -47.7 -96.5 -49.8 -101.3 -50.2 -106.0 -48.0 -106.0 -73.0Z" fill="url(#wedge)"/>
<path d="M-106.8 -74.2 -106.8 -49.2 -102.1 -49.9 -97.3 -49.5 -92.3 -47.5 -87.1 -44.0 -81.6 -38.9 -75.6 -32.6 -69.2 -25.2 -62.3 -17.1 -54.8 -8.5 -46.8 -0.0 -38.2 8.6 -29.1 18.2 -19.4 28.0 -9.2 37.1 1.4 44.6 12.5 49.4 23.9 54.4 35.5 58.0 47.3 60.2 59.2 61.0 59.2 86.0 60.6 86.0 60.6 61.0 48.7 60.2 36.9 58.0 25.3 54.4 13.9 49.4 2.8 44.4 -7.8 37.2 -18.0 28.1 -27.7 18.3 -36.8 8.7 -45.4 -0.0 -53.4 -8.4 -60.9 -17.0 -67.8 -25.2 -74.2 -32.7 -80.2 -39.0 -85.7 -44.1 -90.9 -47.8 -95.9 -49.9 -100.7 -50.4 -105.4 -48.8 -105.4 -73.8Z" fill="#5a5a5a"/>
<path d="M-51.0 -78.4 -51.0 -53.4 -48.9 -52.1 -45.3 -49.3 -40.4 -48.7 -34.0 -46.3 -26.4 -42.1 -17.7 -36.0 -7.9 -28.1 2.7 -18.7 13.9 -9.5 25.5 -0.0 37.3 9.5 49.1 18.9 60.7 27.7 71.7 35.9 82.1 43.1 91.6 49.4 100.1 54.4 107.4 58.0 113.4 60.2 118.0 61.0 118.0 86.0 120.0 86.0 120.0 61.0 115.5 60.2 109.7 58.0 102.6 54.4 94.2 49.4 84.9 43.1 74.6 35.9 63.7 27.7 52.3 18.9 40.7 9.5 29.0 -0.0 17.5 -9.5 6.5 -18.7 -4.0 -28.0 -13.6 -36.3 -22.2 -42.8 -29.6 -47.5 -35.8 -50.4 -40.6 -51.9 -44.0 -52.1 -46.0 -51.0 -46.0 -76.0Z" fill="url(#wedge)"/>
<path d="M-46.8 -76.9 -46.8 -51.9 -44.8 -51.6 -41.4 -51.5 -36.6 -50.2 -30.4 -47.3 -23.0 -42.7 -14.4 -36.2 -4.8 -28.1 5.7 -18.7 16.7 -9.5 28.2 -0.0 39.9 9.5 51.5 18.9 62.9 27.7 73.8 35.9 84.1 43.1 93.4 49.4 101.8 54.4 108.9 58.0 114.7 60.2 119.2 61.0 119.2 86.0 120.6 86.0 120.6 61.0 116.1 60.2 110.3 58.0 103.2 54.4 94.8 49.4 85.5 43.1 75.2 35.9 64.3 27.7 52.9 18.9 41.3 9.5 29.6 -0.0 18.1 -9.5 7.1 -18.7 -3.4 -28.0 -13.0 -36.3 -21.6 -42.9 -29.0 -47.6 -35.2 -50.6 -40.0 -52.2 -43.4 -52.5 -45.4 -51.8 -45.4 -76.8Z" fill="#5a5a5a"/>
<path d="M-1.0 -86.2 -1.0 -61.2 3.9 -59.8 8.8 -57.5 13.9 -53.9 19.3 -48.9 25.0 -42.8 31.1 -35.6 37.7 -27.5 44.7 -18.7 52.3 -9.5 60.5 -0.0 69.2 9.5 78.5 18.9 88.4 27.7 98.7 35.9 109.5 43.1 120.7 49.4 132.2 54.4 144.0 58.0 156.0 60.2 168.0 61.0 168.0 86.0 170.0 86.0 170.0 61.0 158.1 60.2 146.3 58.0 134.7 54.4 123.3 49.4 112.2 43.1 101.6 35.9 91.4 27.7 81.7 18.9 72.6 9.5 64.0 -0.0 56.0 -9.5 48.5 -18.7 41.6 -27.5 35.2 -35.6 29.2 -42.8 23.7 -48.9 18.5 -53.9 13.5 -57.5 8.7 -59.8 4.0 -60.5 4.0 -85.5Z" fill="url(#wedge)"/>
<path d="M3.2 -85.5 3.2 -60.5 7.9 -59.8 12.7 -57.5 17.7 -53.9 22.9 -48.9 28.4 -42.8 34.4 -35.6 40.8 -27.5 47.7 -18.7 55.2 -9.5 63.2 -0.0 71.8 9.5 80.9 18.9 90.6 27.7 100.8 35.9 111.4 43.1 122.5 49.4 133.9 54.4 145.5 58.0 157.3 60.2 169.2 61.0 169.2 86.0 170.6 86.0 170.6 61.0 158.7 60.2 146.9 58.0 135.3 54.4 123.9 49.4 112.8 43.1 102.2 35.9 92.0 27.7 82.3 18.9 73.2 9.5 64.6 -0.0 56.6 -9.5 49.1 -18.7 42.2 -27.5 35.8 -35.6 29.8 -42.8 24.3 -48.9 19.1 -53.9 14.1 -57.5 9.3 -59.8 4.6 -60.5 4.6 -85.5Z" fill="#5a5a5a"/>
<path d="M55.0 -85.5 55.0 -60.5 59.9 -59.8 64.8 -57.5 69.9 -53.9 75.3 -48.9 81.0 -42.8 87.1 -35.6 93.7 -27.5 100.7 -18.7 108.3 -9.5 116.5 -0.0 125.2 9.5 134.5 18.9 144.4 27.7 154.7 35.9 165.5 43.1 176.7 49.4 188.2 54.4 200.0 58.0 212.0 60.2 224.0 61.0 224.0 86.0 226.0 86.0 226.0 61.0 214.1 60.2 202.3 58.0 190.7 54.4 179.3 49.4 168.2 43.1 157.6 35.9 147.4 27.7 137.7 18.9 128.6 9.5 120.0 -0.0 112.0 -9.5 104.5 -18.7 97.6 -27.5 91.2 -35.6 85.2 -42.8 79.7 -48.9 74.5 -53.9 69.5 -57.5 64.7 -59.8 60.0 -60.5 60.0 -85.5Z" fill="url(#wedge)"/>
<path d="M59.2 -85.5 59.2 -60.5 63.9 -59.8 68.7 -57.5 73.7 -53.9 78.9 -48.9 84.4 -42.8 90.4 -35.6 96.8 -27.5 103.7 -18.7 111.2 -9.5 119.2 -0.0 127.8 9.5 136.9 18.9 146.6 27.7 156.8 35.9 167.4 43.1 178.5 49.4 189.9 54.4 201.5 58.0 213.3 60.2 225.2 61.0 225.2 86.0 226.6 86.0 226.6 61.0 214.7 60.2 202.9 58.0 191.3 54.4 179.9 49.4 168.8 43.1 158.2 35.9 148.0 27.7 138.3 18.9 129.2 9.5 120.6 -0.0 112.6 -9.5 105.1 -18.7 98.2 -27.5 91.8 -35.6 85.8 -42.8 80.3 -48.9 75.1 -53.9 70.1 -57.5 65.3 -59.8 60.6 -60.5 60.6 -85.5Z" fill="#5a5a5a"/>
<path d="M115.0 -85.5 115.0 -60.5 119.9 -59.8 124.8 -57.5 129.9 -53.9 135.3 -48.9 141.0 -42.8 147.1 -35.6 153.7 -27.5 160.7 -18.7 168.3 -9.5 176.5 -0.0 185.2 9.5 194.5 18.9 204.4 27.7 214.7 35.9 225.5 43.1 236.7 49.4 248.2 54.4 260.0 58.0 272.0 60.2 284.0 61.0 284.0 86.0 286.0 86.0 286.0 61.0 274.1 60.2 262.3 58.0 250.7 54.4 239.3 49.4 228.2 43.1 217.6 35.9 207.4 27.7 197.7 18.9 188.6 9.5 180.0 -0.0 172.0 -9.5 164.5 -18.7 157.6 -27.5 151.2 -35.6 145.2 -42.8 139.7 -48.9 134.5 -53.9 129.5 -57.5 124.7 -59.8 120.0 -60.5 120.0 -85.5Z" fill="url(#wedge)"/>
<path d="M119.2 -85.5 119.2 -60.5 123.9 -59.8 128.7 -57.5 133.7 -53.9 138.9 -48.9 144.4 -42.8 150.4 -35.6 156.8 -27.5 163.7 -18.7 171.2 -9.5 179.2 -0.0 187.8 9.5 196.9 18.9 206.6 27.7 216.8 35.9 227.4 43.1 238.5 49.4 249.9 54.4 261.5 58.0 273.3 60.2 285.2 61.0 285.2 86.0 286.6 86.0 286.6 61.0 274.7 60.2 262.9 58.0 251.3 54.4 239.9 49.4 228.8 43.1 218.2 35.9 208.0 27.7 198.3 18.9 189.2 9.5 180.6 -0.0 172.6 -9.5 165.1 -18.7 158.2 -27.5 151.8 -35.6 145.8 -42.8 140.3 -48.9 135.1 -53.9 130.1 -57.5 125.3 -59.8 120.6 -60.5 120.6 -85.5Z" fill="#5a5a5a"/>
<path d="M-116.0 47.0 -113.2 50.3 -110.5 52.0 -107.8 53.3 -105.0 54.4 -102.2 55.4 -99.5 56.1 -96.8 56.8 -94.0 57.3 -91.2 57.7 -88.5 58.0 -85.8 58.2 -83.0 58.2 -80.2 58.2 -77.5 58.0 -74.8 57.7 -72.0 57.3 -69.2 56.8 -66.5 56.1 -63.8 55.4 -61.0 54.4 -58.2 53.3 -55.5 52.0 -52.8 50.3 -50.0 47.0 -50.0 47.0 -52.8 45.6 -55.5 44.5 -58.2 43.5 -61.0 42.6 -63.8 41.8 -66.5 41.1 -69.2 40.6 -72.0 40.1 -74.8 39.7 -77.5 39.5 -80.2 39.3 -83.0 39.2 -85.8 39.3 -88.5 39.5 -91.2 39.7 -94.0 40.1 -96.8 40.6 -99.5 41.1 -102.2 41.8 -105.0 42.6 -107.8 43.5 -110.5 44.5 -113.2 45.6 -116.0 47.0Z" fill="url(#rimlo)"/>
<path d="M-217.0 45.0 -212.8 49.7 -208.6 52.1 -204.4 54.0 -200.2 55.6 -196.0 57.0 -191.8 58.2 -187.5 59.2 -183.3 60.0 -179.1 60.7 -174.9 61.1 -170.7 61.5 -166.5 61.6 -162.3 61.6 -158.1 61.5 -153.9 61.2 -149.7 60.7 -145.5 60.0 -141.2 59.2 -137.0 58.2 -132.8 57.0 -128.6 55.5 -124.4 53.8 -120.2 51.5 -116.0 47.0 -116.0 47.0 -120.2 46.8 -124.4 46.2 -128.6 45.7 -132.8 45.1 -137.0 44.7 -141.2 44.2 -145.5 43.8 -149.7 43.4 -153.9 43.2 -158.1 42.9 -162.3 42.7 -166.5 42.6 -170.7 42.6 -174.9 42.6 -179.1 42.7 -183.3 42.8 -187.5 43.0 -191.8 43.2 -196.0 43.5 -200.2 43.8 -204.4 44.2 -208.6 44.6 -212.8 45.0 -217.0 45.0Z" fill="url(#rimlo)"/>
<path d="M-283.0 44.0 -280.2 47.4 -277.5 49.1 -274.8 50.4 -272.0 51.6 -269.2 52.6 -266.5 53.4 -263.8 54.1 -261.0 54.7 -258.2 55.1 -255.5 55.4 -252.8 55.7 -250.0 55.8 -247.2 55.7 -244.5 55.6 -241.8 55.4 -239.0 55.0 -236.2 54.5 -233.5 53.9 -230.8 53.1 -228.0 52.3 -225.2 51.2 -222.5 49.9 -219.8 48.3 -217.0 45.0 -217.0 45.0 -219.8 43.5 -222.5 42.4 -225.2 41.3 -228.0 40.4 -230.8 39.6 -233.5 38.9 -236.2 38.3 -239.0 37.8 -241.8 37.4 -244.5 37.0 -247.2 36.8 -250.0 36.8 -252.8 36.8 -255.5 36.9 -258.2 37.1 -261.0 37.4 -263.8 37.9 -266.5 38.4 -269.2 39.0 -272.0 39.8 -274.8 40.6 -277.5 41.5 -280.2 42.6 -283.0 44.0Z" fill="url(#rimlo)"/>
<path d="M-392.0 43.0 -387.5 47.9 -382.9 50.5 -378.4 52.5 -373.8 54.1 -369.3 55.6 -364.8 56.8 -360.2 57.8 -355.7 58.6 -351.1 59.2 -346.6 59.7 -342.0 60.0 -337.5 60.1 -333.0 60.1 -328.4 59.9 -323.9 59.5 -319.3 58.9 -314.8 58.2 -310.2 57.3 -305.7 56.1 -301.2 54.8 -296.6 53.2 -292.1 51.3 -287.5 48.9 -283.0 44.0 -283.0 44.0 -287.5 44.1 -292.1 43.8 -296.6 43.4 -301.2 43.0 -305.7 42.6 -310.2 42.3 -314.8 42.0 -319.3 41.7 -323.9 41.5 -328.4 41.3 -333.0 41.2 -337.5 41.1 -342.0 41.1 -346.6 41.1 -351.1 41.2 -355.7 41.4 -360.2 41.5 -364.8 41.8 -369.3 42.0 -373.8 42.3 -378.4 42.6 -382.9 42.9 -387.5 43.2 -392.0 43.0Z" fill="url(#rimlo)"/>
<path d="M-452.0 43.0 -449.5 46.1 -447.0 47.7 -444.5 48.9 -442.0 49.9 -439.5 50.8 -437.0 51.5 -434.5 52.1 -432.0 52.6 -429.5 53.0 -427.0 53.3 -424.5 53.4 -422.0 53.5 -419.5 53.4 -417.0 53.3 -414.5 53.0 -412.0 52.6 -409.5 52.1 -407.0 51.5 -404.5 50.8 -402.0 49.9 -399.5 48.9 -397.0 47.7 -394.5 46.1 -392.0 43.0 -392.0 43.0 -394.5 41.4 -397.0 40.1 -399.5 39.0 -402.0 38.1 -404.5 37.3 -407.0 36.5 -409.5 35.9 -412.0 35.4 -414.5 35.0 -417.0 34.7 -419.5 34.6 -422.0 34.5 -424.5 34.6 -427.0 34.7 -429.5 35.0 -432.0 35.4 -434.5 35.9 -437.0 36.5 -439.5 37.3 -442.0 38.1 -444.5 39.0 -447.0 40.1 -449.5 41.4 -452.0 43.0Z" fill="url(#rimlo)"/>
<path d="M-546.0 42.0 -542.1 46.4 -538.2 48.6 -534.2 50.4 -530.3 51.9 -526.4 53.2 -522.5 54.2 -518.6 55.1 -514.7 55.9 -510.8 56.4 -506.8 56.9 -502.9 57.1 -499.0 57.2 -495.1 57.2 -491.2 57.0 -487.2 56.7 -483.3 56.2 -479.4 55.5 -475.5 54.7 -471.6 53.7 -467.7 52.6 -463.8 51.2 -459.8 49.5 -455.9 47.3 -452.0 43.0 -452.0 43.0 -455.9 42.6 -459.8 41.9 -463.8 41.3 -467.7 40.7 -471.6 40.2 -475.5 39.7 -479.4 39.3 -483.3 39.0 -487.2 38.7 -491.2 38.5 -495.1 38.3 -499.0 38.2 -502.9 38.2 -506.8 38.3 -510.8 38.4 -514.7 38.6 -518.6 38.9 -522.5 39.2 -526.4 39.6 -530.3 40.1 -534.2 40.6 -538.2 41.1 -542.1 41.7 -546.0 42.0Z" fill="url(#rimlo)"/>
<path d="M-614.0 41.0 -611.2 44.4 -608.3 46.2 -605.5 47.6 -602.7 48.8 -599.8 49.7 -597.0 50.6 -594.2 51.3 -591.3 51.9 -588.5 52.3 -585.7 52.7 -582.8 52.9 -580.0 53.0 -577.2 53.0 -574.3 52.8 -571.5 52.6 -568.7 52.2 -565.8 51.7 -563.0 51.1 -560.2 50.3 -557.3 49.4 -554.5 48.3 -551.7 47.0 -548.8 45.3 -546.0 42.0 -546.0 42.0 -548.8 40.6 -551.7 39.5 -554.5 38.5 -557.3 37.6 -560.2 36.8 -563.0 36.1 -565.8 35.5 -568.7 35.0 -571.5 34.6 -574.3 34.3 -577.2 34.1 -580.0 34.0 -582.8 34.0 -585.7 34.1 -588.5 34.3 -591.3 34.7 -594.2 35.1 -597.0 35.6 -599.8 36.2 -602.7 36.9 -605.5 37.7 -608.3 38.6 -611.2 39.7 -614.0 41.0Z" fill="url(#rimlo)"/>
<path d="M-700.0 40.0 -696.4 44.1 -692.8 46.2 -689.2 47.9 -685.7 49.2 -682.1 50.4 -678.5 51.4 -674.9 52.3 -671.3 52.9 -667.8 53.5 -664.2 53.9 -660.6 54.1 -657.0 54.2 -653.4 54.2 -649.8 54.1 -646.2 53.7 -642.7 53.3 -639.1 52.7 -635.5 51.9 -631.9 51.0 -628.3 49.9 -624.8 48.6 -621.2 47.0 -617.6 45.0 -614.0 41.0 -614.0 41.0 -617.6 40.3 -621.2 39.5 -624.8 38.7 -628.3 38.1 -631.9 37.5 -635.5 36.9 -639.1 36.5 -642.7 36.1 -646.2 35.7 -649.8 35.5 -653.4 35.3 -657.0 35.2 -660.6 35.2 -664.2 35.3 -667.8 35.5 -671.3 35.7 -674.9 36.0 -678.5 36.4 -682.1 36.9 -685.7 37.4 -689.2 38.0 -692.8 38.6 -696.4 39.4 -700.0 40.0Z" fill="url(#rimlo)"/>
<path d="M-700.0 -60.0 -696.6 -63.3 -693.2 -64.9 -689.8 -66.2 -686.3 -67.2 -682.9 -68.1 -679.5 -68.8 -676.1 -69.5 -672.7 -69.9 -669.2 -70.3 -665.8 -70.6 -662.4 -70.7 -659.0 -70.7 -655.6 -70.6 -652.2 -70.4 -648.8 -70.1 -645.3 -69.6 -641.9 -69.0 -638.5 -68.3 -635.1 -67.5 -631.7 -66.6 -628.2 -65.4 -624.8 -64.1 -621.4 -62.3 -618.0 -59.0 -618.0 -59.0 -621.4 -58.1 -624.8 -57.3 -628.2 -56.6 -631.7 -56.0 -635.1 -55.4 -638.5 -54.9 -641.9 -54.5 -645.3 -54.2 -648.8 -53.9 -652.2 -53.8 -655.6 -53.7 -659.0 -53.7 -662.4 -53.8 -665.8 -54.0 -669.2 -54.2 -672.7 -54.5 -676.1 -54.9 -679.5 -55.4 -682.9 -56.0 -686.3 -56.6 -689.8 -57.3 -693.2 -58.1 -696.6 -59.0 -700.0 -60.0Z" fill="url(#rimup)"/>
<path d="M-618.0 -59.0 -615.0 -62.0 -612.0 -63.4 -609.0 -64.6 -606.0 -65.6 -603.0 -66.4 -600.0 -67.0 -597.0 -67.6 -594.0 -68.0 -591.0 -68.4 -588.0 -68.6 -585.0 -68.7 -582.0 -68.7 -579.0 -68.6 -576.0 -68.4 -573.0 -68.1 -570.0 -67.7 -567.0 -67.2 -564.0 -66.5 -561.0 -65.8 -558.0 -64.9 -555.0 -63.9 -552.0 -62.6 -549.0 -61.0 -546.0 -58.0 -546.0 -58.0 -549.0 -56.8 -552.0 -55.8 -555.0 -55.0 -558.0 -54.3 -561.0 -53.7 -564.0 -53.1 -567.0 -52.7 -570.0 -52.3 -573.0 -52.0 -576.0 -51.8 -579.0 -51.7 -582.0 -51.7 -585.0 -51.8 -588.0 -52.0 -591.0 -52.2 -594.0 -52.6 -597.0 -53.1 -600.0 -53.6 -603.0 -54.2 -606.0 -55.0 -609.0 -55.8 -612.0 -56.7 -615.0 -57.7 -618.0 -59.0Z" fill="url(#rimup)"/>
<path d="M-546.0 -58.0 -541.6 -62.0 -537.2 -64.0 -532.8 -65.5 -528.3 -66.8 -523.9 -67.9 -519.5 -68.8 -515.1 -69.5 -510.7 -70.1 -506.2 -70.6 -501.8 -70.9 -497.4 -71.1 -493.0 -71.1 -488.6 -71.0 -484.2 -70.7 -479.8 -70.3 -475.3 -69.8 -470.9 -69.1 -466.5 -68.3 -462.1 -67.3 -457.7 -66.1 -453.2 -64.8 -448.8 -63.1 -444.4 -61.0 -440.0 -57.0 -440.0 -57.0 -444.4 -56.8 -448.8 -56.4 -453.2 -55.9 -457.7 -55.5 -462.1 -55.2 -466.5 -54.9 -470.9 -54.6 -475.3 -54.4 -479.8 -54.2 -484.2 -54.1 -488.6 -54.1 -493.0 -54.1 -497.4 -54.2 -501.8 -54.3 -506.2 -54.5 -510.7 -54.7 -515.1 -55.0 -519.5 -55.4 -523.9 -55.8 -528.3 -56.2 -532.8 -56.7 -537.2 -57.2 -541.6 -57.7 -546.0 -58.0Z" fill="url(#rimup)"/>
<path d="M-440.0 -57.0 -437.6 -59.6 -435.2 -60.9 -432.8 -61.9 -430.3 -62.8 -427.9 -63.5 -425.5 -64.1 -423.1 -64.7 -420.7 -65.1 -418.2 -65.4 -415.8 -65.6 -413.4 -65.8 -411.0 -65.8 -408.6 -65.8 -406.2 -65.6 -403.8 -65.4 -401.3 -65.1 -398.9 -64.7 -396.5 -64.1 -394.1 -63.5 -391.7 -62.8 -389.2 -61.9 -386.8 -60.9 -384.4 -59.6 -382.0 -57.0 -382.0 -57.0 -384.4 -55.3 -386.8 -54.1 -389.2 -53.1 -391.7 -52.2 -394.1 -51.4 -396.5 -50.7 -398.9 -50.1 -401.3 -49.7 -403.8 -49.3 -406.2 -49.0 -408.6 -48.9 -411.0 -48.8 -413.4 -48.9 -415.8 -49.0 -418.2 -49.3 -420.7 -49.7 -423.1 -50.1 -425.5 -50.7 -427.9 -51.4 -430.3 -52.2 -432.8 -53.1 -435.2 -54.1 -437.6 -55.3 -440.0 -57.0Z" fill="url(#rimup)"/>
<path d="M-382.0 -57.0 -377.9 -60.7 -373.8 -62.6 -369.8 -64.1 -365.7 -65.3 -361.6 -66.3 -357.5 -67.1 -353.4 -67.8 -349.3 -68.4 -345.2 -68.8 -341.2 -69.1 -337.1 -69.3 -333.0 -69.3 -328.9 -69.2 -324.8 -69.0 -320.8 -68.6 -316.7 -68.1 -312.6 -67.4 -308.5 -66.6 -304.4 -65.7 -300.3 -64.6 -296.2 -63.3 -292.2 -61.8 -288.1 -59.8 -284.0 -56.0 -284.0 -56.0 -288.1 -55.6 -292.2 -55.0 -296.2 -54.5 -300.3 -54.0 -304.4 -53.6 -308.5 -53.2 -312.6 -52.9 -316.7 -52.7 -320.8 -52.5 -324.8 -52.4 -328.9 -52.3 -333.0 -52.3 -337.1 -52.4 -341.2 -52.5 -345.2 -52.7 -349.3 -53.0 -353.4 -53.3 -357.5 -53.7 -361.6 -54.2 -365.7 -54.7 -369.8 -55.2 -373.8 -55.8 -377.9 -56.5 -382.0 -57.0Z" fill="url(#rimup)"/>
<path d="M-284.0 -56.0 -281.0 -58.9 -278.0 -60.4 -275.0 -61.5 -272.0 -62.4 -269.0 -63.2 -266.0 -63.8 -263.0 -64.3 -260.0 -64.7 -257.0 -65.0 -254.0 -65.2 -251.0 -65.2 -248.0 -65.2 -245.0 -65.1 -242.0 -64.8 -239.0 -64.5 -236.0 -64.0 -233.0 -63.5 -230.0 -62.8 -227.0 -62.0 -224.0 -61.1 -221.0 -60.0 -218.0 -58.7 -215.0 -57.1 -212.0 -54.0 -212.0 -54.0 -215.0 -52.8 -218.0 -51.9 -221.0 -51.1 -224.0 -50.5 -227.0 -49.9 -230.0 -49.4 -233.0 -48.9 -236.0 -48.6 -239.0 -48.4 -242.0 -48.2 -245.0 -48.2 -248.0 -48.2 -251.0 -48.3 -254.0 -48.6 -257.0 -48.9 -260.0 -49.3 -263.0 -49.8 -266.0 -50.4 -269.0 -51.0 -272.0 -51.8 -275.0 -52.6 -278.0 -53.6 -281.0 -54.7 -284.0 -56.0Z" fill="url(#rimup)"/>
<path d="M-212.0 -54.0 -207.6 -57.8 -203.2 -59.5 -198.8 -60.9 -194.3 -62.0 -189.9 -62.8 -185.5 -63.5 -181.1 -64.1 -176.7 -64.5 -172.2 -64.7 -167.8 -64.8 -163.4 -64.8 -159.0 -64.6 -154.6 -64.3 -150.2 -63.8 -145.8 -63.2 -141.3 -62.5 -136.9 -61.6 -132.5 -60.5 -128.1 -59.3 -123.7 -58.0 -119.2 -56.4 -114.8 -54.5 -110.4 -52.3 -106.0 -48.0 -106.0 -48.0 -110.4 -48.0 -114.8 -47.8 -119.2 -47.6 -123.7 -47.4 -128.1 -47.2 -132.5 -47.1 -136.9 -47.1 -141.3 -47.1 -145.8 -47.1 -150.2 -47.2 -154.6 -47.4 -159.0 -47.6 -163.4 -47.9 -167.8 -48.2 -172.2 -48.6 -176.7 -49.1 -181.1 -49.6 -185.5 -50.1 -189.9 -50.7 -194.3 -51.4 -198.8 -52.1 -203.2 -52.8 -207.6 -53.5 -212.0 -54.0Z" fill="url(#rimup)"/>
<path d="M-106.0 -48.0 -103.5 -50.8 -101.0 -52.2 -98.5 -53.4 -96.0 -54.4 -93.5 -55.3 -91.0 -56.1 -88.5 -56.7 -86.0 -57.3 -83.5 -57.7 -81.0 -58.1 -78.5 -58.3 -76.0 -58.5 -73.5 -58.6 -71.0 -58.6 -68.5 -58.5 -66.0 -58.3 -63.5 -58.0 -61.0 -57.6 -58.5 -57.1 -56.0 -56.4 -53.5 -55.7 -51.0 -54.7 -48.5 -53.5 -46.0 -51.0 -46.0 -51.0 -48.5 -49.3 -51.0 -48.0 -53.5 -46.8 -56.0 -45.8 -58.5 -44.9 -61.0 -44.1 -63.5 -43.4 -66.0 -42.8 -68.5 -42.4 -71.0 -42.0 -73.5 -41.7 -76.0 -41.5 -78.5 -41.4 -81.0 -41.5 -83.5 -41.6 -86.0 -41.8 -88.5 -42.2 -91.0 -42.6 -93.5 -43.2 -96.0 -43.8 -98.5 -44.6 -101.0 -45.5 -103.5 -46.5 -106.0 -48.0Z" fill="url(#rimup)"/>
<path d="M-46.0 -51.0 -44.1 -53.6 -42.2 -55.2 -40.2 -56.5 -38.3 -57.6 -36.4 -58.6 -34.5 -59.5 -32.6 -60.4 -30.7 -61.1 -28.8 -61.8 -26.8 -62.4 -24.9 -62.9 -23.0 -63.4 -21.1 -63.7 -19.2 -64.0 -17.2 -64.2 -15.3 -64.3 -13.4 -64.3 -11.5 -64.3 -9.6 -64.2 -7.7 -63.9 -5.8 -63.6 -3.8 -63.1 -1.9 -62.3 0.0 -60.5 0.0 -60.5 -1.9 -58.1 -3.8 -56.3 -5.8 -54.8 -7.7 -53.3 -9.6 -52.0 -11.5 -50.9 -13.4 -49.8 -15.3 -48.9 -17.2 -48.1 -19.2 -47.4 -21.1 -46.8 -23.0 -46.4 -24.9 -46.0 -26.8 -45.8 -28.8 -45.7 -30.7 -45.7 -32.6 -45.9 -34.5 -46.1 -36.4 -46.5 -38.3 -47.0 -40.2 -47.6 -42.2 -48.4 -44.1 -49.4 -46.0 -51.0Z" fill="url(#rimup)"/>
</g>
</g>
<path d="M424.0,344.0 L451.2,372.5 L427.8,436.2 L366.9,461.0 L336.9,434.4Z" fill="#d2d2d2"/>
<path d="M297.0,236.0 L310.0,238.0 L322.0,244.0 L332.0,253.0 L339.0,263.0 L345.0,275.0 L316.0,289.0 L306.0,272.0 L300.0,252.0Z" fill="url(#lobeg)"/>
<path d="M312.0,276.0 L339.0,266.0 L420.0,342.0 L450.0,372.0 L444.0,408.0 L316.0,289.0Z" fill="#adadad" filter="url(#grain)"/>
<path d="M298,236.5 Q322,242 337,264 L421,344" stroke="#5c5c5c" stroke-width="3.4" fill="none"/>
<path d="M316,289.5 L444,408.5" stroke="#6a6a6a" stroke-width="1.5" fill="none"/>
<path d="M313,275 Q322,282 331,288" stroke="#7a7a7a" stroke-width="1.2" fill="none"/>
<path d="M227.0,302.0 L231.0,316.0 L238.0,329.0 L248.0,342.0 L257.0,351.0 L284.0,333.0 L268.0,325.0 L250.0,315.0 L236.0,307.0Z" fill="url(#lobeg2)"/>
<path d="M257.0,351.0 L366.0,457.0 L404.0,446.0 L380.0,418.0 L282.0,330.0 L270.0,330.0Z" fill="#aaaaaa" filter="url(#grain)"/>
<path d="M228,304 Q234,334 258,352 L367,458" stroke="#5c5c5c" stroke-width="3.6" fill="none"/>
<path d="M282,331 L384,428" stroke="#6a6a6a" stroke-width="1.5" fill="none"/>
<path d="M419.0,342.0 L428.0,337.5 L460.6,370.6 L459.7,374.4 L432.5,441.5 L365.0,470.5 L327.5,436.0 L329.5,432.0 L336.0,433.5 L367.0,461.0 L428.0,436.0 L450.0,373.0 L420.0,344.0Z" fill="#c2b28c"/>
<path d="M420.0,342.0 L428.0,339.5 L457.5,370.5 L456.5,373.5 L430.5,439.0 L365.5,467.0 L330.0,435.0 L331.0,433.0 L336.0,433.5 L367.0,461.0 L428.0,436.0 L450.0,373.0 L420.0,344.0Z" fill="#d4c07c" filter="url(#grainG)"/>
<path d="M374.0,382.0 L387.0,377.0 L430.0,405.0 L437.0,420.0 L432.0,438.0 L414.0,443.0 L400.0,440.0 L376.0,419.0 L366.0,410.0 L362.0,397.0 L366.0,387.0Z M376.9,397.8 L388.0,386.0 L416.0,412.0 L417.5,420.0 L412.0,426.0 L404.0,425.6Z" fill="#d3b874" fill-rule="evenodd" filter="url(#grainG)"/>
<path d="M414.0,402.0 L430.0,405.0 L437.0,420.0 L432.0,438.0 L414.0,443.0 L408.0,433.0 L417.5,420.0 L416.0,412.0Z" fill="#e4dccb" opacity="0.8"/>
<path d="M376.9,397.8 L388.0,386.0 L416.0,412.0 L417.5,420.0 L412.0,426.0 L404.0,425.6Z" fill="#c9d1d8"/>
<path d="M388.0,386.0 L416.0,412.0 L410.0,414.0 L382.0,390.0Z" fill="#dde2e4"/>
<path d="M416.0,412.0 L428.0,419.0 L428.0,434.0 L412.0,428.0 L417.5,420.0Z" fill="#d5d9da" opacity="0.9"/>
<g clip-path="url(#cl_concrete)">
<rect x="572.4" y="66.2" width="190" height="190" fill="url(#concg)" filter="url(#concf)"/>
<circle cx="602.3" cy="181.3" r="1.1" fill="#505050" opacity="0.44"/>
<circle cx="597.7" cy="157.8" r="0.6" fill="#505050" opacity="0.45"/>
<circle cx="611.9" cy="102.2" r="0.6" fill="#505050" opacity="0.39"/>
<circle cx="736.4" cy="205.4" r="1.0" fill="#505050" opacity="0.31"/>
<circle cx="756.2" cy="151.2" r="1.0" fill="#505050" opacity="0.48"/>
<circle cx="673.5" cy="170.5" r="0.9" fill="#505050" opacity="0.32"/>
<circle cx="683.8" cy="202.8" r="0.5" fill="#505050" opacity="0.44"/>
<circle cx="589.6" cy="191.7" r="0.9" fill="#505050" opacity="0.49"/>
<circle cx="593.3" cy="161.3" r="0.8" fill="#505050" opacity="0.38"/>
<circle cx="758.2" cy="159.8" r="1.1" fill="#505050" opacity="0.51"/>
<circle cx="650.0" cy="201.2" r="0.7" fill="#505050" opacity="0.32"/>
<circle cx="673.3" cy="103.9" r="1.1" fill="#505050" opacity="0.42"/>
<circle cx="748.3" cy="139.4" r="0.5" fill="#505050" opacity="0.36"/>
<circle cx="720.1" cy="127.9" r="1.2" fill="#505050" opacity="0.42"/>
<circle cx="732.1" cy="193.2" r="1.0" fill="#505050" opacity="0.38"/>
<circle cx="712.2" cy="188.5" r="1.2" fill="#505050" opacity="0.53"/>
<circle cx="700.7" cy="191.7" r="0.6" fill="#505050" opacity="0.32"/>
<circle cx="678.6" cy="124.5" r="0.9" fill="#505050" opacity="0.43"/>
<circle cx="695.7" cy="233.7" r="0.6" fill="#505050" opacity="0.49"/>
<circle cx="711.3" cy="200.7" r="0.6" fill="#505050" opacity="0.38"/>
<circle cx="747.6" cy="146.4" r="0.7" fill="#505050" opacity="0.57"/>
<circle cx="681.4" cy="216.6" r="1.1" fill="#505050" opacity="0.49"/>
<circle cx="740.5" cy="214.6" r="0.6" fill="#505050" opacity="0.38"/>
<circle cx="674.8" cy="109.5" r="0.7" fill="#505050" opacity="0.32"/>
<circle cx="726.0" cy="198.5" r="0.7" fill="#505050" opacity="0.48"/>
<circle cx="625.0" cy="205.4" r="1.2" fill="#505050" opacity="0.45"/>
<circle cx="591.8" cy="123.0" r="0.6" fill="#505050" opacity="0.35"/>
<circle cx="736.4" cy="116.4" r="0.7" fill="#505050" opacity="0.36"/>
<circle cx="661.5" cy="73.1" r="0.6" fill="#505050" opacity="0.59"/>
<circle cx="719.6" cy="113.5" r="0.8" fill="#505050" opacity="0.33"/>
<circle cx="754.1" cy="182.7" r="0.7" fill="#505050" opacity="0.51"/>
<circle cx="663.8" cy="243.7" r="0.9" fill="#505050" opacity="0.39"/>
<circle cx="702.3" cy="230.1" r="0.5" fill="#505050" opacity="0.37"/>
<circle cx="589.2" cy="130.6" r="0.9" fill="#505050" opacity="0.38"/>
<circle cx="703.1" cy="140.8" r="0.5" fill="#505050" opacity="0.38"/>
<circle cx="646.3" cy="168.7" r="0.6" fill="#505050" opacity="0.41"/>
<circle cx="637.7" cy="146.7" r="0.8" fill="#505050" opacity="0.57"/>
<circle cx="740.6" cy="152.2" r="1.0" fill="#505050" opacity="0.48"/>
<circle cx="678.2" cy="174.4" r="0.5" fill="#505050" opacity="0.57"/>
<circle cx="640.3" cy="76.1" r="0.5" fill="#505050" opacity="0.49"/>
<circle cx="590.1" cy="169.9" r="0.7" fill="#505050" opacity="0.60"/>
<circle cx="727.3" cy="191.8" r="1.0" fill="#505050" opacity="0.57"/>
<circle cx="661.2" cy="85.1" r="1.1" fill="#505050" opacity="0.57"/>
<circle cx="622.4" cy="221.6" r="1.1" fill="#505050" opacity="0.56"/>
<circle cx="597.2" cy="201.4" r="1.1" fill="#505050" opacity="0.47"/>
<circle cx="627.6" cy="121.4" r="0.9" fill="#505050" opacity="0.48"/>
<circle cx="731.1" cy="196.3" r="1.2" fill="#505050" opacity="0.56"/>
<circle cx="659.7" cy="105.0" r="1.0" fill="#505050" opacity="0.47"/>
<circle cx="589.8" cy="191.6" r="0.6" fill="#505050" opacity="0.53"/>
<circle cx="736.7" cy="174.3" r="0.8" fill="#505050" opacity="0.37"/>
<circle cx="646.9" cy="100.4" r="0.9" fill="#505050" opacity="0.58"/>
<circle cx="667.0" cy="170.9" r="0.7" fill="#505050" opacity="0.50"/>
<circle cx="678.4" cy="197.0" r="1.1" fill="#505050" opacity="0.50"/>
<circle cx="587.1" cy="191.9" r="0.7" fill="#505050" opacity="0.50"/>
<circle cx="686.4" cy="217.8" r="1.1" fill="#505050" opacity="0.57"/>
<circle cx="708.6" cy="122.6" r="0.9" fill="#505050" opacity="0.39"/>
<circle cx="709.4" cy="209.6" r="1.1" fill="#505050" opacity="0.55"/>
<circle cx="646.0" cy="75.1" r="0.7" fill="#505050" opacity="0.35"/>
<circle cx="621.9" cy="175.8" r="0.6" fill="#505050" opacity="0.42"/>
<circle cx="622.4" cy="115.8" r="0.7" fill="#505050" opacity="0.55"/>
<circle cx="728.2" cy="154.3" r="0.6" fill="#505050" opacity="0.31"/>
<circle cx="680.3" cy="147.9" r="1.0" fill="#505050" opacity="0.47"/>
<circle cx="638.1" cy="236.7" r="0.5" fill="#505050" opacity="0.34"/>
<circle cx="653.7" cy="165.2" r="1.1" fill="#505050" opacity="0.37"/>
<circle cx="679.9" cy="176.5" r="0.9" fill="#505050" opacity="0.43"/>
<circle cx="617.0" cy="107.5" r="1.1" fill="#505050" opacity="0.59"/>
<circle cx="651.1" cy="124.0" r="0.8" fill="#505050" opacity="0.35"/>
<circle cx="729.8" cy="165.4" r="1.0" fill="#505050" opacity="0.35"/>
<circle cx="659.9" cy="214.2" r="1.0" fill="#505050" opacity="0.46"/>
<circle cx="607.9" cy="109.1" r="0.8" fill="#505050" opacity="0.54"/>
<circle cx="704" cy="143" r="4.5" fill="#5a5a5a" opacity="0.5"/>
<circle cx="696" cy="177" r="2.5" fill="#5a5a5a" opacity="0.5"/>
<circle cx="715" cy="165" r="5.0" fill="#5a5a5a" opacity="0.5"/>
<circle cx="705" cy="153" r="3.0" fill="#5a5a5a" opacity="0.5"/>
<path d="M598.4,102.6 L609.8,105.1 L620.2,108.2 L631.9,112.9 L644.7,115.9 L655.6,120.0 L665.4,123.7 L675.2,126.6 L682.7,129.2 L690.0,132.8 L700.2,135.7 L710.3,140.1 L719.8,143.2 L730.4,147.5 L740.3,153.0 L750.3,159.3 L759.9,162.9" stroke="#1a1a1a" stroke-width="1.8" fill="none" stroke-linejoin="round"/>
<path d="M675.0,127.3 L682.8,128.4 L689.7,132.3 L700.4,136.2 L710.1,139.8 L720.0,143.7 L729.9,147.6" stroke="#101010" stroke-width="2.6" fill="none" stroke-linejoin="round"/>
<path d="M598.8,104.5 L610.1,107.1 L620.2,110.8 L632.6,114.1 L645.2,118.3 L655.2,121.8 L665.1,125.4 L675.2,128.8 L682.4,130.3 L690.2,134.6 L699.8,138.2 L709.9,141.6 L719.9,145.7 L730.2,149.0 L740.1,154.0 L750.1,160.4 L760.2,164.6" stroke="#c8c8c8" stroke-width="0.9" fill="none" opacity="0.6"/>
<path d="M621.3,238.6 L629.8,229.5 L635.6,225.7 L642.1,229.9 L652.6,232.1 L662.0,230.4 L674.8,223.1 L685.5,212.4 L695.0,205.0 L705.2,203.9 L712.6,201.4 L723.0,196.3 L732.4,192.8 L742.2,189.8 L755.6,187.0" stroke="#1a1a1a" stroke-width="1.8" fill="none" stroke-linejoin="round"/>
<path d="M630,229 Q640,224 650,232 Q642,235 630,232Z" fill="#151515"/>
<path d="M621.3,239.5 L629.9,231.8 L635.2,228.1 L642.6,231.5 L652.6,234.3 L662.6,231.7 L675.1,224.4 L684.7,214.0 L695.1,207.1 L704.9,205.5 L712.6,202.9 L722.4,197.9 L732.4,194.4 L742.4,191.7 L755.2,188.5" stroke="#c8c8c8" stroke-width="0.9" fill="none" opacity="0.6"/>
<path d="M596,217 Q615,195 632,185" stroke="#b8b8b8" stroke-width="1" fill="none" opacity="0.7"/>
<path d="M672,114 Q688,95 692,75" stroke="#b0b0b0" stroke-width="1" fill="none" opacity="0.6"/>
<path d="M660,108 Q675,92 680,80" stroke="#b0b0b0" stroke-width="0.8" fill="none" opacity="0.5"/>
</g>
<circle cx="667.4" cy="161.2" r="91.9" fill="none" stroke="#040404" stroke-width="2.7"/>
<g clip-path="url(#cl_stone)">
<rect x="551.7" y="332.5" width="190" height="190" fill="#4a525a"/>
<g filter="url(#stonef)"><g transform="translate(550,330) scale(0.24375)">
<path d="M261.5,42.4 L333.0,36.9 L338.5,97.4 L267.0,108.4Z" fill="#d6d6d2" stroke="#434b53" stroke-width="5.5" stroke-linejoin="round"/>
<path d="M339.5,31.5 L466.0,31.5 L471.5,97.5 L378.0,108.5 L345.0,81.0Z" fill="#dbd2bd" stroke="#434b53" stroke-width="5.5" stroke-linejoin="round"/>
<path d="M467.0,37.5 L533.0,43.0 L527.5,87.0 L472.5,92.5Z" fill="#c8cfd7" stroke="#434b53" stroke-width="5.5" stroke-linejoin="round"/>
<path d="M536.6,52.9 L613.6,85.9 L624.6,173.9 L558.6,190.4 L536.6,151.9Z" fill="#ddd6c4" stroke="#434b53" stroke-width="5.5" stroke-linejoin="round"/>
<path d="M622.9,106.8 L672.4,139.8 L666.9,161.8 L622.9,161.8Z" fill="#d2d6da" stroke="#434b53" stroke-width="5.5" stroke-linejoin="round"/>
<path d="M136.6,119.8 L191.6,97.8 L202.6,130.8 L164.1,141.8Z" fill="#d8ccb2" stroke="#434b53" stroke-width="5.5" stroke-linejoin="round"/>
<path d="M192.8,90.3 L258.8,95.8 L253.3,183.8 L198.3,189.3 L181.8,150.8Z" fill="#e0dcd2" stroke="#434b53" stroke-width="5.5" stroke-linejoin="round"/>
<path d="M258.7,111.5 L385.2,89.5 L401.7,183.0 L341.2,199.5 L253.2,166.5Z" fill="#c5ccd4" stroke="#434b53" stroke-width="5.5" stroke-linejoin="round"/>
<path d="M380.4,107.0 L462.9,112.5 L473.9,162.0 L407.9,178.5Z" fill="#d4ccba" stroke="#434b53" stroke-width="5.5" stroke-linejoin="round"/>
<path d="M472.4,88.9 L532.9,83.4 L538.4,204.4 L488.9,220.9 L472.4,182.4Z" fill="#d6d6d2" stroke="#434b53" stroke-width="5.5" stroke-linejoin="round"/>
<path d="M536.2,188.0 L618.8,182.5 L602.2,237.5 L552.8,232.0Z" fill="#dbd2bd" stroke="#434b53" stroke-width="5.5" stroke-linejoin="round"/>
<path d="M617.1,166.7 L683.1,161.2 L694.1,227.2 L639.1,243.7 L611.6,216.2Z" fill="#c8cfd7" stroke="#434b53" stroke-width="5.5" stroke-linejoin="round"/>
<path d="M52.6,219.6 L107.6,153.6 L173.6,131.6 L206.6,175.6 L201.1,285.6 L140.6,307.6 L52.6,296.6Z" fill="#ddd6c4" stroke="#434b53" stroke-width="5.5" stroke-linejoin="round"/>
<path d="M203.0,190.3 L291.0,173.8 L351.5,206.8 L335.0,305.8 L291.0,322.3 L208.5,250.8Z" fill="#d2d6da" stroke="#434b53" stroke-width="5.5" stroke-linejoin="round"/>
<path d="M354.2,208.0 L420.2,186.0 L475.2,197.0 L480.8,268.5 L420.2,274.0 L354.2,246.5Z" fill="#d8ccb2" stroke="#434b53" stroke-width="5.5" stroke-linejoin="round"/>
<path d="M481.1,223.2 L558.1,212.2 L569.1,261.8 L486.6,272.8Z" fill="#e0dcd2" stroke="#434b53" stroke-width="5.5" stroke-linejoin="round"/>
<path d="M570.8,233.8 L653.3,233.8 L664.3,299.8 L653.3,365.8 L587.3,371.2 L570.8,310.8Z" fill="#c5ccd4" stroke="#434b53" stroke-width="5.5" stroke-linejoin="round"/>
<path d="M666.0,228.7 L721.0,212.2 L765.0,300.2 L776.0,371.7 L677.0,377.2 L655.0,300.2Z" fill="#d4ccba" stroke="#434b53" stroke-width="5.5" stroke-linejoin="round"/>
<path d="M22.3,296.8 L71.8,274.8 L82.8,329.8 L60.8,373.8 L22.3,384.8Z" fill="#d6d6d2" stroke="#434b53" stroke-width="5.5" stroke-linejoin="round"/>
<path d="M167.8,278.1 L217.3,261.6 L222.8,316.6 L189.8,333.1 L162.3,305.6Z" fill="#dbd2bd" stroke="#434b53" stroke-width="5.5" stroke-linejoin="round"/>
<path d="M65.9,315.1 L131.9,293.1 L170.4,326.1 L164.9,414.1 L120.9,436.1 L65.9,425.1 L54.9,370.1Z" fill="#c8cfd7" stroke="#434b53" stroke-width="5.5" stroke-linejoin="round"/>
<path d="M169.6,336.4 L230.1,297.9 L285.1,314.4 L296.1,391.4 L263.1,446.4 L197.1,446.4 L164.1,402.4Z" fill="#ddd6c4" stroke="#434b53" stroke-width="5.5" stroke-linejoin="round"/>
<path d="M293.4,299.4 L370.4,244.4 L436.4,260.9 L436.4,321.4 L359.4,332.4 L298.9,376.4Z" fill="#d2d6da" stroke="#434b53" stroke-width="5.5" stroke-linejoin="round"/>
<path d="M356.1,337.9 L433.1,310.4 L444.1,370.9 L411.1,398.4 L350.6,387.4Z" fill="#d8ccb2" stroke="#434b53" stroke-width="5.5" stroke-linejoin="round"/>
<path d="M439.2,275.6 L565.7,270.1 L571.2,347.1 L499.7,369.1 L439.2,358.1Z" fill="#e0dcd2" stroke="#434b53" stroke-width="5.5" stroke-linejoin="round"/>
<path d="M653.4,370.6 L691.9,370.6 L691.9,401.4 L647.9,401.4Z" fill="#c5ccd4" stroke="#434b53" stroke-width="5.5" stroke-linejoin="round"/>
<path d="M23.4,384.0 L61.9,428.0 L56.4,494.0 L23.4,494.0Z" fill="#d4ccba" stroke="#434b53" stroke-width="5.5" stroke-linejoin="round"/>
<path d="M57.1,428.1 L117.6,428.1 L112.1,472.1 L68.1,466.6Z" fill="#d6d6d2" stroke="#434b53" stroke-width="5.5" stroke-linejoin="round"/>
<path d="M105.2,448.4 L176.7,415.4 L198.7,459.4 L182.2,503.4 L127.2,503.4Z" fill="#dbd2bd" stroke="#434b53" stroke-width="5.5" stroke-linejoin="round"/>
<path d="M288.4,371.4 L403.9,387.9 L431.4,437.4 L420.4,536.4 L326.9,547.4 L293.9,514.4Z" fill="#c8cfd7" stroke="#434b53" stroke-width="5.5" stroke-linejoin="round"/>
<path d="M432.2,363.1 L503.8,368.6 L514.8,429.1 L476.2,506.1 L426.8,528.1 L421.2,440.1Z" fill="#ddd6c4" stroke="#434b53" stroke-width="5.5" stroke-linejoin="round"/>
<path d="M514.2,363.8 L646.2,380.2 L668.2,429.8 L602.2,484.8 L536.2,506.8 L503.2,429.8Z" fill="#d2d6da" stroke="#434b53" stroke-width="5.5" stroke-linejoin="round"/>
<path d="M660.2,390.2 L764.8,373.8 L775.8,472.8 L742.8,516.8 L676.8,472.8 L654.8,428.8Z" fill="#d8ccb2" stroke="#434b53" stroke-width="5.5" stroke-linejoin="round"/>
<path d="M45.0,464.1 L111.0,475.1 L171.5,513.6 L149.5,568.6 L78.0,590.6 L45.0,563.1Z" fill="#e0dcd2" stroke="#434b53" stroke-width="5.5" stroke-linejoin="round"/>
<path d="M173.8,474.8 L272.8,447.2 L300.3,507.8 L283.8,584.8 L239.8,606.8 L179.3,573.8Z" fill="#c5ccd4" stroke="#434b53" stroke-width="5.5" stroke-linejoin="round"/>
<path d="M297.2,536.6 L363.2,525.6 L368.7,591.6 L330.2,613.6 L280.7,602.6Z" fill="#d4ccba" stroke="#434b53" stroke-width="5.5" stroke-linejoin="round"/>
<path d="M476.0,457.0 L522.2,446.0 L516.7,523.0 L478.2,534.0Z" fill="#d6d6d2" stroke="#434b53" stroke-width="5.5" stroke-linejoin="round"/>
<path d="M511.6,496.1 L572.1,485.1 L583.1,584.1 L528.1,589.6Z" fill="#dbd2bd" stroke="#434b53" stroke-width="5.5" stroke-linejoin="round"/>
<path d="M589.2,507.3 L649.8,452.3 L704.8,485.3 L715.8,573.3 L660.8,606.3 L594.8,595.3Z" fill="#c8cfd7" stroke="#434b53" stroke-width="5.5" stroke-linejoin="round"/>
<path d="M83.2,587.7 L160.2,554.7 L204.2,576.7 L226.2,642.7 L171.2,675.7 L105.2,642.7Z" fill="#ddd6c4" stroke="#434b53" stroke-width="5.5" stroke-linejoin="round"/>
<path d="M337.4,555.0 L474.9,538.5 L518.9,610.0 L485.9,665.0 L375.9,670.5 L331.9,621.0Z" fill="#d2d6da" stroke="#434b53" stroke-width="5.5" stroke-linejoin="round"/>
<path d="M515.1,606.8 L592.1,584.8 L619.6,639.8 L603.1,694.8 L515.1,683.8Z" fill="#d8ccb2" stroke="#434b53" stroke-width="5.5" stroke-linejoin="round"/>
<path d="M615.1,606.3 L703.1,595.3 L725.1,639.3 L681.1,705.3 L620.6,688.8Z" fill="#e0dcd2" stroke="#434b53" stroke-width="5.5" stroke-linejoin="round"/>
<path d="M204.8,624.2 L314.8,613.2 L342.3,701.2 L292.8,750.8 L215.8,745.2 L199.3,690.2Z" fill="#c5ccd4" stroke="#434b53" stroke-width="5.5" stroke-linejoin="round"/>
<path d="M343.2,665.2 L475.2,665.2 L486.2,731.2 L431.2,764.2 L354.2,764.2Z" fill="#d4ccba" stroke="#434b53" stroke-width="5.5" stroke-linejoin="round"/>
<path d="M486.6,654.4 L563.6,676.4 L596.6,742.4 L497.6,775.4 L475.6,731.4Z" fill="#d6d6d2" stroke="#434b53" stroke-width="5.5" stroke-linejoin="round"/>
<path d="M147.0,647.0 L202.0,658.0 L207.5,713.0 L163.5,702.0Z" fill="#dbd2bd" stroke="#434b53" stroke-width="5.5" stroke-linejoin="round"/>
<path d="M717.9,518.2 L767.4,496.2 L761.9,562.2 L717.9,573.2Z" fill="#c8cfd7" stroke="#434b53" stroke-width="5.5" stroke-linejoin="round"/>
<path d="M597.4,698.1 L663.4,687.1 L652.4,742.1 L591.9,747.6Z" fill="#ddd6c4" stroke="#434b53" stroke-width="5.5" stroke-linejoin="round"/>
<path d="M297.0,738.9 L352.0,716.9 L363.0,771.9 L308.0,777.4Z" fill="#d2d6da" stroke="#434b53" stroke-width="5.5" stroke-linejoin="round"/>
<path d="M22.4,556.8 L82.9,589.8 L71.9,622.8 L27.9,600.8Z" fill="#d8ccb2" stroke="#434b53" stroke-width="5.5" stroke-linejoin="round"/>
</g></g></g>
<circle cx="646.7" cy="427.5" r="91.9" fill="none" stroke="#040404" stroke-width="2.7"/>
<g clip-path="url(#cl_brick)">
<rect x="374.3" y="530.3" width="190" height="190" fill="#a08262"/>
<g filter="url(#brickf)"><g transform="translate(372,530) scale(0.24375)">
<rect x="245" y="31" width="135" height="63" rx="12" fill="#e8703a"/>
<rect x="415" y="26" width="140" height="63" rx="12" fill="#ec7640"/>
<rect x="105" y="106" width="195" height="68" rx="12" fill="#e06834"/>
<rect x="325" y="106" width="300" height="73" rx="12" fill="#f07c44"/>
<rect x="635" y="121" width="70" height="58" rx="12" fill="#e5733c"/>
<rect x="95" y="191" width="150" height="63" rx="12" fill="#de6a36"/>
<rect x="250" y="186" width="140" height="73" rx="12" fill="#e8703a"/>
<rect x="405" y="191" width="150" height="68" rx="12" fill="#ec7640"/>
<rect x="575" y="191" width="145" height="68" rx="12" fill="#e06834"/>
<rect x="35" y="276" width="260" height="68" rx="12" fill="#f07c44"/>
<rect x="305" y="271" width="300" height="73" rx="12" fill="#e5733c"/>
<rect x="625" y="276" width="145" height="73" rx="12" fill="#de6a36"/>
<rect x="25" y="361" width="40" height="68" rx="12" fill="#e8703a"/>
<rect x="80" y="356" width="150" height="73" rx="12" fill="#ec7640"/>
<rect x="245" y="356" width="145" height="73" rx="12" fill="#e06834"/>
<rect x="400" y="356" width="150" height="73" rx="12" fill="#f07c44"/>
<rect x="565" y="356" width="150" height="73" rx="12" fill="#e5733c"/>
<rect x="720" y="361" width="65" height="68" rx="12" fill="#de6a36"/>
<rect x="35" y="441" width="265" height="68" rx="12" fill="#e8703a"/>
<rect x="310" y="436" width="305" height="73" rx="12" fill="#ec7640"/>
<rect x="620" y="441" width="155" height="68" rx="12" fill="#e06834"/>
<rect x="70" y="526" width="150" height="73" rx="12" fill="#f07c44"/>
<rect x="225" y="526" width="145" height="73" rx="12" fill="#e5733c"/>
<rect x="380" y="526" width="125" height="73" rx="12" fill="#de6a36"/>
<rect x="550" y="526" width="135" height="73" rx="12" fill="#e8703a"/>
<rect x="695" y="526" width="70" height="68" rx="12" fill="#ec7640"/>
<rect x="105" y="611" width="190" height="73" rx="12" fill="#e06834"/>
<rect x="310" y="606" width="305" height="78" rx="12" fill="#f07c44"/>
<rect x="635" y="611" width="90" height="73" rx="12" fill="#e5733c"/>
<rect x="245" y="696" width="130" height="73" rx="12" fill="#de6a36"/>
<rect x="380" y="696" width="185" height="68" rx="12" fill="#e8703a"/>
</g></g></g>
<circle cx="469.3" cy="625.3" r="91.9" fill="none" stroke="#040404" stroke-width="2.7"/>
<g clip-path="url(#cl_cement)">
<g filter="url(#cemf)"><g transform="translate(96,565) scale(0.24375)">
<rect x="0" y="0" width="800" height="800" fill="#a8a8a8"/>
<rect x="0" y="20" width="800" height="38" fill="#adadad"/>
<rect x="0" y="21" width="800" height="7" fill="#d6d6d6" opacity="0.8"/>
<rect x="0" y="40" width="800" height="11" fill="#8e8e8e" opacity="0.6"/>
<rect x="0" y="49" width="800" height="9" fill="#686868"/>
<rect x="0" y="58" width="800" height="42" fill="#a6a6a6"/>
<rect x="0" y="59" width="800" height="7" fill="#d6d6d6" opacity="0.8"/>
<rect x="0" y="81" width="800" height="12" fill="#8e8e8e" opacity="0.6"/>
<rect x="0" y="91" width="800" height="9" fill="#686868"/>
<rect x="0" y="100" width="800" height="40" fill="#b3b3b3"/>
<rect x="0" y="101" width="800" height="7" fill="#d6d6d6" opacity="0.8"/>
<rect x="0" y="122" width="800" height="12" fill="#8e8e8e" opacity="0.6"/>
<rect x="0" y="131" width="800" height="9" fill="#686868"/>
<rect x="0" y="140" width="800" height="55" fill="#a9a9a9"/>
<rect x="0" y="141" width="800" height="7" fill="#d6d6d6" opacity="0.8"/>
<rect x="0" y="170" width="800" height="16" fill="#8e8e8e" opacity="0.6"/>
<rect x="0" y="186" width="800" height="9" fill="#686868"/>
<rect x="0" y="195" width="800" height="45" fill="#afafaf"/>
<rect x="0" y="196" width="800" height="7" fill="#d6d6d6" opacity="0.8"/>
<rect x="0" y="219" width="800" height="13" fill="#8e8e8e" opacity="0.6"/>
<rect x="0" y="231" width="800" height="9" fill="#686868"/>
<rect x="0" y="240" width="800" height="60" fill="#adadad"/>
<rect x="0" y="241" width="800" height="7" fill="#d6d6d6" opacity="0.8"/>
<rect x="0" y="273" width="800" height="18" fill="#8e8e8e" opacity="0.6"/>
<rect x="0" y="291" width="800" height="9" fill="#686868"/>
<rect x="0" y="300" width="800" height="45" fill="#a6a6a6"/>
<rect x="0" y="301" width="800" height="7" fill="#d6d6d6" opacity="0.8"/>
<rect x="0" y="324" width="800" height="13" fill="#8e8e8e" opacity="0.6"/>
<rect x="0" y="336" width="800" height="9" fill="#686868"/>
<rect x="0" y="345" width="800" height="50" fill="#b3b3b3"/>
<rect x="0" y="346" width="800" height="7" fill="#d6d6d6" opacity="0.8"/>
<rect x="0" y="372" width="800" height="15" fill="#8e8e8e" opacity="0.6"/>
<rect x="0" y="386" width="800" height="9" fill="#686868"/>
<rect x="0" y="395" width="800" height="50" fill="#a9a9a9"/>
<rect x="0" y="396" width="800" height="7" fill="#d6d6d6" opacity="0.8"/>
<rect x="0" y="422" width="800" height="15" fill="#8e8e8e" opacity="0.6"/>
<rect x="0" y="436" width="800" height="9" fill="#686868"/>
<rect x="0" y="445" width="800" height="55" fill="#afafaf"/>
<rect x="0" y="446" width="800" height="7" fill="#d6d6d6" opacity="0.8"/>
<rect x="0" y="475" width="800" height="16" fill="#8e8e8e" opacity="0.6"/>
<rect x="0" y="491" width="800" height="9" fill="#686868"/>
<rect x="0" y="500" width="800" height="50" fill="#adadad"/>
<rect x="0" y="501" width="800" height="7" fill="#d6d6d6" opacity="0.8"/>
<rect x="0" y="527" width="800" height="15" fill="#8e8e8e" opacity="0.6"/>
<rect x="0" y="541" width="800" height="9" fill="#686868"/>
<rect x="0" y="550" width="800" height="50" fill="#a6a6a6"/>
<rect x="0" y="551" width="800" height="7" fill="#d6d6d6" opacity="0.8"/>
<rect x="0" y="577" width="800" height="15" fill="#8e8e8e" opacity="0.6"/>
<rect x="0" y="591" width="800" height="9" fill="#686868"/>
<rect x="0" y="600" width="800" height="50" fill="#b3b3b3"/>
<rect x="0" y="601" width="800" height="7" fill="#d6d6d6" opacity="0.8"/>
<rect x="0" y="627" width="800" height="15" fill="#8e8e8e" opacity="0.6"/>
<rect x="0" y="641" width="800" height="9" fill="#686868"/>
<rect x="0" y="650" width="800" height="50" fill="#a9a9a9"/>
<rect x="0" y="651" width="800" height="7" fill="#d6d6d6" opacity="0.8"/>
<rect x="0" y="677" width="800" height="15" fill="#8e8e8e" opacity="0.6"/>
<rect x="0" y="691" width="800" height="9" fill="#686868"/>
<rect x="0" y="700" width="800" height="45" fill="#afafaf"/>
<rect x="0" y="701" width="800" height="7" fill="#d6d6d6" opacity="0.8"/>
<rect x="0" y="724" width="800" height="13" fill="#8e8e8e" opacity="0.6"/>
<rect x="0" y="736" width="800" height="9" fill="#686868"/>
<rect x="0" y="745" width="800" height="45" fill="#adadad"/>
<rect x="0" y="746" width="800" height="7" fill="#d6d6d6" opacity="0.8"/>
<rect x="0" y="769" width="800" height="13" fill="#8e8e8e" opacity="0.6"/>
<rect x="0" y="781" width="800" height="9" fill="#686868"/>
<rect x="495" y="140" width="5" height="55" fill="#808080"/>
<rect x="710" y="395" width="5" height="50" fill="#808080"/>
<rect x="185" y="500" width="5" height="50" fill="#808080"/>
<rect x="315" y="600" width="5" height="50" fill="#808080"/>
<rect x="380" y="650" width="5" height="50" fill="#808080"/>
<rect x="60" y="600" width="5" height="50" fill="#808080"/>
</g></g></g>
<circle cx="194.3" cy="663.4" r="91.9" fill="none" stroke="#040404" stroke-width="2.7"/>
<text x="606.3" y="284.3" font-size="31" letter-spacing="-0.3" fill="#0d0d0d">Concrete</text>
<text x="606.5" y="555.0" font-size="31" letter-spacing="0" fill="#0d0d0d">Stone</text>
<text x="401.5" y="750.5" font-size="31" letter-spacing="0" fill="#0d0d0d">Brick Wall</text>
<text x="108.0" y="786.5" font-size="30.5" letter-spacing="0" fill="#0d0d0d">Cement Wall</text>
<defs><clipPath id="drillclip"><path d="M-700.0 -60.0 -696.6 -62.4 -693.2 -63.6 -689.8 -64.5 -686.3 -65.2 -682.9 -65.9 -679.5 -66.4 -676.1 -66.8 -672.7 -67.2 -669.2 -67.4 -665.8 -67.6 -662.4 -67.7 -659.0 -67.7 -655.6 -67.6 -652.2 -67.4 -648.8 -67.2 -645.3 -66.9 -641.9 -66.4 -638.5 -65.9 -635.1 -65.3 -631.7 -64.6 -628.2 -63.7 -624.8 -62.7 -621.4 -61.5 -618.0 -59.0 -615.0 -61.1 -612.0 -62.1 -609.0 -62.9 -606.0 -63.6 -603.0 -64.1 -600.0 -64.6 -597.0 -65.0 -594.0 -65.3 -591.0 -65.5 -588.0 -65.6 -585.0 -65.7 -582.0 -65.7 -579.0 -65.6 -576.0 -65.5 -573.0 -65.2 -570.0 -64.9 -567.0 -64.6 -564.0 -64.1 -561.0 -63.6 -558.0 -62.9 -555.0 -62.2 -552.0 -61.3 -549.0 -60.2 -546.0 -58.0 -541.6 -61.1 -537.2 -62.6 -532.8 -63.8 -528.3 -64.8 -523.9 -65.7 -519.5 -66.4 -515.1 -66.9 -510.7 -67.4 -506.2 -67.7 -501.8 -68.0 -497.4 -68.1 -493.0 -68.1 -488.6 -68.0 -484.2 -67.8 -479.8 -67.5 -475.3 -67.1 -470.9 -66.5 -466.5 -65.9 -462.1 -65.1 -457.7 -64.2 -453.2 -63.1 -448.8 -61.8 -444.4 -60.2 -440.0 -57.0 -437.6 -58.7 -435.2 -59.6 -432.8 -60.3 -430.3 -60.8 -427.9 -61.3 -425.5 -61.7 -423.1 -62.0 -420.7 -62.3 -418.2 -62.5 -415.8 -62.7 -413.4 -62.8 -411.0 -62.8 -408.6 -62.8 -406.2 -62.7 -403.8 -62.5 -401.3 -62.3 -398.9 -62.0 -396.5 -61.7 -394.1 -61.3 -391.7 -60.8 -389.2 -60.3 -386.8 -59.6 -384.4 -58.7 -382.0 -57.0 -377.9 -59.8 -373.8 -61.3 -369.8 -62.4 -365.7 -63.3 -361.6 -64.1 -357.5 -64.7 -353.4 -65.2 -349.3 -65.7 -345.2 -66.0 -341.2 -66.2 -337.1 -66.3 -333.0 -66.3 -328.9 -66.2 -324.8 -66.0 -320.8 -65.7 -316.7 -65.3 -312.6 -64.8 -308.5 -64.2 -304.4 -63.5 -300.3 -62.6 -296.2 -61.6 -292.2 -60.4 -288.1 -58.9 -284.0 -56.0 -281.0 -58.0 -278.0 -59.0 -275.0 -59.8 -272.0 -60.4 -269.0 -60.9 -266.0 -61.3 -263.0 -61.7 -260.0 -61.9 -257.0 -62.1 -254.0 -62.2 -251.0 -62.2 -248.0 -62.2 -245.0 -62.1 -242.0 -61.9 -239.0 -61.6 -236.0 -61.3 -233.0 -60.8 -230.0 -60.3 -227.0 -59.8 -224.0 -59.1 -221.0 -58.3 -218.0 -57.4 -215.0 -56.2 -212.0 -54.0 -207.6 -56.9 -203.2 -58.2 -198.8 -59.2 -194.3 -60.0 -189.9 -60.6 -185.5 -61.1 -181.1 -61.5 -176.7 -61.7 -172.2 -61.9 -167.8 -61.9 -163.4 -61.8 -159.0 -61.6 -154.6 -61.3 -150.2 -60.9 -145.8 -60.4 -141.3 -59.7 -136.9 -59.0 -132.5 -58.1 -128.1 -57.1 -123.7 -56.0 -119.2 -54.7 -114.8 -53.2 -110.4 -51.4 -106.0 -48.0 -103.5 -49.9 -101.0 -50.9 -98.5 -51.7 -96.0 -52.5 -93.5 -53.1 -91.0 -53.6 -88.5 -54.1 -86.0 -54.5 -83.5 -54.8 -81.0 -55.1 -78.5 -55.3 -76.0 -55.5 -73.5 -55.6 -71.0 -55.6 -68.5 -55.6 -66.0 -55.5 -63.5 -55.3 -61.0 -55.1 -58.5 -54.8 -56.0 -54.5 -53.5 -54.0 -51.0 -53.4 -48.5 -52.6 -46.0 -51.0 -44.1 -52.8 -42.2 -53.8 -40.2 -54.8 -38.3 -55.6 -36.4 -56.4 -34.5 -57.1 -32.6 -57.8 -30.7 -58.4 -28.8 -58.9 -26.8 -59.5 -24.9 -59.9 -23.0 -60.4 -21.1 -60.7 -19.2 -61.0 -17.2 -61.3 -15.3 -61.6 -13.4 -61.7 -11.5 -61.9 -9.6 -61.9 -7.7 -62.0 -5.8 -61.9 -3.8 -61.8 -1.9 -61.5 0.0 -60.5 L118 -60.5 L190 0 L118 61 6.7 61.0 4.3 62.5 2.0 63.0 -0.4 63.2 -2.7 63.3 -5.1 63.3 -7.5 63.3 -9.8 63.1 -12.2 62.8 -14.6 62.5 -16.9 62.1 -19.3 61.6 -21.7 61.1 -24.0 60.5 -26.4 59.8 -28.7 59.0 -31.1 58.2 -33.5 57.3 -35.8 56.3 -38.2 55.2 -40.6 54.0 -42.9 52.7 -45.3 51.3 -47.6 49.7 -50.0 47.0 -52.8 49.4 -55.5 50.7 -58.2 51.6 -61.0 52.4 -63.8 53.1 -66.5 53.7 -69.2 54.2 -72.0 54.6 -74.8 54.9 -77.5 55.1 -80.2 55.2 -83.0 55.2 -85.8 55.2 -88.5 55.1 -91.2 54.9 -94.0 54.6 -96.8 54.2 -99.5 53.7 -102.2 53.1 -105.0 52.4 -107.8 51.6 -110.5 50.7 -113.2 49.4 -116.0 47.0 -120.2 50.6 -124.4 52.4 -128.6 53.8 -132.8 55.0 -137.0 56.0 -141.2 56.8 -145.5 57.4 -149.7 57.9 -153.9 58.3 -158.1 58.5 -162.3 58.6 -166.5 58.6 -170.7 58.5 -174.9 58.2 -179.1 57.8 -183.3 57.2 -187.5 56.6 -191.8 55.8 -196.0 54.8 -200.2 53.7 -204.4 52.3 -208.6 50.8 -212.8 48.8 -217.0 45.0 -219.8 47.4 -222.5 48.6 -225.2 49.5 -228.0 50.3 -230.8 50.9 -233.5 51.5 -236.2 51.9 -239.0 52.2 -241.8 52.5 -244.5 52.7 -247.2 52.7 -250.0 52.8 -252.8 52.7 -255.5 52.5 -258.2 52.2 -261.0 51.9 -263.8 51.5 -266.5 51.0 -269.2 50.3 -272.0 49.6 -274.8 48.8 -277.5 47.7 -280.2 46.5 -283.0 44.0 -287.5 48.0 -292.1 50.0 -296.6 51.5 -301.2 52.8 -305.7 53.9 -310.2 54.8 -314.8 55.6 -319.3 56.2 -323.9 56.6 -328.4 56.9 -333.0 57.1 -337.5 57.1 -342.0 57.0 -346.6 56.8 -351.1 56.4 -355.7 55.8 -360.2 55.1 -364.8 54.3 -369.3 53.3 -373.8 52.2 -378.4 50.8 -382.9 49.1 -387.5 47.1 -392.0 43.0 -394.5 45.2 -397.0 46.3 -399.5 47.2 -402.0 47.9 -404.5 48.6 -407.0 49.1 -409.5 49.5 -412.0 49.9 -414.5 50.2 -417.0 50.3 -419.5 50.5 -422.0 50.5 -424.5 50.5 -427.0 50.3 -429.5 50.2 -432.0 49.9 -434.5 49.5 -437.0 49.1 -439.5 48.6 -442.0 47.9 -444.5 47.2 -447.0 46.3 -449.5 45.2 -452.0 43.0 -455.9 46.4 -459.8 48.1 -463.8 49.5 -467.7 50.6 -471.6 51.5 -475.5 52.3 -479.4 52.9 -483.3 53.4 -487.2 53.8 -491.2 54.1 -495.1 54.2 -499.0 54.2 -502.9 54.1 -506.8 53.9 -510.8 53.6 -514.7 53.1 -518.6 52.5 -522.5 51.8 -526.4 50.9 -530.3 49.9 -534.2 48.7 -538.2 47.3 -542.1 45.5 -546.0 42.0 -548.8 44.5 -551.7 45.7 -554.5 46.7 -557.3 47.4 -560.2 48.1 -563.0 48.7 -565.8 49.1 -568.7 49.5 -571.5 49.7 -574.3 49.9 -577.2 50.0 -580.0 50.0 -582.8 49.9 -585.7 49.7 -588.5 49.5 -591.3 49.1 -594.2 48.7 -597.0 48.2 -599.8 47.5 -602.7 46.8 -605.5 45.9 -608.3 44.9 -611.2 43.5 -614.0 41.0 -617.6 44.1 -621.2 45.7 -624.8 46.9 -628.3 47.9 -631.9 48.8 -635.5 49.5 -639.1 50.1 -642.7 50.5 -646.2 50.9 -649.8 51.1 -653.4 51.2 -657.0 51.2 -660.6 51.2 -664.2 50.9 -667.8 50.6 -671.3 50.2 -674.9 49.6 -678.5 49.0 -682.1 48.2 -685.7 47.3 -689.2 46.2 -692.8 44.9 -696.4 43.2 -700.0 40.0Z"/></clipPath><linearGradient id="dg1" gradientUnits="userSpaceOnUse" x1="0" y1="-68.0" x2="0" y2="68.0"><stop offset="0.000" stop-color="#7e7e7e"/><stop offset="0.125" stop-color="#a3a3a3"/><stop offset="0.250" stop-color="#a4a4a4"/><stop offset="0.375" stop-color="#a4a4a4"/><stop offset="0.500" stop-color="#a4a4a4"/><stop offset="0.625" stop-color="#a1a1a1"/><stop offset="0.750" stop-color="#959595"/><stop offset="0.875" stop-color="#898989"/><stop offset="1.000" stop-color="#757575"/></linearGradient><linearGradient id="dg2" gradientUnits="userSpaceOnUse" x1="0" y1="-68.0" x2="0" y2="68.0"><stop offset="0.000" stop-color="#939393"/><stop offset="0.125" stop-color="#c5c5c5"/><stop offset="0.250" stop-color="#cecece"/><stop offset="0.375" stop-color="#d7d7d7"/><stop offset="0.500" stop-color="#d3d3d3"/><stop offset="0.625" stop-color="#c9c9c9"/><stop offset="0.750" stop-color="#b5b5b5"/><stop offset="0.875" stop-color="#a0a0a0"/><stop offset="1.000" stop-color="#888888"/></linearGradient><linearGradient id="dg3" gradientUnits="userSpaceOnUse" x1="0" y1="-68.0" x2="0" y2="68.0"><stop offset="0.000" stop-color="#939393"/><stop offset="0.125" stop-color="#cdcdcd"/><stop offset="0.250" stop-color="#dddddd"/><stop offset="0.375" stop-color="#eeeeee"/><stop offset="0.500" stop-color="#e7e7e7"/><stop offset="0.625" stop-color="#d7d7d7"/><stop offset="0.750" stop-color="#bcbcbc"/><stop offset="0.875" stop-color="#a1a1a1"/><stop offset="1.000" stop-color="#878787"/></linearGradient><linearGradient id="dg4" gradientUnits="userSpaceOnUse" x1="0" y1="-68.0" x2="0" y2="68.0"><stop offset="0.000" stop-color="#929292"/><stop offset="0.125" stop-color="#d4d4d4"/><stop offset="0.250" stop-color="#ededed"/><stop offset="0.375" stop-color="#ffffff"/><stop offset="0.500" stop-color="#fbfbfb"/><stop offset="0.625" stop-color="#e4e4e4"/><stop offset="0.750" stop-color="#c3c3c3"/><stop offset="0.875" stop-color="#a2a2a2"/><stop offset="1.000" stop-color="#878787"/></linearGradient><linearGradient id="dg5" gradientUnits="userSpaceOnUse" x1="0" y1="-68.0" x2="0" y2="68.0"><stop offset="0.000" stop-color="#929292"/><stop offset="0.125" stop-color="#d6d6d6"/><stop offset="0.250" stop-color="#f1f1f1"/><stop offset="0.375" stop-color="#ffffff"/><stop offset="0.500" stop-color="#ffffff"/><stop offset="0.625" stop-color="#e7e7e7"/><stop offset="0.750" stop-color="#c5c5c5"/><stop offset="0.875" stop-color="#a2a2a2"/><stop offset="1.000" stop-color="#868686"/></linearGradient><linearGradient id="dg6" gradientUnits="userSpaceOnUse" x1="0" y1="-68.0" x2="0" y2="68.0"><stop offset="0.000" stop-color="#919191"/><stop offset="0.125" stop-color="#d2d2d2"/><stop offset="0.250" stop-color="#e9e9e9"/><stop offset="0.375" stop-color="#ffffff"/><stop offset="0.500" stop-color="#f6f6f6"/><stop offset="0.625" stop-color="#e1e1e1"/><stop offset="0.750" stop-color="#c1c1c1"/><stop offset="0.875" stop-color="#a1a1a1"/><stop offset="1.000" stop-color="#868686"/></linearGradient><linearGradient id="dg7" gradientUnits="userSpaceOnUse" x1="0" y1="-68.0" x2="0" y2="68.0"><stop offset="0.000" stop-color="#919191"/><stop offset="0.125" stop-color="#cdcdcd"/><stop offset="0.250" stop-color="#e1e1e1"/><stop offset="0.375" stop-color="#f5f5f5"/><stop offset="0.500" stop-color="#ececec"/><stop offset="0.625" stop-color="#dadada"/><stop offset="0.750" stop-color="#bdbdbd"/><stop offset="0.875" stop-color="#a0a0a0"/><stop offset="1.000" stop-color="#868686"/></linearGradient><linearGradient id="dg8" gradientUnits="userSpaceOnUse" x1="0" y1="-68.0" x2="0" y2="68.0"><stop offset="0.000" stop-color="#909090"/><stop offset="0.125" stop-color="#c9c9c9"/><stop offset="0.250" stop-color="#d9d9d9"/><stop offset="0.375" stop-color="#e9e9e9"/><stop offset="0.500" stop-color="#e2e2e2"/><stop offset="0.625" stop-color="#d3d3d3"/><stop offset="0.750" stop-color="#b9b9b9"/><stop offset="0.875" stop-color="#9f9f9f"/><stop offset="1.000" stop-color="#858585"/></linearGradient><linearGradient id="dg9" gradientUnits="userSpaceOnUse" x1="0" y1="-68.0" x2="0" y2="68.0"><stop offset="0.000" stop-color="#909090"/><stop offset="0.125" stop-color="#c5c5c5"/><stop offset="0.250" stop-color="#d2d2d2"/><stop offset="0.375" stop-color="#dedede"/><stop offset="0.500" stop-color="#d9d9d9"/><stop offset="0.625" stop-color="#cccccc"/><stop offset="0.750" stop-color="#b5b5b5"/><stop offset="0.875" stop-color="#9d9d9d"/><stop offset="1.000" stop-color="#858585"/></linearGradient><linearGradient id="dg10" gradientUnits="userSpaceOnUse" x1="0" y1="-68.0" x2="0" y2="68.0"><stop offset="0.000" stop-color="#8f8f8f"/><stop offset="0.125" stop-color="#c1c1c1"/><stop offset="0.250" stop-color="#cacaca"/><stop offset="0.375" stop-color="#d3d3d3"/><stop offset="0.500" stop-color="#cfcfcf"/><stop offset="0.625" stop-color="#c5c5c5"/><stop offset="0.750" stop-color="#b1b1b1"/><stop offset="0.875" stop-color="#9c9c9c"/><stop offset="1.000" stop-color="#848484"/></linearGradient><linearGradient id="dg11" gradientUnits="userSpaceOnUse" x1="0" y1="-68.0" x2="0" y2="68.0"><stop offset="0.000" stop-color="#8e8e8e"/><stop offset="0.125" stop-color="#bbbbbb"/><stop offset="0.250" stop-color="#c1c1c1"/><stop offset="0.375" stop-color="#c6c6c6"/><stop offset="0.500" stop-color="#c4c4c4"/><stop offset="0.625" stop-color="#bdbdbd"/><stop offset="0.750" stop-color="#ababab"/><stop offset="0.875" stop-color="#9a9a9a"/><stop offset="1.000" stop-color="#838383"/></linearGradient><linearGradient id="dg12" gradientUnits="userSpaceOnUse" x1="0" y1="-68.0" x2="0" y2="68.0"><stop offset="0.000" stop-color="#8b8b8b"/><stop offset="0.125" stop-color="#b4b4b4"/><stop offset="0.250" stop-color="#b6b6b6"/><stop offset="0.375" stop-color="#b8b8b8"/><stop offset="0.500" stop-color="#b7b7b7"/><stop offset="0.625" stop-color="#b3b3b3"/><stop offset="0.750" stop-color="#a5a5a5"/><stop offset="0.875" stop-color="#969696"/><stop offset="1.000" stop-color="#808080"/></linearGradient><linearGradient id="dg13" gradientUnits="userSpaceOnUse" x1="0" y1="-68.0" x2="0" y2="68.0"><stop offset="0.000" stop-color="#888888"/><stop offset="0.125" stop-color="#aeaeae"/><stop offset="0.250" stop-color="#aeaeae"/><stop offset="0.375" stop-color="#aeaeae"/><stop offset="0.500" stop-color="#aeaeae"/><stop offset="0.625" stop-color="#acacac"/><stop offset="0.750" stop-color="#a0a0a0"/><stop offset="0.875" stop-color="#939393"/><stop offset="1.000" stop-color="#7e7e7e"/></linearGradient><linearGradient id="dg14" gradientUnits="userSpaceOnUse" x1="0" y1="-68.0" x2="0" y2="68.0"><stop offset="0.000" stop-color="#858585"/><stop offset="0.125" stop-color="#ababab"/><stop offset="0.250" stop-color="#ababab"/><stop offset="0.375" stop-color="#ababab"/><stop offset="0.500" stop-color="#ababab"/><stop offset="0.625" stop-color="#a8a8a8"/><stop offset="0.750" stop-color="#9c9c9c"/><stop offset="0.875" stop-color="#909090"/><stop offset="1.000" stop-color="#7b7b7b"/></linearGradient><linearGradient id="dg15" gradientUnits="userSpaceOnUse" x1="0" y1="-68.0" x2="0" y2="68.0"><stop offset="0.000" stop-color="#828282"/><stop offset="0.125" stop-color="#a7a7a7"/><stop offset="0.250" stop-color="#a7a7a7"/><stop offset="0.375" stop-color="#a7a7a7"/><stop offset="0.500" stop-color="#a7a7a7"/><stop offset="0.625" stop-color="#a5a5a5"/><stop offset="0.750" stop-color="#999999"/><stop offset="0.875" stop-color="#8d8d8d"/><stop offset="1.000" stop-color="#787878"/></linearGradient><linearGradient id="dg16" gradientUnits="userSpaceOnUse" x1="0" y1="-68.0" x2="0" y2="68.0"><stop offset="0.000" stop-color="#808080"/><stop offset="0.125" stop-color="#a4a4a4"/><stop offset="0.250" stop-color="#a4a4a4"/><stop offset="0.375" stop-color="#a4a4a4"/><stop offset="0.500" stop-color="#a4a4a4"/><stop offset="0.625" stop-color="#a1a1a1"/><stop offset="0.750" stop-color="#969696"/><stop offset="0.875" stop-color="#8a8a8a"/><stop offset="1.000" stop-color="#767676"/></linearGradient><linearGradient id="dg17" gradientUnits="userSpaceOnUse" x1="0" y1="-68.0" x2="0" y2="68.0"><stop offset="0.000" stop-color="#7d7d7d"/><stop offset="0.125" stop-color="#a0a0a0"/><stop offset="0.250" stop-color="#a0a0a0"/><stop offset="0.375" stop-color="#a0a0a0"/><stop offset="0.500" stop-color="#a0a0a0"/><stop offset="0.625" stop-color="#9e9e9e"/><stop offset="0.750" stop-color="#929292"/><stop offset="0.875" stop-color="#878787"/><stop offset="1.000" stop-color="#737373"/></linearGradient><linearGradient id="dg18" gradientUnits="userSpaceOnUse" x1="0" y1="-68.0" x2="0" y2="68.0"><stop offset="0.000" stop-color="#777777"/><stop offset="0.125" stop-color="#989898"/><stop offset="0.250" stop-color="#989898"/><stop offset="0.375" stop-color="#989898"/><stop offset="0.500" stop-color="#989898"/><stop offset="0.625" stop-color="#969696"/><stop offset="0.750" stop-color="#8b8b8b"/><stop offset="0.875" stop-color="#808080"/><stop offset="1.000" stop-color="#6e6e6e"/></linearGradient><linearGradient id="dg19" gradientUnits="userSpaceOnUse" x1="0" y1="-68.0" x2="0" y2="68.0"><stop offset="0.000" stop-color="#6d6d6d"/><stop offset="0.125" stop-color="#8c8c8c"/><stop offset="0.250" stop-color="#8c8c8c"/><stop offset="0.375" stop-color="#8c8c8c"/><stop offset="0.500" stop-color="#8c8c8c"/><stop offset="0.625" stop-color="#8a8a8a"/><stop offset="0.750" stop-color="#808080"/><stop offset="0.875" stop-color="#767676"/><stop offset="1.000" stop-color="#656565"/></linearGradient><linearGradient id="dg20" gradientUnits="userSpaceOnUse" x1="0" y1="-68.0" x2="0" y2="68.0"><stop offset="0.000" stop-color="#646464"/><stop offset="0.125" stop-color="#808080"/><stop offset="0.250" stop-color="#808080"/><stop offset="0.375" stop-color="#808080"/><stop offset="0.500" stop-color="#808080"/><stop offset="0.625" stop-color="#7f7f7f"/><stop offset="0.750" stop-color="#757575"/><stop offset="0.875" stop-color="#6c6c6c"/><stop offset="1.000" stop-color="#5c5c5c"/></linearGradient><linearGradient id="dg21" gradientUnits="userSpaceOnUse" x1="0" y1="-68.0" x2="0" y2="68.0"><stop offset="0.000" stop-color="#6c6c6c"/><stop offset="0.125" stop-color="#8a8a8a"/><stop offset="0.250" stop-color="#8a8a8a"/><stop offset="0.375" stop-color="#8a8a8a"/><stop offset="0.500" stop-color="#8a8a8a"/><stop offset="0.625" stop-color="#888888"/><stop offset="0.750" stop-color="#7e7e7e"/><stop offset="0.875" stop-color="#747474"/><stop offset="1.000" stop-color="#636363"/></linearGradient><linearGradient id="dg22" gradientUnits="userSpaceOnUse" x1="0" y1="-68.0" x2="0" y2="68.0"><stop offset="0.000" stop-color="#787878"/><stop offset="0.125" stop-color="#999999"/><stop offset="0.250" stop-color="#999999"/><stop offset="0.375" stop-color="#999999"/><stop offset="0.500" stop-color="#999999"/><stop offset="0.625" stop-color="#979797"/><stop offset="0.750" stop-color="#8c8c8c"/><stop offset="0.875" stop-color="#818181"/><stop offset="1.000" stop-color="#6e6e6e"/></linearGradient><linearGradient id="dg23" gradientUnits="userSpaceOnUse" x1="0" y1="-68.0" x2="0" y2="68.0"><stop offset="0.000" stop-color="#787878"/><stop offset="0.125" stop-color="#9a9a9a"/><stop offset="0.250" stop-color="#9a9a9a"/><stop offset="0.375" stop-color="#9a9a9a"/><stop offset="0.500" stop-color="#9a9a9a"/><stop offset="0.625" stop-color="#989898"/><stop offset="0.750" stop-color="#8d8d8d"/><stop offset="0.875" stop-color="#828282"/><stop offset="1.000" stop-color="#6f6f6f"/></linearGradient><linearGradient id="dg24" gradientUnits="userSpaceOnUse" x1="0" y1="-68.0" x2="0" y2="68.0"><stop offset="0.000" stop-color="#797979"/><stop offset="0.125" stop-color="#9b9b9b"/><stop offset="0.250" stop-color="#9b9b9b"/><stop offset="0.375" stop-color="#9b9b9b"/><stop offset="0.500" stop-color="#9b9b9b"/><stop offset="0.625" stop-color="#999999"/><stop offset="0.750" stop-color="#8e8e8e"/><stop offset="0.875" stop-color="#838383"/><stop offset="1.000" stop-color="#707070"/></linearGradient><linearGradient id="dg25" gradientUnits="userSpaceOnUse" x1="0" y1="-68.0" x2="0" y2="68.0"><stop offset="0.000" stop-color="#7a7a7a"/><stop offset="0.125" stop-color="#9c9c9c"/><stop offset="0.250" stop-color="#9c9c9c"/><stop offset="0.375" stop-color="#9c9c9c"/><stop offset="0.500" stop-color="#9c9c9c"/><stop offset="0.625" stop-color="#9a9a9a"/><stop offset="0.750" stop-color="#8f8f8f"/><stop offset="0.875" stop-color="#838383"/><stop offset="1.000" stop-color="#707070"/></linearGradient><linearGradient id="dg26" gradientUnits="userSpaceOnUse" x1="0" y1="-68.0" x2="0" y2="68.0"><stop offset="0.000" stop-color="#7a7a7a"/><stop offset="0.125" stop-color="#9d9d9d"/><stop offset="0.250" stop-color="#9d9d9d"/><stop offset="0.375" stop-color="#9d9d9d"/><stop offset="0.500" stop-color="#9d9d9d"/><stop offset="0.625" stop-color="#9b9b9b"/><stop offset="0.750" stop-color="#8f8f8f"/><stop offset="0.875" stop-color="#848484"/><stop offset="1.000" stop-color="#717171"/></linearGradient><linearGradient id="dg27" gradientUnits="userSpaceOnUse" x1="0" y1="-68.0" x2="0" y2="68.0"><stop offset="0.000" stop-color="#7b7b7b"/><stop offset="0.125" stop-color="#9e9e9e"/><stop offset="0.250" stop-color="#9e9e9e"/><stop offset="0.375" stop-color="#9e9e9e"/><stop offset="0.500" stop-color="#9e9e9e"/><stop offset="0.625" stop-color="#9b9b9b"/><stop offset="0.750" stop-color="#909090"/><stop offset="0.875" stop-color="#858585"/><stop offset="1.000" stop-color="#727272"/></linearGradient><linearGradient id="dg28" gradientUnits="userSpaceOnUse" x1="0" y1="-68.0" x2="0" y2="68.0"><stop offset="0.000" stop-color="#7d7d7d"/><stop offset="0.125" stop-color="#a2a2a2"/><stop offset="0.250" stop-color="#a4a4a4"/><stop offset="0.375" stop-color="#a6a6a6"/><stop offset="0.500" stop-color="#a7a7a7"/><stop offset="0.625" stop-color="#a2a2a2"/><stop offset="0.750" stop-color="#959595"/><stop offset="0.875" stop-color="#878787"/><stop offset="1.000" stop-color="#737373"/></linearGradient><linearGradient id="dg29" gradientUnits="userSpaceOnUse" x1="0" y1="-68.0" x2="0" y2="68.0"><stop offset="0.000" stop-color="#808080"/><stop offset="0.125" stop-color="#a8a8a8"/><stop offset="0.250" stop-color="#afafaf"/><stop offset="0.375" stop-color="#b6b6b6"/><stop offset="0.500" stop-color="#b8b8b8"/><stop offset="0.625" stop-color="#afafaf"/><stop offset="0.750" stop-color="#9d9d9d"/><stop offset="0.875" stop-color="#8c8c8c"/><stop offset="1.000" stop-color="#767676"/></linearGradient><linearGradient id="dg30" gradientUnits="userSpaceOnUse" x1="0" y1="-68.0" x2="0" y2="68.0"><stop offset="0.000" stop-color="#838383"/><stop offset="0.125" stop-color="#afafaf"/><stop offset="0.250" stop-color="#bbbbbb"/><stop offset="0.375" stop-color="#c6c6c6"/><stop offset="0.500" stop-color="#c9c9c9"/><stop offset="0.625" stop-color="#bcbcbc"/><stop offset="0.750" stop-color="#a6a6a6"/><stop offset="0.875" stop-color="#909090"/><stop offset="1.000" stop-color="#797979"/></linearGradient><linearGradient id="dg31" gradientUnits="userSpaceOnUse" x1="0" y1="-68.0" x2="0" y2="68.0"><stop offset="0.000" stop-color="#868686"/><stop offset="0.125" stop-color="#b6b6b6"/><stop offset="0.250" stop-color="#c6c6c6"/><stop offset="0.375" stop-color="#d6d6d6"/><stop offset="0.500" stop-color="#dadada"/><stop offset="0.625" stop-color="#c9c9c9"/><stop offset="0.750" stop-color="#afafaf"/><stop offset="0.875" stop-color="#949494"/><stop offset="1.000" stop-color="#7c7c7c"/></linearGradient><linearGradient id="dg32" gradientUnits="userSpaceOnUse" x1="0" y1="-68.0" x2="0" y2="68.0"><stop offset="0.000" stop-color="#8a8a8a"/><stop offset="0.125" stop-color="#bdbdbd"/><stop offset="0.250" stop-color="#d1d1d1"/><stop offset="0.375" stop-color="#e6e6e6"/><stop offset="0.500" stop-color="#ebebeb"/><stop offset="0.625" stop-color="#d6d6d6"/><stop offset="0.750" stop-color="#b7b7b7"/><stop offset="0.875" stop-color="#989898"/><stop offset="1.000" stop-color="#7f7f7f"/></linearGradient><linearGradient id="dg33" gradientUnits="userSpaceOnUse" x1="0" y1="-68.0" x2="0" y2="68.0"><stop offset="0.000" stop-color="#898989"/><stop offset="0.125" stop-color="#bfbfbf"/><stop offset="0.250" stop-color="#d8d8d8"/><stop offset="0.375" stop-color="#f2f2f2"/><stop offset="0.500" stop-color="#f8f8f8"/><stop offset="0.625" stop-color="#dfdfdf"/><stop offset="0.750" stop-color="#bcbcbc"/><stop offset="0.875" stop-color="#999999"/><stop offset="1.000" stop-color="#7f7f7f"/></linearGradient><linearGradient id="dg34" gradientUnits="userSpaceOnUse" x1="0" y1="-68.0" x2="0" y2="68.0"><stop offset="0.000" stop-color="#868686"/><stop offset="0.125" stop-color="#bdbdbd"/><stop offset="0.250" stop-color="#dbdbdb"/><stop offset="0.375" stop-color="#f9f9f9"/><stop offset="0.500" stop-color="#ffffff"/><stop offset="0.625" stop-color="#e3e3e3"/><stop offset="0.750" stop-color="#bcbcbc"/><stop offset="0.875" stop-color="#969696"/><stop offset="1.000" stop-color="#7b7b7b"/></linearGradient><linearGradient id="dg35" gradientUnits="userSpaceOnUse" x1="0" y1="-68.0" x2="0" y2="68.0"><stop offset="0.000" stop-color="#828282"/><stop offset="0.125" stop-color="#b6b6b6"/><stop offset="0.250" stop-color="#cfcfcf"/><stop offset="0.375" stop-color="#e8e8e8"/><stop offset="0.500" stop-color="#eeeeee"/><stop offset="0.625" stop-color="#d6d6d6"/><stop offset="0.750" stop-color="#b3b3b3"/><stop offset="0.875" stop-color="#919191"/><stop offset="1.000" stop-color="#787878"/></linearGradient><linearGradient id="dg36" gradientUnits="userSpaceOnUse" x1="0" y1="-68.0" x2="0" y2="68.0"><stop offset="0.000" stop-color="#7e7e7e"/><stop offset="0.125" stop-color="#aeaeae"/><stop offset="0.250" stop-color="#c1c1c1"/><stop offset="0.375" stop-color="#d5d5d5"/><stop offset="0.500" stop-color="#dadada"/><stop offset="0.625" stop-color="#c6c6c6"/><stop offset="0.750" stop-color="#a9a9a9"/><stop offset="0.875" stop-color="#8c8c8c"/><stop offset="1.000" stop-color="#747474"/></linearGradient><linearGradient id="dg37" gradientUnits="userSpaceOnUse" x1="0" y1="-68.0" x2="0" y2="68.0"><stop offset="0.000" stop-color="#7a7a7a"/><stop offset="0.125" stop-color="#a5a5a5"/><stop offset="0.250" stop-color="#b3b3b3"/><stop offset="0.375" stop-color="#c1c1c1"/><stop offset="0.500" stop-color="#c5c5c5"/><stop offset="0.625" stop-color="#b6b6b6"/><stop offset="0.750" stop-color="#9e9e9e"/><stop offset="0.875" stop-color="#878787"/><stop offset="1.000" stop-color="#717171"/></linearGradient><linearGradient id="dg38" gradientUnits="userSpaceOnUse" x1="0" y1="-68.0" x2="0" y2="68.0"><stop offset="0.000" stop-color="#777777"/><stop offset="0.125" stop-color="#9d9d9d"/><stop offset="0.250" stop-color="#a6a6a6"/><stop offset="0.375" stop-color="#aeaeae"/><stop offset="0.500" stop-color="#b0b0b0"/><stop offset="0.625" stop-color="#a6a6a6"/><stop offset="0.750" stop-color="#949494"/><stop offset="0.875" stop-color="#828282"/><stop offset="1.000" stop-color="#6e6e6e"/></linearGradient><linearGradient id="dg39" gradientUnits="userSpaceOnUse" x1="0" y1="-68.0" x2="0" y2="68.0"><stop offset="0.000" stop-color="#737373"/><stop offset="0.125" stop-color="#959595"/><stop offset="0.250" stop-color="#989898"/><stop offset="0.375" stop-color="#9b9b9b"/><stop offset="0.500" stop-color="#9b9b9b"/><stop offset="0.625" stop-color="#979797"/><stop offset="0.750" stop-color="#8a8a8a"/><stop offset="0.875" stop-color="#7d7d7d"/><stop offset="1.000" stop-color="#6a6a6a"/></linearGradient><linearGradient id="dg40" gradientUnits="userSpaceOnUse" x1="0" y1="-68.0" x2="0" y2="68.0"><stop offset="0.000" stop-color="#6f6f6f"/><stop offset="0.125" stop-color="#8f8f8f"/><stop offset="0.250" stop-color="#8f8f8f"/><stop offset="0.375" stop-color="#8f8f8f"/><stop offset="0.500" stop-color="#8f8f8f"/><stop offset="0.625" stop-color="#8d8d8d"/><stop offset="0.750" stop-color="#828282"/><stop offset="0.875" stop-color="#787878"/><stop offset="1.000" stop-color="#676767"/></linearGradient><linearGradient id="dg41" gradientUnits="userSpaceOnUse" x1="0" y1="-68.0" x2="0" y2="68.0"><stop offset="0.000" stop-color="#808080"/><stop offset="0.125" stop-color="#a4a4a4"/><stop offset="0.250" stop-color="#a4a4a4"/><stop offset="0.375" stop-color="#a4a4a4"/><stop offset="0.500" stop-color="#a4a4a4"/><stop offset="0.625" stop-color="#a2a2a2"/><stop offset="0.750" stop-color="#969696"/><stop offset="0.875" stop-color="#8a8a8a"/><stop offset="1.000" stop-color="#767676"/></linearGradient><linearGradient id="dg42" gradientUnits="userSpaceOnUse" x1="0" y1="-68.0" x2="0" y2="68.0"><stop offset="0.000" stop-color="#979797"/><stop offset="0.125" stop-color="#c2c2c2"/><stop offset="0.250" stop-color="#c4c4c4"/><stop offset="0.375" stop-color="#c6c6c6"/><stop offset="0.500" stop-color="#c8c8c8"/><stop offset="0.625" stop-color="#c3c3c3"/><stop offset="0.750" stop-color="#b4b4b4"/><stop offset="0.875" stop-color="#a4a4a4"/><stop offset="1.000" stop-color="#8c8c8c"/></linearGradient><linearGradient id="dg43" gradientUnits="userSpaceOnUse" x1="0" y1="-68.0" x2="0" y2="68.0"><stop offset="0.000" stop-color="#979797"/><stop offset="0.125" stop-color="#c3c3c3"/><stop offset="0.250" stop-color="#c9c9c9"/><stop offset="0.375" stop-color="#cfcfcf"/><stop offset="0.500" stop-color="#d4d4d4"/><stop offset="0.625" stop-color="#cccccc"/><stop offset="0.750" stop-color="#b9b9b9"/><stop offset="0.875" stop-color="#a5a5a5"/><stop offset="1.000" stop-color="#8c8c8c"/></linearGradient><linearGradient id="dg44" gradientUnits="userSpaceOnUse" x1="0" y1="-68.0" x2="0" y2="68.0"><stop offset="0.000" stop-color="#979797"/><stop offset="0.125" stop-color="#c4c4c4"/><stop offset="0.250" stop-color="#cdcdcd"/><stop offset="0.375" stop-color="#d7d7d7"/><stop offset="0.500" stop-color="#e1e1e1"/><stop offset="0.625" stop-color="#d5d5d5"/><stop offset="0.750" stop-color="#bebebe"/><stop offset="0.875" stop-color="#a7a7a7"/><stop offset="1.000" stop-color="#8c8c8c"/></linearGradient><linearGradient id="dg45" gradientUnits="userSpaceOnUse" x1="0" y1="-68.0" x2="0" y2="68.0"><stop offset="0.000" stop-color="#979797"/><stop offset="0.125" stop-color="#c5c5c5"/><stop offset="0.250" stop-color="#d2d2d2"/><stop offset="0.375" stop-color="#e0e0e0"/><stop offset="0.500" stop-color="#ededed"/><stop offset="0.625" stop-color="#dddddd"/><stop offset="0.750" stop-color="#c3c3c3"/><stop offset="0.875" stop-color="#a8a8a8"/><stop offset="1.000" stop-color="#8c8c8c"/></linearGradient><linearGradient id="dg46" gradientUnits="userSpaceOnUse" x1="0" y1="-68.0" x2="0" y2="68.0"><stop offset="0.000" stop-color="#979797"/><stop offset="0.125" stop-color="#c5c5c5"/><stop offset="0.250" stop-color="#d7d7d7"/><stop offset="0.375" stop-color="#e8e8e8"/><stop offset="0.500" stop-color="#fafafa"/><stop offset="0.625" stop-color="#e6e6e6"/><stop offset="0.750" stop-color="#c8c8c8"/><stop offset="0.875" stop-color="#a9a9a9"/><stop offset="1.000" stop-color="#8c8c8c"/></linearGradient><linearGradient id="dg47" gradientUnits="userSpaceOnUse" x1="0" y1="-68.0" x2="0" y2="68.0"><stop offset="0.000" stop-color="#979797"/><stop offset="0.125" stop-color="#c6c6c6"/><stop offset="0.250" stop-color="#dbdbdb"/><stop offset="0.375" stop-color="#f1f1f1"/><stop offset="0.500" stop-color="#ffffff"/><stop offset="0.625" stop-color="#efefef"/><stop offset="0.750" stop-color="#cdcdcd"/><stop offset="0.875" stop-color="#ababab"/><stop offset="1.000" stop-color="#8c8c8c"/></linearGradient><linearGradient id="dg48" gradientUnits="userSpaceOnUse" x1="0" y1="-68.0" x2="0" y2="68.0"><stop offset="0.000" stop-color="#979797"/><stop offset="0.125" stop-color="#c7c7c7"/><stop offset="0.250" stop-color="#e0e0e0"/><stop offset="0.375" stop-color="#f9f9f9"/><stop offset="0.500" stop-color="#ffffff"/><stop offset="0.625" stop-color="#f8f8f8"/><stop offset="0.750" stop-color="#d2d2d2"/><stop offset="0.875" stop-color="#acacac"/><stop offset="1.000" stop-color="#8c8c8c"/></linearGradient><linearGradient id="dg49" gradientUnits="userSpaceOnUse" x1="0" y1="-68.0" x2="0" y2="68.0"><stop offset="0.000" stop-color="#979797"/><stop offset="0.125" stop-color="#c7c7c7"/><stop offset="0.250" stop-color="#e1e1e1"/><stop offset="0.375" stop-color="#fafafa"/><stop offset="0.500" stop-color="#ffffff"/><stop offset="0.625" stop-color="#f9f9f9"/><stop offset="0.750" stop-color="#d2d2d2"/><stop offset="0.875" stop-color="#acacac"/><stop offset="1.000" stop-color="#8c8c8c"/></linearGradient><linearGradient id="dg50" gradientUnits="userSpaceOnUse" x1="0" y1="-68.0" x2="0" y2="68.0"><stop offset="0.000" stop-color="#979797"/><stop offset="0.125" stop-color="#c6c6c6"/><stop offset="0.250" stop-color="#dddddd"/><stop offset="0.375" stop-color="#f3f3f3"/><stop offset="0.500" stop-color="#ffffff"/><stop offset="0.625" stop-color="#f2f2f2"/><stop offset="0.750" stop-color="#cecece"/><stop offset="0.875" stop-color="#ababab"/><stop offset="1.000" stop-color="#8c8c8c"/></linearGradient><linearGradient id="dg51" gradientUnits="userSpaceOnUse" x1="0" y1="-68.0" x2="0" y2="68.0"><stop offset="0.000" stop-color="#959595"/><stop offset="0.125" stop-color="#c3c3c3"/><stop offset="0.250" stop-color="#d7d7d7"/><stop offset="0.375" stop-color="#ebebeb"/><stop offset="0.500" stop-color="#fefefe"/><stop offset="0.625" stop-color="#e9e9e9"/><stop offset="0.750" stop-color="#c8c8c8"/><stop offset="0.875" stop-color="#a8a8a8"/><stop offset="1.000" stop-color="#8a8a8a"/></linearGradient><linearGradient id="dg52" gradientUnits="userSpaceOnUse" x1="0" y1="-68.0" x2="0" y2="68.0"><stop offset="0.000" stop-color="#929292"/><stop offset="0.125" stop-color="#bebebe"/><stop offset="0.250" stop-color="#cfcfcf"/><stop offset="0.375" stop-color="#dfdfdf"/><stop offset="0.500" stop-color="#f0f0f0"/><stop offset="0.625" stop-color="#dddddd"/><stop offset="0.750" stop-color="#c0c0c0"/><stop offset="0.875" stop-color="#a3a3a3"/><stop offset="1.000" stop-color="#878787"/></linearGradient><linearGradient id="dg53" gradientUnits="userSpaceOnUse" x1="0" y1="-68.0" x2="0" y2="68.0"><stop offset="0.000" stop-color="#8e8e8e"/><stop offset="0.125" stop-color="#b9b9b9"/><stop offset="0.250" stop-color="#c7c7c7"/><stop offset="0.375" stop-color="#d4d4d4"/><stop offset="0.500" stop-color="#e2e2e2"/><stop offset="0.625" stop-color="#d2d2d2"/><stop offset="0.750" stop-color="#b8b8b8"/><stop offset="0.875" stop-color="#9e9e9e"/><stop offset="1.000" stop-color="#838383"/></linearGradient><linearGradient id="dg54" gradientUnits="userSpaceOnUse" x1="0" y1="-68.0" x2="0" y2="68.0"><stop offset="0.000" stop-color="#8b8b8b"/><stop offset="0.125" stop-color="#b4b4b4"/><stop offset="0.250" stop-color="#bebebe"/><stop offset="0.375" stop-color="#c9c9c9"/><stop offset="0.500" stop-color="#d3d3d3"/><stop offset="0.625" stop-color="#c7c7c7"/><stop offset="0.750" stop-color="#b0b0b0"/><stop offset="0.875" stop-color="#999999"/><stop offset="1.000" stop-color="#808080"/></linearGradient><linearGradient id="dg55" gradientUnits="userSpaceOnUse" x1="0" y1="-68.0" x2="0" y2="68.0"><stop offset="0.000" stop-color="#878787"/><stop offset="0.125" stop-color="#afafaf"/><stop offset="0.250" stop-color="#b6b6b6"/><stop offset="0.375" stop-color="#bebebe"/><stop offset="0.500" stop-color="#c5c5c5"/><stop offset="0.625" stop-color="#bcbcbc"/><stop offset="0.750" stop-color="#a8a8a8"/><stop offset="0.875" stop-color="#959595"/><stop offset="1.000" stop-color="#7d7d7d"/></linearGradient><linearGradient id="dg56" gradientUnits="userSpaceOnUse" x1="0" y1="-68.0" x2="0" y2="68.0"><stop offset="0.000" stop-color="#838383"/><stop offset="0.125" stop-color="#a9a9a9"/><stop offset="0.250" stop-color="#aeaeae"/><stop offset="0.375" stop-color="#b2b2b2"/><stop offset="0.500" stop-color="#b7b7b7"/><stop offset="0.625" stop-color="#b0b0b0"/><stop offset="0.750" stop-color="#a0a0a0"/><stop offset="0.875" stop-color="#909090"/><stop offset="1.000" stop-color="#797979"/></linearGradient><linearGradient id="dg57" gradientUnits="userSpaceOnUse" x1="0" y1="-68.0" x2="0" y2="68.0"><stop offset="0.000" stop-color="#808080"/><stop offset="0.125" stop-color="#a4a4a4"/><stop offset="0.250" stop-color="#a6a6a6"/><stop offset="0.375" stop-color="#a7a7a7"/><stop offset="0.500" stop-color="#a9a9a9"/><stop offset="0.625" stop-color="#a5a5a5"/><stop offset="0.750" stop-color="#989898"/><stop offset="0.875" stop-color="#8b8b8b"/><stop offset="1.000" stop-color="#767676"/></linearGradient><linearGradient id="dg58" gradientUnits="userSpaceOnUse" x1="0" y1="-68.0" x2="0" y2="68.0"><stop offset="0.000" stop-color="#7c7c7c"/><stop offset="0.125" stop-color="#9f9f9f"/><stop offset="0.250" stop-color="#9f9f9f"/><stop offset="0.375" stop-color="#9f9f9f"/><stop offset="0.500" stop-color="#9f9f9f"/><stop offset="0.625" stop-color="#9d9d9d"/><stop offset="0.750" stop-color="#929292"/><stop offset="0.875" stop-color="#868686"/><stop offset="1.000" stop-color="#737373"/></linearGradient><linearGradient id="dg59" gradientUnits="userSpaceOnUse" x1="0" y1="-68.0" x2="0" y2="68.0"><stop offset="0.000" stop-color="#797979"/><stop offset="0.125" stop-color="#9b9b9b"/><stop offset="0.250" stop-color="#9b9b9b"/><stop offset="0.375" stop-color="#9b9b9b"/><stop offset="0.500" stop-color="#9b9b9b"/><stop offset="0.625" stop-color="#999999"/><stop offset="0.750" stop-color="#8e8e8e"/><stop offset="0.875" stop-color="#828282"/><stop offset="1.000" stop-color="#6f6f6f"/></linearGradient><linearGradient id="dg60" gradientUnits="userSpaceOnUse" x1="0" y1="-68.0" x2="0" y2="68.0"><stop offset="0.000" stop-color="#757575"/><stop offset="0.125" stop-color="#969696"/><stop offset="0.250" stop-color="#969696"/><stop offset="0.375" stop-color="#969696"/><stop offset="0.500" stop-color="#969696"/><stop offset="0.625" stop-color="#949494"/><stop offset="0.750" stop-color="#898989"/><stop offset="0.875" stop-color="#7f7f7f"/><stop offset="1.000" stop-color="#6c6c6c"/></linearGradient><linearGradient id="wedge" gradientUnits="userSpaceOnUse" x1="0" y1="-60" x2="0" y2="60"><stop offset="0" stop-color="#606060" stop-opacity="0.2"/><stop offset="0.45" stop-color="#606060" stop-opacity="0.7"/><stop offset="1" stop-color="#555" stop-opacity="0.5"/></linearGradient><linearGradient id="dg61" gradientUnits="userSpaceOnUse" x1="0" y1="-68.0" x2="0" y2="68.0"><stop offset="0.000" stop-color="#cccccc"/><stop offset="1.000" stop-color="#cccccc"/></linearGradient><linearGradient id="rimlo" gradientUnits="userSpaceOnUse" x1="0" y1="36" x2="0" y2="58"><stop offset="0" stop-color="#d6d6d6" stop-opacity="0"/><stop offset="0.4" stop-color="#dadada" stop-opacity="0.55"/><stop offset="0.75" stop-color="#c4c4c4" stop-opacity="0.85"/><stop offset="1" stop-color="#808080"/></linearGradient><linearGradient id="rimup" gradientUnits="userSpaceOnUse" x1="0" y1="-70" x2="0" y2="-46"><stop offset="0" stop-color="#7a7a7a"/><stop offset="0.3" stop-color="#9a9a9a" stop-opacity="0.85"/><stop offset="0.7" stop-color="#b8b8b8" stop-opacity="0.4"/><stop offset="1" stop-color="#c0c0c0" stop-opacity="0"/></linearGradient><filter id="grain" x="-5%" y="-5%" width="110%" height="110%"><feTurbulence type="fractalNoise" baseFrequency="0.8" numOctaves="2" seed="3" result="n"/><feColorMatrix in="n" type="matrix" values="1 0 0 0 0  1 0 0 0 0  1 0 0 0 0  0 0 0 0 0.22" result="g"/><feComposite in="g" in2="SourceAlpha" operator="in" result="gc"/><feMerge><feMergeNode in="SourceGraphic"/><feMergeNode in="gc"/></feMerge></filter><filter id="grainG" x="-5%" y="-5%" width="110%" height="110%"><feTurbulence type="fractalNoise" baseFrequency="1.1" numOctaves="2" seed="9" result="n"/><feColorMatrix in="n" type="matrix" values="1.2 0 0 0 0  1.1 0 0 0 0  0.6 0 0 0 0  0 0 0 0 0.30" result="g"/><feComposite in="g" in2="SourceAlpha" operator="in" result="gc"/><feMerge><feMergeNode in="SourceGraphic"/><feMergeNode in="gc"/></feMerge></filter><linearGradient id="lobeg" gradientUnits="userSpaceOnUse" x1="330" y1="240" x2="310" y2="275"><stop offset="0" stop-color="#8c8c8c"/><stop offset="0.5" stop-color="#a6a6a6"/><stop offset="1" stop-color="#b0b0b0"/></linearGradient><linearGradient id="lobeg2" gradientUnits="userSpaceOnUse" x1="238" y1="336" x2="262" y2="322"><stop offset="0" stop-color="#8a8a8a"/><stop offset="0.6" stop-color="#a8a8a8"/><stop offset="1" stop-color="#b6b6b6"/></linearGradient><clipPath id="cl_concrete"><circle cx="667.4" cy="161.2" r="92.4"/></clipPath><clipPath id="cl_stone"><circle cx="646.7" cy="427.5" r="92.4"/></clipPath><clipPath id="cl_brick"><circle cx="469.3" cy="625.3" r="92.4"/></clipPath><clipPath id="cl_cement"><circle cx="194.3" cy="663.4" r="92.4"/></clipPath><filter id="stonef" x="0" y="0" width="100%" height="100%"><feTurbulence type="fractalNoise" baseFrequency="0.2" numOctaves="3" seed="21" result="n"/><feColorMatrix in="n" type="matrix" values="1 0 0 0 0  1 0 0 0 0  1 0 0 0 0  0 0 0 0 1" result="g"/><feComposite in="SourceGraphic" in2="g" operator="arithmetic" k1="0.9" k2="0.55" k3="0" k4="0"/></filter><filter id="brickf" x="0" y="0" width="100%" height="100%"><feTurbulence type="fractalNoise" baseFrequency="0.16" numOctaves="3" seed="4" result="n"/><feColorMatrix in="n" type="matrix" values="1 0 0 0 0  1 0 0 0 0  1 0 0 0 0  0 0 0 0 1" result="g"/><feComposite in="SourceGraphic" in2="g" operator="arithmetic" k1="0.8" k2="0.6" k3="0" k4="0"/></filter><filter id="cemf" x="0" y="0" width="100%" height="100%"><feTurbulence type="fractalNoise" baseFrequency="0.1 0.45" numOctaves="3" seed="8" result="n"/><feColorMatrix in="n" type="matrix" values="1 0 0 0 0  1 0 0 0 0  1 0 0 0 0  0 0 0 0 1" result="g"/><feComposite in="SourceGraphic" in2="g" operator="arithmetic" k1="1.0" k2="0.5" k3="0" k4="0"/></filter><filter id="concf" x="0" y="0" width="100%" height="100%"><feTurbulence type="fractalNoise" baseFrequency="0.42" numOctaves="3" seed="5" result="n"/><feColorMatrix in="n" type="matrix" values="1.9 0 0 0 -0.45  1.9 0 0 0 -0.45  1.9 0 0 0 -0.45  0 0 0 0 1" result="g"/><feComposite in="SourceGraphic" in2="g" operator="arithmetic" k1="1" k2="0.5" k3="0" k4="0"/></filter><radialGradient id="concg" cx="0.42" cy="0.5" r="0.6"><stop offset="0" stop-color="#a0a0a0"/><stop offset="0.7" stop-color="#969696"/><stop offset="1" stop-color="#858585"/></radialGradient></defs>
</svg></body></html>
